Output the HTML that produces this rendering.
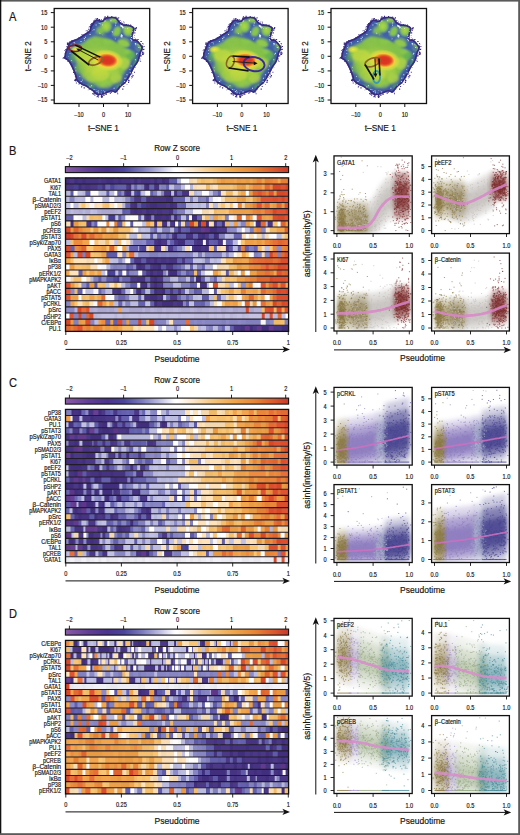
<!DOCTYPE html><html><head><meta charset="utf-8"><style>html,body{margin:0;padding:0;background:#fff;overflow:hidden}svg{display:block}text{font-family:"Liberation Sans",sans-serif;fill:#151515;stroke:#151515;stroke-width:0.18px}</style></head><body>
<svg width="520" height="835" viewBox="0 0 520 835">
<rect width="520" height="835" fill="#fff"/>
<defs>
<clipPath id="bc"><path d="M10.2 48.0C10.5 47.0 10.4 45.2 11.0 43.4C11.6 41.6 13.2 38.5 13.8 37.0C14.4 35.5 14.0 35.1 14.8 34.2C15.6 33.3 17.0 32.6 18.5 31.8C20.0 31.0 22.2 30.5 24.0 29.5C25.8 28.5 27.7 27.0 29.5 25.8C31.3 24.6 33.9 23.4 35.0 22.2C36.1 21.0 35.4 19.9 36.0 18.5C36.6 17.1 37.7 15.1 38.8 13.8C39.9 12.6 41.0 11.3 42.5 11.0C44.0 10.7 46.6 12.3 48.0 12.0C49.4 11.7 49.6 9.8 50.8 9.2C52.0 8.6 53.6 8.4 55.4 8.3C57.2 8.2 60.1 8.0 61.8 8.8C63.5 9.6 64.3 11.8 65.5 13.0C66.7 14.2 67.5 15.1 69.2 15.7C70.9 16.3 73.9 16.0 75.7 16.6C77.5 17.2 79.7 18.2 80.3 19.4C80.9 20.6 79.7 22.1 79.4 24.0C79.1 25.9 77.9 29.3 78.5 30.5C79.1 31.7 81.5 30.3 83.0 31.4C84.5 32.5 86.8 35.5 87.7 37.0C88.6 38.5 88.8 39.4 88.6 40.6C88.4 41.8 87.2 43.1 86.8 44.3C86.3 45.5 86.4 46.5 85.9 48.0C85.4 49.5 84.9 51.7 84.0 53.5C83.1 55.3 81.4 57.1 80.3 59.0C79.2 60.9 78.4 62.9 77.5 64.6C76.6 66.3 75.9 67.5 74.8 69.2C73.7 70.9 72.4 73.2 71.0 74.8C69.6 76.3 68.0 77.0 66.5 78.5C65.0 80.0 63.3 83.2 61.8 84.0C60.2 84.8 58.9 82.8 57.2 83.0C55.5 83.2 53.2 84.5 51.7 85.0C50.2 85.5 49.2 85.6 48.0 85.9C46.8 86.2 45.5 87.0 44.3 86.8C43.1 86.6 41.5 85.6 40.6 85.0C39.7 84.4 40.2 84.1 38.8 83.0C37.4 81.9 34.1 79.6 32.3 78.5C30.4 77.4 29.4 77.7 27.7 76.6C26.0 75.5 23.3 73.4 22.2 72.0C21.1 70.6 21.8 70.1 21.2 68.3C20.6 66.5 19.7 63.6 18.5 61.0C17.3 58.4 15.4 54.5 13.8 52.6C12.2 50.7 9.8 50.2 9.2 49.4C8.6 48.6 9.9 49.0 10.2 48.0Z"/></clipPath>
<filter id="b1" x="-20%" y="-20%" width="140%" height="140%"><feGaussianBlur stdDeviation="1.6"/></filter>
<filter id="b2" x="-50%" y="-50%" width="200%" height="200%"><feGaussianBlur stdDeviation="0.9"/></filter>
<filter id="b3" x="-50%" y="-50%" width="200%" height="200%"><feGaussianBlur stdDeviation="2.5"/></filter>
<radialGradient id="hot"><stop offset="0" stop-color="#d83020"/><stop offset="0.3" stop-color="#e0402a"/><stop offset="0.48" stop-color="#ee862c"/><stop offset="0.62" stop-color="#f4d23a" stop-opacity="0.95"/><stop offset="0.82" stop-color="#dce042" stop-opacity="0.6"/><stop offset="1" stop-color="#c8dc44" stop-opacity="0"/></radialGradient>
<radialGradient id="ylw"><stop offset="0" stop-color="#f4e63c"/><stop offset="0.5" stop-color="#d6e040" stop-opacity="0.8"/><stop offset="1" stop-color="#c0d840" stop-opacity="0"/></radialGradient>
<radialGradient id="yg"><stop offset="0" stop-color="#d4e03c"/><stop offset="0.6" stop-color="#c0d840" stop-opacity="0.7"/><stop offset="1" stop-color="#a0cc46" stop-opacity="0"/></radialGradient>
<g id="blob">
<g clip-path="url(#bc)">
<path d="M10.2 48.0C10.5 47.0 10.4 45.2 11.0 43.4C11.6 41.6 13.2 38.5 13.8 37.0C14.4 35.5 14.0 35.1 14.8 34.2C15.6 33.3 17.0 32.6 18.5 31.8C20.0 31.0 22.2 30.5 24.0 29.5C25.8 28.5 27.7 27.0 29.5 25.8C31.3 24.6 33.9 23.4 35.0 22.2C36.1 21.0 35.4 19.9 36.0 18.5C36.6 17.1 37.7 15.1 38.8 13.8C39.9 12.6 41.0 11.3 42.5 11.0C44.0 10.7 46.6 12.3 48.0 12.0C49.4 11.7 49.6 9.8 50.8 9.2C52.0 8.6 53.6 8.4 55.4 8.3C57.2 8.2 60.1 8.0 61.8 8.8C63.5 9.6 64.3 11.8 65.5 13.0C66.7 14.2 67.5 15.1 69.2 15.7C70.9 16.3 73.9 16.0 75.7 16.6C77.5 17.2 79.7 18.2 80.3 19.4C80.9 20.6 79.7 22.1 79.4 24.0C79.1 25.9 77.9 29.3 78.5 30.5C79.1 31.7 81.5 30.3 83.0 31.4C84.5 32.5 86.8 35.5 87.7 37.0C88.6 38.5 88.8 39.4 88.6 40.6C88.4 41.8 87.2 43.1 86.8 44.3C86.3 45.5 86.4 46.5 85.9 48.0C85.4 49.5 84.9 51.7 84.0 53.5C83.1 55.3 81.4 57.1 80.3 59.0C79.2 60.9 78.4 62.9 77.5 64.6C76.6 66.3 75.9 67.5 74.8 69.2C73.7 70.9 72.4 73.2 71.0 74.8C69.6 76.3 68.0 77.0 66.5 78.5C65.0 80.0 63.3 83.2 61.8 84.0C60.2 84.8 58.9 82.8 57.2 83.0C55.5 83.2 53.2 84.5 51.7 85.0C50.2 85.5 49.2 85.6 48.0 85.9C46.8 86.2 45.5 87.0 44.3 86.8C43.1 86.6 41.5 85.6 40.6 85.0C39.7 84.4 40.2 84.1 38.8 83.0C37.4 81.9 34.1 79.6 32.3 78.5C30.4 77.4 29.4 77.7 27.7 76.6C26.0 75.5 23.3 73.4 22.2 72.0C21.1 70.6 21.8 70.1 21.2 68.3C20.6 66.5 19.7 63.6 18.5 61.0C17.3 58.4 15.4 54.5 13.8 52.6C12.2 50.7 9.8 50.2 9.2 49.4C8.6 48.6 9.9 49.0 10.2 48.0Z" fill="#84c04c" stroke="#3e5ca6" stroke-width="14" filter="url(#b1)"/>
<ellipse cx="30" cy="47" rx="9" ry="6" fill="#c4da42" opacity="0.8" filter="url(#b2)"/>
<ellipse cx="46" cy="66" rx="9" ry="7" fill="#c0d844" opacity="0.7" filter="url(#b2)"/>
<ellipse cx="62" cy="70" rx="6" ry="5" fill="#b4d446" opacity="0.7" filter="url(#b2)"/>
<ellipse cx="70" cy="55" rx="6" ry="6" fill="#b8d646" opacity="0.7" filter="url(#b2)"/>
<ellipse cx="26" cy="60" rx="6" ry="5" fill="#5eae54" opacity="0.7" filter="url(#b2)"/>
<ellipse cx="77" cy="47" rx="5" ry="4" fill="#5cae54" opacity="0.7" filter="url(#b2)"/>
<ellipse cx="36" cy="78" rx="5" ry="3" fill="#5aac56" opacity="0.6" filter="url(#b2)"/>
<ellipse cx="66" cy="78" rx="5" ry="3" fill="#5aac56" opacity="0.6" filter="url(#b2)"/>
<ellipse cx="18" cy="50" rx="3" ry="4" fill="#5aac56" opacity="0.6" filter="url(#b2)"/>
<ellipse cx="82" cy="56" rx="3" ry="6" fill="#5aac56" opacity="0.6" filter="url(#b2)"/>
<ellipse cx="52" cy="76" rx="6" ry="4" fill="#98cc4a" opacity="0.6" filter="url(#b2)"/>
<ellipse cx="40" cy="34" rx="8" ry="4" fill="#8cc44c" opacity="0.6" filter="url(#b2)"/>
<g filter="url(#b2)">
<path d="M46 14 C56 10 70 12 80 20 L82 34 C86 38 88 44 82 44 L72 40 C66 36 60 32 54 30 C50 26 46 20 46 14Z" fill="#3f5ea8"/>
<ellipse cx="59.5" cy="11" rx="4.2" ry="3.2" transform="rotate(0 59.5 11)" fill="#88c64c"/>
<ellipse cx="51.7" cy="17.7" rx="5.4" ry="6.2" transform="rotate(0 51.7 17.7)" fill="#88c64c"/>
<ellipse cx="62.6" cy="23.4" rx="3.6" ry="5.8" transform="rotate(25 62.6 23.4)" fill="#88c64c"/>
<ellipse cx="74" cy="21.8" rx="5.2" ry="5.6" transform="rotate(0 74 21.8)" fill="#88c64c"/>
<ellipse cx="69.8" cy="33.8" rx="6.4" ry="4.0" transform="rotate(20 69.8 33.8)" fill="#88c64c"/>
<ellipse cx="85.4" cy="38.6" rx="3.6" ry="3.6" transform="rotate(0 85.4 38.6)" fill="#88c64c"/>
<ellipse cx="73" cy="43" rx="3" ry="2.5" transform="rotate(0 73 43)" fill="#88c64c"/>
<ellipse cx="53" cy="33" rx="4.5" ry="3.5" transform="rotate(0 53 33)" fill="#88c64c"/>
<ellipse cx="51.7" cy="17.7" rx="2.5" ry="3" transform="rotate(0 51.7 17.7)" fill="#a8d448"/>
<ellipse cx="74" cy="21.8" rx="2.4" ry="2.6" transform="rotate(0 74 21.8)" fill="#a8d448"/>
<ellipse cx="69.8" cy="33.8" rx="3" ry="1.8" transform="rotate(20 69.8 33.8)" fill="#a8d448"/>
</g>
<path d="M66.5 14.5 l2.6 1.6 l-0.4 3.6 l-2.6 -2.2z M66.8 25.5 l1.8 1.2 l-0.6 3 l-1.8 -1.2z M77.5 27 l3.2 1.2 l-1.4 3z M60.5 29 l1.5 1 l-1.2 1.5z M80.5 34.5 l2 1 l-1.5 2z M57.5 22.5 l1.2 0.8 l-0.8 1.2z M45 24 l1.5 .8 l-1 1.2z M48 26 l1.2 .5 l-.6 1z M61 16 l1 .6 l-.8 .8z" fill="#fff" opacity="0.95"/>
<ellipse cx="44" cy="56" rx="26" ry="20" fill="url(#yg)" opacity="0.85" filter="url(#b3)"/>
<path d="M36 24.5 C44 27 54 28.5 62 29.5 C70 30.5 77 34 85 41" fill="none" stroke="#4466aa" stroke-width="3.2" stroke-linecap="round" opacity="0.9" filter="url(#b2)"/>
<ellipse cx="69.8" cy="34.3" rx="5.4" ry="3.3" transform="rotate(20 69.8 34.3)" fill="#90c84c" filter="url(#b2)"/>
<ellipse cx="22" cy="41" rx="7" ry="4" fill="url(#ylw)"/>
<ellipse cx="37" cy="70" rx="5" ry="4" fill="#a8d048" opacity="0.6" filter="url(#b2)"/>
<ellipse cx="60" cy="63" rx="5" ry="4" fill="#a8d048" opacity="0.5" filter="url(#b2)"/>
<ellipse cx="53" cy="51.8" rx="17" ry="11" fill="url(#hot)" transform="rotate(8 53 51.8)"/>
<ellipse cx="54" cy="51.8" rx="7.5" ry="4.6" fill="#da3624" opacity="0.75" filter="url(#b2)"/>
<path d="M10.2 48.0C10.5 47.0 10.4 45.2 11.0 43.4C11.6 41.6 13.2 38.5 13.8 37.0C14.4 35.5 14.0 35.1 14.8 34.2C15.6 33.3 17.0 32.6 18.5 31.8C20.0 31.0 22.2 30.5 24.0 29.5C25.8 28.5 27.7 27.0 29.5 25.8C31.3 24.6 33.9 23.4 35.0 22.2C36.1 21.0 35.4 19.9 36.0 18.5C36.6 17.1 37.7 15.1 38.8 13.8C39.9 12.6 41.0 11.3 42.5 11.0C44.0 10.7 46.6 12.3 48.0 12.0C49.4 11.7 49.6 9.8 50.8 9.2C52.0 8.6 53.6 8.4 55.4 8.3C57.2 8.2 60.1 8.0 61.8 8.8C63.5 9.6 64.3 11.8 65.5 13.0C66.7 14.2 67.5 15.1 69.2 15.7C70.9 16.3 73.9 16.0 75.7 16.6C77.5 17.2 79.7 18.2 80.3 19.4C80.9 20.6 79.7 22.1 79.4 24.0C79.1 25.9 77.9 29.3 78.5 30.5C79.1 31.7 81.5 30.3 83.0 31.4C84.5 32.5 86.8 35.5 87.7 37.0C88.6 38.5 88.8 39.4 88.6 40.6C88.4 41.8 87.2 43.1 86.8 44.3C86.3 45.5 86.4 46.5 85.9 48.0C85.4 49.5 84.9 51.7 84.0 53.5C83.1 55.3 81.4 57.1 80.3 59.0C79.2 60.9 78.4 62.9 77.5 64.6C76.6 66.3 75.9 67.5 74.8 69.2C73.7 70.9 72.4 73.2 71.0 74.8C69.6 76.3 68.0 77.0 66.5 78.5C65.0 80.0 63.3 83.2 61.8 84.0C60.2 84.8 58.9 82.8 57.2 83.0C55.5 83.2 53.2 84.5 51.7 85.0C50.2 85.5 49.2 85.6 48.0 85.9C46.8 86.2 45.5 87.0 44.3 86.8C43.1 86.6 41.5 85.6 40.6 85.0C39.7 84.4 40.2 84.1 38.8 83.0C37.4 81.9 34.1 79.6 32.3 78.5C30.4 77.4 29.4 77.7 27.7 76.6C26.0 75.5 23.3 73.4 22.2 72.0C21.1 70.6 21.8 70.1 21.2 68.3C20.6 66.5 19.7 63.6 18.5 61.0C17.3 58.4 15.4 54.5 13.8 52.6C12.2 50.7 9.8 50.2 9.2 49.4C8.6 48.6 9.9 49.0 10.2 48.0Z" fill="none" stroke="#3a2a82" stroke-width="3.2"/>
</g>
<path d="M67.6 14.7h1.2v1.2h-1.2zM38.2 84.6h1.0v1.0h-1.0zM47.0 88.3h1.2v1.2h-1.2zM48.6 86.5h0.8v0.8h-0.8zM55.0 83.3h0.6v0.6h-0.6zM46.6 10.7h1.0v1.0h-1.0zM13.1 38.1h1.2v1.2h-1.2zM85.6 52.2h0.8v0.8h-0.8zM88.3 41.0h0.8v0.8h-0.8zM75.9 16.1h1.0v1.0h-1.0zM42.8 87.2h0.8v0.8h-0.8zM88.1 34.6h1.0v1.0h-1.0zM34.5 79.9h1.0v1.0h-1.0zM43.7 87.9h1.0v1.0h-1.0zM80.8 19.4h1.2v1.2h-1.2zM26.2 28.4h0.8v0.8h-0.8zM80.4 58.2h0.6v0.6h-0.6zM86.5 47.0h1.0v1.0h-1.0zM60.6 83.4h0.6v0.6h-0.6zM51.6 85.1h1.2v1.2h-1.2zM79.7 22.3h0.6v0.6h-0.6zM86.4 32.4h1.2v1.2h-1.2zM87.3 46.7h0.6v0.6h-0.6zM26.8 78.0h1.0v1.0h-1.0zM79.8 63.3h1.0v1.0h-1.0zM55.6 84.0h1.2v1.2h-1.2zM39.9 84.9h0.8v0.8h-0.8zM16.8 32.5h1.0v1.0h-1.0zM33.6 81.2h0.6v0.6h-0.6zM40.2 86.2h1.0v1.0h-1.0zM73.5 16.0h1.0v1.0h-1.0zM83.5 30.4h1.0v1.0h-1.0zM78.5 29.2h0.6v0.6h-0.6zM41.8 85.4h0.8v0.8h-0.8zM67.3 12.7h0.6v0.6h-0.6zM31.5 22.0h0.8v0.8h-0.8zM76.9 69.7h0.6v0.6h-0.6zM61.3 8.1h0.8v0.8h-0.8zM33.9 20.3h1.0v1.0h-1.0zM43.6 86.7h0.6v0.6h-0.6zM40.3 85.0h1.0v1.0h-1.0zM73.9 71.6h1.2v1.2h-1.2zM42.4 88.0h0.8v0.8h-0.8zM27.4 77.2h0.8v0.8h-0.8zM12.9 34.4h1.0v1.0h-1.0zM50.4 85.4h0.6v0.6h-0.6zM36.0 19.5h0.8v0.8h-0.8zM78.3 62.0h0.6v0.6h-0.6zM45.2 11.4h0.6v0.6h-0.6zM17.2 31.5h1.0v1.0h-1.0zM35.9 15.7h1.2v1.2h-1.2zM16.1 33.3h0.6v0.6h-0.6zM38.5 15.1h1.2v1.2h-1.2zM17.4 32.3h1.2v1.2h-1.2zM15.1 32.5h0.6v0.6h-0.6zM14.2 36.7h0.6v0.6h-0.6zM8.4 49.3h1.0v1.0h-1.0zM44.2 10.9h1.2v1.2h-1.2zM70.7 15.5h0.6v0.6h-0.6zM37.0 14.6h1.2v1.2h-1.2zM27.4 27.6h1.2v1.2h-1.2zM85.8 46.7h1.2v1.2h-1.2zM15.4 33.0h1.0v1.0h-1.0zM81.1 59.0h0.6v0.6h-0.6zM78.7 18.8h1.2v1.2h-1.2zM64.0 8.8h1.0v1.0h-1.0zM87.9 44.1h1.0v1.0h-1.0zM35.3 17.4h1.2v1.2h-1.2zM20.6 67.7h0.6v0.6h-0.6zM39.1 84.3h0.8v0.8h-0.8zM56.7 83.0h1.2v1.2h-1.2zM50.3 9.3h0.6v0.6h-0.6zM12.1 37.7h1.0v1.0h-1.0zM13.8 33.9h0.8v0.8h-0.8zM32.7 24.0h0.6v0.6h-0.6zM46.7 87.2h0.6v0.6h-0.6zM21.1 71.8h1.2v1.2h-1.2zM71.9 15.6h1.0v1.0h-1.0zM46.5 86.0h0.8v0.8h-0.8zM44.6 10.4h1.2v1.2h-1.2zM40.7 10.1h0.8v0.8h-0.8zM42.7 9.6h1.2v1.2h-1.2zM36.7 17.2h1.0v1.0h-1.0zM65.3 11.5h1.0v1.0h-1.0zM18.8 63.4h1.0v1.0h-1.0zM10.1 41.5h0.8v0.8h-0.8zM49.6 10.3h1.2v1.2h-1.2zM40.0 11.3h0.8v0.8h-0.8zM47.8 88.1h0.6v0.6h-0.6zM86.3 52.6h0.6v0.6h-0.6zM72.5 75.8h0.6v0.6h-0.6zM69.6 14.0h0.8v0.8h-0.8zM49.7 8.9h0.6v0.6h-0.6zM70.1 16.2h0.8v0.8h-0.8zM24.5 28.9h1.0v1.0h-1.0zM13.1 35.7h1.0v1.0h-1.0zM9.8 47.9h1.2v1.2h-1.2zM20.0 71.2h1.2v1.2h-1.2zM37.6 16.1h1.0v1.0h-1.0zM22.3 30.4h1.0v1.0h-1.0zM87.9 43.1h1.2v1.2h-1.2zM80.7 21.6h1.0v1.0h-1.0zM32.4 21.4h0.6v0.6h-0.6zM88.0 37.1h0.8v0.8h-0.8zM20.6 70.4h0.8v0.8h-0.8zM88.3 43.8h0.6v0.6h-0.6zM41.9 10.0h1.2v1.2h-1.2zM46.9 86.2h1.2v1.2h-1.2zM79.9 28.4h0.6v0.6h-0.6zM49.6 86.1h0.6v0.6h-0.6zM76.7 17.6h0.8v0.8h-0.8zM14.1 35.6h1.0v1.0h-1.0zM77.3 68.1h1.0v1.0h-1.0zM62.5 83.0h1.0v1.0h-1.0zM40.5 84.6h0.6v0.6h-0.6zM42.5 87.5h0.8v0.8h-0.8zM39.0 85.5h0.8v0.8h-0.8zM49.7 86.5h0.8v0.8h-0.8zM81.5 18.4h1.2v1.2h-1.2zM88.5 45.4h1.0v1.0h-1.0zM24.3 75.0h1.0v1.0h-1.0zM70.9 74.9h0.6v0.6h-0.6zM33.0 22.0h1.2v1.2h-1.2zM49.4 9.8h0.8v0.8h-0.8zM12.7 34.1h1.2v1.2h-1.2zM34.5 18.3h0.8v0.8h-0.8zM37.4 16.5h0.6v0.6h-0.6zM64.0 10.1h0.6v0.6h-0.6zM86.2 32.6h0.8v0.8h-0.8zM27.9 25.6h0.6v0.6h-0.6zM87.7 37.0h0.6v0.6h-0.6zM52.9 7.3h1.2v1.2h-1.2zM78.7 30.8h0.6v0.6h-0.6zM44.5 10.6h0.6v0.6h-0.6zM48.5 85.8h1.2v1.2h-1.2zM80.0 23.7h1.2v1.2h-1.2zM14.1 34.8h1.0v1.0h-1.0zM76.9 67.7h0.8v0.8h-0.8zM10.6 44.3h1.0v1.0h-1.0zM51.0 85.2h0.8v0.8h-0.8zM39.9 84.1h0.6v0.6h-0.6zM36.3 18.0h1.2v1.2h-1.2zM85.6 50.5h0.6v0.6h-0.6zM67.3 13.6h0.6v0.6h-0.6zM62.9 9.3h0.8v0.8h-0.8zM35.4 21.1h0.6v0.6h-0.6zM81.3 19.6h1.2v1.2h-1.2zM79.8 26.6h0.6v0.6h-0.6zM87.6 38.2h1.2v1.2h-1.2zM27.6 27.6h0.6v0.6h-0.6zM18.1 60.2h0.6v0.6h-0.6zM21.4 70.4h1.2v1.2h-1.2zM88.7 35.4h0.6v0.6h-0.6zM87.7 45.4h1.2v1.2h-1.2zM50.4 9.8h1.2v1.2h-1.2zM46.6 87.5h1.2v1.2h-1.2zM50.3 7.8h1.2v1.2h-1.2zM89.0 40.3h1.2v1.2h-1.2zM78.2 66.6h1.2v1.2h-1.2zM87.9 38.0h1.2v1.2h-1.2zM39.0 11.9h1.2v1.2h-1.2zM27.2 25.8h0.6v0.6h-0.6zM81.1 29.9h0.6v0.6h-0.6zM77.7 67.9h1.0v1.0h-1.0zM88.6 40.6h0.6v0.6h-0.6zM85.5 34.6h0.6v0.6h-0.6zM69.1 13.0h0.8v0.8h-0.8zM38.9 82.8h1.0v1.0h-1.0zM57.0 7.4h1.2v1.2h-1.2zM82.9 30.8h0.8v0.8h-0.8zM73.9 70.0h0.6v0.6h-0.6zM38.0 84.9h0.8v0.8h-0.8zM24.1 28.8h0.6v0.6h-0.6zM20.7 71.0h1.0v1.0h-1.0zM85.4 51.4h0.6v0.6h-0.6zM75.3 68.4h0.6v0.6h-0.6zM74.5 71.8h1.0v1.0h-1.0zM89.4 37.4h1.0v1.0h-1.0zM21.8 30.4h1.0v1.0h-1.0zM15.4 33.2h0.6v0.6h-0.6zM70.6 15.9h0.8v0.8h-0.8zM29.4 78.8h1.2v1.2h-1.2zM88.8 44.0h1.2v1.2h-1.2zM68.0 80.0h1.2v1.2h-1.2zM79.1 24.1h0.6v0.6h-0.6zM12.7 38.7h0.6v0.6h-0.6zM25.1 74.4h0.8v0.8h-0.8zM12.7 35.6h1.0v1.0h-1.0zM39.1 13.2h1.2v1.2h-1.2zM77.2 64.9h1.0v1.0h-1.0zM87.6 44.1h1.2v1.2h-1.2zM69.1 77.6h1.0v1.0h-1.0zM80.6 20.2h1.0v1.0h-1.0zM69.4 14.7h0.6v0.6h-0.6zM37.8 15.6h0.6v0.6h-0.6zM47.8 12.4h1.2v1.2h-1.2zM47.9 85.9h0.6v0.6h-0.6zM78.0 17.5h0.6v0.6h-0.6zM35.3 80.3h1.0v1.0h-1.0zM64.6 81.0h0.6v0.6h-0.6zM11.0 40.5h0.8v0.8h-0.8zM43.4 86.2h1.2v1.2h-1.2zM47.5 85.6h0.6v0.6h-0.6zM12.7 40.3h1.2v1.2h-1.2zM73.8 73.3h1.2v1.2h-1.2zM44.2 11.6h0.8v0.8h-0.8zM47.5 87.6h1.2v1.2h-1.2zM73.9 70.9h1.0v1.0h-1.0zM43.0 87.1h1.2v1.2h-1.2zM63.0 84.8h1.0v1.0h-1.0zM10.8 41.2h0.6v0.6h-0.6zM9.7 48.4h1.2v1.2h-1.2zM21.3 67.5h1.2v1.2h-1.2zM21.5 70.6h1.0v1.0h-1.0zM85.5 49.8h0.6v0.6h-0.6zM80.4 30.5h1.0v1.0h-1.0zM13.8 36.6h0.6v0.6h-0.6zM28.0 27.0h0.6v0.6h-0.6zM21.7 74.1h1.0v1.0h-1.0zM13.3 52.4h1.2v1.2h-1.2z" fill="#3a2a82"/>
<path d="M66.2 17.3h0.6v0.6h-0.6zM48.8 81.5h0.6v0.6h-0.6zM16.1 38.7h0.8v0.8h-0.8zM73.1 19.4h0.8v0.8h-0.8zM35.3 78.1h1.0v1.0h-1.0zM29.9 31.2h0.8v0.8h-0.8zM59.4 79.2h1.0v1.0h-1.0zM80.9 34.5h1.0v1.0h-1.0zM75.3 60.7h0.8v0.8h-0.8zM19.9 33.8h0.8v0.8h-0.8zM70.6 19.8h0.6v0.6h-0.6zM42.4 82.6h0.8v0.8h-0.8zM72.3 65.7h1.0v1.0h-1.0zM44.0 83.9h0.8v0.8h-0.8zM43.6 81.7h0.8v0.8h-0.8zM50.4 82.9h0.8v0.8h-0.8zM45.8 14.9h0.8v0.8h-0.8zM20.3 34.9h0.8v0.8h-0.8zM18.8 33.9h0.6v0.6h-0.6zM44.8 14.5h0.8v0.8h-0.8zM29.6 29.4h1.0v1.0h-1.0zM76.5 57.1h1.0v1.0h-1.0zM82.2 44.4h1.0v1.0h-1.0zM40.1 81.0h0.6v0.6h-0.6zM16.5 38.7h0.6v0.6h-0.6zM47.2 81.9h0.6v0.6h-0.6zM46.6 84.2h0.8v0.8h-0.8zM43.7 14.3h0.6v0.6h-0.6zM21.3 62.0h0.8v0.8h-0.8zM41.4 16.1h1.0v1.0h-1.0zM70.1 72.6h0.8v0.8h-0.8zM68.2 19.0h1.0v1.0h-1.0zM13.8 47.7h0.6v0.6h-0.6zM26.3 32.6h1.0v1.0h-1.0zM35.4 25.5h1.0v1.0h-1.0zM82.3 44.2h1.0v1.0h-1.0zM76.3 30.6h1.0v1.0h-1.0zM16.6 36.3h0.8v0.8h-0.8zM41.5 80.5h0.6v0.6h-0.6zM49.8 83.1h0.8v0.8h-0.8zM26.5 72.6h1.0v1.0h-1.0zM49.5 13.2h0.6v0.6h-0.6zM39.3 20.8h1.0v1.0h-1.0zM30.8 28.3h1.0v1.0h-1.0zM76.8 31.8h1.0v1.0h-1.0zM76.4 26.4h0.8v0.8h-0.8zM15.4 44.5h0.8v0.8h-0.8zM38.3 22.0h0.6v0.6h-0.6zM61.2 14.1h1.0v1.0h-1.0zM76.8 28.6h1.0v1.0h-1.0zM21.3 58.8h0.6v0.6h-0.6zM81.8 45.5h0.8v0.8h-0.8zM50.3 12.1h1.0v1.0h-1.0zM85.8 38.4h0.6v0.6h-0.6zM77.5 31.8h0.6v0.6h-0.6zM83.3 35.4h0.6v0.6h-0.6zM56.2 11.8h1.0v1.0h-1.0zM39.3 80.8h0.8v0.8h-0.8zM80.7 50.7h1.0v1.0h-1.0zM84.2 38.5h1.0v1.0h-1.0zM69.0 18.2h1.0v1.0h-1.0zM66.0 76.3h0.6v0.6h-0.6zM27.9 71.3h0.8v0.8h-0.8zM75.6 63.8h1.0v1.0h-1.0zM78.1 22.4h0.8v0.8h-0.8zM48.0 15.9h0.8v0.8h-0.8zM36.9 76.7h1.0v1.0h-1.0zM44.0 82.9h0.8v0.8h-0.8zM70.3 69.2h1.0v1.0h-1.0zM72.3 69.2h0.6v0.6h-0.6zM15.4 41.8h0.8v0.8h-0.8zM25.2 67.5h0.8v0.8h-0.8zM17.3 37.5h0.6v0.6h-0.6zM17.0 51.8h0.8v0.8h-0.8z" fill="#fff" opacity="0.85"/>
</g>
</defs>
<use href="#blob" x="54.2" y="8.5"/>
<rect x="54.2" y="8.5" width="95.5" height="95" fill="none" stroke="#111" stroke-width="1.3"/>
<line x1="50.800000000000004" y1="12.6" x2="54.2" y2="12.6" stroke="#111" stroke-width="1"/>
<text transform="translate(47.3 15.0) scale(0.8 1)" font-size="7.0" text-anchor="end" >15</text>
<line x1="50.800000000000004" y1="27.2" x2="54.2" y2="27.2" stroke="#111" stroke-width="1"/>
<text transform="translate(47.3 29.6) scale(0.8 1)" font-size="7.0" text-anchor="end" >10</text>
<line x1="50.800000000000004" y1="41.8" x2="54.2" y2="41.8" stroke="#111" stroke-width="1"/>
<text transform="translate(47.3 44.2) scale(0.8 1)" font-size="7.0" text-anchor="end" >5</text>
<line x1="50.800000000000004" y1="56.3" x2="54.2" y2="56.3" stroke="#111" stroke-width="1"/>
<text transform="translate(47.3 58.7) scale(0.8 1)" font-size="7.0" text-anchor="end" >0</text>
<line x1="50.800000000000004" y1="70.9" x2="54.2" y2="70.9" stroke="#111" stroke-width="1"/>
<text transform="translate(47.3 73.3) scale(0.8 1)" font-size="7.0" text-anchor="end" >&#8211;5</text>
<line x1="50.800000000000004" y1="85.4" x2="54.2" y2="85.4" stroke="#111" stroke-width="1"/>
<text transform="translate(47.3 87.8) scale(0.8 1)" font-size="7.0" text-anchor="end" >&#8211;10</text>
<line x1="50.800000000000004" y1="100" x2="54.2" y2="100" stroke="#111" stroke-width="1"/>
<text transform="translate(47.3 102.4) scale(0.8 1)" font-size="7.0" text-anchor="end" >&#8211;15</text>
<line x1="79.0" y1="103.5" x2="79.0" y2="107.0" stroke="#111" stroke-width="1"/>
<text transform="translate(79.0 116.8) scale(0.8 1)" font-size="7.0" text-anchor="middle" >&#8211;10</text>
<line x1="103.5" y1="103.5" x2="103.5" y2="107.0" stroke="#111" stroke-width="1"/>
<text transform="translate(103.5 116.8) scale(0.8 1)" font-size="7.0" text-anchor="middle" >0</text>
<line x1="128.0" y1="103.5" x2="128.0" y2="107.0" stroke="#111" stroke-width="1"/>
<text transform="translate(128.0 116.8) scale(0.8 1)" font-size="7.0" text-anchor="middle" >10</text>
<text x="103.5" y="130.6" font-size="9" text-anchor="middle" textLength="31" lengthAdjust="spacingAndGlyphs">t&#8211;SNE 1</text>
<text x="31.300000000000004" y="56.3" font-size="9" text-anchor="middle" transform="rotate(-90 31.300000000000004 56.3)" textLength="30" lengthAdjust="spacingAndGlyphs">t&#8211;SNE 2</text>
<use href="#blob" x="192.6" y="8.5"/>
<rect x="192.6" y="8.5" width="95.5" height="95" fill="none" stroke="#111" stroke-width="1.3"/>
<line x1="189.2" y1="12.6" x2="192.6" y2="12.6" stroke="#111" stroke-width="1"/>
<text transform="translate(185.7 15.0) scale(0.8 1)" font-size="7.0" text-anchor="end" >15</text>
<line x1="189.2" y1="27.2" x2="192.6" y2="27.2" stroke="#111" stroke-width="1"/>
<text transform="translate(185.7 29.6) scale(0.8 1)" font-size="7.0" text-anchor="end" >10</text>
<line x1="189.2" y1="41.8" x2="192.6" y2="41.8" stroke="#111" stroke-width="1"/>
<text transform="translate(185.7 44.2) scale(0.8 1)" font-size="7.0" text-anchor="end" >5</text>
<line x1="189.2" y1="56.3" x2="192.6" y2="56.3" stroke="#111" stroke-width="1"/>
<text transform="translate(185.7 58.7) scale(0.8 1)" font-size="7.0" text-anchor="end" >0</text>
<line x1="189.2" y1="70.9" x2="192.6" y2="70.9" stroke="#111" stroke-width="1"/>
<text transform="translate(185.7 73.3) scale(0.8 1)" font-size="7.0" text-anchor="end" >&#8211;5</text>
<line x1="189.2" y1="85.4" x2="192.6" y2="85.4" stroke="#111" stroke-width="1"/>
<text transform="translate(185.7 87.8) scale(0.8 1)" font-size="7.0" text-anchor="end" >&#8211;10</text>
<line x1="189.2" y1="100" x2="192.6" y2="100" stroke="#111" stroke-width="1"/>
<text transform="translate(185.7 102.4) scale(0.8 1)" font-size="7.0" text-anchor="end" >&#8211;15</text>
<line x1="217.4" y1="103.5" x2="217.4" y2="107.0" stroke="#111" stroke-width="1"/>
<text transform="translate(217.4 116.8) scale(0.8 1)" font-size="7.0" text-anchor="middle" >&#8211;10</text>
<line x1="241.89999999999998" y1="103.5" x2="241.89999999999998" y2="107.0" stroke="#111" stroke-width="1"/>
<text transform="translate(241.9 116.8) scale(0.8 1)" font-size="7.0" text-anchor="middle" >0</text>
<line x1="266.4" y1="103.5" x2="266.4" y2="107.0" stroke="#111" stroke-width="1"/>
<text transform="translate(266.4 116.8) scale(0.8 1)" font-size="7.0" text-anchor="middle" >10</text>
<text x="241.89999999999998" y="130.6" font-size="9" text-anchor="middle" textLength="31" lengthAdjust="spacingAndGlyphs">t&#8211;SNE 1</text>
<text x="169.7" y="56.3" font-size="9" text-anchor="middle" transform="rotate(-90 169.7 56.3)" textLength="30" lengthAdjust="spacingAndGlyphs">t&#8211;SNE 2</text>
<use href="#blob" x="331.0" y="8.5"/>
<rect x="331.0" y="8.5" width="95.5" height="95" fill="none" stroke="#111" stroke-width="1.3"/>
<line x1="327.6" y1="12.6" x2="331.0" y2="12.6" stroke="#111" stroke-width="1"/>
<text transform="translate(324.1 15.0) scale(0.8 1)" font-size="7.0" text-anchor="end" >15</text>
<line x1="327.6" y1="27.2" x2="331.0" y2="27.2" stroke="#111" stroke-width="1"/>
<text transform="translate(324.1 29.6) scale(0.8 1)" font-size="7.0" text-anchor="end" >10</text>
<line x1="327.6" y1="41.8" x2="331.0" y2="41.8" stroke="#111" stroke-width="1"/>
<text transform="translate(324.1 44.2) scale(0.8 1)" font-size="7.0" text-anchor="end" >5</text>
<line x1="327.6" y1="56.3" x2="331.0" y2="56.3" stroke="#111" stroke-width="1"/>
<text transform="translate(324.1 58.7) scale(0.8 1)" font-size="7.0" text-anchor="end" >0</text>
<line x1="327.6" y1="70.9" x2="331.0" y2="70.9" stroke="#111" stroke-width="1"/>
<text transform="translate(324.1 73.3) scale(0.8 1)" font-size="7.0" text-anchor="end" >&#8211;5</text>
<line x1="327.6" y1="85.4" x2="331.0" y2="85.4" stroke="#111" stroke-width="1"/>
<text transform="translate(324.1 87.8) scale(0.8 1)" font-size="7.0" text-anchor="end" >&#8211;10</text>
<line x1="327.6" y1="100" x2="331.0" y2="100" stroke="#111" stroke-width="1"/>
<text transform="translate(324.1 102.4) scale(0.8 1)" font-size="7.0" text-anchor="end" >&#8211;15</text>
<line x1="355.8" y1="103.5" x2="355.8" y2="107.0" stroke="#111" stroke-width="1"/>
<text transform="translate(355.8 116.8) scale(0.8 1)" font-size="7.0" text-anchor="middle" >&#8211;10</text>
<line x1="380.3" y1="103.5" x2="380.3" y2="107.0" stroke="#111" stroke-width="1"/>
<text transform="translate(380.3 116.8) scale(0.8 1)" font-size="7.0" text-anchor="middle" >0</text>
<line x1="404.8" y1="103.5" x2="404.8" y2="107.0" stroke="#111" stroke-width="1"/>
<text transform="translate(404.8 116.8) scale(0.8 1)" font-size="7.0" text-anchor="middle" >10</text>
<text x="380.3" y="130.6" font-size="9" text-anchor="middle" textLength="31" lengthAdjust="spacingAndGlyphs">t&#8211;SNE 1</text>
<text x="308.1" y="56.3" font-size="9" text-anchor="middle" transform="rotate(-90 308.1 56.3)" textLength="30" lengthAdjust="spacingAndGlyphs">t&#8211;SNE 2</text>
<text transform="translate(8.9 20.6) scale(0.84 1)" font-size="13.2" text-anchor="start" >A</text>
<g transform="translate(54.2 8.5)"><ellipse cx="21" cy="39.8" rx="6.4" ry="3.2" fill="none" stroke="#8a1e1e" stroke-width="1.7"/><ellipse cx="41.5" cy="52.4" rx="7.4" ry="3.6" transform="rotate(-22 41.5 52.4)" fill="none" stroke="#8a6420" stroke-width="1.8"/><path d="M21 36.6 L46 48.6 M17 42.5 L35 56.5" stroke="#111" stroke-width="1.6" fill="none"/><path d="M44 51.5 L24 41" stroke="#111" stroke-width="0.9"/><path d="M22 40 l4 0.2 l-1.6 2.6z" fill="#111"/></g>
<g transform="translate(192.6 8.5)"><ellipse cx="37.8" cy="53.5" rx="3.6" ry="6" transform="rotate(20 37.8 53.5)" fill="none" stroke="#8a6420" stroke-width="1.7"/><ellipse cx="61.5" cy="55.6" rx="10.5" ry="7" transform="rotate(10 61.5 55.6)" fill="none" stroke="#3a2a9a" stroke-width="1.9"/><path d="M40 47.5 L57 48.6 M36 59.5 L56 62.4" stroke="#111" stroke-width="1.6" fill="none"/><path d="M40 53 L62 54.6" stroke="#222" stroke-width="1"/><path d="M65 54.8 l-4 -2 l0.2 4z" fill="#111"/></g>
<g transform="translate(331.0 8.5)"><ellipse cx="41.5" cy="53.8" rx="8" ry="4" transform="rotate(-20 41.5 53.8)" fill="none" stroke="#8a6420" stroke-width="1.7"/><ellipse cx="45.5" cy="68.5" rx="3.6" ry="6" fill="none" stroke="#3a9ab4" stroke-width="1.8"/><path d="M34 56 L43 71 M48 50 L49 67" stroke="#111" stroke-width="1.6" fill="none"/><path d="M44 50 L44.5 66" stroke="#111" stroke-width="1"/><path d="M44.5 69 l-2 -4 l4 0z" fill="#111"/></g>
<defs><linearGradient id="cbg"><stop offset="0.000" stop-color="#8a5ba6"/><stop offset="0.013" stop-color="#8558a4"/><stop offset="0.025" stop-color="#8054a2"/><stop offset="0.037" stop-color="#7b50a0"/><stop offset="0.050" stop-color="#764d9e"/><stop offset="0.062" stop-color="#714a9c"/><stop offset="0.075" stop-color="#6c469a"/><stop offset="0.088" stop-color="#674298"/><stop offset="0.100" stop-color="#623f96"/><stop offset="0.112" stop-color="#5f3d95"/><stop offset="0.125" stop-color="#5b3c94"/><stop offset="0.138" stop-color="#583a93"/><stop offset="0.150" stop-color="#543891"/><stop offset="0.162" stop-color="#513690"/><stop offset="0.175" stop-color="#4d358f"/><stop offset="0.188" stop-color="#4a338e"/><stop offset="0.200" stop-color="#4a3690"/><stop offset="0.213" stop-color="#4a3993"/><stop offset="0.225" stop-color="#4a3b95"/><stop offset="0.237" stop-color="#4a3e97"/><stop offset="0.250" stop-color="#4a419a"/><stop offset="0.263" stop-color="#4a449c"/><stop offset="0.275" stop-color="#524da1"/><stop offset="0.287" stop-color="#5955a6"/><stop offset="0.300" stop-color="#615eab"/><stop offset="0.312" stop-color="#6966b1"/><stop offset="0.325" stop-color="#716fb6"/><stop offset="0.338" stop-color="#7877bb"/><stop offset="0.350" stop-color="#8080c0"/><stop offset="0.362" stop-color="#8b8bc6"/><stop offset="0.375" stop-color="#9595cb"/><stop offset="0.388" stop-color="#a0a0d1"/><stop offset="0.400" stop-color="#ababd7"/><stop offset="0.412" stop-color="#b5b5dc"/><stop offset="0.425" stop-color="#c0c0e2"/><stop offset="0.438" stop-color="#cccce8"/><stop offset="0.450" stop-color="#d8d8ed"/><stop offset="0.463" stop-color="#e4e4f3"/><stop offset="0.475" stop-color="#f0f0f8"/><stop offset="0.487" stop-color="#fcfcfe"/><stop offset="0.500" stop-color="#ffffff"/><stop offset="0.512" stop-color="#fefbf6"/><stop offset="0.525" stop-color="#fef7ed"/><stop offset="0.537" stop-color="#fdf2e4"/><stop offset="0.550" stop-color="#fceeda"/><stop offset="0.562" stop-color="#fcead1"/><stop offset="0.575" stop-color="#fbe6c8"/><stop offset="0.588" stop-color="#fae1bd"/><stop offset="0.600" stop-color="#f9dcb2"/><stop offset="0.613" stop-color="#f8d8a6"/><stop offset="0.625" stop-color="#f8d39b"/><stop offset="0.637" stop-color="#f7ce90"/><stop offset="0.650" stop-color="#f6c985"/><stop offset="0.662" stop-color="#f5c57e"/><stop offset="0.675" stop-color="#f4c177"/><stop offset="0.688" stop-color="#f3bd70"/><stop offset="0.700" stop-color="#f2b86a"/><stop offset="0.713" stop-color="#f2b463"/><stop offset="0.725" stop-color="#f1b05c"/><stop offset="0.738" stop-color="#f0ac55"/><stop offset="0.750" stop-color="#efa84e"/><stop offset="0.762" stop-color="#eea44b"/><stop offset="0.775" stop-color="#ed9f48"/><stop offset="0.787" stop-color="#ec9b45"/><stop offset="0.800" stop-color="#ea9642"/><stop offset="0.812" stop-color="#e9923f"/><stop offset="0.825" stop-color="#e88e3c"/><stop offset="0.838" stop-color="#e78939"/><stop offset="0.850" stop-color="#e68536"/><stop offset="0.863" stop-color="#e47e35"/><stop offset="0.875" stop-color="#e37833"/><stop offset="0.887" stop-color="#e17132"/><stop offset="0.900" stop-color="#df6b31"/><stop offset="0.912" stop-color="#de642f"/><stop offset="0.925" stop-color="#dc5e2e"/><stop offset="0.938" stop-color="#d9582e"/><stop offset="0.950" stop-color="#d6522d"/><stop offset="0.963" stop-color="#d24b2c"/><stop offset="0.975" stop-color="#cf452c"/><stop offset="0.988" stop-color="#cc3f2c"/><stop offset="1.000" stop-color="#c9392b"/></linearGradient></defs>
<text transform="translate(8.9 155.4) scale(0.84 1)" font-size="13.2" text-anchor="start" >B</text>
<rect x="65.4" y="166.6" width="223.2" height="6.0" fill="url(#cbg)" stroke="#111" stroke-width="1.1"/>
<line x1="69.4" y1="163.2" x2="69.4" y2="166.6" stroke="#111" stroke-width="0.9"/>
<text transform="translate(69.4 159.8) scale(0.8 1)" font-size="7.0" text-anchor="middle" >&#8211;2</text>
<line x1="123.6" y1="163.2" x2="123.6" y2="166.6" stroke="#111" stroke-width="0.9"/>
<text transform="translate(123.6 159.8) scale(0.8 1)" font-size="7.0" text-anchor="middle" >&#8211;1</text>
<line x1="177.5" y1="163.2" x2="177.5" y2="166.6" stroke="#111" stroke-width="0.9"/>
<text transform="translate(177.5 159.8) scale(0.8 1)" font-size="7.0" text-anchor="middle" >0</text>
<line x1="231.5" y1="163.2" x2="231.5" y2="166.6" stroke="#111" stroke-width="0.9"/>
<text transform="translate(231.5 159.8) scale(0.8 1)" font-size="7.0" text-anchor="middle" >1</text>
<line x1="285.7" y1="163.2" x2="285.7" y2="166.6" stroke="#111" stroke-width="0.9"/>
<text transform="translate(285.7 159.8) scale(0.8 1)" font-size="7.0" text-anchor="middle" >2</text>
<text x="177.1" y="151.2" font-size="9" text-anchor="middle" textLength="45.8" lengthAdjust="spacingAndGlyphs">Row Z score</text>
<path stroke="#412f7d" stroke-width="6.24" d="M65.5 180.97h5.0M73.5 180.97h5.0M81.4 180.97h5.0M105.3 180.97h9.0M117.3 180.97h5.0M133.2 180.97h5.0M153.1 180.97h5.0M161.1 180.97h5.0M77.5 187.11h5.0M145.2 187.11h5.0M125.3 193.25h5.0M169.1 193.25h3.0M165.1 199.39h9.0M133.2 205.53h5.0M149.2 205.53h9.0M169.1 205.53h5.0M133.2 211.67h5.0M145.2 211.67h5.0M145.2 217.81h5.0M153.1 217.81h9.0M165.1 217.81h5.0M173.1 217.81h5.0M191.0 217.81h7.0M69.5 223.95h5.0M173.1 223.95h3.0M197.0 223.95h5.0M204.9 223.95h5.0M256.7 223.95h5.0M208.9 230.09h9.0M224.9 230.09h3.0M173.1 236.23h5.0M201.0 236.23h5.0M212.9 236.23h5.0M157.1 242.37h5.0M177.1 242.37h9.0M201.0 242.37h3.0M167.1 248.51h3.0M193.0 248.51h9.0M153.1 260.79h5.0M137.2 266.93h5.0M157.1 266.93h5.0M149.2 273.07h5.0M169.1 273.07h9.0M153.1 279.21h5.0M195.0 279.21h7.0M145.2 285.35h3.0M153.1 285.35h5.0M161.1 285.35h3.0M111.3 291.49h3.0M137.2 291.49h5.0M153.1 291.49h5.0M161.1 291.49h5.0M149.2 297.63h9.0M153.1 303.77h5.0M161.1 303.77h13.0M248.8 328.33h5.0M260.7 328.33h9.0M280.6 328.33h8.0"/>
<path stroke="#4b3987" stroke-width="6.24" d="M69.5 180.97h5.0M97.4 180.97h5.0M129.2 180.97h5.0M137.2 180.97h5.0M149.2 180.97h5.0M157.1 180.97h5.0M65.5 187.11h9.0M81.4 187.11h5.0M89.4 187.11h9.0M125.3 187.11h5.0M123.3 193.25h3.0M163.1 193.25h7.0M133.2 199.39h9.0M149.2 199.39h5.0M165.1 205.53h5.0M141.2 211.67h5.0M153.1 211.67h5.0M161.1 211.67h9.0M143.2 217.81h3.0M169.1 217.81h3.0M85.4 223.95h7.0M169.1 223.95h5.0M212.9 223.95h5.0M266.7 223.95h7.0M189.0 230.09h13.0M216.9 230.09h9.0M171.1 236.23h3.0M204.9 236.23h5.0M161.1 242.37h7.0M173.1 242.37h5.0M193.0 242.37h5.0M216.9 242.37h7.0M157.1 248.51h5.0M169.1 248.51h5.0M191.0 248.51h3.0M201.0 248.51h5.0M224.9 248.51h5.0M133.2 260.79h9.0M149.2 260.79h5.0M157.1 260.79h5.0M165.1 260.79h5.0M181.0 260.79h5.0M149.2 266.93h5.0M165.1 266.93h9.0M145.2 273.07h5.0M153.1 273.07h5.0M129.2 279.21h9.0M157.1 279.21h7.0M139.2 285.35h3.0M149.2 285.35h5.0M157.1 285.35h5.0M199.0 285.35h3.0M204.9 285.35h3.0M113.3 291.49h5.0M169.1 291.49h5.0M177.1 291.49h5.0M143.2 297.63h3.0M157.1 297.63h5.0M169.1 297.63h9.0M157.1 303.77h5.0M173.1 303.77h5.0M181.0 303.77h3.0M232.8 328.33h9.0M252.7 328.33h5.0M272.7 328.33h9.0"/>
<path stroke="#463482" stroke-width="6.24" d="M77.5 180.97h5.0M85.4 180.97h13.0M101.4 180.97h5.0M113.3 180.97h5.0M121.3 180.97h9.0M141.2 180.97h9.0M165.1 180.97h5.0M85.4 187.11h5.0M101.4 187.11h5.0M129.2 187.11h3.0M143.2 187.11h3.0M153.1 187.11h7.0M129.2 193.25h3.0M173.1 193.25h5.0M181.0 193.25h9.0M145.2 199.39h5.0M153.1 199.39h13.0M129.2 205.53h5.0M145.2 205.53h5.0M157.1 205.53h9.0M173.1 205.53h5.0M129.2 211.67h5.0M137.2 211.67h5.0M149.2 211.67h5.0M157.1 211.67h5.0M169.1 211.67h5.0M149.2 217.81h3.0M161.1 217.81h5.0M153.1 223.95h5.0M161.1 223.95h7.0M220.9 223.95h5.0M254.7 223.95h3.0M177.1 230.09h5.0M185.0 236.23h9.0M197.0 236.23h5.0M216.9 236.23h3.0M153.1 242.37h5.0M197.0 242.37h5.0M204.9 242.37h5.0M153.1 248.51h5.0M204.9 248.51h5.0M145.2 260.79h5.0M161.1 260.79h5.0M169.1 260.79h9.0M135.2 266.93h3.0M141.2 266.93h5.0M153.1 266.93h5.0M157.1 273.07h7.0M167.1 273.07h3.0M137.2 279.21h9.0M149.2 279.21h5.0M141.2 285.35h5.0M201.0 285.35h5.0M117.3 291.49h5.0M135.2 291.49h3.0M157.1 291.49h5.0M145.2 297.63h5.0M161.1 297.63h3.0M177.1 303.77h5.0M240.8 328.33h5.0"/>
<path stroke="#5f5ba9" stroke-width="6.24" d="M169.1 180.97h9.0M113.3 187.11h5.0M69.5 193.25h5.0M137.2 205.53h5.0M121.3 211.67h5.0M69.5 217.81h5.0M117.3 217.81h5.0M177.1 217.81h5.0M185.0 217.81h5.0M129.2 223.95h5.0M177.1 223.95h5.0M173.1 230.09h5.0M185.0 230.09h5.0M149.2 236.23h5.0M177.1 236.23h5.0M208.9 236.23h5.0M212.9 242.37h5.0M212.9 248.51h5.0M228.8 248.51h5.0M236.8 248.51h5.0M105.3 254.65h13.0M141.2 260.79h5.0M125.3 266.93h5.0M145.2 266.93h5.0M161.1 266.93h5.0M173.1 266.93h5.0M125.3 273.07h5.0M141.2 273.07h5.0M185.0 273.07h5.0M224.9 273.07h5.0M97.4 279.21h5.0M105.3 279.21h9.0M85.4 285.35h5.0M93.4 285.35h5.0M129.2 285.35h9.0M141.2 291.49h5.0M149.2 291.49h5.0M165.1 291.49h5.0M173.1 291.49h5.0M193.0 291.49h5.0M212.9 291.49h5.0M201.0 297.63h9.0M185.0 303.77h5.0"/>
<path stroke="#b7b7db" stroke-width="6.24" d="M177.1 180.97h5.0M189.0 187.11h5.0M65.5 193.25h5.0M81.4 193.25h5.0M193.0 193.25h5.0M65.5 199.39h5.0M73.5 199.39h5.0M81.4 199.39h5.0M89.4 199.39h5.0M101.4 199.39h9.0M121.3 199.39h5.0M121.3 205.53h5.0M185.0 205.53h9.0M197.0 205.53h5.0M81.4 211.67h5.0M189.0 211.67h5.0M208.9 217.81h5.0M167.1 223.95h3.0M236.8 223.95h5.0M264.7 223.95h3.0M137.2 230.09h5.0M169.1 230.09h5.0M133.2 236.23h5.0M153.1 236.23h5.0M260.7 236.23h5.0M129.2 242.37h5.0M125.3 248.51h5.0M137.2 248.51h3.0M181.0 248.51h5.0M201.0 254.65h5.0M121.3 260.79h5.0M201.0 260.79h5.0M212.9 260.79h5.0M208.9 266.93h5.0M165.1 273.07h3.0M89.4 279.21h5.0M169.1 279.21h5.0M193.0 279.21h3.0M177.1 285.35h5.0M206.9 285.35h3.0M145.2 291.49h5.0M201.0 291.49h9.0M121.3 303.77h5.0M73.5 309.91h5.0M165.1 322.19h5.0M165.1 328.33h5.0M197.0 328.33h5.0"/>
<path stroke="#ffffff" stroke-width="6.24" d="M181.0 180.97h9.0M73.5 193.25h5.0M89.4 193.25h5.0M113.3 193.25h5.0M201.0 193.25h9.0M244.8 193.25h5.0M85.4 199.39h5.0M216.9 199.39h5.0M69.5 205.53h5.0M113.3 205.53h5.0M101.4 217.81h5.0M252.7 223.95h3.0M276.6 223.95h5.0M240.8 230.09h5.0M244.8 236.23h5.0M252.7 236.23h5.0M272.7 236.23h5.0M236.8 242.37h5.0M189.0 248.51h3.0M93.4 260.79h5.0M65.5 266.93h5.0M212.9 266.93h5.0M121.3 273.07h5.0M137.2 273.07h5.0M208.9 273.07h5.0M236.8 273.07h5.0M208.9 285.35h5.0M256.7 285.35h5.0M81.4 291.49h5.0M129.2 291.49h5.0M208.9 291.49h5.0M77.5 297.63h5.0M240.8 303.77h5.0M65.5 316.05h5.0M284.6 316.05h4.0M161.1 328.33h5.0"/>
<path stroke="#f4d8af" stroke-width="6.24" d="M189.0 180.97h5.0M208.9 187.11h5.0M77.5 205.53h5.0M216.9 205.53h5.0M240.8 205.53h5.0M201.0 211.67h9.0M85.4 217.81h5.0M181.0 223.95h5.0M105.3 230.09h5.0M256.7 236.23h5.0M280.6 236.23h5.0M97.4 242.37h9.0M145.2 248.51h5.0M216.9 248.51h5.0M85.4 260.79h5.0M216.9 266.93h9.0M232.8 273.07h5.0M69.5 279.21h5.0M85.4 279.21h5.0M220.9 279.21h5.0M77.5 285.35h5.0M224.9 297.63h5.0M248.8 303.77h5.0M137.2 328.33h5.0M193.0 328.33h5.0"/>
<path stroke="#f9ddb4" stroke-width="6.24" d="M193.0 180.97h5.0M193.0 187.11h5.0M189.0 193.25h5.0M220.9 199.39h5.0M93.4 205.53h5.0M117.3 205.53h5.0M201.0 217.81h5.0M65.5 223.95h5.0M129.2 230.09h5.0M125.3 236.23h5.0M240.8 236.23h5.0M264.7 236.23h5.0M185.0 248.51h5.0M260.7 248.51h5.0M260.7 254.65h5.0M89.4 260.79h5.0M89.4 266.93h9.0M224.9 266.93h5.0M216.9 285.35h9.0M216.9 291.49h5.0M232.8 297.63h5.0M212.9 303.77h5.0"/>
<path stroke="#f9c575" stroke-width="6.24" d="M197.0 180.97h5.0M208.9 180.97h5.0M228.8 187.11h5.0M248.8 199.39h5.0M81.4 205.53h5.0M101.4 205.53h5.0M220.9 205.53h5.0M228.8 205.53h5.0M224.9 211.67h5.0M220.9 217.81h5.0M121.3 223.95h5.0M149.2 223.95h5.0M157.1 223.95h5.0M272.7 223.95h5.0M89.4 230.09h5.0M97.4 230.09h5.0M109.3 230.09h5.0M284.6 236.23h4.0M93.4 242.37h5.0M240.8 242.37h5.0M85.4 248.51h9.0M208.9 248.51h5.0M268.7 248.51h5.0M89.4 254.65h5.0M244.8 254.65h5.0M69.5 260.79h5.0M228.8 260.79h5.0M73.5 266.93h9.0M85.4 273.07h5.0M228.8 279.21h5.0M224.9 285.35h5.0M236.8 285.35h5.0M220.9 291.49h5.0M232.8 291.49h5.0M256.7 297.63h5.0M73.5 303.77h5.0M81.4 303.77h5.0M105.3 303.77h5.0M236.8 303.77h5.0M189.0 328.33h5.0"/>
<path stroke="#efbb6b" stroke-width="6.24" d="M201.0 180.97h5.0M212.9 180.97h5.0M204.9 187.11h5.0M232.8 187.11h5.0M224.9 193.25h9.0M236.8 193.25h5.0M224.9 199.39h13.0M244.8 199.39h5.0M212.9 211.67h5.0M89.4 217.81h5.0M97.4 217.81h5.0M204.9 217.81h5.0M216.9 217.81h5.0M77.5 223.95h5.0M224.9 223.95h5.0M268.7 230.09h9.0M121.3 236.23h5.0M105.3 242.37h5.0M149.2 248.51h5.0M256.7 248.51h5.0M97.4 254.65h5.0M125.3 254.65h5.0M85.4 266.93h5.0M232.8 266.93h5.0M93.4 273.07h5.0M228.8 273.07h5.0M101.4 285.35h5.0M113.3 285.35h5.0M73.5 291.49h5.0M224.9 291.49h5.0M256.7 291.49h5.0M81.4 297.63h5.0M93.4 297.63h5.0M85.4 303.77h5.0M272.7 309.91h5.0M145.2 322.19h5.0M272.7 322.19h9.0M129.2 328.33h5.0"/>
<path stroke="#f4c070" stroke-width="6.24" d="M204.9 180.97h5.0M216.9 187.11h13.0M244.8 187.11h5.0M105.3 205.53h5.0M216.9 211.67h9.0M93.4 217.81h5.0M81.4 223.95h5.0M248.8 223.95h5.0M117.3 230.09h13.0M117.3 236.23h5.0M69.5 242.37h5.0M117.3 242.37h5.0M105.3 248.51h5.0M113.3 248.51h5.0M93.4 254.65h5.0M101.4 260.79h5.0M224.9 260.79h5.0M81.4 266.93h5.0M228.8 266.93h5.0M193.0 273.07h5.0M216.9 273.07h5.0M73.5 279.21h9.0M224.9 279.21h5.0M232.8 279.21h5.0M73.5 285.35h5.0M97.4 285.35h5.0M236.8 291.49h5.0M85.4 297.63h5.0M212.9 297.63h5.0M228.8 297.63h5.0M220.9 303.77h5.0M260.7 309.91h5.0M280.6 322.19h5.0M121.3 328.33h9.0"/>
<path stroke="#f2a54f" stroke-width="6.24" d="M216.9 180.97h5.0M232.8 180.97h5.0M248.8 180.97h5.0M276.6 180.97h5.0M248.8 187.11h5.0M260.7 187.11h5.0M240.8 193.25h5.0M268.7 205.53h5.0M228.8 211.67h5.0M248.8 217.81h5.0M264.7 217.81h5.0M145.2 223.95h5.0M276.6 230.09h9.0M101.4 236.23h5.0M81.4 242.37h9.0M252.7 242.37h5.0M260.7 242.37h5.0M93.4 248.51h9.0M240.8 254.65h5.0M65.5 260.79h5.0M105.3 260.79h5.0M240.8 260.79h9.0M240.8 266.93h9.0M65.5 273.07h5.0M89.4 273.07h5.0M272.7 273.07h5.0M284.6 285.35h4.0M244.8 291.49h9.0M97.4 297.63h5.0M240.8 297.63h5.0M260.7 297.63h5.0M69.5 303.77h5.0M228.8 303.77h5.0M268.7 303.77h5.0M117.3 309.91h5.0M280.6 309.91h5.0M101.4 328.33h5.0M109.3 328.33h5.0M117.3 328.33h5.0"/>
<path stroke="#e89b45" stroke-width="6.24" d="M220.9 180.97h5.0M236.8 180.97h5.0M244.8 180.97h5.0M252.7 180.97h5.0M240.8 187.11h5.0M248.8 193.25h5.0M272.7 193.25h5.0M240.8 199.39h5.0M252.7 199.39h5.0M248.8 205.53h5.0M272.7 205.53h5.0M280.6 205.53h5.0M248.8 211.67h5.0M73.5 223.95h5.0M244.8 223.95h5.0M284.6 223.95h4.0M69.5 230.09h5.0M81.4 230.09h5.0M93.4 230.09h5.0M101.4 230.09h5.0M113.3 230.09h5.0M252.7 230.09h5.0M109.3 236.23h5.0M256.7 242.37h5.0M101.4 248.51h5.0M232.8 260.79h5.0M236.8 266.93h5.0M69.5 285.35h5.0M89.4 285.35h5.0M244.8 285.35h5.0M264.7 285.35h5.0M244.8 297.63h5.0M252.7 303.77h5.0M264.7 303.77h5.0M69.5 322.19h5.0M77.5 322.19h5.0M125.3 322.19h5.0M89.4 328.33h5.0M105.3 328.33h5.0M113.3 328.33h5.0"/>
<path stroke="#eda04a" stroke-width="6.24" d="M224.9 180.97h9.0M240.8 180.97h5.0M260.7 180.97h5.0M236.8 187.11h5.0M236.8 199.39h5.0M244.8 205.53h5.0M232.8 211.67h16.9M212.9 217.81h5.0M260.7 217.81h5.0M268.7 217.81h5.0M193.0 223.95h5.0M232.8 223.95h5.0M85.4 230.09h5.0M105.3 236.23h5.0M113.3 236.23h5.0M244.8 242.37h9.0M121.3 248.51h5.0M69.5 254.65h5.0M101.4 254.65h5.0M236.8 260.79h5.0M69.5 266.93h5.0M81.4 273.07h5.0M97.4 273.07h5.0M212.9 273.07h5.0M240.8 273.07h5.0M248.8 273.07h9.0M236.8 279.21h9.0M228.8 291.49h5.0M252.7 291.49h5.0M69.5 297.63h9.0M89.4 297.63h5.0M252.7 297.63h5.0M268.7 297.63h5.0M101.4 303.77h5.0M109.3 303.77h5.0M224.9 303.77h5.0M232.8 303.77h5.0M81.4 322.19h5.0M97.4 322.19h5.0M109.3 322.19h5.0"/>
<path stroke="#e8863c" stroke-width="6.24" d="M256.7 180.97h5.0M268.7 180.97h5.0M256.7 199.39h5.0M236.8 205.53h5.0M252.7 211.67h5.0M244.8 217.81h5.0M105.3 223.95h5.0M77.5 230.09h5.0M256.7 230.09h5.0M77.5 236.23h5.0M97.4 236.23h5.0M272.7 248.51h5.0M280.6 248.51h5.0M252.7 266.93h9.0M264.7 291.49h5.0M97.4 328.33h5.0"/>
<path stroke="#e38137" stroke-width="6.24" d="M264.7 180.97h5.0M280.6 180.97h8.0M264.7 193.25h5.0M252.7 205.53h5.0M256.7 211.67h5.0M113.3 223.95h5.0M268.7 242.37h5.0M77.5 248.51h5.0M240.8 248.51h5.0M284.6 248.51h4.0M248.8 260.79h5.0M256.7 273.07h9.0M268.7 273.07h5.0M248.8 279.21h9.0M248.8 285.35h5.0M240.8 291.49h5.0M268.7 291.49h5.0M69.5 328.33h5.0M85.4 328.33h5.0M93.4 328.33h5.0"/>
<path stroke="#ed8b41" stroke-width="6.24" d="M272.7 180.97h5.0M252.7 187.11h9.0M268.7 187.11h5.0M260.7 205.53h5.0M260.7 211.67h5.0M85.4 236.23h5.0M93.4 236.23h5.0M73.5 242.37h9.0M264.7 242.37h5.0M73.5 248.51h5.0M248.8 266.93h5.0M244.8 279.21h5.0M276.6 285.35h5.0M101.4 322.19h5.0M81.4 328.33h5.0"/>
<path stroke="#4a4296" stroke-width="6.24" d="M73.5 187.11h5.0M107.3 217.81h3.0M141.2 248.51h5.0M109.3 273.07h7.0"/>
<path stroke="#4f479b" stroke-width="6.24" d="M97.4 187.11h5.0M109.3 187.11h5.0M133.2 193.25h5.0M113.3 217.81h3.0M139.2 248.51h3.0M113.3 279.21h5.0"/>
<path stroke="#6965b3" stroke-width="6.24" d="M105.3 187.11h5.0M149.2 187.11h5.0M117.3 193.25h5.0M204.9 199.39h5.0M125.3 205.53h5.0M177.1 205.53h5.0M173.1 211.67h5.0M197.0 217.81h5.0M216.9 223.95h5.0M153.1 230.09h5.0M157.1 236.23h5.0M165.1 236.23h5.0M193.0 236.23h5.0M232.8 236.23h9.0M149.2 242.37h5.0M185.0 242.37h9.0M228.8 242.37h5.0M252.7 248.51h5.0M129.2 260.79h5.0M185.0 260.79h9.0M129.2 266.93h5.0M177.1 266.93h5.0M189.0 266.93h5.0M201.0 266.93h5.0M177.1 273.07h5.0M189.0 273.07h5.0M197.0 273.07h5.0M121.3 279.21h9.0M145.2 279.21h5.0M212.9 279.21h5.0M193.0 285.35h5.0M97.4 291.49h5.0M121.3 291.49h5.0M117.3 297.63h9.0M137.2 297.63h5.0M165.1 297.63h5.0M177.1 297.63h5.0M185.0 297.63h5.0M216.9 297.63h5.0M117.3 303.77h5.0M193.0 303.77h9.0M105.3 322.19h5.0M220.9 328.33h5.0"/>
<path stroke="#6460ae" stroke-width="6.24" d="M117.3 187.11h9.0M133.2 187.11h5.0M165.1 187.11h5.0M85.4 193.25h5.0M105.3 193.25h5.0M149.2 193.25h5.0M177.1 193.25h5.0M216.9 193.25h5.0M129.2 199.39h5.0M141.2 199.39h5.0M173.1 199.39h13.0M181.0 205.53h5.0M125.3 211.67h5.0M65.5 217.81h5.0M137.2 217.81h5.0M93.4 223.95h5.0M117.3 223.95h5.0M185.0 223.95h5.0M181.0 230.09h5.0M181.0 236.23h5.0M145.2 242.37h5.0M169.1 242.37h5.0M208.9 242.37h5.0M224.9 242.37h5.0M69.5 248.51h5.0M129.2 248.51h9.0M173.1 248.51h5.0M244.8 248.51h5.0M177.1 260.79h5.0M77.5 273.07h5.0M117.3 273.07h5.0M189.0 279.21h5.0M201.0 279.21h5.0M189.0 285.35h5.0M77.5 291.49h5.0M181.0 291.49h5.0M197.0 291.49h5.0M137.2 303.77h9.0M149.2 303.77h5.0M201.0 303.77h5.0M113.3 322.19h5.0M228.8 328.33h5.0"/>
<path stroke="#8d8bc7" stroke-width="6.24" d="M131.2 187.11h3.0M137.2 187.11h5.0M159.1 187.11h3.0M173.1 187.11h9.0M121.3 193.25h3.0M139.2 193.25h3.0M125.3 199.39h5.0M121.3 217.81h5.0M171.1 217.81h3.0M228.8 230.09h9.0M141.2 242.37h5.0M167.1 242.37h3.0M276.6 248.51h5.0M121.3 254.65h5.0M137.2 254.65h13.0M157.1 254.65h5.0M165.1 254.65h5.0M177.1 254.65h9.0M189.0 254.65h5.0M208.9 254.65h5.0M224.9 254.65h5.0M256.7 254.65h5.0M117.3 260.79h5.0M109.3 266.93h5.0M121.3 266.93h5.0M133.2 266.93h3.0M133.2 273.07h5.0M181.0 273.07h5.0M101.4 279.21h5.0M208.9 279.21h5.0M81.4 285.35h5.0M240.8 285.35h5.0M69.5 291.49h5.0M101.4 291.49h5.0M181.0 297.63h5.0M65.5 309.91h9.0M193.0 322.19h5.0M201.0 322.19h5.0M224.9 322.19h5.0M236.8 322.19h5.0M268.7 322.19h5.0M173.1 328.33h5.0M204.9 328.33h5.0"/>
<path stroke="#8381bd" stroke-width="6.24" d="M141.2 187.11h3.0M161.1 187.11h5.0M153.1 193.25h5.0M189.0 199.39h5.0M197.0 199.39h5.0M204.9 205.53h5.0M177.1 211.67h9.0M224.9 217.81h5.0M149.2 230.09h5.0M161.1 230.09h9.0M248.8 230.09h5.0M169.1 236.23h3.0M218.9 236.23h7.0M248.8 248.51h5.0M81.4 254.65h5.0M149.2 254.65h9.0M197.0 254.65h5.0M252.7 254.65h5.0M276.6 254.65h5.0M113.3 266.93h5.0M181.0 266.93h5.0M93.4 279.21h5.0M163.1 279.21h7.0M177.1 279.21h5.0M147.2 285.35h3.0M163.1 285.35h3.0M169.1 285.35h5.0M181.0 285.35h9.0M133.2 291.49h3.0M113.3 297.63h5.0M125.3 297.63h5.0M189.0 297.63h5.0M73.5 322.19h5.0M153.1 322.19h5.0M220.9 322.19h5.0M244.8 322.19h16.9M264.7 322.19h5.0M284.6 322.19h4.0M208.9 328.33h5.0M216.9 328.33h5.0"/>
<path stroke="#c1c1e5" stroke-width="6.24" d="M169.1 187.11h5.0M181.0 187.11h5.0M77.5 193.25h5.0M97.4 193.25h5.0M131.2 193.25h3.0M141.2 193.25h5.0M171.1 193.25h3.0M197.0 193.25h5.0M208.9 193.25h5.0M117.3 199.39h5.0M208.9 199.39h5.0M65.5 205.53h5.0M193.0 205.53h5.0M201.0 205.53h5.0M89.4 211.67h5.0M185.0 211.67h5.0M105.3 217.81h3.0M115.3 217.81h3.0M141.2 217.81h3.0M141.2 223.95h5.0M141.2 230.09h5.0M157.1 230.09h5.0M236.8 230.09h5.0M244.8 230.09h5.0M145.2 236.23h5.0M224.9 236.23h5.0M113.3 242.37h5.0M109.3 260.79h5.0M193.0 260.79h9.0M208.9 260.79h5.0M216.9 260.79h5.0M193.0 266.93h5.0M101.4 273.07h5.0M115.3 273.07h3.0M201.0 273.07h5.0M105.3 285.35h5.0M89.4 291.49h5.0M109.3 291.49h3.0M125.3 291.49h5.0M185.0 291.49h5.0M163.1 297.63h3.0M197.0 297.63h5.0M145.2 303.77h5.0M189.0 303.77h5.0M208.9 303.77h5.0M280.6 316.05h5.0M157.1 328.33h5.0M201.0 328.33h5.0"/>
<path stroke="#fdfcfa" stroke-width="6.24" d="M185.0 187.11h5.0M93.4 193.25h5.0M93.4 199.39h9.0M73.5 217.81h5.0M129.2 217.81h9.0M240.8 217.81h5.0M252.7 217.81h5.0M97.4 223.95h9.0M125.3 223.95h5.0M133.2 223.95h5.0M175.1 223.95h3.0M268.7 236.23h5.0M89.4 242.37h5.0M117.3 248.51h5.0M232.8 254.65h5.0M248.8 254.65h5.0M125.3 260.79h5.0M97.4 266.93h5.0M105.3 273.07h3.0M244.8 273.07h5.0M81.4 279.21h5.0M137.2 285.35h3.0M232.8 285.35h5.0M109.3 297.63h5.0M264.7 297.63h5.0M216.9 303.77h5.0M256.7 303.77h5.0M153.1 328.33h5.0M185.0 328.33h5.0"/>
<path stroke="#fee2b9" stroke-width="6.24" d="M197.0 187.11h9.0M212.9 187.11h5.0M220.9 193.25h5.0M232.8 193.25h5.0M85.4 205.53h5.0M97.4 205.53h5.0M109.3 205.53h5.0M208.9 205.53h5.0M224.9 205.53h5.0M208.9 211.67h5.0M232.8 217.81h5.0M208.9 223.95h5.0M264.7 230.09h5.0M137.2 236.23h5.0M248.8 236.23h5.0M109.3 242.37h5.0M125.3 242.37h5.0M161.1 248.51h5.0M220.9 248.51h5.0M117.3 254.65h5.0M236.8 254.65h5.0M73.5 260.79h13.0M97.4 260.79h5.0M220.9 260.79h5.0M69.5 273.07h9.0M220.9 273.07h5.0M109.3 285.35h5.0M117.3 285.35h5.0M77.5 303.77h5.0M89.4 303.77h5.0M169.1 322.19h5.0M133.2 328.33h5.0M141.2 328.33h13.0"/>
<path stroke="#e26a34" stroke-width="6.24" d="M264.7 187.11h5.0M260.7 193.25h5.0M264.7 205.53h5.0M276.6 205.53h5.0M268.7 211.67h5.0M260.7 223.95h5.0M89.4 236.23h5.0M280.6 242.37h5.0M280.6 254.65h5.0M256.7 260.79h9.0M280.6 273.07h5.0M268.7 285.35h5.0M260.7 291.49h5.0M272.7 291.49h5.0M101.4 297.63h5.0M272.7 297.63h5.0M85.4 316.05h5.0M276.6 316.05h5.0M65.5 328.33h5.0M73.5 328.33h5.0"/>
<path stroke="#d54929" stroke-width="6.24" d="M272.7 187.11h9.0M284.6 187.11h4.0M276.6 193.25h9.0M280.6 199.39h5.0M272.7 211.67h5.0M284.6 211.67h4.0M276.6 217.81h9.0M189.0 223.95h5.0M65.5 230.09h5.0M69.5 236.23h5.0M65.5 248.51h5.0M85.4 254.65h5.0M268.7 254.65h5.0M276.6 266.93h5.0M268.7 279.21h5.0M276.6 291.49h5.0M284.6 291.49h4.0M272.7 303.77h5.0M280.6 303.77h5.0M77.5 309.91h5.0M244.8 309.91h5.0M77.5 316.05h5.0M89.4 316.05h5.0M260.7 316.05h5.0M65.5 322.19h5.0M137.2 322.19h5.0M149.2 322.19h5.0"/>
<path stroke="#df5333" stroke-width="6.24" d="M280.6 187.11h5.0M256.7 193.25h5.0M268.7 193.25h5.0M260.7 199.39h13.0M276.6 199.39h5.0M284.6 199.39h4.0M256.7 205.53h5.0M284.6 205.53h4.0M276.6 211.67h9.0M256.7 217.81h5.0M284.6 217.81h4.0M65.5 254.65h5.0M284.6 254.65h4.0M264.7 266.93h5.0M284.6 266.93h4.0M276.6 273.07h5.0M284.6 279.21h4.0M260.7 285.35h5.0M280.6 285.35h5.0M65.5 291.49h5.0M65.5 297.63h5.0M85.4 309.91h5.0M264.7 309.91h5.0M284.6 309.91h4.0M69.5 316.05h5.0M77.5 328.33h5.0"/>
<path stroke="#bcbce0" stroke-width="6.24" d="M101.4 193.25h5.0M109.3 193.25h5.0M157.1 193.25h5.0M77.5 199.39h5.0M113.3 199.39h5.0M185.0 199.39h5.0M193.0 199.39h5.0M73.5 205.53h5.0M212.9 205.53h5.0M69.5 211.67h5.0M93.4 211.67h5.0M81.4 217.81h5.0M181.0 217.81h5.0M228.8 223.95h5.0M145.2 230.09h5.0M129.2 236.23h5.0M141.2 236.23h5.0M228.8 236.23h5.0M276.6 236.23h5.0M65.5 242.37h5.0M232.8 242.37h5.0M165.1 248.51h3.0M232.8 248.51h5.0M264.7 248.51h5.0M73.5 254.65h5.0M133.2 254.65h5.0M193.0 254.65h5.0M220.9 254.65h5.0M228.8 254.65h5.0M113.3 260.79h5.0M105.3 266.93h5.0M185.0 266.93h5.0M204.9 266.93h5.0M173.1 279.21h5.0M185.0 279.21h5.0M204.9 279.21h5.0M216.9 279.21h5.0M121.3 285.35h5.0M173.1 285.35h5.0M228.8 285.35h5.0M85.4 291.49h5.0M105.3 291.49h5.0M129.2 297.63h9.0M141.2 297.63h3.0M193.0 297.63h5.0M208.9 297.63h5.0M220.9 297.63h5.0M113.3 303.77h5.0M129.2 303.77h9.0M93.4 322.19h5.0M169.1 328.33h5.0M177.1 328.33h5.0M212.9 328.33h5.0M224.9 328.33h5.0"/>
<path stroke="#453d91" stroke-width="6.24" d="M137.2 193.25h3.0M141.2 205.53h5.0M109.3 217.81h5.0M107.3 273.07h3.0M117.3 279.21h3.0"/>
<path stroke="#f8f7f5" stroke-width="6.24" d="M145.2 193.25h5.0M109.3 199.39h5.0M212.9 199.39h5.0M89.4 205.53h5.0M232.8 205.53h5.0M193.0 211.67h9.0M77.5 217.81h5.0M125.3 217.81h5.0M189.0 217.81h3.0M228.8 217.81h5.0M109.3 223.95h5.0M137.2 223.95h5.0M133.2 230.09h5.0M121.3 242.37h5.0M202.9 242.37h3.0M222.9 242.37h3.0M101.4 266.93h5.0M204.9 273.07h5.0M65.5 279.21h5.0M197.0 285.35h3.0M252.7 285.35h5.0M93.4 291.49h5.0M105.3 297.63h5.0M236.8 297.63h5.0M93.4 303.77h5.0M260.7 322.19h5.0M181.0 328.33h5.0"/>
<path stroke="#8886c2" stroke-width="6.24" d="M161.1 193.25h3.0M212.9 193.25h5.0M69.5 199.39h5.0M201.0 199.39h5.0M151.2 217.81h3.0M91.4 223.95h3.0M240.8 223.95h5.0M226.8 230.09h3.0M260.7 230.09h5.0M161.1 236.23h5.0M133.2 242.37h9.0M177.1 248.51h5.0M161.1 254.65h5.0M169.1 254.65h9.0M185.0 254.65h5.0M204.9 254.65h5.0M212.9 254.65h9.0M264.7 254.65h5.0M204.9 260.79h5.0M117.3 266.93h5.0M197.0 266.93h5.0M129.2 273.07h5.0M163.1 273.07h3.0M119.3 279.21h3.0M181.0 279.21h5.0M125.3 285.35h5.0M165.1 285.35h5.0M189.0 291.49h5.0M65.5 303.77h5.0M125.3 303.77h5.0M183.0 303.77h3.0M204.9 303.77h5.0M73.5 316.05h5.0M81.4 316.05h5.0M89.4 322.19h5.0M121.3 322.19h5.0M129.2 322.19h9.0M141.2 322.19h5.0M157.1 322.19h9.0M173.1 322.19h13.0M189.0 322.19h5.0M197.0 322.19h5.0M204.9 322.19h16.9M228.8 322.19h9.0M240.8 322.19h5.0"/>
<path stroke="#dd652f" stroke-width="6.24" d="M252.7 193.25h5.0M236.8 217.81h5.0M280.6 223.95h5.0M73.5 230.09h5.0M284.6 230.09h4.0M276.6 242.37h5.0M81.4 248.51h5.0M109.3 248.51h5.0M264.7 260.79h9.0M276.6 260.79h5.0M272.7 266.93h5.0M284.6 273.07h4.0M256.7 279.21h13.0M248.8 297.63h5.0M97.4 303.77h5.0M244.8 303.77h5.0M276.6 303.77h5.0"/>
<path stroke="#da4e2e" stroke-width="6.24" d="M284.6 193.25h4.0M272.7 199.39h5.0M272.7 217.81h5.0M201.0 223.95h5.0M81.4 236.23h5.0M77.5 254.65h5.0M280.6 260.79h8.0M280.6 266.93h5.0M272.7 279.21h13.0M65.5 285.35h5.0M212.9 285.35h5.0M272.7 285.35h5.0M280.6 291.49h5.0M276.6 297.63h12.0M284.6 303.77h4.0M268.7 309.91h5.0M276.6 309.91h5.0M268.7 316.05h5.0M85.4 322.19h5.0M117.3 322.19h5.0"/>
<path stroke="#b0acd4" stroke-width="6.24" d="M65.5 211.67h5.0M77.5 211.67h5.0M85.4 211.67h5.0M97.4 211.67h5.0M113.3 211.67h5.0M89.4 309.91h5.0M105.3 309.91h5.0M153.1 309.91h5.0M165.1 309.91h9.0M177.1 309.91h5.0M193.0 309.91h5.0M201.0 309.91h9.0M212.9 309.91h5.0M224.9 309.91h5.0M236.8 309.91h9.0"/>
<path stroke="#b5b1d9" stroke-width="6.24" d="M73.5 211.67h5.0M117.3 211.67h5.0M93.4 309.91h5.0M113.3 309.91h5.0M121.3 309.91h9.0M141.2 309.91h5.0M149.2 309.91h5.0M161.1 309.91h5.0M173.1 309.91h5.0M189.0 309.91h5.0M208.9 309.91h5.0M216.9 309.91h5.0M228.8 309.91h5.0M252.7 309.91h9.0"/>
<path stroke="#aba7cf" stroke-width="6.24" d="M101.4 211.67h13.0M97.4 309.91h9.0M109.3 309.91h5.0M129.2 309.91h13.0M145.2 309.91h5.0M157.1 309.91h5.0M181.0 309.91h9.0M197.0 309.91h5.0M220.9 309.91h5.0M232.8 309.91h5.0M248.8 309.91h5.0"/>
<path stroke="#e76f39" stroke-width="6.24" d="M264.7 211.67h5.0M73.5 236.23h5.0M272.7 242.37h5.0M284.6 242.37h4.0M129.2 254.65h5.0M272.7 254.65h5.0M252.7 260.79h5.0M272.7 260.79h5.0M260.7 266.93h5.0M268.7 266.93h5.0M264.7 273.07h5.0M260.7 303.77h5.0M81.4 309.91h5.0M185.0 322.19h5.0"/>
<path stroke="#623a8e" stroke-width="6.24" d="M201.0 230.09h5.0M244.8 328.33h5.0M256.7 328.33h5.0M268.7 328.33h5.0"/>
<path stroke="#5d3589" stroke-width="6.24" d="M204.9 230.09h5.0"/>
<path stroke="#cc3a2a" stroke-width="6.24" d="M65.5 236.23h5.0"/>
<path stroke="#bbb8da" stroke-width="6.24" d="M93.4 316.05h5.0M113.3 316.05h5.0M121.3 316.05h5.0M204.9 316.05h5.0M220.9 316.05h5.0M228.8 316.05h5.0M240.8 316.05h5.0"/>
<path stroke="#c0bddf" stroke-width="6.24" d="M97.4 316.05h5.0M125.3 316.05h5.0M137.2 316.05h5.0M157.1 316.05h5.0M165.1 316.05h5.0M177.1 316.05h5.0M193.0 316.05h13.0M212.9 316.05h5.0M232.8 316.05h5.0M244.8 316.05h5.0M264.7 316.05h5.0M272.7 316.05h5.0"/>
<path stroke="#c5c2e4" stroke-width="6.24" d="M101.4 316.05h13.0M117.3 316.05h5.0M129.2 316.05h9.0M141.2 316.05h16.9M161.1 316.05h5.0M169.1 316.05h9.0M181.0 316.05h13.0M208.9 316.05h5.0M216.9 316.05h5.0M224.9 316.05h5.0M236.8 316.05h5.0M248.8 316.05h13.0"/>
<path d="M65.5 184.04H288.6M65.5 190.18H288.6M65.5 196.32H288.6M65.5 202.46H288.6M65.5 208.60H288.6M65.5 214.74H288.6M65.5 220.88H288.6M65.5 227.02H288.6M65.5 233.16H288.6M65.5 239.30H288.6M65.5 245.44H288.6M65.5 251.58H288.6M65.5 257.72H288.6M65.5 263.86H288.6M65.5 270.00H288.6M65.5 276.14H288.6M65.5 282.28H288.6M65.5 288.42H288.6M65.5 294.56H288.6M65.5 300.70H288.6M65.5 306.84H288.6M65.5 312.98H288.6M65.5 319.12H288.6M65.5 325.26H288.6" stroke="#221c26" stroke-width="1.1"/>
<rect x="65.5" y="177.9" width="223.10000000000002" height="153.50" fill="none" stroke="#111" stroke-width="1.3"/>
<text x="61.0" y="183.42" font-size="6.3" text-anchor="end" textLength="17.1" lengthAdjust="spacingAndGlyphs">GATA1</text>
<text x="61.0" y="189.56" font-size="6.3" text-anchor="end" textLength="10.7" lengthAdjust="spacingAndGlyphs">Ki67</text>
<text x="61.0" y="195.70" font-size="6.3" text-anchor="end" textLength="12.5" lengthAdjust="spacingAndGlyphs">TAL1</text>
<text x="61.0" y="201.84" font-size="6.3" text-anchor="end" textLength="28.6" lengthAdjust="spacingAndGlyphs">&#946;&#8211;Catenin</text>
<text x="61.0" y="207.98" font-size="6.3" text-anchor="end" textLength="26.3" lengthAdjust="spacingAndGlyphs">pSMAD2/3</text>
<text x="61.0" y="214.12" font-size="6.3" text-anchor="end" textLength="16.7" lengthAdjust="spacingAndGlyphs">peEF2</text>
<text x="61.0" y="220.26" font-size="6.3" text-anchor="end" textLength="19.8" lengthAdjust="spacingAndGlyphs">pSTAT1</text>
<text x="61.0" y="226.40" font-size="6.3" text-anchor="end" textLength="10.0" lengthAdjust="spacingAndGlyphs">pS6</text>
<text x="61.0" y="232.54" font-size="6.3" text-anchor="end" textLength="18.1" lengthAdjust="spacingAndGlyphs">pCREB</text>
<text x="61.0" y="238.68" font-size="6.3" text-anchor="end" textLength="19.8" lengthAdjust="spacingAndGlyphs">pSTAT3</text>
<text x="61.0" y="244.82" font-size="6.3" text-anchor="end" textLength="31.4" lengthAdjust="spacingAndGlyphs">pSyk/Zap70</text>
<text x="61.0" y="250.96" font-size="6.3" text-anchor="end" textLength="13.4" lengthAdjust="spacingAndGlyphs">PAX5</text>
<text x="61.0" y="257.10" font-size="6.3" text-anchor="end" textLength="17.1" lengthAdjust="spacingAndGlyphs">GATA3</text>
<text x="61.0" y="263.24" font-size="6.3" text-anchor="end" textLength="11.9" lengthAdjust="spacingAndGlyphs">I&#954;B&#945;</text>
<text x="61.0" y="269.38" font-size="6.3" text-anchor="end" textLength="12.9" lengthAdjust="spacingAndGlyphs">pP38</text>
<text x="61.0" y="275.52" font-size="6.3" text-anchor="end" textLength="21.9" lengthAdjust="spacingAndGlyphs">pERK1/2</text>
<text x="61.0" y="281.66" font-size="6.3" text-anchor="end" textLength="31.8" lengthAdjust="spacingAndGlyphs">pMAPKAPK2</text>
<text x="61.0" y="287.80" font-size="6.3" text-anchor="end" textLength="13.7" lengthAdjust="spacingAndGlyphs">pAKT</text>
<text x="61.0" y="293.94" font-size="6.3" text-anchor="end" textLength="14.6" lengthAdjust="spacingAndGlyphs">pACC</text>
<text x="61.0" y="300.08" font-size="6.3" text-anchor="end" textLength="19.8" lengthAdjust="spacingAndGlyphs">pSTAT5</text>
<text x="61.0" y="306.22" font-size="6.3" text-anchor="end" textLength="17.5" lengthAdjust="spacingAndGlyphs">pCRKL</text>
<text x="61.0" y="312.36" font-size="6.3" text-anchor="end" textLength="12.4" lengthAdjust="spacingAndGlyphs">pSrc</text>
<text x="61.0" y="318.50" font-size="6.3" text-anchor="end" textLength="17.2" lengthAdjust="spacingAndGlyphs">pSHP2</text>
<text x="61.0" y="324.64" font-size="6.3" text-anchor="end" textLength="19.7" lengthAdjust="spacingAndGlyphs">C/EBP&#945;</text>
<text x="61.0" y="330.78" font-size="6.3" text-anchor="end" textLength="12.0" lengthAdjust="spacingAndGlyphs">PU.1</text>
<line x1="65.8" y1="331.4" x2="65.8" y2="335.0" stroke="#111" stroke-width="0.9"/>
<text transform="translate(65.8 344.90) scale(0.8 1)" font-size="7.0" text-anchor="middle" >0</text>
<line x1="121.4" y1="331.4" x2="121.4" y2="335.0" stroke="#111" stroke-width="0.9"/>
<text transform="translate(121.4 344.90) scale(0.8 1)" font-size="7.0" text-anchor="middle" >0.25</text>
<line x1="177.1" y1="331.4" x2="177.1" y2="335.0" stroke="#111" stroke-width="0.9"/>
<text transform="translate(177.1 344.90) scale(0.8 1)" font-size="7.0" text-anchor="middle" >0.5</text>
<line x1="232.7" y1="331.4" x2="232.7" y2="335.0" stroke="#111" stroke-width="0.9"/>
<text transform="translate(232.7 344.90) scale(0.8 1)" font-size="7.0" text-anchor="middle" >0.75</text>
<line x1="288.3" y1="331.4" x2="288.3" y2="335.0" stroke="#111" stroke-width="0.9"/>
<text transform="translate(288.3 344.90) scale(0.8 1)" font-size="7.0" text-anchor="middle" >1</text>
<line x1="65.5" y1="349.40" x2="286" y2="349.40" stroke="#111" stroke-width="1"/>
<path d="M290 349.40 l-7.6 -3.1 l1.9 3.1 l-1.9 3.1z" fill="#111"/>
<text x="177.1" y="361.50" font-size="9" text-anchor="middle" textLength="45" lengthAdjust="spacingAndGlyphs">Pseudotime</text>
<defs><filter id="sb" x="-30%" y="-30%" width="160%" height="160%"><feGaussianBlur stdDeviation="2.6"/></filter></defs>
<clipPath id="cpB0"><rect x="334.0" y="155.9" width="78.19999999999999" height="77.69999999999999"/></clipPath>
<g clip-path="url(#cpB0)">
<path d="M352.8 215.9L356.6 215.8L360.3 215.6L364.0 215.1L367.8 213.6L371.5 210.2L375.3 204.7L379.0 197.9L382.8 192.7L386.5 188.8L390.2 186.3L394.0 185.1L397.7 184.6L397.7 207.8L394.0 208.2L390.2 209.5L386.5 212.0L382.8 215.9L379.0 221.1L375.3 227.8L371.5 232.5L367.8 232.5L364.0 232.5L360.3 232.5L356.6 232.5L352.8 232.5Z" fill="#c4c0bc" opacity="0.75" filter="url(#sb)"/>
<path d="M352.8 205.6L356.6 205.5L360.3 205.3L364.0 204.7L367.8 203.2L371.5 199.9L375.3 194.4L379.0 187.6L382.8 182.4L386.5 178.5L390.2 176.0L394.0 174.8L397.7 174.3L397.7 217.3L394.0 217.7L390.2 219.0L386.5 221.5L382.8 225.4L379.0 230.6L375.3 232.5L371.5 232.5L367.8 232.5L364.0 232.5L360.3 232.5L356.6 232.5L352.8 232.5Z" fill="#c4c0bc" opacity="0.55" filter="url(#sb)"/>
<path d="M336.9 210.9L339.4 210.9L342.0 210.9L344.5 210.9L347.0 210.9L349.6 210.9L352.1 210.9L354.6 210.9L357.2 210.9L359.7 210.9L362.2 210.9L364.8 210.9L367.3 210.9L367.3 232.4L364.8 232.4L362.2 232.4L359.7 232.4L357.2 232.4L354.6 232.4L352.1 232.4L349.6 232.4L347.0 232.4L344.5 232.4L342.0 232.4L339.4 232.4L336.9 232.4Z" fill="#8b7a45" opacity="0.46" filter="url(#sb)"/>
<path d="M336.9 201.3L339.4 201.3L342.0 201.3L344.5 201.3L347.0 201.3L349.6 201.3L352.1 201.3L354.6 201.3L357.2 201.3L359.7 201.3L362.2 201.3L364.8 201.3L367.3 201.3L367.3 232.5L364.8 232.5L362.2 232.5L359.7 232.5L357.2 232.5L354.6 232.5L352.1 232.5L349.6 232.5L347.0 232.5L344.5 232.5L342.0 232.5L339.4 232.5L336.9 232.5Z" fill="#8b7a45" opacity="0.34" filter="url(#sb)"/>
<path d="M339.1 213.2L339.5 213.2L339.9 213.2L340.3 213.2L340.8 213.2L341.2 213.2L341.6 213.2L342.0 213.2L342.5 213.2L342.9 213.2L343.3 213.2L343.7 213.2L344.1 213.2L344.1 230.4L343.7 230.4L343.3 230.4L342.9 230.4L342.5 230.4L342.0 230.4L341.6 230.4L341.2 230.4L340.8 230.4L340.3 230.4L339.9 230.4L339.5 230.4L339.1 230.4Z" fill="#8b7a45" opacity="0.68" filter="url(#sb)"/>
<path d="M339.1 205.5L339.5 205.5L339.9 205.5L340.3 205.5L340.8 205.5L341.2 205.5L341.6 205.5L342.0 205.5L342.5 205.5L342.9 205.5L343.3 205.5L343.7 205.5L344.1 205.5L344.1 232.5L343.7 232.5L343.3 232.5L342.9 232.5L342.5 232.5L342.0 232.5L341.6 232.5L341.2 232.5L340.8 232.5L340.3 232.5L339.9 232.5L339.5 232.5L339.1 232.5Z" fill="#8b7a45" opacity="0.50" filter="url(#sb)"/>
<path d="M394.8 183.7L396.0 183.7L397.2 183.7L398.4 183.7L399.6 183.7L400.9 183.7L402.1 183.7L403.3 183.7L404.5 183.7L405.7 183.7L406.9 183.7L408.1 183.7L409.3 183.7L409.3 208.5L408.1 208.5L406.9 208.5L405.7 208.5L404.5 208.5L403.3 208.5L402.1 208.5L400.9 208.5L399.6 208.5L398.4 208.5L397.2 208.5L396.0 208.5L394.8 208.5Z" fill="#7c2c2c" opacity="0.68" filter="url(#sb)"/>
<path d="M394.8 172.6L396.0 172.6L397.2 172.6L398.4 172.6L399.6 172.6L400.9 172.6L402.1 172.6L403.3 172.6L404.5 172.6L405.7 172.6L406.9 172.6L408.1 172.6L409.3 172.6L409.3 218.7L408.1 218.7L406.9 218.7L405.7 218.7L404.5 218.7L403.3 218.7L402.1 218.7L400.9 218.7L399.6 218.7L398.4 218.7L397.2 218.7L396.0 218.7L394.8 218.7Z" fill="#7c2c2c" opacity="0.50" filter="url(#sb)"/>
<path transform="translate(334.0 155.9)" stroke="#c4c0bc" stroke-width="0.7" stroke-linecap="square" d="M23.7 58.7h.1M42.2 73.9h.1M50.2 69.4h.1M66.8 35.1h.1M59.6 35.5h.1M56.6 65.9h.1M50.2 72.3h.1M35.3 70.3h.1M57.9 21.9h.1M21.9 68.8h.1M58.8 52.0h.1M44.0 40.9h.1M52.8 48.1h.1M45.0 38.8h.1M32.9 69.2h.1M19.0 65.8h.1M40.6 46.1h.1M53.7 44.0h.1M42.4 54.4h.1M24.5 74.7h.1M30.1 74.7h.1M42.1 61.1h.1M59.3 22.6h.1M51.3 60.7h.1M65.9 58.5h.1M55.4 34.8h.1M20.9 74.7h.1M51.8 65.7h.1M22.5 71.1h.1M50.5 53.3h.1M21.4 64.5h.1M43.9 44.9h.1M30.3 57.8h.1M29.4 69.3h.1M35.3 62.1h.1M47.7 59.9h.1M45.4 68.3h.1M24.4 74.7h.1M49.9 45.1h.1M24.6 74.7h.1M41.3 72.0h.1M38.2 68.5h.1M62.1 28.7h.1M34.5 60.7h.1M50.9 50.9h.1M39.1 48.4h.1M26.4 73.9h.1M52.0 16.6h.1M36.8 74.7h.1M57.3 28.0h.1M21.2 74.7h.1M43.2 56.1h.1M54.5 49.7h.1M40.0 41.8h.1M55.0 51.8h.1M41.7 69.4h.1M40.3 64.3h.1M20.2 67.3h.1M26.1 74.7h.1M23.4 46.8h.1M24.2 74.7h.1M61.0 19.1h.1M54.2 27.0h.1M26.7 66.8h.1M28.3 73.4h.1M24.1 53.6h.1M41.6 70.6h.1M36.3 46.0h.1M30.9 69.0h.1M51.4 44.1h.1M20.7 70.9h.1M53.7 39.2h.1M28.2 53.7h.1M60.9 13.3h.1M46.9 10.9h.1M21.9 74.7h.1M41.1 74.5h.1M40.9 57.1h.1M21.4 73.3h.1M47.7 47.4h.1M27.4 60.1h.1M31.0 74.2h.1M41.8 68.9h.1M59.5 30.2h.1M46.5 65.5h.1M58.9 43.3h.1M62.6 48.8h.1M42.6 58.5h.1M43.0 33.8h.1M51.9 23.2h.1M51.4 64.1h.1M36.4 71.1h.1M22.4 53.4h.1M19.4 74.7h.1M62.9 34.6h.1M52.9 33.0h.1M64.5 36.8h.1M29.2 16.5h.1M54.5 50.2h.1M36.7 72.3h.1M49.0 58.2h.1M25.3 69.6h.1M41.5 40.5h.1M58.3 17.2h.1M55.4 39.4h.1M37.6 52.2h.1M30.4 68.7h.1M52.4 34.7h.1M64.0 53.3h.1M28.8 68.3h.1M40.5 70.6h.1M46.5 38.5h.1M22.1 69.6h.1M58.9 35.1h.1M52.9 18.8h.1M45.4 71.9h.1M30.7 73.5h.1M38.3 65.7h.1M34.1 71.1h.1M54.2 60.5h.1M26.8 59.1h.1M56.8 26.1h.1M47.7 31.4h.1M20.0 73.6h.1M41.0 69.5h.1M26.1 72.7h.1M52.3 57.7h.1M51.0 47.5h.1M49.1 55.0h.1M47.1 41.9h.1M51.9 42.6h.1M32.0 71.3h.1M63.5 31.3h.1M37.0 74.5h.1M40.8 59.9h.1M27.2 69.3h.1M21.5 67.1h.1M58.9 17.9h.1M27.3 72.7h.1M44.6 53.1h.1M25.5 70.0h.1M36.0 67.3h.1M51.7 72.3h.1M26.2 65.2h.1M33.8 74.7h.1M19.1 74.7h.1M45.5 61.6h.1M33.7 70.1h.1M47.1 64.5h.1M62.2 44.7h.1M35.7 56.1h.1M38.2 70.8h.1M60.7 44.0h.1M42.7 48.1h.1M59.9 49.1h.1M31.0 69.0h.1M24.3 72.2h.1M44.5 67.2h.1M57.4 23.5h.1M44.2 48.3h.1M30.7 63.6h.1M37.9 74.7h.1M33.8 55.7h.1M49.7 58.0h.1M33.5 48.3h.1M35.1 74.1h.1M51.6 26.9h.1M58.1 46.3h.1M29.4 61.4h.1M30.4 74.3h.1M23.2 65.9h.1M40.4 70.3h.1M25.2 65.2h.1M50.1 35.1h.1M54.7 60.4h.1M31.3 74.7h.1M19.5 63.9h.1M21.4 73.3h.1M29.9 73.2h.1M58.7 47.9h.1M50.0 63.1h.1M24.7 38.5h.1M56.7 43.9h.1M30.7 63.0h.1M37.5 71.5h.1M48.0 64.5h.1M31.2 74.7h.1M54.1 16.1h.1M31.1 74.7h.1M53.0 17.7h.1M19.5 64.6h.1M23.9 69.8h.1M31.0 68.9h.1M35.7 74.7h.1M28.6 63.0h.1M54.2 43.9h.1M34.0 73.3h.1M51.4 43.3h.1M34.5 66.9h.1M40.2 60.6h.1M35.4 72.4h.1M22.3 55.1h.1M57.3 45.9h.1M53.6 49.4h.1M28.6 62.9h.1M47.8 46.6h.1M20.6 74.7h.1M36.0 72.8h.1M59.1 42.6h.1M52.9 41.0h.1M62.2 42.5h.1M51.3 40.0h.1M24.4 63.4h.1M45.1 73.9h.1M45.6 35.8h.1M31.3 74.7h.1M55.9 43.5h.1M39.3 59.6h.1M24.1 67.8h.1M63.2 30.5h.1M58.9 30.8h.1M23.2 54.8h.1M25.9 60.1h.1M56.4 36.1h.1M30.1 74.7h.1M43.7 10.7h.1M36.3 69.0h.1M20.5 65.9h.1M27.0 70.1h.1M18.2 71.7h.1M49.5 50.7h.1M54.7 49.6h.1M48.0 39.2h.1M25.7 74.7h.1M41.2 52.2h.1M62.7 46.8h.1M45.7 40.5h.1M56.2 51.4h.1M43.4 45.4h.1M58.5 34.6h.1M41.4 63.0h.1M37.2 68.5h.1M63.9 27.6h.1M31.2 71.0h.1M58.6 22.6h.1M21.1 61.2h.1M43.6 64.6h.1M47.1 54.6h.1M51.2 52.8h.1M41.8 64.3h.1M25.7 68.1h.1M61.4 42.6h.1"/>
<path transform="translate(334.0 155.9)" stroke="#8b7a45" stroke-width="0.7" stroke-linecap="square" d="M6.5 74.7h.1M10.0 54.5h.1M18.8 68.9h.1M31.6 74.7h.1M19.4 49.7h.1M16.8 72.8h.1M17.5 71.4h.1M12.9 55.7h.1M8.7 38.9h.1M32.9 61.0h.1M26.4 68.2h.1M28.0 4.9h.1M5.0 69.8h.1M17.6 74.7h.1M17.8 55.3h.1M29.6 73.3h.1M23.2 70.1h.1M17.3 44.7h.1M4.8 72.5h.1M21.2 69.7h.1M5.5 74.4h.1M17.3 55.4h.1M29.2 45.3h.1M31.5 60.8h.1M27.5 74.7h.1M21.8 74.7h.1M31.4 72.2h.1M5.7 61.8h.1M24.9 74.7h.1M22.0 74.7h.1M9.7 72.4h.1M14.9 74.7h.1M5.7 42.4h.1M18.9 67.2h.1M8.9 50.5h.1M4.0 51.5h.1M25.9 74.7h.1M27.7 57.1h.1M8.7 58.0h.1M16.6 74.7h.1M5.0 56.4h.1M6.7 54.6h.1M30.7 60.4h.1M32.5 44.0h.1M31.4 37.6h.1M23.8 74.7h.1M24.6 73.9h.1M15.2 74.7h.1M24.7 54.3h.1M18.0 69.8h.1M31.4 59.1h.1M18.9 66.1h.1M9.5 74.7h.1M11.7 68.7h.1M17.0 74.7h.1M16.2 72.2h.1M11.4 53.5h.1M11.1 51.2h.1M33.3 9.9h.1M12.9 74.7h.1M14.3 67.8h.1M13.7 47.6h.1M28.7 74.7h.1M26.4 74.4h.1M23.9 63.6h.1M24.8 52.9h.1M34.1 67.9h.1M21.6 51.9h.1M29.7 50.2h.1M17.2 53.9h.1M29.2 53.4h.1M9.7 33.6h.1M25.7 49.2h.1M30.8 69.4h.1M13.5 69.1h.1M20.0 71.4h.1M14.9 74.7h.1M30.5 67.2h.1M17.1 67.6h.1M34.0 60.0h.1M30.5 52.8h.1M14.3 57.4h.1M6.8 72.9h.1M10.5 59.7h.1M12.0 67.9h.1M23.7 74.7h.1M6.6 72.0h.1M26.3 55.6h.1M13.1 65.4h.1M20.5 54.1h.1M23.5 73.8h.1M6.7 66.8h.1M17.8 74.7h.1M16.0 69.9h.1M6.2 74.0h.1M3.6 52.5h.1M23.8 70.6h.1M19.8 74.4h.1M17.7 70.3h.1M7.4 74.7h.1M27.1 71.7h.1M12.7 50.9h.1M16.9 71.6h.1M30.1 69.6h.1M20.7 74.7h.1M27.0 43.4h.1M32.8 61.2h.1M13.1 54.6h.1M20.0 61.2h.1M27.0 73.5h.1M21.1 74.7h.1M18.7 73.2h.1M30.2 50.5h.1M18.6 69.8h.1M19.4 71.8h.1M32.8 64.7h.1M31.7 54.4h.1M7.1 49.5h.1M23.9 68.0h.1M7.6 64.9h.1M14.4 73.5h.1M30.2 55.4h.1M9.5 74.7h.1M7.2 1.2h.1M15.6 69.3h.1M18.5 50.9h.1M7.9 53.2h.1M20.5 43.1h.1M7.8 53.6h.1M15.9 59.1h.1M26.3 50.9h.1M4.9 43.6h.1M18.3 74.7h.1M18.4 57.8h.1M6.1 74.7h.1M24.5 55.7h.1M15.9 64.1h.1M20.0 70.1h.1M3.6 46.3h.1M10.5 66.9h.1M9.5 62.3h.1M3.7 59.1h.1M14.8 44.6h.1M12.7 74.7h.1M25.3 72.0h.1M21.4 70.4h.1M21.4 61.0h.1M19.8 45.9h.1M23.5 48.5h.1M7.6 69.3h.1M17.5 64.4h.1M17.0 63.5h.1M5.5 51.2h.1M25.3 63.2h.1M18.8 64.0h.1M25.8 52.5h.1M14.0 74.7h.1M6.1 63.1h.1M22.9 72.1h.1M31.8 64.6h.1M26.2 66.9h.1M9.5 41.7h.1M22.0 55.8h.1M27.1 65.8h.1M24.0 74.7h.1M10.9 59.6h.1M8.3 73.3h.1M30.0 61.1h.1M9.9 43.2h.1M12.0 60.6h.1M18.4 67.3h.1M5.9 39.9h.1M15.2 56.2h.1M29.6 58.8h.1M5.2 57.1h.1M17.9 67.7h.1M26.9 64.1h.1M10.6 67.3h.1M3.8 65.4h.1M26.0 36.8h.1M33.2 65.6h.1M21.8 62.7h.1M26.8 74.1h.1M7.3 74.7h.1M20.7 56.2h.1M14.8 73.4h.1M15.2 74.7h.1M11.7 73.3h.1M12.2 69.8h.1M24.0 62.5h.1M8.6 19.5h.1M12.1 73.6h.1M9.8 71.8h.1M26.4 55.1h.1M5.9 74.7h.1M15.1 53.1h.1M29.8 53.0h.1M14.1 58.2h.1M18.3 59.9h.1M31.6 40.9h.1M8.4 69.3h.1M20.7 46.9h.1M21.8 62.8h.1M29.4 56.5h.1M30.3 71.0h.1M25.6 51.5h.1M8.6 59.0h.1M11.5 46.3h.1M26.2 74.7h.1M9.4 53.5h.1M7.8 72.5h.1M10.2 60.8h.1M31.3 43.5h.1M28.4 51.7h.1M20.9 58.3h.1M30.5 72.7h.1M27.5 68.9h.1M11.3 68.4h.1M9.6 50.9h.1M23.1 43.0h.1M30.7 74.7h.1M25.2 68.0h.1M3.8 74.7h.1M14.5 68.3h.1M6.6 62.6h.1M4.8 66.6h.1M4.0 70.7h.1M16.9 45.0h.1M21.8 71.9h.1M10.0 53.6h.1M33.0 74.1h.1M10.7 65.4h.1M18.2 33.3h.1M25.9 63.1h.1M16.5 68.8h.1M23.8 74.0h.1M4.7 73.6h.1M19.1 74.7h.1M8.0 74.7h.1M32.5 67.1h.1M4.2 73.2h.1M29.0 73.0h.1M8.6 72.0h.1M20.8 64.9h.1M24.2 60.8h.1M4.1 70.1h.1M23.3 64.0h.1M29.4 53.2h.1M3.6 62.0h.1M31.4 63.8h.1M12.5 70.9h.1M15.6 56.5h.1M16.0 50.7h.1M25.9 48.3h.1M14.2 54.8h.1M7.2 53.7h.1M22.1 54.6h.1M29.3 70.6h.1M4.4 74.7h.1M6.6 74.7h.1M18.0 56.9h.1M9.6 63.1h.1M15.4 59.3h.1M23.3 51.0h.1M24.8 74.7h.1M18.9 54.4h.1M24.9 68.6h.1M31.5 60.3h.1M24.9 72.7h.1M11.2 61.9h.1"/>
<path transform="translate(334.0 155.9)" stroke="#8b7a45" stroke-width="0.7" stroke-linecap="square" d="M9.0 49.8h.1M1.5 63.3h.1M9.3 9.3h.1M6.8 48.8h.1M7.2 57.6h.1M6.2 58.9h.1M6.8 63.0h.1M8.0 62.7h.1M8.4 50.2h.1M9.5 63.6h.1M8.2 57.9h.1M14.0 69.6h.1M7.5 64.9h.1M9.4 65.2h.1M7.9 74.7h.1M9.3 66.1h.1M8.9 63.1h.1M7.7 67.6h.1M9.0 67.0h.1M9.7 72.9h.1M5.2 67.7h.1M8.0 74.7h.1M6.1 74.0h.1M8.1 10.3h.1M11.4 67.3h.1M7.6 68.6h.1M9.6 70.6h.1M8.7 66.6h.1M9.6 57.9h.1M7.7 74.3h.1M7.2 53.5h.1M7.3 74.7h.1M6.0 74.7h.1M11.9 45.1h.1M9.3 67.3h.1M9.4 72.4h.1M5.4 69.2h.1M7.6 74.7h.1M9.2 73.8h.1M7.9 74.3h.1M7.6 74.7h.1M7.2 38.5h.1M10.1 66.0h.1M7.0 74.7h.1M12.3 74.7h.1M9.8 70.3h.1M8.9 44.7h.1M9.2 67.0h.1M7.9 74.7h.1M6.2 71.6h.1M8.4 54.6h.1M7.8 62.7h.1M9.7 71.6h.1M7.1 63.4h.1M9.5 71.0h.1M5.4 64.1h.1M6.1 66.5h.1M9.7 67.7h.1M9.9 68.0h.1M8.0 54.3h.1M2.8 55.3h.1M5.4 63.6h.1M8.5 65.4h.1M5.0 63.6h.1M7.7 67.7h.1M9.0 73.1h.1M8.2 73.2h.1M8.9 56.2h.1M10.1 38.6h.1M5.3 74.4h.1M8.3 71.5h.1M9.9 72.1h.1M7.0 53.7h.1M9.2 74.7h.1M7.7 36.1h.1M6.7 59.7h.1M8.7 65.4h.1M6.6 58.6h.1M6.9 58.1h.1M8.4 54.1h.1M7.1 60.9h.1M7.9 66.8h.1M6.6 74.7h.1M6.9 62.9h.1M9.3 74.7h.1M9.4 70.8h.1M1.5 61.3h.1M6.2 40.7h.1M8.5 48.0h.1M10.0 61.0h.1M6.5 72.0h.1M6.8 53.2h.1M3.8 72.9h.1M8.6 74.7h.1M6.1 70.9h.1M8.5 63.7h.1M5.7 62.7h.1M9.3 56.7h.1M8.2 74.7h.1M12.0 70.1h.1M3.3 50.7h.1M10.1 58.7h.1M5.2 61.3h.1M9.2 62.7h.1M7.9 60.5h.1M7.7 59.8h.1M6.9 67.1h.1M5.2 58.3h.1M8.1 55.4h.1M7.7 62.0h.1M9.4 64.0h.1M10.0 70.9h.1M8.3 64.0h.1M5.5 15.6h.1M7.7 53.1h.1M7.7 70.5h.1M7.3 61.8h.1M4.4 73.9h.1M5.2 66.8h.1M6.7 23.7h.1M7.4 74.7h.1M8.9 45.8h.1M10.7 72.6h.1M8.0 67.4h.1M5.3 55.0h.1M5.6 48.0h.1M10.4 73.8h.1M6.9 65.8h.1M6.5 74.7h.1M8.2 68.6h.1M9.1 69.3h.1M5.4 55.1h.1M7.0 72.2h.1M6.7 66.5h.1M8.0 68.0h.1M5.5 72.8h.1M8.9 68.0h.1M9.8 55.7h.1M5.5 68.7h.1M12.5 68.0h.1M5.6 68.8h.1M8.7 70.7h.1M7.1 74.7h.1M5.3 70.4h.1M8.4 74.6h.1M5.6 56.6h.1M7.4 56.5h.1M9.9 69.5h.1M7.1 55.3h.1M8.9 70.6h.1M8.4 56.5h.1M6.4 65.9h.1M9.6 71.3h.1M9.8 53.0h.1M11.1 60.2h.1M8.7 71.9h.1"/>
<path transform="translate(334.0 155.9)" stroke="#7c2c2c" stroke-width="0.7" stroke-linecap="square" d="M63.1 50.8h.1M72.5 28.5h.1M64.9 28.2h.1M69.5 30.5h.1M71.9 53.7h.1M64.4 67.2h.1M62.4 56.3h.1M66.0 25.7h.1M65.0 39.3h.1M70.7 39.5h.1M65.9 31.1h.1M62.6 51.0h.1M75.0 52.2h.1M62.9 59.1h.1M73.7 50.4h.1M67.3 35.5h.1M65.0 71.4h.1M68.2 44.5h.1M68.0 72.0h.1M62.4 44.9h.1M71.2 52.9h.1M63.4 43.9h.1M68.8 19.7h.1M61.8 74.7h.1M69.6 25.8h.1M66.7 28.3h.1M72.6 23.3h.1M65.1 37.3h.1M61.6 43.1h.1M70.7 27.9h.1M68.8 43.0h.1M61.6 25.5h.1M69.2 22.7h.1M61.7 33.9h.1M73.6 34.9h.1M69.4 46.5h.1M73.5 48.0h.1M61.5 18.3h.1M68.1 4.2h.1M71.1 43.6h.1M61.3 47.6h.1M74.0 32.6h.1M63.7 46.1h.1M67.8 45.4h.1M68.7 52.7h.1M72.4 27.2h.1M69.4 33.1h.1M71.4 25.3h.1M67.6 35.1h.1M74.0 33.2h.1M74.1 59.5h.1M69.3 50.3h.1M68.0 38.9h.1M65.2 42.1h.1M75.0 26.4h.1M64.6 42.5h.1M74.0 62.5h.1M75.1 33.0h.1M73.1 16.0h.1M65.6 39.9h.1M59.3 64.8h.1M69.1 41.3h.1M73.8 25.9h.1M62.6 64.6h.1M64.5 34.0h.1M73.7 74.6h.1M69.8 41.5h.1M67.4 39.3h.1M74.7 52.0h.1M73.9 52.4h.1M74.6 49.6h.1M61.0 58.9h.1M73.1 34.9h.1M72.0 38.1h.1M63.6 51.7h.1M66.8 48.6h.1M67.5 34.5h.1M73.0 42.5h.1M74.4 56.3h.1M60.9 69.4h.1M60.8 48.4h.1M62.0 25.4h.1M65.7 16.4h.1M72.7 60.0h.1M64.5 51.2h.1M69.6 10.8h.1M69.0 29.5h.1M61.7 52.5h.1M58.7 61.1h.1M66.6 28.2h.1M69.1 8.9h.1M61.2 42.9h.1M67.7 36.2h.1M76.7 29.4h.1M76.7 66.6h.1M65.6 34.6h.1M60.9 45.5h.1M58.3 33.0h.1M74.8 6.9h.1M75.0 43.9h.1M72.8 38.9h.1M62.7 8.3h.1M63.9 47.5h.1M68.0 48.2h.1M68.3 65.7h.1M72.2 66.8h.1M61.5 34.6h.1M65.9 31.6h.1M61.2 41.3h.1M67.5 41.4h.1M58.4 21.0h.1M72.2 42.9h.1M67.9 38.1h.1M66.1 36.9h.1M76.3 53.5h.1M74.0 45.7h.1M74.1 51.9h.1M64.0 33.4h.1M72.8 50.3h.1M69.8 34.9h.1M70.1 46.1h.1M63.3 62.4h.1M70.3 68.1h.1M68.2 68.5h.1M71.3 29.9h.1M64.5 37.9h.1M62.7 41.4h.1M63.0 46.5h.1M63.8 36.3h.1M74.6 45.0h.1M70.7 48.6h.1M67.7 28.7h.1M72.7 29.3h.1M64.1 16.7h.1M72.8 34.8h.1M73.5 40.5h.1M74.6 40.2h.1M65.7 26.0h.1M64.5 14.4h.1M66.6 23.7h.1M60.3 53.0h.1M69.8 55.1h.1M62.4 15.2h.1M67.0 45.8h.1M72.5 39.5h.1M65.5 33.1h.1M62.0 27.3h.1M66.1 39.5h.1M68.2 33.7h.1M74.5 51.3h.1M62.2 34.1h.1M67.2 70.6h.1M67.6 31.1h.1M72.7 47.2h.1M61.9 49.5h.1M72.2 31.9h.1M63.8 11.8h.1M67.7 54.7h.1M65.0 57.1h.1M65.6 29.1h.1M64.1 19.7h.1M75.1 24.6h.1M64.5 32.4h.1M73.1 28.1h.1M74.0 9.3h.1M64.9 27.8h.1M64.5 58.2h.1M62.4 27.1h.1M61.2 57.0h.1M73.0 39.0h.1M64.9 45.2h.1M61.1 17.1h.1M62.0 34.8h.1M61.5 34.3h.1M68.2 60.7h.1M70.0 52.2h.1M64.0 42.2h.1M71.1 63.6h.1M63.4 29.1h.1M62.4 20.2h.1M63.7 9.0h.1M74.8 58.0h.1M66.0 54.5h.1M71.2 38.3h.1M56.2 18.6h.1M68.8 50.7h.1M69.0 18.2h.1M63.7 11.0h.1M68.6 61.2h.1M69.4 30.5h.1M75.9 29.2h.1M74.5 39.6h.1M60.4 57.0h.1M59.3 36.6h.1M70.7 52.8h.1M63.7 9.7h.1M61.2 25.7h.1M74.0 43.2h.1M61.2 41.1h.1M61.9 38.8h.1M69.6 58.2h.1M71.9 11.6h.1M67.1 36.1h.1M63.5 28.0h.1M60.9 67.5h.1M64.3 49.8h.1M65.9 26.1h.1M70.7 43.8h.1M73.7 41.8h.1M64.7 56.1h.1M73.3 53.6h.1M65.5 46.4h.1M74.9 30.5h.1M70.6 46.7h.1M68.3 33.5h.1M63.3 63.5h.1M74.9 31.6h.1M61.1 35.2h.1M62.6 40.6h.1M68.0 53.9h.1M64.3 24.4h.1M72.5 22.5h.1M65.6 20.1h.1M75.0 55.4h.1M65.4 52.2h.1M62.5 51.7h.1M63.0 49.0h.1M70.5 6.2h.1M69.2 55.4h.1M68.7 29.7h.1M74.4 20.7h.1M64.2 35.1h.1M64.3 47.1h.1M65.1 26.9h.1M72.7 42.0h.1M63.7 37.1h.1M72.4 37.1h.1M66.2 43.6h.1M66.8 56.6h.1M59.0 43.9h.1M62.2 67.3h.1M70.4 43.1h.1M62.6 55.4h.1M61.7 19.1h.1M76.7 34.6h.1M67.3 10.4h.1M74.3 19.9h.1M70.2 12.8h.1M61.8 9.5h.1M60.5 53.6h.1M74.7 38.5h.1M72.1 41.0h.1M69.2 58.5h.1M62.6 40.3h.1M66.0 33.8h.1M65.2 49.8h.1M64.1 42.8h.1M63.2 50.4h.1M74.0 16.6h.1M68.1 38.8h.1M68.9 55.7h.1M66.9 21.7h.1M63.6 48.8h.1M64.2 22.4h.1M71.0 63.2h.1M73.6 45.8h.1M72.3 33.2h.1M73.7 43.3h.1M63.5 27.3h.1M63.5 28.6h.1M68.1 12.8h.1M64.1 12.2h.1M65.1 32.9h.1M67.3 33.6h.1M72.0 74.2h.1M70.2 32.2h.1M61.6 35.3h.1M71.6 28.0h.1M74.9 50.4h.1M66.9 26.5h.1M67.0 34.9h.1M73.0 53.8h.1M74.5 41.0h.1M68.3 43.4h.1M65.2 8.3h.1M75.1 27.1h.1M71.0 31.9h.1M68.5 55.8h.1M63.3 26.1h.1M71.2 54.7h.1M65.1 65.4h.1M71.3 28.3h.1M73.8 35.6h.1M71.5 45.9h.1M73.5 11.4h.1M74.3 53.9h.1M65.7 58.8h.1M69.0 55.6h.1M73.7 7.6h.1M64.5 39.8h.1M66.8 26.8h.1M65.3 43.2h.1M73.1 62.3h.1M74.3 23.6h.1M64.2 31.8h.1M65.9 45.9h.1M74.7 44.7h.1M68.2 20.8h.1M74.2 27.4h.1M74.6 45.1h.1M61.2 34.3h.1M76.7 46.4h.1M63.2 38.0h.1M63.1 26.9h.1M70.4 30.1h.1M61.0 52.3h.1M76.0 60.7h.1M73.4 51.0h.1M73.3 41.1h.1M70.7 31.1h.1M71.1 64.4h.1M73.9 42.8h.1M73.4 67.5h.1M70.7 27.1h.1M71.0 18.0h.1M65.4 62.4h.1M71.1 67.4h.1M73.1 35.4h.1M62.2 53.7h.1M70.1 40.4h.1M63.8 51.4h.1M67.3 35.6h.1M72.7 62.8h.1M66.0 47.1h.1M63.6 48.3h.1M63.1 37.6h.1M75.0 40.9h.1M69.7 39.5h.1M61.1 29.8h.1M61.8 35.0h.1M67.6 20.5h.1M66.2 60.2h.1M66.8 32.2h.1M74.2 55.9h.1M67.4 45.0h.1M62.8 62.8h.1M65.2 42.0h.1M72.8 26.1h.1M69.0 49.6h.1M70.6 17.7h.1M70.1 67.6h.1M72.7 44.4h.1M58.8 31.6h.1M65.1 35.2h.1M74.4 48.8h.1M61.1 44.7h.1M70.1 60.5h.1"/>
<path d="M336.9 227.8L338.7 227.8L340.5 227.8L342.3 227.8L344.1 227.9L345.9 227.9L347.8 227.9L349.6 228.0L351.4 228.0L353.2 228.0L355.0 227.9L356.8 227.9L358.6 227.8L360.4 227.6L362.2 227.4L364.0 227.1L365.9 226.5L367.7 225.7L369.5 224.3L371.3 222.5L373.1 220.2L374.9 217.4L376.7 214.1L378.5 210.8L380.3 207.9L382.1 205.5L384.0 203.4L385.8 201.5L387.6 200.0L389.4 198.8L391.2 197.9L393.0 197.3L394.8 197.0L396.6 196.7L398.4 196.6L400.2 196.5L402.1 196.5L403.9 196.6L405.7 196.6L407.5 196.6L409.3 196.6" fill="none" stroke="#d986c9" stroke-width="2.7" opacity="0.85" stroke-linejoin="round"/>
</g>
<rect x="334.0" y="155.9" width="78.19999999999999" height="77.69999999999999" fill="none" stroke="#111" stroke-width="1.3"/>
<text transform="translate(337.1 164.5) scale(0.86 1)" font-size="6.6" text-anchor="start" >GATA1</text>
<line x1="330.6" y1="230.6" x2="334.0" y2="230.6" stroke="#111" stroke-width="0.9"/>
<text transform="translate(325.1 233.0) scale(0.8 1)" font-size="7.0" text-anchor="middle" >0</text>
<line x1="330.6" y1="211.7" x2="334.0" y2="211.7" stroke="#111" stroke-width="0.9"/>
<text transform="translate(325.1 214.1) scale(0.8 1)" font-size="7.0" text-anchor="middle" >1</text>
<line x1="330.6" y1="192.8" x2="334.0" y2="192.8" stroke="#111" stroke-width="0.9"/>
<text transform="translate(325.1 195.2) scale(0.8 1)" font-size="7.0" text-anchor="middle" >2</text>
<line x1="330.6" y1="173.9" x2="334.0" y2="173.9" stroke="#111" stroke-width="0.9"/>
<text transform="translate(325.1 176.3) scale(0.8 1)" font-size="7.0" text-anchor="middle" >3</text>
<line x1="336.9" y1="233.6" x2="336.9" y2="237.0" stroke="#111" stroke-width="0.9"/>
<text transform="translate(336.9 247.6) scale(0.8 1)" font-size="7.0" text-anchor="middle" >0.0</text>
<line x1="373.1" y1="233.6" x2="373.1" y2="237.0" stroke="#111" stroke-width="0.9"/>
<text transform="translate(373.1 247.6) scale(0.8 1)" font-size="7.0" text-anchor="middle" >0.5</text>
<line x1="409.3" y1="233.6" x2="409.3" y2="237.0" stroke="#111" stroke-width="0.9"/>
<text transform="translate(409.3 247.6) scale(0.8 1)" font-size="7.0" text-anchor="middle" >1.0</text>
<clipPath id="cpB1"><rect x="431.6" y="155.9" width="77.79999999999995" height="77.69999999999999"/></clipPath>
<g clip-path="url(#cpB1)">
<path d="M450.3 190.5L454.1 191.7L457.8 192.7L461.5 193.3L465.2 193.0L468.9 192.0L472.7 190.4L476.4 188.7L480.1 187.0L483.8 185.0L487.5 182.9L491.3 180.9L495.0 179.1L495.0 199.2L491.3 201.0L487.5 203.0L483.8 205.1L480.1 207.1L476.4 208.9L472.7 210.6L468.9 212.1L465.2 213.2L461.5 213.4L457.8 212.9L454.1 211.9L450.3 210.7Z" fill="#c4c0bc" opacity="0.75" filter="url(#sb)"/>
<path d="M450.3 181.5L454.1 182.7L457.8 183.7L461.5 184.3L465.2 184.0L468.9 183.0L472.7 181.4L476.4 179.7L480.1 178.0L483.8 176.0L487.5 173.9L491.3 171.9L495.0 170.1L495.0 207.5L491.3 209.3L487.5 211.3L483.8 213.4L480.1 215.4L476.4 217.2L472.7 218.9L468.9 220.4L465.2 221.4L461.5 221.7L457.8 221.2L454.1 220.2L450.3 219.0Z" fill="#c4c0bc" opacity="0.55" filter="url(#sb)"/>
<path d="M434.5 189.4L437.0 189.4L439.5 189.4L442.1 189.4L444.6 189.4L447.1 189.4L449.6 189.4L452.1 189.4L454.7 189.4L457.2 189.4L459.7 189.4L462.2 189.4L464.7 189.4L464.7 209.6L462.2 209.6L459.7 209.6L457.2 209.6L454.7 209.6L452.1 209.6L449.6 209.6L447.1 209.6L444.6 209.6L442.1 209.6L439.5 209.6L437.0 209.6L434.5 209.6Z" fill="#8b7a45" opacity="0.46" filter="url(#sb)"/>
<path d="M434.5 180.4L437.0 180.4L439.5 180.4L442.1 180.4L444.6 180.4L447.1 180.4L449.6 180.4L452.1 180.4L454.7 180.4L457.2 180.4L459.7 180.4L462.2 180.4L464.7 180.4L464.7 217.9L462.2 217.9L459.7 217.9L457.2 217.9L454.7 217.9L452.1 217.9L449.6 217.9L447.1 217.9L444.6 217.9L442.1 217.9L439.5 217.9L437.0 217.9L434.5 217.9Z" fill="#8b7a45" opacity="0.34" filter="url(#sb)"/>
<path d="M436.7 191.5L437.1 191.5L437.5 191.5L437.9 191.5L438.3 191.5L438.8 191.5L439.2 191.5L439.6 191.5L440.0 191.5L440.4 191.5L440.9 191.5L441.3 191.5L441.7 191.5L441.7 207.6L441.3 207.6L440.9 207.6L440.4 207.6L440.0 207.6L439.6 207.6L439.2 207.6L438.8 207.6L438.3 207.6L437.9 207.6L437.5 207.6L437.1 207.6L436.7 207.6Z" fill="#8b7a45" opacity="0.68" filter="url(#sb)"/>
<path d="M436.7 184.3L437.1 184.3L437.5 184.3L437.9 184.3L438.3 184.3L438.8 184.3L439.2 184.3L439.6 184.3L440.0 184.3L440.4 184.3L440.9 184.3L441.3 184.3L441.7 184.3L441.7 214.3L441.3 214.3L440.9 214.3L440.4 214.3L440.0 214.3L439.6 214.3L439.2 214.3L438.8 214.3L438.3 214.3L437.9 214.3L437.5 214.3L437.1 214.3L436.7 214.3Z" fill="#8b7a45" opacity="0.50" filter="url(#sb)"/>
<path d="M492.1 179.5L493.3 179.5L494.5 179.5L495.7 179.5L496.9 179.5L498.1 179.5L499.3 179.5L500.5 179.5L501.7 179.5L502.9 179.5L504.1 179.5L505.3 179.5L506.5 179.5L506.5 194.1L505.3 194.1L504.1 194.1L502.9 194.1L501.7 194.1L500.5 194.1L499.3 194.1L498.1 194.1L496.9 194.1L495.7 194.1L494.5 194.1L493.3 194.1L492.1 194.1Z" fill="#7c2c2c" opacity="0.68" filter="url(#sb)"/>
<path d="M492.1 173.0L493.3 173.0L494.5 173.0L495.7 173.0L496.9 173.0L498.1 173.0L499.3 173.0L500.5 173.0L501.7 173.0L502.9 173.0L504.1 173.0L505.3 173.0L506.5 173.0L506.5 200.1L505.3 200.1L504.1 200.1L502.9 200.1L501.7 200.1L500.5 200.1L499.3 200.1L498.1 200.1L496.9 200.1L495.7 200.1L494.5 200.1L493.3 200.1L492.1 200.1Z" fill="#7c2c2c" opacity="0.50" filter="url(#sb)"/>
<path transform="translate(431.6 155.9)" stroke="#c4c0bc" stroke-width="0.7" stroke-linecap="square" d="M20.6 50.9h.1M35.1 39.3h.1M46.9 54.4h.1M51.1 36.4h.1M35.1 62.0h.1M23.9 46.1h.1M26.5 52.0h.1M52.0 46.4h.1M27.2 51.4h.1M28.3 42.9h.1M28.0 44.7h.1M40.8 61.3h.1M33.7 58.8h.1M25.1 30.3h.1M55.7 29.5h.1M23.4 51.7h.1M21.7 50.2h.1M42.2 48.9h.1M55.1 42.7h.1M36.3 30.5h.1M59.2 6.0h.1M20.0 56.8h.1M25.6 52.4h.1M20.6 59.9h.1M36.1 34.7h.1M59.1 30.3h.1M32.6 41.3h.1M46.0 38.5h.1M28.9 51.1h.1M39.7 39.9h.1M44.4 41.3h.1M19.7 30.9h.1M53.7 40.0h.1M58.8 31.5h.1M55.4 34.0h.1M49.9 25.5h.1M26.0 44.5h.1M47.2 39.9h.1M31.2 41.3h.1M32.0 43.8h.1M29.5 46.1h.1M45.4 58.6h.1M56.3 36.4h.1M37.3 38.0h.1M57.5 25.7h.1M50.5 49.8h.1M39.7 56.3h.1M32.9 44.2h.1M32.7 46.0h.1M59.7 33.7h.1M32.4 46.1h.1M57.6 42.1h.1M22.7 54.0h.1M19.3 54.5h.1M56.3 63.3h.1M19.5 37.1h.1M41.4 57.5h.1M40.0 51.4h.1M57.3 45.6h.1M26.9 57.9h.1M21.3 34.7h.1M19.7 43.8h.1M45.6 53.7h.1M37.0 58.2h.1M26.0 52.6h.1M44.1 54.8h.1M28.8 59.5h.1M25.3 56.0h.1M70.1 43.3h.1M56.9 64.0h.1M21.1 49.2h.1M30.2 59.4h.1M21.5 33.5h.1M54.2 44.9h.1M61.8 30.3h.1M21.0 56.8h.1M55.7 28.5h.1M30.9 43.9h.1M35.1 40.4h.1M60.3 31.5h.1M41.3 59.7h.1M62.1 35.5h.1M46.1 52.1h.1M23.9 49.8h.1M56.3 33.7h.1M38.5 39.0h.1M26.4 36.1h.1M56.1 26.9h.1M56.0 35.3h.1M47.3 33.3h.1M26.1 44.4h.1M26.9 72.6h.1M52.8 47.9h.1M21.3 44.9h.1M55.5 33.3h.1M57.3 36.4h.1M45.7 39.2h.1M31.7 70.7h.1M59.4 35.5h.1M21.7 33.4h.1M46.0 43.1h.1M60.9 4.7h.1M45.7 49.6h.1M23.7 35.3h.1M29.7 53.6h.1M23.3 73.1h.1M56.1 27.7h.1M14.6 40.8h.1M17.9 43.6h.1M34.9 40.5h.1M45.7 48.7h.1M27.8 44.3h.1M23.2 60.3h.1M16.9 40.8h.1M14.9 22.3h.1M49.5 44.8h.1M40.5 49.1h.1M42.8 58.7h.1M27.5 46.8h.1M31.5 36.3h.1M45.5 46.3h.1M28.6 51.1h.1M37.0 64.0h.1M31.5 49.4h.1M59.6 49.6h.1M42.2 46.4h.1M20.2 72.6h.1M62.5 46.9h.1M31.9 38.3h.1M26.9 38.3h.1M53.4 49.3h.1M53.4 33.6h.1M22.1 35.4h.1M63.3 32.8h.1M26.7 55.8h.1M39.7 46.2h.1M22.7 52.5h.1M15.8 29.6h.1M46.9 30.7h.1M57.8 46.5h.1M18.8 58.5h.1M32.8 35.2h.1M59.8 35.5h.1M58.2 39.4h.1M52.4 23.9h.1M39.2 38.1h.1M22.1 39.5h.1M33.6 41.7h.1M42.0 64.8h.1M25.6 59.7h.1M61.7 36.7h.1M38.1 40.2h.1M39.2 32.2h.1M49.1 52.4h.1M48.7 68.5h.1M57.3 40.9h.1M44.4 37.5h.1M35.6 33.8h.1M35.7 33.6h.1M27.9 51.8h.1M21.5 54.2h.1M44.3 38.8h.1M49.2 37.4h.1M56.6 40.2h.1M31.3 52.4h.1M26.3 30.3h.1M22.5 40.5h.1M28.4 51.7h.1M43.4 42.0h.1M42.1 62.5h.1M41.2 63.1h.1M31.0 30.0h.1M38.8 29.3h.1M45.8 38.6h.1M62.0 37.4h.1M57.3 39.6h.1M30.0 31.8h.1M63.1 44.8h.1M46.5 27.5h.1M22.5 47.9h.1M62.1 51.0h.1M20.0 57.5h.1M36.9 47.6h.1M54.2 57.3h.1M22.5 48.6h.1M42.6 44.0h.1M46.4 19.1h.1M37.3 18.6h.1M33.4 61.3h.1M47.8 17.8h.1M25.3 34.9h.1M63.2 46.6h.1M44.8 37.8h.1M57.2 39.1h.1M36.5 55.9h.1M60.2 25.7h.1M34.4 46.5h.1M60.8 24.7h.1M19.8 55.2h.1M36.8 44.2h.1M24.1 29.2h.1M61.3 53.6h.1M40.5 33.3h.1M63.3 26.3h.1M19.0 28.2h.1M28.8 56.8h.1M40.9 31.8h.1M38.1 44.9h.1M28.8 68.3h.1M40.6 28.6h.1M26.8 48.0h.1M36.3 53.9h.1M42.8 41.2h.1M55.7 23.9h.1M26.2 52.3h.1M47.6 18.2h.1M51.0 50.3h.1M51.9 30.2h.1M37.9 53.0h.1M53.1 32.9h.1M32.9 50.2h.1M46.2 31.5h.1M25.3 63.1h.1M44.2 61.0h.1M41.5 56.2h.1M25.7 42.0h.1M47.7 48.5h.1M22.5 50.2h.1M61.7 35.1h.1M51.9 33.2h.1M42.5 68.3h.1M21.1 41.1h.1M34.7 47.0h.1M52.9 26.2h.1M43.2 46.5h.1M58.4 27.0h.1M25.9 56.3h.1M46.0 26.9h.1M61.6 59.7h.1M19.1 49.2h.1M48.6 54.6h.1M33.0 69.2h.1M33.8 52.9h.1M28.6 49.2h.1M54.2 55.1h.1M52.9 43.7h.1M25.5 50.9h.1M35.7 15.1h.1M56.8 48.4h.1M58.2 35.3h.1M26.7 66.2h.1M25.2 55.4h.1"/>
<path transform="translate(431.6 155.9)" stroke="#8b7a45" stroke-width="0.7" stroke-linecap="square" d="M21.6 50.0h.1M3.2 22.4h.1M23.7 46.5h.1M30.8 42.7h.1M16.0 57.9h.1M15.6 39.5h.1M15.5 36.4h.1M13.9 48.9h.1M25.4 31.3h.1M7.0 64.9h.1M21.7 40.7h.1M17.8 65.3h.1M28.6 54.8h.1M6.1 26.4h.1M18.7 65.8h.1M14.8 37.8h.1M5.6 43.2h.1M18.9 43.4h.1M27.6 51.4h.1M32.0 39.6h.1M3.4 36.7h.1M3.6 30.0h.1M8.5 41.6h.1M31.4 47.6h.1M27.7 48.9h.1M20.9 30.7h.1M18.9 53.0h.1M29.9 49.0h.1M7.1 51.8h.1M30.2 30.0h.1M12.5 63.3h.1M20.1 39.6h.1M24.8 54.8h.1M17.7 29.2h.1M27.2 39.8h.1M18.0 49.9h.1M18.8 42.4h.1M12.4 34.9h.1M6.9 45.1h.1M4.7 58.6h.1M20.0 50.0h.1M24.1 34.3h.1M8.1 44.0h.1M13.7 62.4h.1M12.4 16.6h.1M23.0 56.0h.1M26.8 15.6h.1M27.5 41.1h.1M8.7 47.1h.1M4.7 48.1h.1M18.0 42.8h.1M28.2 23.1h.1M6.1 40.2h.1M32.3 30.4h.1M9.2 33.4h.1M19.1 66.7h.1M24.9 43.6h.1M25.1 43.7h.1M20.6 58.6h.1M5.7 53.4h.1M14.3 34.4h.1M21.0 60.2h.1M5.0 51.3h.1M22.2 40.6h.1M19.0 52.9h.1M4.9 33.0h.1M33.3 52.6h.1M9.5 33.4h.1M16.5 37.0h.1M7.2 40.5h.1M24.1 53.1h.1M13.4 35.4h.1M32.6 20.5h.1M12.1 46.4h.1M29.2 64.3h.1M22.3 43.9h.1M20.6 35.5h.1M31.0 68.1h.1M31.2 32.2h.1M29.7 52.4h.1M29.8 20.8h.1M29.5 48.2h.1M26.3 51.7h.1M5.1 19.1h.1M9.3 61.5h.1M10.7 23.0h.1M16.3 36.2h.1M22.1 56.4h.1M24.8 47.4h.1M31.9 48.7h.1M6.6 45.2h.1M5.7 43.8h.1M8.2 41.7h.1M8.6 43.7h.1M15.2 47.5h.1M24.1 36.4h.1M9.9 46.2h.1M15.2 28.5h.1M9.6 52.4h.1M20.9 38.4h.1M22.3 62.4h.1M4.6 3.2h.1M12.7 50.0h.1M25.6 29.5h.1M4.7 13.7h.1M33.0 50.2h.1M15.5 51.6h.1M11.2 37.7h.1M8.9 52.5h.1M5.3 37.6h.1M24.6 49.2h.1M9.5 42.2h.1M13.2 33.5h.1M29.6 51.3h.1M4.8 45.9h.1M14.3 35.1h.1M5.6 46.9h.1M26.1 49.9h.1M23.2 29.2h.1M9.9 38.3h.1M12.0 34.9h.1M15.7 38.1h.1M4.4 43.1h.1M10.7 42.4h.1M8.3 47.9h.1M15.1 41.7h.1M2.9 40.2h.1M11.7 36.1h.1M5.9 53.7h.1M19.1 66.0h.1M15.5 48.7h.1M23.5 38.3h.1M12.9 44.5h.1M27.3 47.7h.1M23.0 42.8h.1M17.1 40.1h.1M31.4 37.4h.1M3.9 56.2h.1M10.3 26.1h.1M20.5 54.4h.1M28.9 42.8h.1M17.6 20.7h.1M16.7 33.4h.1M18.7 48.2h.1M31.8 1.8h.1M7.3 53.8h.1M24.4 44.8h.1M12.4 49.6h.1M32.2 69.5h.1M31.9 49.6h.1M24.5 61.4h.1M22.3 45.6h.1M23.3 57.2h.1M22.3 32.3h.1M18.7 39.2h.1M25.2 53.4h.1M14.7 17.3h.1M32.9 67.0h.1M11.6 46.9h.1M15.8 44.5h.1M26.1 46.2h.1M30.6 31.0h.1M19.2 18.7h.1M8.3 44.3h.1M28.9 24.2h.1M25.5 16.0h.1M19.6 23.8h.1M6.8 4.4h.1M24.5 48.0h.1M8.0 42.3h.1M24.7 60.3h.1M29.0 41.4h.1M8.5 38.0h.1M24.4 42.0h.1M19.1 42.3h.1M20.4 42.8h.1M20.7 44.7h.1M6.2 47.3h.1M17.8 42.8h.1M12.4 27.4h.1M19.3 34.4h.1M26.3 47.6h.1M18.1 39.5h.1M14.5 29.2h.1M28.8 67.6h.1M24.1 42.9h.1M21.0 54.8h.1M29.6 36.3h.1M4.3 52.0h.1M23.6 20.4h.1M13.4 57.8h.1M30.6 45.6h.1M9.8 47.5h.1M21.4 57.1h.1M10.9 12.6h.1M10.7 40.2h.1M30.2 38.9h.1M8.8 32.7h.1M32.8 47.0h.1M9.4 36.7h.1M15.8 42.4h.1M3.8 28.8h.1M10.8 49.6h.1M15.4 53.3h.1M6.8 31.1h.1M3.8 56.4h.1M21.2 41.1h.1M8.6 35.6h.1M20.6 39.6h.1M4.7 51.4h.1M13.6 74.7h.1M30.8 60.4h.1M20.8 61.7h.1M28.5 44.1h.1M22.8 51.2h.1M5.4 45.2h.1M25.5 29.9h.1M23.6 40.9h.1M7.8 49.1h.1M3.0 55.9h.1M26.0 46.7h.1M5.9 20.8h.1M17.0 48.1h.1M12.8 41.8h.1M20.6 37.2h.1M19.0 39.1h.1M8.1 21.2h.1M25.8 37.6h.1M12.3 54.6h.1M5.5 58.8h.1M18.8 28.7h.1M10.3 30.7h.1M28.4 48.2h.1M28.5 55.6h.1M20.6 26.0h.1M24.9 51.1h.1M22.6 58.4h.1M15.4 60.5h.1M26.4 38.2h.1M27.5 42.9h.1M28.5 40.1h.1M27.9 59.8h.1M8.7 36.0h.1M25.8 63.0h.1M4.2 65.1h.1M14.0 32.9h.1M27.2 46.2h.1M3.1 35.7h.1M24.3 44.7h.1M24.9 51.6h.1M16.3 52.2h.1M35.9 48.2h.1M23.4 33.6h.1M14.8 37.2h.1M22.6 12.9h.1M3.7 29.0h.1M26.4 27.8h.1M16.6 64.0h.1M21.0 55.2h.1M29.5 38.1h.1M20.5 56.4h.1M8.8 25.5h.1M10.6 57.3h.1M15.6 52.0h.1M32.8 34.7h.1M24.3 42.9h.1M23.0 41.5h.1M14.0 41.3h.1M15.3 43.5h.1M4.8 48.7h.1"/>
<path transform="translate(431.6 155.9)" stroke="#8b7a45" stroke-width="0.7" stroke-linecap="square" d="M7.7 6.3h.1M1.5 51.8h.1M8.9 45.2h.1M5.7 42.9h.1M7.6 48.6h.1M3.0 50.7h.1M8.9 43.6h.1M8.3 32.7h.1M6.0 51.4h.1M9.9 23.0h.1M8.3 44.5h.1M8.1 51.8h.1M6.5 52.2h.1M7.4 54.9h.1M6.5 55.4h.1M9.6 58.8h.1M3.4 49.1h.1M9.9 61.8h.1M7.2 43.8h.1M5.7 34.2h.1M6.6 14.3h.1M1.5 41.0h.1M7.6 48.7h.1M6.5 41.3h.1M8.6 44.0h.1M6.0 46.1h.1M7.2 32.5h.1M9.3 41.9h.1M1.8 36.2h.1M8.5 41.6h.1M8.9 43.7h.1M8.8 48.7h.1M8.8 41.6h.1M2.6 52.2h.1M6.6 32.4h.1M6.8 49.5h.1M2.6 39.6h.1M6.3 57.2h.1M6.5 43.4h.1M9.1 34.3h.1M8.0 47.9h.1M7.6 32.2h.1M6.8 37.4h.1M9.8 50.2h.1M12.9 48.0h.1M11.7 38.2h.1M9.9 50.7h.1M9.2 56.5h.1M10.1 63.2h.1M9.1 30.8h.1M7.1 4.9h.1M6.3 50.2h.1M13.1 63.6h.1M8.6 39.6h.1M9.4 35.7h.1M5.5 45.6h.1M2.9 33.7h.1M9.4 40.7h.1M5.9 48.0h.1M7.1 52.4h.1M7.0 38.3h.1M4.1 44.2h.1M7.3 46.0h.1M9.4 60.2h.1M8.0 54.1h.1M8.4 36.2h.1M5.5 38.5h.1M8.0 62.3h.1M8.3 57.4h.1M7.5 21.0h.1M9.5 42.4h.1M2.2 26.9h.1M9.8 27.9h.1M7.0 55.4h.1M5.9 48.9h.1M7.7 36.6h.1M7.8 46.6h.1M7.6 39.1h.1M1.5 31.8h.1M8.1 40.7h.1M5.9 31.5h.1M6.6 46.9h.1M6.1 42.0h.1M8.6 50.3h.1M7.4 27.9h.1M6.3 54.9h.1M8.6 40.1h.1M4.6 69.6h.1M6.2 50.0h.1M5.6 32.7h.1M5.5 45.6h.1M4.5 30.8h.1M8.1 51.2h.1M6.4 48.9h.1M7.4 59.6h.1M5.7 44.9h.1M5.5 52.1h.1M10.0 37.2h.1M7.4 43.1h.1M8.6 42.4h.1M5.4 47.4h.1M8.7 43.7h.1M8.3 46.6h.1M9.6 51.6h.1M15.3 35.8h.1M9.9 51.6h.1M5.3 50.6h.1M7.8 31.1h.1M8.9 42.1h.1M14.1 38.8h.1M8.9 61.5h.1M9.8 43.1h.1M5.7 35.7h.1M6.0 34.3h.1M6.7 40.3h.1M7.2 23.1h.1M9.5 42.4h.1M6.4 44.0h.1M3.2 52.0h.1M2.9 57.3h.1M10.1 39.9h.1M5.5 47.2h.1M8.2 39.9h.1M2.2 33.0h.1M7.4 46.4h.1M7.8 33.6h.1M9.9 42.9h.1M9.9 51.2h.1M5.3 37.7h.1M7.1 50.2h.1M8.8 48.0h.1M11.1 50.3h.1M8.5 47.6h.1M7.0 56.4h.1M8.9 48.5h.1M9.2 47.5h.1M6.6 52.7h.1M5.2 51.8h.1M5.5 40.5h.1M6.2 44.0h.1M8.0 53.6h.1M7.1 35.7h.1M8.5 46.2h.1M6.0 35.8h.1M6.9 42.7h.1M7.3 43.7h.1M7.1 34.6h.1M9.5 54.2h.1M5.6 20.8h.1M6.2 48.7h.1M7.3 48.2h.1M10.0 30.3h.1M6.8 47.0h.1M11.1 38.9h.1M8.3 44.3h.1M3.9 42.0h.1"/>
<path transform="translate(431.6 155.9)" stroke="#7c2c2c" stroke-width="0.7" stroke-linecap="square" d="M70.7 26.0h.1M67.2 29.1h.1M76.2 30.8h.1M67.5 27.2h.1M71.2 8.3h.1M66.2 22.6h.1M74.3 42.5h.1M68.8 21.5h.1M74.2 43.1h.1M70.1 25.4h.1M68.9 57.3h.1M73.1 29.1h.1M74.0 44.7h.1M61.2 44.0h.1M71.0 17.9h.1M66.9 38.3h.1M70.7 14.8h.1M63.6 31.3h.1M64.9 53.8h.1M74.9 30.3h.1M64.1 32.0h.1M67.5 44.7h.1M67.6 26.7h.1M71.3 29.4h.1M63.0 27.4h.1M65.5 40.0h.1M65.5 33.0h.1M66.7 22.0h.1M73.3 32.4h.1M61.4 48.6h.1M73.8 23.1h.1M63.5 42.4h.1M70.6 50.9h.1M60.5 35.6h.1M74.2 40.0h.1M68.9 35.3h.1M68.5 32.4h.1M67.2 31.0h.1M66.7 32.3h.1M67.1 25.6h.1M63.0 44.8h.1M65.1 30.2h.1M73.0 34.3h.1M61.5 30.1h.1M66.6 29.2h.1M74.1 53.1h.1M74.3 38.6h.1M66.4 30.5h.1M68.7 26.1h.1M70.3 33.8h.1M68.9 30.5h.1M63.1 13.0h.1M62.8 47.8h.1M68.9 36.4h.1M62.8 23.1h.1M59.5 2.7h.1M69.1 41.2h.1M67.5 39.7h.1M74.6 42.8h.1M63.5 42.1h.1M63.4 28.5h.1M61.8 31.8h.1M73.5 30.3h.1M68.0 55.1h.1M67.0 20.5h.1M64.6 16.9h.1M62.8 32.0h.1M63.3 43.3h.1M68.9 4.3h.1M73.0 33.3h.1M65.9 21.7h.1M69.3 16.0h.1M65.0 38.5h.1M71.4 34.0h.1M63.2 24.7h.1M67.5 27.6h.1M69.1 34.1h.1M61.3 28.5h.1M68.9 20.9h.1M74.2 21.9h.1M66.9 38.9h.1M73.7 37.4h.1M61.7 12.7h.1M62.8 9.4h.1M61.6 32.3h.1M65.6 22.7h.1M64.1 40.4h.1M63.0 26.8h.1M71.8 32.6h.1M70.5 19.5h.1M71.6 22.1h.1M69.1 30.8h.1M68.3 28.5h.1M63.0 70.0h.1M62.7 23.7h.1M67.0 20.3h.1M71.3 14.8h.1M73.8 40.1h.1M68.1 36.3h.1M68.5 24.9h.1M65.8 22.6h.1M67.7 31.6h.1M64.0 46.2h.1M69.7 36.2h.1M70.9 38.9h.1M69.0 17.3h.1M68.5 44.1h.1M62.9 34.0h.1M65.5 34.2h.1M62.5 41.0h.1M72.3 22.9h.1M62.9 32.1h.1M76.3 37.7h.1M70.2 10.5h.1M64.1 30.3h.1M65.6 68.7h.1M64.8 51.9h.1M65.3 42.0h.1M71.4 18.3h.1M64.7 28.4h.1M67.4 15.8h.1M64.0 39.2h.1M66.6 40.0h.1M67.6 37.0h.1M61.7 22.2h.1M63.8 21.5h.1M76.2 35.6h.1M70.4 15.1h.1M72.7 36.8h.1M72.0 16.4h.1M75.1 39.9h.1M66.2 41.2h.1M71.0 34.4h.1M70.5 31.8h.1M61.8 25.0h.1M67.8 36.3h.1M72.7 31.8h.1M61.1 34.1h.1M65.6 13.6h.1M70.8 69.8h.1M60.6 29.3h.1M64.3 16.6h.1M69.9 30.1h.1M71.0 32.7h.1M67.8 33.0h.1M62.8 41.8h.1M62.4 49.4h.1M65.3 31.0h.1M67.1 35.4h.1M70.5 47.2h.1M61.1 25.9h.1M67.8 27.6h.1M70.3 42.7h.1M73.4 28.3h.1M73.2 33.7h.1M57.1 45.0h.1M61.6 55.0h.1M66.3 21.0h.1M71.4 25.7h.1M67.7 24.7h.1M62.6 46.7h.1M73.4 11.9h.1M73.5 33.0h.1M71.4 27.5h.1M60.5 29.1h.1M71.8 27.5h.1M68.8 33.4h.1M58.4 38.5h.1M73.6 18.8h.1M67.4 40.9h.1M66.2 39.9h.1M66.3 15.1h.1M72.7 24.0h.1M71.5 16.4h.1M70.2 41.6h.1M72.0 29.8h.1M69.1 33.5h.1M72.5 44.3h.1M62.2 35.1h.1M67.9 34.9h.1M67.0 35.7h.1M67.2 24.1h.1M69.5 40.6h.1M70.5 35.3h.1M71.1 27.7h.1M63.0 19.3h.1M68.9 43.7h.1M65.4 40.0h.1M74.4 21.6h.1M71.4 23.5h.1M72.0 39.5h.1M64.8 25.9h.1M62.5 35.0h.1M66.9 20.8h.1M71.8 69.2h.1M73.0 38.9h.1M66.2 22.1h.1M69.6 20.3h.1M71.1 35.0h.1M68.6 31.9h.1M59.0 41.9h.1M73.3 30.3h.1M68.4 30.1h.1M72.2 31.5h.1M66.4 31.9h.1M69.4 18.0h.1M69.4 34.0h.1M68.1 29.1h.1M74.8 15.7h.1M72.3 24.3h.1M69.0 25.1h.1M64.4 20.4h.1M66.9 33.4h.1M62.6 32.3h.1M62.5 35.5h.1M62.6 29.6h.1M62.1 28.3h.1M60.5 30.7h.1M73.4 38.9h.1M71.5 31.5h.1M64.4 43.2h.1M62.1 28.1h.1M67.7 15.8h.1M60.7 30.4h.1M71.1 31.5h.1M76.3 39.1h.1M69.0 42.0h.1M74.8 15.8h.1M73.5 16.4h.1M64.1 35.1h.1M72.9 21.7h.1M61.4 9.0h.1M67.9 26.1h.1M73.2 33.0h.1M63.7 29.4h.1M73.2 25.7h.1M73.4 32.7h.1M72.4 33.5h.1M63.8 33.0h.1M67.9 33.1h.1M61.6 43.8h.1M69.2 37.6h.1M71.7 37.5h.1M64.8 28.7h.1M69.4 25.1h.1M72.1 37.8h.1M65.1 33.7h.1M74.1 28.6h.1M63.1 28.5h.1M73.1 36.9h.1M63.3 46.7h.1M68.8 34.0h.1M71.6 37.1h.1M66.6 43.4h.1M69.8 31.0h.1M68.2 29.1h.1M68.5 44.2h.1M74.6 36.6h.1M62.0 26.2h.1M68.3 26.6h.1M63.8 18.9h.1M66.1 35.0h.1M69.4 22.5h.1M71.3 11.3h.1M67.8 41.7h.1M73.7 21.3h.1M73.4 28.2h.1M60.6 25.7h.1M69.2 35.8h.1M66.2 24.0h.1M72.4 32.4h.1M72.3 36.8h.1M70.4 35.7h.1M71.3 39.8h.1M71.4 29.0h.1M68.9 36.2h.1M62.1 36.3h.1M72.2 30.7h.1M72.7 35.4h.1M74.1 57.7h.1M69.7 22.1h.1M62.0 33.2h.1M63.9 23.7h.1M70.2 37.7h.1M68.4 37.7h.1M63.4 29.9h.1M69.2 38.0h.1M64.0 22.6h.1M68.9 18.7h.1M73.4 30.3h.1M67.1 25.8h.1M70.2 29.1h.1M70.9 36.8h.1M72.0 49.1h.1M72.3 22.3h.1M66.3 33.7h.1M71.8 24.0h.1M61.6 16.4h.1M69.6 26.6h.1M69.4 41.5h.1M64.6 40.8h.1M66.0 18.4h.1M66.0 31.0h.1M68.6 38.0h.1M63.0 28.6h.1M70.9 24.7h.1M67.6 42.7h.1M61.9 40.9h.1M62.4 33.0h.1M66.5 36.4h.1M71.7 49.9h.1M71.2 22.9h.1M70.8 33.9h.1M63.7 43.7h.1M68.3 16.7h.1M72.7 37.8h.1M69.7 20.3h.1M73.4 26.2h.1M64.1 41.7h.1M68.5 33.9h.1M71.4 23.1h.1M66.9 34.8h.1M70.0 19.0h.1M61.2 28.8h.1M65.4 18.8h.1M71.8 33.2h.1M65.3 27.2h.1M63.7 35.8h.1M63.5 37.1h.1M70.9 29.1h.1M67.5 35.7h.1M65.8 28.6h.1M66.5 41.8h.1M74.3 16.0h.1M72.1 26.7h.1M64.1 34.5h.1M63.6 21.9h.1M73.6 31.6h.1M75.0 34.1h.1M67.5 6.4h.1M64.2 24.8h.1M74.3 39.1h.1M63.8 21.8h.1M63.1 27.2h.1M69.6 33.7h.1M57.5 42.2h.1M70.6 33.7h.1M63.8 25.9h.1M68.3 16.0h.1M60.8 35.2h.1M71.1 32.2h.1M74.4 54.0h.1M74.2 17.5h.1M74.3 18.1h.1M71.8 43.1h.1M62.8 19.1h.1M72.4 26.4h.1M69.2 44.7h.1M65.4 20.4h.1M67.4 20.0h.1"/>
<path d="M434.5 194.8L436.3 195.5L438.1 196.3L439.9 197.0L441.7 197.8L443.5 198.5L445.3 199.3L447.1 199.9L448.9 200.5L450.7 201.1L452.5 201.7L454.3 202.3L456.1 202.8L457.9 203.2L459.7 203.6L461.5 203.7L463.3 203.7L465.1 203.5L466.9 203.1L468.7 202.5L470.5 201.8L472.3 201.1L474.1 200.3L475.9 199.4L477.7 198.6L479.5 197.8L481.3 196.8L483.1 195.9L484.9 194.8L486.7 193.8L488.5 192.8L490.3 191.8L492.1 190.9L493.9 190.1L495.7 189.2L497.5 188.4L499.3 187.6L501.1 186.9L502.9 186.1L504.7 185.3L506.5 184.5" fill="none" stroke="#d986c9" stroke-width="2.7" opacity="0.85" stroke-linejoin="round"/>
</g>
<rect x="431.6" y="155.9" width="77.79999999999995" height="77.69999999999999" fill="none" stroke="#111" stroke-width="1.3"/>
<text transform="translate(434.70000000000005 164.5) scale(0.86 1)" font-size="6.6" text-anchor="start" >peEF2</text>
<line x1="428.20000000000005" y1="230.6" x2="431.6" y2="230.6" stroke="#111" stroke-width="0.9"/>
<text transform="translate(422.7 233.0) scale(0.8 1)" font-size="7.0" text-anchor="middle" >0</text>
<line x1="428.20000000000005" y1="217.8" x2="431.6" y2="217.8" stroke="#111" stroke-width="0.9"/>
<text transform="translate(422.7 220.2) scale(0.8 1)" font-size="7.0" text-anchor="middle" >1</text>
<line x1="428.20000000000005" y1="205.0" x2="431.6" y2="205.0" stroke="#111" stroke-width="0.9"/>
<text transform="translate(422.7 207.4) scale(0.8 1)" font-size="7.0" text-anchor="middle" >2</text>
<line x1="428.20000000000005" y1="192.2" x2="431.6" y2="192.2" stroke="#111" stroke-width="0.9"/>
<text transform="translate(422.7 194.6) scale(0.8 1)" font-size="7.0" text-anchor="middle" >3</text>
<line x1="428.20000000000005" y1="179.4" x2="431.6" y2="179.4" stroke="#111" stroke-width="0.9"/>
<text transform="translate(422.7 181.8) scale(0.8 1)" font-size="7.0" text-anchor="middle" >4</text>
<line x1="428.20000000000005" y1="166.6" x2="431.6" y2="166.6" stroke="#111" stroke-width="0.9"/>
<text transform="translate(422.7 169.0) scale(0.8 1)" font-size="7.0" text-anchor="middle" >5</text>
<line x1="434.5" y1="233.6" x2="434.5" y2="237.0" stroke="#111" stroke-width="0.9"/>
<text transform="translate(434.5 247.6) scale(0.8 1)" font-size="7.0" text-anchor="middle" >0.0</text>
<line x1="470.5" y1="233.6" x2="470.5" y2="237.0" stroke="#111" stroke-width="0.9"/>
<text transform="translate(470.5 247.6) scale(0.8 1)" font-size="7.0" text-anchor="middle" >0.5</text>
<line x1="506.5" y1="233.6" x2="506.5" y2="237.0" stroke="#111" stroke-width="0.9"/>
<text transform="translate(506.5 247.6) scale(0.8 1)" font-size="7.0" text-anchor="middle" >1.0</text>
<clipPath id="cpB2"><rect x="334.0" y="253.1" width="78.19999999999999" height="77.9"/></clipPath>
<g clip-path="url(#cpB2)">
<path d="M352.8 303.1L356.6 302.9L360.3 302.6L364.0 302.3L367.8 302.0L371.5 301.5L375.3 301.0L379.0 300.3L382.8 299.5L386.5 298.5L390.2 297.5L394.0 296.4L397.7 295.2L397.7 314.6L394.0 315.7L390.2 316.8L386.5 317.8L382.8 318.8L379.0 319.6L375.3 320.3L371.5 320.8L367.8 321.3L364.0 321.6L360.3 322.0L356.6 322.2L352.8 322.4Z" fill="#c4c0bc" opacity="0.75" filter="url(#sb)"/>
<path d="M352.8 294.5L356.6 294.3L360.3 294.0L364.0 293.7L367.8 293.3L371.5 292.9L375.3 292.4L379.0 291.7L382.8 290.9L386.5 289.9L390.2 288.9L394.0 287.8L397.7 286.6L397.7 322.5L394.0 323.6L390.2 324.7L386.5 325.8L382.8 326.7L379.0 327.6L375.3 328.2L371.5 328.8L367.8 329.2L364.0 329.4L360.3 329.4L356.6 329.4L352.8 329.4Z" fill="#c4c0bc" opacity="0.55" filter="url(#sb)"/>
<path d="M336.9 302.8L339.4 302.8L342.0 302.8L344.5 302.8L347.0 302.8L349.6 302.8L352.1 302.8L354.6 302.8L357.2 302.8L359.7 302.8L362.2 302.8L364.8 302.8L367.3 302.8L367.3 322.1L364.8 322.1L362.2 322.1L359.7 322.1L357.2 322.1L354.6 322.1L352.1 322.1L349.6 322.1L347.0 322.1L344.5 322.1L342.0 322.1L339.4 322.1L336.9 322.1Z" fill="#8b7a45" opacity="0.46" filter="url(#sb)"/>
<path d="M336.9 294.2L339.4 294.2L342.0 294.2L344.5 294.2L347.0 294.2L349.6 294.2L352.1 294.2L354.6 294.2L357.2 294.2L359.7 294.2L362.2 294.2L364.8 294.2L367.3 294.2L367.3 329.4L364.8 329.4L362.2 329.4L359.7 329.4L357.2 329.4L354.6 329.4L352.1 329.4L349.6 329.4L347.0 329.4L344.5 329.4L342.0 329.4L339.4 329.4L336.9 329.4Z" fill="#8b7a45" opacity="0.34" filter="url(#sb)"/>
<path d="M339.1 304.8L339.5 304.8L339.9 304.8L340.3 304.8L340.8 304.8L341.2 304.8L341.6 304.8L342.0 304.8L342.5 304.8L342.9 304.8L343.3 304.8L343.7 304.8L344.1 304.8L344.1 320.2L343.7 320.2L343.3 320.2L342.9 320.2L342.5 320.2L342.0 320.2L341.6 320.2L341.2 320.2L340.8 320.2L340.3 320.2L339.9 320.2L339.5 320.2L339.1 320.2Z" fill="#8b7a45" opacity="0.68" filter="url(#sb)"/>
<path d="M339.1 297.9L339.5 297.9L339.9 297.9L340.3 297.9L340.8 297.9L341.2 297.9L341.6 297.9L342.0 297.9L342.5 297.9L342.9 297.9L343.3 297.9L343.7 297.9L344.1 297.9L344.1 326.6L343.7 326.6L343.3 326.6L342.9 326.6L342.5 326.6L342.0 326.6L341.6 326.6L341.2 326.6L340.8 326.6L340.3 326.6L339.9 326.6L339.5 326.6L339.1 326.6Z" fill="#8b7a45" opacity="0.50" filter="url(#sb)"/>
<path d="M394.8 293.7L396.0 293.7L397.2 293.7L398.4 293.7L399.6 293.7L400.9 293.7L402.1 293.7L403.3 293.7L404.5 293.7L405.7 293.7L406.9 293.7L408.1 293.7L409.3 293.7L409.3 311.9L408.1 311.9L406.9 311.9L405.7 311.9L404.5 311.9L403.3 311.9L402.1 311.9L400.9 311.9L399.6 311.9L398.4 311.9L397.2 311.9L396.0 311.9L394.8 311.9Z" fill="#7c2c2c" opacity="0.68" filter="url(#sb)"/>
<path d="M394.8 285.7L396.0 285.7L397.2 285.7L398.4 285.7L399.6 285.7L400.9 285.7L402.1 285.7L403.3 285.7L404.5 285.7L405.7 285.7L406.9 285.7L408.1 285.7L409.3 285.7L409.3 319.3L408.1 319.3L406.9 319.3L405.7 319.3L404.5 319.3L403.3 319.3L402.1 319.3L400.9 319.3L399.6 319.3L398.4 319.3L397.2 319.3L396.0 319.3L394.8 319.3Z" fill="#7c2c2c" opacity="0.50" filter="url(#sb)"/>
<path transform="translate(334.0 253.1)" stroke="#c4c0bc" stroke-width="0.7" stroke-linecap="square" d="M31.5 68.8h.1M60.5 45.5h.1M62.0 49.6h.1M59.1 56.3h.1M32.5 68.6h.1M49.2 43.4h.1M58.8 44.8h.1M24.6 66.5h.1M65.0 48.0h.1M38.9 64.7h.1M28.2 11.3h.1M45.5 40.2h.1M52.1 68.8h.1M44.2 73.7h.1M23.3 74.0h.1M42.8 55.3h.1M17.3 15.5h.1M55.4 57.6h.1M26.1 57.9h.1M36.1 74.0h.1M57.4 53.4h.1M29.0 54.4h.1M44.9 57.4h.1M21.2 67.4h.1M54.8 72.9h.1M40.4 58.2h.1M35.0 53.7h.1M25.6 66.1h.1M32.1 45.5h.1M57.4 31.7h.1M34.0 65.2h.1M41.2 67.0h.1M37.1 64.8h.1M22.7 68.0h.1M20.1 62.3h.1M42.5 54.0h.1M54.9 41.4h.1M33.3 50.2h.1M37.8 47.1h.1M19.9 49.4h.1M32.0 51.3h.1M45.4 65.7h.1M22.6 42.5h.1M36.9 74.3h.1M43.0 60.4h.1M34.5 57.8h.1M32.1 50.9h.1M48.4 67.5h.1M54.1 53.4h.1M25.2 71.5h.1M38.0 59.5h.1M49.6 66.5h.1M49.5 62.8h.1M62.6 36.7h.1M21.5 56.2h.1M43.3 72.3h.1M48.1 62.7h.1M55.3 51.9h.1M23.7 60.9h.1M44.9 56.7h.1M34.3 49.8h.1M63.7 64.9h.1M51.7 57.0h.1M24.5 74.9h.1M25.7 64.0h.1M58.7 47.3h.1M24.4 58.0h.1M22.2 58.6h.1M39.0 63.3h.1M35.0 69.8h.1M51.3 58.8h.1M29.1 62.6h.1M37.4 71.6h.1M46.1 59.3h.1M55.9 74.9h.1M38.0 74.3h.1M17.4 74.9h.1M60.6 54.4h.1M38.0 74.9h.1M52.3 53.7h.1M23.8 54.1h.1M53.6 69.6h.1M34.8 49.9h.1M22.2 47.4h.1M48.6 25.1h.1M39.4 73.7h.1M63.3 33.3h.1M30.5 65.9h.1M49.7 74.9h.1M59.9 74.4h.1M61.8 38.2h.1M60.4 30.7h.1M50.2 62.9h.1M28.3 63.1h.1M47.3 74.9h.1M30.5 71.8h.1M49.1 34.9h.1M37.4 54.3h.1M50.3 43.4h.1M58.5 62.8h.1M62.1 60.9h.1M41.3 70.0h.1M36.3 71.3h.1M55.2 46.1h.1M68.6 56.7h.1M55.2 44.7h.1M46.1 59.0h.1M58.4 52.5h.1M18.9 70.5h.1M48.2 71.3h.1M36.7 69.5h.1M31.1 60.6h.1M37.2 52.0h.1M26.4 43.0h.1M21.9 60.5h.1M19.7 53.5h.1M63.2 42.4h.1M46.6 65.7h.1M59.8 60.5h.1M30.4 53.3h.1M57.9 50.2h.1M62.5 74.9h.1M46.5 54.1h.1M61.3 53.0h.1M41.5 64.3h.1M45.0 43.2h.1M39.5 57.6h.1M51.9 49.3h.1M23.8 61.6h.1M35.9 58.1h.1M47.3 66.5h.1M52.2 46.3h.1M29.2 69.7h.1M57.0 55.7h.1M23.4 50.6h.1M26.9 67.0h.1M25.0 69.8h.1M55.8 31.5h.1M36.3 61.6h.1M40.0 74.9h.1M55.0 50.5h.1M50.8 52.0h.1M33.8 42.7h.1M48.6 74.9h.1M27.5 61.6h.1M52.1 58.5h.1M61.2 50.8h.1M20.9 63.3h.1M30.5 61.8h.1M40.4 51.6h.1M56.3 35.8h.1M63.6 36.9h.1M19.9 63.5h.1M45.9 57.2h.1M37.5 46.1h.1M27.1 44.3h.1M21.2 56.9h.1M45.4 39.6h.1M46.0 22.1h.1M40.0 42.4h.1M33.0 71.2h.1M52.9 60.0h.1M65.3 29.9h.1M55.5 62.5h.1M62.3 52.2h.1M20.4 49.0h.1M19.8 65.8h.1M39.1 64.7h.1M56.1 65.8h.1M57.0 55.6h.1M20.8 48.7h.1M61.0 47.2h.1M57.6 64.0h.1M20.8 62.0h.1M41.6 58.1h.1M43.1 57.7h.1M61.7 47.3h.1M26.1 74.3h.1M44.1 51.2h.1M26.9 58.8h.1M53.0 31.8h.1M23.4 54.0h.1M31.7 59.6h.1M25.6 49.1h.1M18.7 53.7h.1M30.6 74.7h.1M53.8 45.3h.1M39.4 50.8h.1M38.0 59.1h.1M30.5 62.8h.1M52.4 74.9h.1M46.5 52.4h.1M51.2 55.0h.1M40.1 60.3h.1M61.2 68.6h.1M34.9 37.0h.1M26.0 42.7h.1M62.0 50.5h.1M32.8 56.4h.1M25.7 62.6h.1M35.0 49.2h.1M56.8 57.9h.1M55.5 45.9h.1M50.8 33.2h.1M62.7 14.7h.1M54.7 59.1h.1M32.2 55.4h.1M30.7 68.5h.1M20.4 65.2h.1M40.9 73.1h.1M34.2 57.4h.1M39.7 12.6h.1M37.3 48.8h.1M20.5 8.1h.1M23.2 42.8h.1M30.0 55.9h.1M17.1 56.2h.1M23.0 53.1h.1M43.9 47.9h.1M23.7 65.3h.1M58.1 49.8h.1M60.8 46.1h.1M51.8 68.7h.1M47.8 74.2h.1M35.8 67.0h.1M50.7 50.0h.1M19.8 60.0h.1M49.1 58.9h.1M22.3 67.7h.1M58.4 32.9h.1M29.4 74.9h.1M37.0 28.2h.1M53.4 43.8h.1M54.3 37.2h.1M43.0 65.5h.1M48.3 62.8h.1M24.8 63.1h.1M35.0 74.6h.1M26.0 72.0h.1M51.1 39.8h.1M44.6 65.9h.1M30.7 51.6h.1M28.8 64.8h.1M22.6 59.1h.1M46.3 33.2h.1M22.6 66.3h.1M61.5 53.1h.1M36.9 65.1h.1M28.2 54.4h.1M51.5 45.1h.1M63.2 47.8h.1M32.6 55.9h.1"/>
<path transform="translate(334.0 253.1)" stroke="#8b7a45" stroke-width="0.7" stroke-linecap="square" d="M17.4 39.8h.1M30.1 41.1h.1M14.3 63.7h.1M9.4 63.7h.1M30.9 70.0h.1M32.8 54.4h.1M10.7 74.9h.1M5.5 50.7h.1M17.6 45.3h.1M13.4 33.7h.1M18.0 57.1h.1M17.3 64.2h.1M7.9 72.4h.1M19.1 38.3h.1M32.3 40.3h.1M22.2 52.2h.1M23.4 19.3h.1M9.6 57.1h.1M9.0 61.2h.1M15.3 63.3h.1M3.7 66.9h.1M10.8 69.3h.1M29.3 34.1h.1M23.8 68.4h.1M10.2 54.6h.1M7.8 69.4h.1M19.5 71.1h.1M5.8 38.5h.1M13.2 37.1h.1M15.5 61.9h.1M31.2 71.1h.1M29.4 72.3h.1M23.9 68.4h.1M16.9 63.5h.1M18.0 64.1h.1M10.3 68.1h.1M21.1 63.4h.1M27.1 63.1h.1M14.5 74.9h.1M32.3 52.8h.1M3.0 59.7h.1M5.7 62.5h.1M12.4 35.0h.1M11.6 62.9h.1M10.9 46.1h.1M24.3 59.4h.1M19.4 65.8h.1M3.6 62.8h.1M32.1 50.5h.1M31.5 59.1h.1M22.4 60.4h.1M6.5 55.9h.1M31.9 67.5h.1M6.5 54.5h.1M27.0 67.7h.1M22.4 74.8h.1M23.1 74.9h.1M5.5 68.9h.1M9.7 66.3h.1M12.1 42.3h.1M19.1 73.3h.1M19.7 54.2h.1M26.7 62.8h.1M24.8 48.0h.1M13.9 51.1h.1M25.5 44.2h.1M9.6 42.5h.1M18.9 55.6h.1M24.2 39.6h.1M22.2 58.9h.1M4.0 69.3h.1M16.7 60.1h.1M9.6 36.4h.1M31.0 61.5h.1M32.5 55.5h.1M20.1 52.5h.1M6.6 65.8h.1M15.9 69.2h.1M11.0 27.5h.1M8.4 50.7h.1M28.8 54.5h.1M15.1 30.9h.1M9.8 16.4h.1M31.5 41.9h.1M6.0 61.0h.1M4.7 14.5h.1M31.4 60.0h.1M32.5 67.1h.1M19.8 11.9h.1M13.0 69.8h.1M33.3 23.4h.1M23.5 54.6h.1M14.0 66.7h.1M30.1 51.4h.1M7.1 73.4h.1M5.6 74.9h.1M18.9 69.2h.1M19.2 63.5h.1M3.5 66.7h.1M14.6 74.9h.1M5.3 44.6h.1M14.7 61.0h.1M5.2 41.4h.1M18.3 41.9h.1M8.8 56.1h.1M31.0 53.6h.1M6.5 55.3h.1M22.8 48.7h.1M16.5 61.8h.1M26.7 50.3h.1M24.8 70.9h.1M22.2 64.8h.1M16.1 69.9h.1M32.9 42.0h.1M25.0 46.8h.1M4.0 53.7h.1M28.6 71.0h.1M3.6 12.7h.1M20.9 62.1h.1M17.8 57.9h.1M32.1 63.5h.1M8.2 45.9h.1M27.8 50.9h.1M20.9 49.3h.1M31.1 74.4h.1M31.0 58.2h.1M15.3 48.6h.1M32.7 65.4h.1M5.3 68.7h.1M32.5 71.2h.1M30.6 74.9h.1M6.0 60.9h.1M24.1 56.6h.1M11.5 69.4h.1M30.7 63.1h.1M30.5 57.4h.1M2.9 59.1h.1M33.0 72.2h.1M35.7 66.2h.1M19.5 67.2h.1M14.8 57.2h.1M30.4 44.6h.1M15.4 49.5h.1M31.4 66.3h.1M5.7 45.0h.1M8.2 61.0h.1M9.1 53.4h.1M8.0 64.9h.1M32.9 69.7h.1M15.3 64.3h.1M24.4 46.5h.1M20.1 63.4h.1M10.7 49.1h.1M12.1 50.2h.1M13.9 39.2h.1M15.6 62.9h.1M16.9 51.2h.1M8.1 57.7h.1M17.4 39.9h.1M16.3 31.7h.1M3.3 60.3h.1M31.3 55.7h.1M13.9 58.7h.1M6.1 43.9h.1M9.7 56.9h.1M10.7 74.9h.1M33.0 63.0h.1M1.5 66.9h.1M30.7 45.1h.1M5.8 52.6h.1M30.2 45.2h.1M24.3 60.8h.1M18.1 65.7h.1M5.8 72.8h.1M28.8 63.3h.1M24.6 73.8h.1M28.8 44.6h.1M3.6 58.6h.1M20.0 61.6h.1M23.5 74.9h.1M16.3 60.0h.1M16.9 45.8h.1M8.7 57.8h.1M10.0 60.1h.1M24.1 64.8h.1M4.6 55.9h.1M25.5 62.6h.1M18.2 64.3h.1M6.3 74.9h.1M10.1 51.7h.1M26.2 54.2h.1M10.9 48.1h.1M8.6 45.6h.1M10.8 40.8h.1M17.2 63.9h.1M15.3 64.1h.1M17.5 44.9h.1M4.9 53.1h.1M28.6 58.1h.1M9.1 74.9h.1M26.0 54.6h.1M10.9 56.2h.1M10.9 62.3h.1M8.7 69.2h.1M28.6 61.2h.1M22.5 70.1h.1M8.9 70.3h.1M20.8 48.5h.1M16.8 70.3h.1M22.2 67.0h.1M18.4 56.0h.1M10.5 68.2h.1M15.8 56.7h.1M21.0 71.1h.1M10.2 42.1h.1M26.9 64.3h.1M24.7 72.3h.1M19.4 58.7h.1M24.6 48.9h.1M22.0 62.7h.1M8.8 70.8h.1M7.7 69.5h.1M7.8 35.0h.1M7.0 72.8h.1M22.4 56.8h.1M6.6 56.8h.1M4.5 64.2h.1M13.3 51.0h.1M21.3 51.4h.1M32.7 55.0h.1M7.8 54.2h.1M32.7 74.6h.1M10.4 72.1h.1M19.9 61.3h.1M23.6 48.6h.1M21.8 11.5h.1M9.7 56.5h.1M25.2 63.8h.1M20.0 59.6h.1M10.7 48.7h.1M14.0 52.0h.1M9.5 30.2h.1M8.0 63.9h.1M19.4 64.7h.1M19.9 50.8h.1M13.3 63.0h.1M29.0 68.0h.1M5.8 49.1h.1M17.2 53.4h.1M32.8 63.3h.1M28.4 44.3h.1M12.1 52.4h.1M13.2 67.2h.1M4.0 43.4h.1M19.5 41.1h.1M19.8 49.9h.1M25.5 71.8h.1M4.1 62.4h.1M15.0 60.8h.1M18.2 16.1h.1M10.4 67.7h.1M22.2 51.4h.1M27.2 73.7h.1M33.0 74.0h.1M12.5 49.1h.1M6.6 62.0h.1M28.7 60.9h.1M13.2 32.9h.1M3.3 68.8h.1M8.3 56.5h.1"/>
<path transform="translate(334.0 253.1)" stroke="#8b7a45" stroke-width="0.7" stroke-linecap="square" d="M6.3 48.5h.1M7.9 65.3h.1M5.8 56.5h.1M1.5 68.9h.1M8.5 69.3h.1M6.1 58.3h.1M10.1 72.4h.1M7.5 58.9h.1M6.4 56.3h.1M7.2 63.3h.1M13.5 60.4h.1M6.4 69.6h.1M6.7 56.8h.1M9.3 38.6h.1M9.7 50.5h.1M9.3 45.8h.1M8.1 61.1h.1M7.3 64.3h.1M7.0 74.9h.1M6.0 66.2h.1M5.2 63.8h.1M7.7 71.0h.1M10.5 52.7h.1M5.1 69.7h.1M9.5 66.5h.1M6.4 15.9h.1M9.8 58.2h.1M9.9 57.9h.1M10.5 59.3h.1M10.3 69.8h.1M5.7 63.7h.1M6.8 74.2h.1M8.4 50.8h.1M9.9 66.1h.1M4.3 74.9h.1M5.3 70.6h.1M8.2 60.8h.1M9.3 54.0h.1M7.4 62.5h.1M12.5 65.9h.1M7.6 34.5h.1M7.8 57.7h.1M6.2 52.5h.1M11.8 71.5h.1M8.8 66.6h.1M6.2 64.6h.1M2.1 70.6h.1M7.8 49.1h.1M5.1 52.3h.1M9.9 66.2h.1M8.1 74.9h.1M5.3 45.2h.1M6.7 65.7h.1M5.8 59.5h.1M6.2 52.7h.1M11.5 56.5h.1M6.1 59.9h.1M8.0 38.8h.1M5.8 69.7h.1M7.5 50.5h.1M6.3 50.1h.1M7.2 72.2h.1M7.9 48.8h.1M9.2 44.9h.1M6.0 60.9h.1M13.6 73.4h.1M6.0 74.9h.1M7.5 64.0h.1M8.5 64.4h.1M9.5 62.9h.1M8.2 63.9h.1M5.1 56.8h.1M7.3 57.4h.1M7.9 61.5h.1M7.1 58.2h.1M9.8 51.0h.1M7.1 71.8h.1M3.0 69.0h.1M14.7 62.3h.1M8.7 63.6h.1M2.9 25.5h.1M7.8 57.6h.1M9.3 64.9h.1M6.3 54.8h.1M7.5 42.8h.1M6.7 66.8h.1M7.8 61.1h.1M5.9 61.2h.1M8.5 62.9h.1M8.5 50.8h.1M5.7 68.7h.1M5.4 51.6h.1M6.8 64.0h.1M5.4 38.0h.1M7.0 50.7h.1M8.0 56.8h.1M7.4 74.7h.1M6.9 57.9h.1M9.4 64.0h.1M5.4 74.1h.1M5.5 63.3h.1M8.7 73.9h.1M6.7 49.6h.1M6.2 61.5h.1M6.2 65.9h.1M7.8 51.2h.1M8.5 52.3h.1M7.0 50.9h.1M7.3 53.5h.1M5.3 62.7h.1M7.1 73.0h.1M8.2 65.7h.1M7.3 48.4h.1M5.9 69.3h.1M7.4 71.9h.1M7.1 58.7h.1M9.2 63.9h.1M7.5 72.5h.1M11.9 56.5h.1M6.8 64.1h.1M9.1 70.0h.1M9.3 60.1h.1M5.4 66.5h.1M7.9 64.9h.1M7.8 65.1h.1M7.0 57.6h.1M5.5 58.4h.1M9.6 60.7h.1M9.1 72.4h.1M6.3 57.5h.1M7.8 49.8h.1M8.7 65.1h.1M9.6 59.9h.1M10.5 55.5h.1M7.1 55.4h.1M5.3 72.7h.1M8.5 63.4h.1M7.6 58.3h.1M7.0 64.5h.1M7.9 62.8h.1M9.8 70.7h.1M7.5 60.8h.1M9.5 58.5h.1M10.0 67.8h.1M6.0 51.0h.1M5.3 74.9h.1M6.3 55.8h.1M7.9 49.4h.1M8.0 71.6h.1M9.2 73.7h.1M6.1 57.7h.1M7.8 55.8h.1M9.1 68.9h.1M5.6 63.5h.1M9.4 51.1h.1M7.9 74.9h.1"/>
<path transform="translate(334.0 253.1)" stroke="#7c2c2c" stroke-width="0.7" stroke-linecap="square" d="M65.0 32.5h.1M65.7 47.3h.1M68.8 37.4h.1M70.4 65.6h.1M76.7 40.7h.1M65.7 13.9h.1M67.4 33.6h.1M73.1 58.7h.1M67.5 44.0h.1M74.5 26.6h.1M57.8 52.9h.1M73.0 52.1h.1M64.7 44.4h.1M67.3 32.1h.1M60.2 64.2h.1M65.7 38.9h.1M74.5 37.6h.1M74.8 56.1h.1M67.7 50.4h.1M64.5 47.8h.1M76.7 40.9h.1M61.7 57.7h.1M70.3 54.3h.1M72.5 45.0h.1M67.8 56.3h.1M65.4 53.0h.1M74.8 51.0h.1M68.5 35.0h.1M64.2 61.8h.1M70.0 49.7h.1M73.1 56.2h.1M62.1 35.9h.1M71.6 56.4h.1M60.9 51.7h.1M72.6 47.6h.1M67.1 55.9h.1M67.9 17.2h.1M74.7 66.6h.1M72.2 52.5h.1M68.9 59.6h.1M62.9 46.4h.1M71.9 72.3h.1M73.9 57.0h.1M71.8 32.2h.1M60.9 56.5h.1M72.3 66.4h.1M61.6 54.8h.1M62.0 51.7h.1M66.8 50.8h.1M63.8 42.5h.1M72.0 42.0h.1M64.9 56.5h.1M68.2 53.7h.1M68.6 44.8h.1M62.7 61.0h.1M72.7 51.0h.1M73.8 50.9h.1M74.6 10.3h.1M65.8 65.5h.1M73.7 38.8h.1M74.4 62.1h.1M65.3 63.7h.1M66.4 53.8h.1M64.9 56.7h.1M62.2 45.9h.1M72.6 37.8h.1M62.4 51.9h.1M71.2 73.8h.1M68.5 65.1h.1M61.9 36.7h.1M63.6 64.5h.1M68.2 35.1h.1M63.5 50.5h.1M72.8 43.5h.1M70.7 64.2h.1M66.7 47.9h.1M71.7 53.7h.1M67.3 56.2h.1M63.7 46.3h.1M71.9 56.8h.1M64.4 50.1h.1M64.5 52.1h.1M69.2 46.5h.1M64.4 38.8h.1M72.5 39.8h.1M66.0 50.3h.1M68.5 38.9h.1M62.0 49.0h.1M67.7 67.4h.1M75.4 18.6h.1M68.6 43.5h.1M74.6 49.7h.1M65.0 63.9h.1M67.8 48.6h.1M60.9 53.3h.1M69.2 56.9h.1M70.0 38.8h.1M66.2 64.2h.1M70.4 54.3h.1M61.6 41.0h.1M68.0 51.8h.1M74.5 63.2h.1M62.5 46.2h.1M75.2 51.6h.1M68.9 62.2h.1M62.6 56.7h.1M61.5 40.0h.1M65.1 41.7h.1M75.2 67.7h.1M67.0 43.4h.1M63.8 66.6h.1M68.3 15.8h.1M72.4 51.0h.1M69.8 37.6h.1M70.8 63.7h.1M69.9 53.1h.1M64.1 57.3h.1M70.1 44.8h.1M71.5 64.4h.1M60.0 61.5h.1M72.9 64.9h.1M55.3 57.0h.1M67.5 36.1h.1M61.5 38.9h.1M68.4 16.1h.1M62.1 55.2h.1M67.2 54.6h.1M69.9 69.4h.1M71.3 43.2h.1M65.6 56.6h.1M72.9 32.7h.1M66.0 34.3h.1M66.6 50.2h.1M74.4 42.8h.1M66.0 42.9h.1M74.6 44.2h.1M66.1 28.0h.1M74.0 35.6h.1M62.2 44.4h.1M64.1 52.1h.1M62.3 57.2h.1M63.6 40.3h.1M67.2 40.0h.1M72.9 56.4h.1M64.2 71.1h.1M66.1 45.8h.1M63.3 66.8h.1M62.4 63.3h.1M68.9 51.0h.1M70.7 54.7h.1M68.0 54.0h.1M66.8 41.9h.1M63.5 58.0h.1M74.0 42.5h.1M74.7 50.8h.1M73.7 53.2h.1M72.3 59.7h.1M73.9 34.7h.1M70.0 44.3h.1M66.3 49.2h.1M65.3 51.2h.1M69.3 52.4h.1M65.1 41.3h.1M73.2 61.1h.1M72.9 49.2h.1M70.0 52.0h.1M67.0 46.4h.1M60.2 42.5h.1M68.6 51.8h.1M67.3 67.6h.1M66.4 49.9h.1M62.9 28.3h.1M67.7 50.0h.1M66.7 64.3h.1M64.5 43.4h.1M71.4 54.8h.1M71.1 49.2h.1M69.0 33.6h.1M68.7 50.5h.1M63.9 55.5h.1M71.4 58.1h.1M68.6 60.0h.1M64.9 53.2h.1M73.6 48.9h.1M71.7 68.4h.1M62.7 55.5h.1M66.4 42.3h.1M72.3 54.8h.1M65.9 42.1h.1M73.6 50.7h.1M75.7 69.2h.1M76.0 56.6h.1M74.8 35.7h.1M64.2 64.6h.1M64.8 49.1h.1M63.4 52.2h.1M67.0 48.4h.1M70.8 46.4h.1M71.1 55.0h.1M73.2 43.5h.1M74.6 42.8h.1M69.0 51.3h.1M76.1 66.7h.1M61.2 34.7h.1M67.0 47.5h.1M67.9 41.1h.1M73.1 60.7h.1M72.0 44.3h.1M61.9 30.3h.1M72.2 31.9h.1M68.4 60.8h.1M72.7 46.5h.1M68.6 44.7h.1M67.3 38.4h.1M64.0 67.8h.1M70.2 51.8h.1M74.0 32.7h.1M62.8 40.4h.1M67.0 61.2h.1M74.5 60.9h.1M65.9 47.3h.1M69.6 50.7h.1M72.6 50.3h.1M68.0 44.9h.1M74.2 57.5h.1M72.2 41.5h.1M71.7 49.7h.1M74.8 49.0h.1M69.4 68.5h.1M67.5 41.0h.1M62.3 55.0h.1M65.3 39.2h.1M63.7 63.4h.1M64.4 39.9h.1M69.8 66.7h.1M70.6 67.2h.1M68.9 52.7h.1M74.7 29.1h.1M64.8 63.1h.1M63.7 54.7h.1M61.3 50.1h.1M73.8 56.6h.1M70.5 49.6h.1M67.2 40.6h.1M75.3 44.4h.1M64.5 53.5h.1M62.7 61.1h.1M72.3 60.7h.1M71.4 71.2h.1M75.0 51.9h.1M67.7 42.8h.1M71.1 39.8h.1M69.4 57.7h.1M64.1 34.7h.1M64.7 24.7h.1M70.4 35.7h.1M69.5 54.6h.1M69.2 36.9h.1M65.7 9.0h.1M70.2 54.5h.1M62.5 60.3h.1M64.9 42.2h.1M66.2 42.0h.1M61.7 39.7h.1M70.5 57.6h.1M60.5 41.1h.1M67.9 50.7h.1M62.9 27.0h.1M71.8 55.0h.1M64.5 39.8h.1M62.9 41.1h.1M74.7 40.5h.1M67.7 55.9h.1M61.2 46.5h.1M64.9 59.8h.1M74.8 49.1h.1M66.0 34.6h.1M62.1 47.7h.1M74.1 40.0h.1M73.7 63.3h.1M67.4 52.8h.1M69.7 42.1h.1M68.4 55.0h.1M69.6 46.2h.1M68.8 12.2h.1M70.2 54.2h.1M64.5 48.9h.1M66.6 52.8h.1M69.7 52.3h.1M74.5 40.3h.1M74.8 57.5h.1M72.2 46.8h.1M74.9 60.2h.1M72.7 38.5h.1M66.7 40.6h.1M72.7 47.4h.1M69.1 55.4h.1M64.9 52.7h.1M63.6 61.4h.1M67.5 69.0h.1M68.7 74.5h.1M72.5 31.1h.1M67.7 37.6h.1M62.9 57.6h.1M70.6 58.0h.1M64.9 43.2h.1M75.1 54.2h.1M61.3 42.8h.1M71.6 53.1h.1M65.8 58.9h.1M65.8 43.8h.1M64.8 60.8h.1M74.0 52.8h.1M68.2 44.4h.1M70.8 62.2h.1M68.4 56.3h.1M62.2 29.1h.1M71.7 54.4h.1M67.0 54.9h.1M64.0 53.4h.1M66.6 42.8h.1M70.0 42.0h.1M69.8 74.9h.1M67.7 30.7h.1M69.9 55.2h.1M67.6 55.1h.1M65.3 42.3h.1M70.0 34.3h.1M64.5 48.0h.1M69.6 42.7h.1M62.7 51.1h.1M68.0 34.8h.1M67.1 62.6h.1M73.3 55.4h.1M74.6 25.3h.1M67.7 52.4h.1M73.8 35.2h.1M73.0 47.6h.1M71.6 61.7h.1M70.7 62.8h.1M63.9 40.2h.1M68.5 5.0h.1M63.2 56.5h.1M63.8 44.1h.1M65.4 52.4h.1M65.6 60.3h.1M66.0 53.8h.1M65.9 56.7h.1M75.0 50.7h.1M66.2 9.3h.1M67.3 55.5h.1M72.4 58.4h.1M73.8 57.8h.1M61.9 32.1h.1M61.4 61.0h.1M72.8 50.2h.1M68.1 59.3h.1M61.5 54.0h.1M70.3 33.8h.1M62.4 54.4h.1"/>
<path d="M336.9 313.5L338.7 313.5L340.5 313.4L342.3 313.4L344.1 313.4L345.9 313.3L347.8 313.3L349.6 313.3L351.4 313.2L353.2 313.1L355.0 313.1L356.8 312.9L358.6 312.8L360.4 312.7L362.2 312.5L364.0 312.4L365.9 312.2L367.7 312.0L369.5 311.8L371.3 311.6L373.1 311.3L374.9 311.1L376.7 310.8L378.5 310.4L380.3 310.1L382.1 309.7L384.0 309.2L385.8 308.8L387.6 308.3L389.4 307.8L391.2 307.2L393.0 306.7L394.8 306.2L396.6 305.6L398.4 305.1L400.2 304.5L402.1 303.9L403.9 303.4L405.7 302.8L407.5 302.3L409.3 301.8" fill="none" stroke="#d986c9" stroke-width="2.7" opacity="0.85" stroke-linejoin="round"/>
</g>
<rect x="334.0" y="253.1" width="78.19999999999999" height="77.9" fill="none" stroke="#111" stroke-width="1.3"/>
<text transform="translate(337.1 261.7) scale(0.86 1)" font-size="6.6" text-anchor="start" >Ki67</text>
<line x1="330.6" y1="328.0" x2="334.0" y2="328.0" stroke="#111" stroke-width="0.9"/>
<text transform="translate(325.1 330.4) scale(0.8 1)" font-size="7.0" text-anchor="middle" >0</text>
<line x1="330.6" y1="314.2" x2="334.0" y2="314.2" stroke="#111" stroke-width="0.9"/>
<text transform="translate(325.1 316.6) scale(0.8 1)" font-size="7.0" text-anchor="middle" >1</text>
<line x1="330.6" y1="300.4" x2="334.0" y2="300.4" stroke="#111" stroke-width="0.9"/>
<text transform="translate(325.1 302.8) scale(0.8 1)" font-size="7.0" text-anchor="middle" >2</text>
<line x1="330.6" y1="286.6" x2="334.0" y2="286.6" stroke="#111" stroke-width="0.9"/>
<text transform="translate(325.1 289.0) scale(0.8 1)" font-size="7.0" text-anchor="middle" >3</text>
<line x1="330.6" y1="272.8" x2="334.0" y2="272.8" stroke="#111" stroke-width="0.9"/>
<text transform="translate(325.1 275.2) scale(0.8 1)" font-size="7.0" text-anchor="middle" >4</text>
<line x1="330.6" y1="259.0" x2="334.0" y2="259.0" stroke="#111" stroke-width="0.9"/>
<text transform="translate(325.1 261.4) scale(0.8 1)" font-size="7.0" text-anchor="middle" >5</text>
<line x1="336.9" y1="331.0" x2="336.9" y2="334.4" stroke="#111" stroke-width="0.9"/>
<text transform="translate(336.9 345.0) scale(0.8 1)" font-size="7.0" text-anchor="middle" >0.0</text>
<line x1="373.1" y1="331.0" x2="373.1" y2="334.4" stroke="#111" stroke-width="0.9"/>
<text transform="translate(373.1 345.0) scale(0.8 1)" font-size="7.0" text-anchor="middle" >0.5</text>
<line x1="409.3" y1="331.0" x2="409.3" y2="334.4" stroke="#111" stroke-width="0.9"/>
<text transform="translate(409.3 345.0) scale(0.8 1)" font-size="7.0" text-anchor="middle" >1.0</text>
<clipPath id="cpB3"><rect x="431.6" y="253.1" width="77.79999999999995" height="77.9"/></clipPath>
<g clip-path="url(#cpB3)">
<path d="M450.3 306.1L454.1 306.7L457.8 307.1L461.5 307.3L465.2 307.2L468.9 307.0L472.7 306.6L476.4 306.2L480.1 305.6L483.8 304.8L487.5 303.8L491.3 302.6L495.0 301.1L495.0 317.7L491.3 319.1L487.5 320.4L483.8 321.3L480.1 322.1L476.4 322.7L472.7 323.2L468.9 323.5L465.2 323.7L461.5 323.8L457.8 323.6L454.1 323.2L450.3 322.7Z" fill="#c4c0bc" opacity="0.75" filter="url(#sb)"/>
<path d="M450.3 298.8L454.1 299.3L457.8 299.7L461.5 299.9L465.2 299.8L468.9 299.6L472.7 299.3L476.4 298.8L480.1 298.2L483.8 297.4L487.5 296.4L491.3 295.2L495.0 293.8L495.0 324.5L491.3 325.9L487.5 327.2L483.8 328.2L480.1 328.9L476.4 329.4L472.7 329.4L468.9 329.4L465.2 329.4L461.5 329.4L457.8 329.4L454.1 329.4L450.3 329.4Z" fill="#c4c0bc" opacity="0.55" filter="url(#sb)"/>
<path d="M434.5 305.9L437.0 305.9L439.5 305.9L442.1 305.9L444.6 305.9L447.1 305.9L449.6 305.9L452.1 305.9L454.7 305.9L457.2 305.9L459.7 305.9L462.2 305.9L464.7 305.9L464.7 322.4L462.2 322.4L459.7 322.4L457.2 322.4L454.7 322.4L452.1 322.4L449.6 322.4L447.1 322.4L444.6 322.4L442.1 322.4L439.5 322.4L437.0 322.4L434.5 322.4Z" fill="#8b7a45" opacity="0.46" filter="url(#sb)"/>
<path d="M434.5 298.5L437.0 298.5L439.5 298.5L442.1 298.5L444.6 298.5L447.1 298.5L449.6 298.5L452.1 298.5L454.7 298.5L457.2 298.5L459.7 298.5L462.2 298.5L464.7 298.5L464.7 329.2L462.2 329.2L459.7 329.2L457.2 329.2L454.7 329.2L452.1 329.2L449.6 329.2L447.1 329.2L444.6 329.2L442.1 329.2L439.5 329.2L437.0 329.2L434.5 329.2Z" fill="#8b7a45" opacity="0.34" filter="url(#sb)"/>
<path d="M436.7 307.6L437.1 307.6L437.5 307.6L437.9 307.6L438.3 307.6L438.8 307.6L439.2 307.6L439.6 307.6L440.0 307.6L440.4 307.6L440.9 307.6L441.3 307.6L441.7 307.6L441.7 320.9L441.3 320.9L440.9 320.9L440.4 320.9L440.0 320.9L439.6 320.9L439.2 320.9L438.8 320.9L438.3 320.9L437.9 320.9L437.5 320.9L437.1 320.9L436.7 320.9Z" fill="#8b7a45" opacity="0.68" filter="url(#sb)"/>
<path d="M436.7 301.7L437.1 301.7L437.5 301.7L437.9 301.7L438.3 301.7L438.8 301.7L439.2 301.7L439.6 301.7L440.0 301.7L440.4 301.7L440.9 301.7L441.3 301.7L441.7 301.7L441.7 326.3L441.3 326.3L440.9 326.3L440.4 326.3L440.0 326.3L439.6 326.3L439.2 326.3L438.8 326.3L438.3 326.3L437.9 326.3L437.5 326.3L437.1 326.3L436.7 326.3Z" fill="#8b7a45" opacity="0.50" filter="url(#sb)"/>
<path d="M492.1 298.5L493.3 298.5L494.5 298.5L495.7 298.5L496.9 298.5L498.1 298.5L499.3 298.5L500.5 298.5L501.7 298.5L502.9 298.5L504.1 298.5L505.3 298.5L506.5 298.5L506.5 316.3L505.3 316.3L504.1 316.3L502.9 316.3L501.7 316.3L500.5 316.3L499.3 316.3L498.1 316.3L496.9 316.3L495.7 316.3L494.5 316.3L493.3 316.3L492.1 316.3Z" fill="#7c2c2c" opacity="0.68" filter="url(#sb)"/>
<path d="M492.1 290.6L493.3 290.6L494.5 290.6L495.7 290.6L496.9 290.6L498.1 290.6L499.3 290.6L500.5 290.6L501.7 290.6L502.9 290.6L504.1 290.6L505.3 290.6L506.5 290.6L506.5 323.5L505.3 323.5L504.1 323.5L502.9 323.5L501.7 323.5L500.5 323.5L499.3 323.5L498.1 323.5L496.9 323.5L495.7 323.5L494.5 323.5L493.3 323.5L492.1 323.5Z" fill="#7c2c2c" opacity="0.50" filter="url(#sb)"/>
<path transform="translate(431.6 253.1)" stroke="#c4c0bc" stroke-width="0.7" stroke-linecap="square" d="M55.0 34.5h.1M33.8 61.1h.1M45.7 66.6h.1M31.6 66.3h.1M40.0 50.4h.1M61.3 64.0h.1M28.6 43.6h.1M62.0 47.8h.1M54.9 72.2h.1M50.8 59.9h.1M22.7 63.9h.1M18.2 62.2h.1M54.1 48.2h.1M58.0 61.0h.1M25.8 70.9h.1M40.0 14.6h.1M34.0 58.0h.1M61.3 64.9h.1M49.4 55.0h.1M33.6 63.4h.1M36.2 55.6h.1M56.4 49.3h.1M38.2 64.9h.1M28.9 31.6h.1M36.9 67.8h.1M25.3 68.7h.1M26.5 55.4h.1M34.3 72.4h.1M57.3 52.7h.1M53.9 59.3h.1M22.0 70.6h.1M27.4 65.8h.1M29.1 65.5h.1M25.9 74.2h.1M58.6 54.5h.1M25.3 67.3h.1M56.7 73.5h.1M27.0 48.3h.1M60.1 74.4h.1M42.5 57.8h.1M54.9 58.1h.1M51.3 74.5h.1M54.0 61.3h.1M38.9 18.4h.1M57.3 59.3h.1M34.3 57.9h.1M47.0 8.0h.1M56.9 52.1h.1M42.5 48.3h.1M39.7 53.0h.1M36.9 55.2h.1M47.9 49.7h.1M42.4 66.6h.1M50.7 63.2h.1M61.1 33.4h.1M24.3 49.8h.1M47.9 71.2h.1M59.4 69.8h.1M28.6 50.5h.1M33.3 50.2h.1M47.3 52.8h.1M22.3 62.6h.1M52.0 65.2h.1M34.0 68.9h.1M31.3 38.1h.1M53.1 51.1h.1M42.3 58.6h.1M35.7 64.0h.1M50.4 58.9h.1M55.2 73.6h.1M46.9 69.8h.1M36.8 52.3h.1M35.3 51.6h.1M50.5 68.1h.1M56.2 72.0h.1M23.7 65.5h.1M34.7 66.0h.1M27.7 60.5h.1M49.2 54.4h.1M39.8 44.1h.1M23.1 55.5h.1M53.6 65.3h.1M22.2 55.0h.1M62.4 53.3h.1M57.3 67.0h.1M22.6 64.0h.1M18.9 58.3h.1M19.4 56.8h.1M47.1 57.6h.1M18.9 66.7h.1M21.2 58.9h.1M55.0 61.1h.1M23.0 43.9h.1M26.9 62.6h.1M27.2 70.7h.1M44.6 67.2h.1M54.2 35.5h.1M46.3 74.3h.1M53.6 47.0h.1M38.8 57.5h.1M20.0 55.8h.1M35.9 59.8h.1M54.0 55.7h.1M31.2 66.9h.1M27.4 38.7h.1M26.4 64.4h.1M57.1 69.0h.1M19.1 62.7h.1M48.9 50.4h.1M56.1 48.2h.1M19.5 36.4h.1M58.4 71.6h.1M49.9 40.4h.1M58.8 64.9h.1M48.9 64.5h.1M37.4 59.5h.1M38.4 50.5h.1M43.8 46.2h.1M39.9 49.9h.1M32.9 58.0h.1M28.8 67.5h.1M50.2 68.1h.1M58.2 48.1h.1M50.2 65.1h.1M23.5 57.9h.1M61.0 53.9h.1M52.7 66.7h.1M30.7 62.9h.1M41.5 52.0h.1M60.7 64.9h.1M43.9 55.0h.1M29.3 71.7h.1M58.8 53.2h.1M20.7 57.9h.1M61.7 37.8h.1M34.8 56.7h.1M36.6 46.6h.1M33.5 71.7h.1M54.4 43.6h.1M54.4 48.2h.1M30.3 56.6h.1M43.5 29.9h.1M46.7 53.2h.1M35.4 66.5h.1M24.5 60.4h.1M41.8 46.9h.1M19.7 73.0h.1M38.0 70.2h.1M51.4 74.9h.1M44.4 47.8h.1M45.7 65.6h.1M42.6 54.6h.1M36.8 43.6h.1M57.4 68.8h.1M22.1 68.9h.1M36.0 74.9h.1M39.1 66.0h.1M43.7 48.2h.1M51.5 70.5h.1M26.0 71.6h.1M21.4 47.2h.1M53.8 74.9h.1M27.0 68.7h.1M33.4 62.3h.1M45.0 74.9h.1M55.0 60.2h.1M42.7 7.1h.1M40.1 54.1h.1M25.0 68.5h.1M30.1 67.1h.1M36.2 71.1h.1M46.5 57.9h.1M48.0 65.3h.1M29.4 72.9h.1M56.9 74.9h.1M23.2 54.9h.1M57.9 59.8h.1M35.1 74.6h.1M23.3 69.0h.1M19.2 69.1h.1M38.8 59.4h.1M28.4 54.2h.1M21.4 69.1h.1M22.7 66.9h.1M45.2 52.2h.1M22.7 54.7h.1M19.0 55.0h.1M23.8 67.2h.1M56.1 42.5h.1M50.2 68.7h.1M50.7 54.4h.1M24.5 69.4h.1M21.2 65.0h.1M36.5 63.2h.1M27.9 56.0h.1M50.8 55.0h.1M29.3 55.5h.1M36.5 67.2h.1M40.2 74.7h.1M29.6 66.8h.1M44.8 59.8h.1M63.9 59.9h.1M55.5 59.7h.1M23.1 70.7h.1M22.0 39.2h.1M47.6 64.5h.1M51.2 62.1h.1M62.9 47.8h.1M38.9 63.5h.1M19.8 70.6h.1M19.5 42.7h.1M46.0 59.6h.1M28.9 68.5h.1M34.2 65.7h.1M51.0 74.0h.1M43.2 52.6h.1M19.7 48.5h.1M47.1 71.0h.1M53.6 53.1h.1M47.4 59.4h.1M28.2 37.9h.1M32.0 65.1h.1M47.9 68.2h.1M41.1 64.4h.1M50.4 69.6h.1M58.8 58.5h.1M56.4 53.3h.1M59.8 57.9h.1M32.3 48.0h.1M39.7 39.9h.1M32.4 74.9h.1M42.9 57.8h.1M44.3 64.5h.1M39.2 55.9h.1M23.9 68.2h.1M50.9 49.3h.1M23.7 58.7h.1M56.0 65.8h.1M53.6 50.6h.1M33.6 71.1h.1M26.8 58.3h.1M33.8 71.3h.1M23.6 71.3h.1M48.0 51.9h.1M19.1 54.4h.1M23.6 60.3h.1M25.8 45.4h.1M42.9 49.8h.1M35.0 71.9h.1M42.1 74.9h.1M48.1 61.6h.1M42.5 14.6h.1"/>
<path transform="translate(431.6 253.1)" stroke="#8b7a45" stroke-width="0.7" stroke-linecap="square" d="M14.2 53.3h.1M18.6 66.8h.1M4.5 52.1h.1M27.7 65.1h.1M12.0 67.0h.1M23.7 71.1h.1M8.5 49.0h.1M14.3 48.9h.1M32.8 62.6h.1M31.0 72.3h.1M11.1 69.7h.1M6.5 62.6h.1M30.0 60.9h.1M14.4 62.3h.1M32.8 52.1h.1M6.9 62.1h.1M22.2 72.6h.1M14.8 61.8h.1M18.5 50.5h.1M28.8 61.8h.1M19.5 64.1h.1M6.9 71.9h.1M13.0 67.2h.1M21.2 59.9h.1M19.2 66.9h.1M27.3 67.9h.1M5.4 61.4h.1M7.3 74.1h.1M26.2 61.5h.1M23.2 68.5h.1M7.7 54.5h.1M10.7 72.4h.1M28.1 30.0h.1M21.0 65.8h.1M22.0 54.0h.1M19.1 68.9h.1M21.8 69.2h.1M5.3 51.4h.1M22.6 57.7h.1M9.6 73.8h.1M30.8 19.9h.1M12.3 53.4h.1M9.1 71.9h.1M5.7 65.9h.1M22.6 58.0h.1M22.2 61.5h.1M9.7 41.7h.1M18.5 58.6h.1M30.3 22.2h.1M9.1 41.8h.1M22.4 70.7h.1M10.2 64.8h.1M4.2 65.6h.1M3.8 66.4h.1M13.4 66.4h.1M22.5 57.6h.1M17.3 61.0h.1M15.6 62.4h.1M13.5 62.2h.1M13.6 73.9h.1M23.6 61.0h.1M9.2 58.1h.1M22.4 34.1h.1M13.8 54.1h.1M5.1 58.2h.1M7.0 67.2h.1M13.1 60.4h.1M12.6 63.1h.1M19.9 74.1h.1M17.9 36.2h.1M5.5 66.3h.1M25.1 65.5h.1M14.4 46.2h.1M26.0 64.7h.1M9.7 53.5h.1M12.2 65.5h.1M6.1 68.6h.1M3.2 54.8h.1M28.2 56.5h.1M1.5 59.0h.1M7.9 69.8h.1M29.6 45.5h.1M31.4 61.8h.1M14.7 59.7h.1M2.5 65.4h.1M30.8 54.4h.1M22.4 56.7h.1M12.7 58.9h.1M15.5 67.2h.1M5.3 65.3h.1M31.6 73.4h.1M11.4 73.5h.1M5.7 63.7h.1M17.2 49.6h.1M3.5 47.1h.1M24.7 60.6h.1M28.9 47.5h.1M22.6 44.3h.1M21.2 49.6h.1M15.0 66.7h.1M25.9 60.1h.1M24.0 66.7h.1M3.9 61.6h.1M32.4 58.8h.1M27.7 71.7h.1M25.7 63.7h.1M24.6 58.1h.1M10.1 42.4h.1M31.2 67.5h.1M8.1 41.5h.1M7.1 63.8h.1M23.1 66.2h.1M14.6 43.3h.1M28.2 59.1h.1M6.4 57.4h.1M12.1 71.1h.1M9.8 74.1h.1M19.6 62.5h.1M12.9 74.9h.1M4.0 74.9h.1M31.9 46.8h.1M27.0 74.3h.1M12.7 63.2h.1M24.1 56.6h.1M16.7 55.1h.1M26.7 49.2h.1M13.9 67.7h.1M23.9 69.5h.1M7.5 74.5h.1M12.7 63.3h.1M9.2 72.4h.1M31.3 69.3h.1M13.3 65.4h.1M19.4 14.6h.1M28.0 58.5h.1M22.6 54.0h.1M22.6 45.9h.1M9.5 56.8h.1M13.5 64.1h.1M11.7 63.0h.1M4.6 53.8h.1M21.2 74.9h.1M20.4 57.2h.1M11.8 64.1h.1M13.9 59.4h.1M16.4 74.9h.1M12.3 59.2h.1M5.1 46.6h.1M27.7 71.6h.1M33.7 54.6h.1M14.3 60.6h.1M9.3 67.8h.1M1.5 49.6h.1M16.3 69.8h.1M11.1 56.7h.1M13.9 70.8h.1M12.8 61.2h.1M29.4 58.8h.1M15.4 73.2h.1M22.0 50.3h.1M12.8 24.4h.1M9.8 50.6h.1M20.6 74.4h.1M30.2 71.7h.1M3.7 64.6h.1M24.3 44.5h.1M14.3 62.2h.1M25.5 67.2h.1M21.1 74.9h.1M19.2 62.6h.1M11.0 56.1h.1M18.8 48.7h.1M30.9 65.9h.1M16.3 68.2h.1M4.8 69.7h.1M5.9 46.5h.1M21.1 39.6h.1M30.0 71.9h.1M29.5 58.7h.1M11.7 44.7h.1M1.5 61.4h.1M24.3 41.9h.1M29.6 32.7h.1M15.3 55.8h.1M15.4 64.2h.1M8.8 55.9h.1M30.4 59.0h.1M15.2 66.4h.1M29.3 69.0h.1M31.6 48.8h.1M22.6 62.3h.1M18.3 45.0h.1M12.6 42.2h.1M30.2 63.5h.1M30.9 74.9h.1M15.8 66.3h.1M30.6 61.7h.1M22.1 51.0h.1M17.9 71.1h.1M28.0 58.0h.1M28.4 57.7h.1M16.6 66.8h.1M11.2 61.1h.1M28.3 64.3h.1M12.3 66.0h.1M26.5 53.1h.1M29.9 70.8h.1M20.2 70.5h.1M9.2 52.1h.1M25.2 68.1h.1M20.4 28.6h.1M1.5 62.7h.1M2.8 74.9h.1M22.1 47.8h.1M25.6 54.7h.1M19.3 51.6h.1M31.5 58.7h.1M3.1 65.8h.1M27.3 41.9h.1M9.3 58.0h.1M22.8 54.4h.1M4.5 64.4h.1M30.9 61.9h.1M4.4 69.6h.1M10.1 61.3h.1M14.3 69.8h.1M4.7 64.6h.1M21.0 39.7h.1M22.1 74.5h.1M24.8 43.0h.1M28.1 56.4h.1M11.9 74.9h.1M7.8 45.6h.1M21.1 62.7h.1M24.3 63.4h.1M30.7 50.3h.1M15.9 62.4h.1M11.0 64.1h.1M21.5 64.6h.1M32.0 58.3h.1M14.4 74.9h.1M18.9 63.0h.1M14.6 60.4h.1M8.5 67.8h.1M8.8 66.0h.1M16.3 58.8h.1M30.4 69.6h.1M4.9 48.8h.1M11.6 59.8h.1M5.5 48.3h.1M16.8 70.9h.1M7.4 71.3h.1M27.2 72.4h.1M17.4 52.8h.1M32.5 58.7h.1M17.0 61.4h.1M11.8 69.6h.1M31.7 53.6h.1M18.9 56.9h.1M27.9 57.6h.1M19.8 52.2h.1M28.4 45.2h.1M8.2 62.6h.1M10.3 46.0h.1M32.8 68.9h.1M25.7 54.7h.1M13.8 48.0h.1M11.9 52.3h.1M10.6 54.3h.1M24.0 57.4h.1"/>
<path transform="translate(431.6 253.1)" stroke="#8b7a45" stroke-width="0.7" stroke-linecap="square" d="M10.1 53.1h.1M9.4 36.5h.1M7.9 63.5h.1M8.6 55.3h.1M6.7 70.0h.1M7.5 64.0h.1M11.1 48.2h.1M9.1 66.8h.1M7.8 74.9h.1M6.0 72.6h.1M8.9 65.7h.1M9.3 67.4h.1M6.6 72.1h.1M9.3 65.8h.1M9.0 55.5h.1M8.8 61.5h.1M12.9 51.1h.1M10.2 67.5h.1M9.4 68.3h.1M8.1 53.5h.1M8.0 58.9h.1M8.4 54.9h.1M7.5 63.8h.1M8.2 57.3h.1M7.5 49.2h.1M5.1 66.7h.1M9.9 63.0h.1M6.5 57.3h.1M4.3 53.7h.1M6.0 62.1h.1M11.0 74.9h.1M6.3 65.7h.1M5.9 57.8h.1M8.9 63.5h.1M7.2 63.0h.1M7.3 62.5h.1M5.9 72.2h.1M7.8 63.6h.1M6.3 14.3h.1M7.4 61.6h.1M5.4 50.5h.1M11.4 53.9h.1M9.9 56.4h.1M6.1 67.2h.1M4.1 40.7h.1M6.9 57.3h.1M9.9 70.8h.1M7.2 62.3h.1M7.8 68.8h.1M5.9 56.2h.1M9.0 62.7h.1M5.6 53.0h.1M6.4 49.9h.1M6.4 70.1h.1M2.3 48.9h.1M9.3 70.5h.1M7.5 74.9h.1M9.6 51.9h.1M11.9 67.8h.1M8.8 56.8h.1M7.4 65.0h.1M5.6 62.8h.1M5.2 74.0h.1M8.7 58.1h.1M5.8 69.8h.1M6.7 60.1h.1M10.5 64.5h.1M6.9 63.6h.1M6.7 68.7h.1M5.5 53.5h.1M6.2 54.3h.1M6.3 51.8h.1M7.6 59.3h.1M7.0 51.4h.1M6.5 54.2h.1M5.6 47.1h.1M8.5 69.5h.1M5.6 57.2h.1M6.7 60.4h.1M4.0 65.5h.1M6.4 64.1h.1M8.2 63.1h.1M9.1 58.0h.1M7.4 64.7h.1M5.4 72.7h.1M5.9 67.5h.1M5.5 60.3h.1M6.1 61.7h.1M8.7 63.5h.1M7.9 50.9h.1M6.2 68.5h.1M7.2 58.9h.1M6.1 66.6h.1M8.7 54.6h.1M8.7 49.5h.1M9.7 62.8h.1M4.1 65.2h.1M7.1 58.9h.1M6.9 51.2h.1M6.2 58.4h.1M6.1 69.7h.1M5.8 60.6h.1M8.5 74.2h.1M7.3 66.4h.1M8.9 60.3h.1M8.9 62.4h.1M8.9 68.0h.1M5.2 46.5h.1M5.5 57.3h.1M6.1 73.6h.1M10.3 55.3h.1M8.2 55.2h.1M5.4 74.6h.1M7.9 59.1h.1M8.2 58.4h.1M9.2 65.2h.1M4.7 63.4h.1M5.1 54.4h.1M10.2 62.6h.1M6.7 53.4h.1M7.0 60.1h.1M7.3 65.5h.1M5.7 53.4h.1M8.0 60.3h.1M5.8 46.5h.1M8.3 72.7h.1M5.1 59.0h.1M8.0 66.0h.1M6.3 70.2h.1M9.3 48.4h.1M6.6 71.0h.1M6.3 52.6h.1M8.6 50.6h.1M6.3 57.6h.1M12.3 60.4h.1M8.8 52.7h.1M6.4 52.1h.1M9.5 72.7h.1M7.1 52.6h.1M9.2 51.7h.1M6.8 61.9h.1M6.1 71.3h.1M8.1 68.6h.1M6.8 70.3h.1M5.8 57.8h.1M7.3 57.7h.1M8.6 74.9h.1M8.5 57.9h.1M5.8 64.1h.1M8.4 60.6h.1M9.2 73.6h.1M5.4 62.0h.1M12.2 56.8h.1M4.6 57.0h.1M6.7 46.8h.1M8.7 53.3h.1"/>
<path transform="translate(431.6 253.1)" stroke="#7c2c2c" stroke-width="0.7" stroke-linecap="square" d="M74.8 55.4h.1M73.7 57.0h.1M61.7 42.3h.1M65.8 74.0h.1M74.1 41.6h.1M70.6 59.6h.1M73.8 74.9h.1M71.0 57.0h.1M72.6 44.5h.1M59.5 55.5h.1M75.6 45.9h.1M63.2 53.1h.1M73.0 57.4h.1M67.3 51.0h.1M72.2 67.9h.1M71.1 61.8h.1M64.3 60.7h.1M70.1 72.6h.1M71.4 45.2h.1M73.2 68.3h.1M72.0 58.4h.1M65.4 60.1h.1M69.4 42.6h.1M67.3 60.0h.1M72.1 51.7h.1M73.1 66.1h.1M74.4 54.7h.1M61.8 36.1h.1M66.2 56.3h.1M67.6 47.0h.1M72.1 64.9h.1M61.5 43.2h.1M68.1 71.6h.1M72.1 46.1h.1M62.5 44.2h.1M62.5 3.9h.1M61.7 48.0h.1M64.7 52.6h.1M65.5 64.7h.1M74.6 64.5h.1M73.9 63.7h.1M72.4 44.0h.1M63.7 48.7h.1M64.9 49.2h.1M64.4 61.9h.1M68.2 46.2h.1M66.9 61.5h.1M74.1 58.8h.1M66.5 47.2h.1M72.5 40.7h.1M65.6 59.7h.1M66.3 71.7h.1M61.6 46.8h.1M63.9 26.0h.1M67.2 45.4h.1M64.7 42.5h.1M71.9 41.4h.1M67.5 45.0h.1M71.4 59.7h.1M67.0 35.2h.1M65.4 68.6h.1M68.5 44.4h.1M67.0 41.8h.1M59.4 52.1h.1M73.2 41.9h.1M65.1 60.0h.1M65.1 42.5h.1M69.5 58.0h.1M62.2 43.9h.1M70.4 54.6h.1M67.3 43.8h.1M70.4 43.1h.1M64.5 73.2h.1M62.1 71.1h.1M66.9 50.2h.1M76.3 74.2h.1M62.4 42.0h.1M69.8 28.4h.1M73.8 48.0h.1M70.3 57.9h.1M71.5 58.6h.1M74.2 54.0h.1M68.8 47.7h.1M71.0 18.4h.1M70.8 57.6h.1M65.9 50.6h.1M62.9 41.9h.1M71.1 62.9h.1M66.5 38.7h.1M71.0 47.8h.1M74.4 58.3h.1M63.7 64.0h.1M59.6 46.1h.1M65.6 39.8h.1M60.2 47.6h.1M63.9 53.0h.1M64.8 43.1h.1M60.6 46.7h.1M66.3 52.8h.1M66.9 62.2h.1M70.3 62.4h.1M60.9 57.3h.1M60.9 47.2h.1M76.3 58.4h.1M68.0 20.1h.1M70.6 44.4h.1M62.6 54.8h.1M67.5 25.6h.1M67.1 62.8h.1M70.9 18.2h.1M64.7 61.8h.1M62.7 54.5h.1M73.7 39.6h.1M73.0 62.3h.1M72.3 62.9h.1M63.6 33.4h.1M72.7 57.5h.1M64.6 54.1h.1M67.8 67.5h.1M61.3 65.3h.1M74.4 52.6h.1M64.8 61.5h.1M65.2 58.6h.1M74.1 65.8h.1M74.7 41.5h.1M68.0 52.1h.1M64.7 52.3h.1M65.6 53.6h.1M68.7 68.4h.1M67.5 48.3h.1M71.4 42.8h.1M70.9 69.3h.1M74.4 57.7h.1M71.1 51.5h.1M72.1 57.4h.1M67.7 62.5h.1M60.9 52.1h.1M62.0 43.0h.1M62.3 40.4h.1M67.5 55.2h.1M71.0 45.1h.1M66.8 29.6h.1M68.9 57.9h.1M71.5 63.6h.1M72.7 51.5h.1M72.8 60.1h.1M67.5 26.9h.1M62.6 67.9h.1M70.5 58.8h.1M68.8 55.3h.1M62.4 57.0h.1M71.4 35.8h.1M71.7 62.8h.1M67.2 65.8h.1M60.8 48.3h.1M62.9 55.0h.1M64.3 43.2h.1M61.3 34.3h.1M65.9 47.8h.1M63.7 34.4h.1M63.4 50.1h.1M69.6 68.2h.1M68.3 58.8h.1M69.3 40.7h.1M65.9 45.9h.1M62.9 40.4h.1M64.7 55.6h.1M61.4 53.4h.1M67.5 46.9h.1M71.0 49.1h.1M66.9 34.2h.1M66.8 54.7h.1M65.6 49.7h.1M63.5 48.2h.1M64.2 36.7h.1M60.9 54.7h.1M69.9 45.7h.1M68.3 56.3h.1M73.7 58.2h.1M62.0 27.2h.1M67.2 46.8h.1M72.0 48.9h.1M66.7 58.4h.1M63.3 57.4h.1M72.4 54.9h.1M61.6 53.2h.1M57.9 71.7h.1M65.2 64.9h.1M71.7 65.4h.1M73.2 63.1h.1M67.3 57.0h.1M67.2 37.9h.1M68.2 46.8h.1M69.1 47.3h.1M66.2 74.8h.1M63.1 40.6h.1M66.9 66.0h.1M69.6 43.5h.1M66.1 48.7h.1M70.4 52.7h.1M72.3 71.8h.1M59.2 53.3h.1M58.8 25.8h.1M61.3 59.9h.1M63.3 60.3h.1M71.9 62.1h.1M66.5 44.9h.1M69.2 52.2h.1M63.3 44.3h.1M61.0 62.5h.1M65.9 35.5h.1M66.7 74.9h.1M63.2 65.0h.1M72.2 41.9h.1M76.3 59.9h.1M72.4 52.6h.1M69.8 53.1h.1M68.5 65.8h.1M71.2 57.6h.1M71.7 39.8h.1M58.1 51.0h.1M70.2 46.3h.1M64.6 59.7h.1M66.7 46.6h.1M66.0 59.9h.1M69.3 58.3h.1M74.1 44.2h.1M65.6 68.3h.1M60.7 68.0h.1M72.2 55.9h.1M69.7 62.8h.1M71.9 43.6h.1M64.0 50.5h.1M64.6 49.6h.1M73.8 63.9h.1M72.6 47.7h.1M63.9 45.5h.1M69.6 67.1h.1M69.6 50.2h.1M61.4 56.0h.1M65.8 47.0h.1M70.0 63.6h.1M69.7 51.4h.1M65.8 45.2h.1M67.2 67.7h.1M71.8 67.6h.1M67.9 60.0h.1M73.6 57.0h.1M61.1 58.1h.1M66.4 56.7h.1M69.0 62.9h.1M62.4 55.2h.1M70.9 67.0h.1M69.3 51.4h.1M63.2 50.9h.1M64.1 48.3h.1M66.3 45.0h.1M67.9 38.9h.1M71.3 43.2h.1M71.6 46.5h.1M70.4 15.5h.1M62.5 65.5h.1M61.5 37.6h.1M60.5 58.8h.1M69.3 60.7h.1M68.6 65.1h.1M73.4 25.3h.1M73.8 42.8h.1M55.6 70.3h.1M72.1 56.3h.1M69.8 57.7h.1M74.5 67.3h.1M61.7 33.9h.1M71.6 49.3h.1M70.6 55.0h.1M63.5 47.6h.1M71.7 61.0h.1M66.0 54.3h.1M76.3 55.0h.1M64.1 58.2h.1M76.3 51.3h.1M67.1 51.1h.1M65.6 40.1h.1M69.9 65.9h.1M71.5 67.8h.1M68.2 39.1h.1M61.7 50.7h.1M73.6 59.3h.1M71.4 42.7h.1M61.7 57.9h.1M69.2 10.6h.1M61.3 64.5h.1M65.2 57.4h.1M61.5 48.8h.1M71.8 48.8h.1M61.0 50.8h.1M72.2 28.9h.1M69.4 60.8h.1M62.4 60.7h.1M69.3 63.6h.1M67.4 23.7h.1M70.4 34.1h.1M67.8 41.5h.1M67.7 38.3h.1M70.7 33.5h.1M62.9 59.9h.1M72.1 55.9h.1M74.3 63.4h.1M70.2 74.9h.1M65.0 48.4h.1M73.1 64.2h.1M71.3 72.5h.1M66.3 36.8h.1M72.5 58.9h.1M67.8 70.3h.1M64.8 52.9h.1M60.7 35.0h.1M61.4 52.3h.1M61.4 61.2h.1M68.2 73.5h.1M69.7 57.8h.1M68.7 66.5h.1M63.4 63.3h.1M72.3 56.8h.1M67.2 50.1h.1M67.1 58.8h.1M65.4 51.7h.1M67.1 58.9h.1M64.2 46.9h.1M60.6 65.9h.1M68.6 56.0h.1M68.4 47.5h.1M68.3 7.4h.1M65.7 57.8h.1M68.9 40.5h.1M63.7 63.0h.1M66.3 43.0h.1M62.1 57.0h.1M67.1 42.9h.1M70.9 54.0h.1M74.7 60.4h.1M74.8 57.1h.1M67.7 58.2h.1M62.7 72.0h.1M64.6 45.2h.1M70.5 46.4h.1M67.3 69.0h.1M73.9 45.1h.1M68.1 67.4h.1M67.1 62.0h.1M74.9 54.8h.1M63.5 71.3h.1M55.0 54.2h.1M66.9 58.8h.1M66.3 56.3h.1M64.7 61.7h.1M62.9 46.7h.1M64.1 62.9h.1M68.9 43.0h.1M66.3 27.9h.1"/>
<path d="M434.5 311.1L436.3 311.6L438.1 312.0L439.9 312.5L441.7 312.9L443.5 313.4L445.3 313.8L447.1 314.2L448.9 314.5L450.7 314.8L452.5 315.1L454.3 315.3L456.1 315.5L457.9 315.7L459.7 315.8L461.5 315.9L463.3 315.9L465.1 315.8L466.9 315.7L468.7 315.6L470.5 315.4L472.3 315.3L474.1 315.1L475.9 314.8L477.7 314.6L479.5 314.3L481.3 314.0L483.1 313.6L484.9 313.1L486.7 312.7L488.5 312.1L490.3 311.5L492.1 310.9L493.9 310.2L495.7 309.4L497.5 308.7L499.3 307.9L501.1 307.2L502.9 306.5L504.7 305.7L506.5 305.1" fill="none" stroke="#d986c9" stroke-width="2.7" opacity="0.85" stroke-linejoin="round"/>
</g>
<rect x="431.6" y="253.1" width="77.79999999999995" height="77.9" fill="none" stroke="#111" stroke-width="1.3"/>
<text transform="translate(434.70000000000005 261.7) scale(0.86 1)" font-size="6.6" text-anchor="start" >&#946;&#8211;Catenin</text>
<line x1="428.20000000000005" y1="328.0" x2="431.6" y2="328.0" stroke="#111" stroke-width="0.9"/>
<text transform="translate(422.7 330.4) scale(0.8 1)" font-size="7.0" text-anchor="middle" >0</text>
<line x1="428.20000000000005" y1="314.5" x2="431.6" y2="314.5" stroke="#111" stroke-width="0.9"/>
<text transform="translate(422.7 316.9) scale(0.8 1)" font-size="7.0" text-anchor="middle" >1</text>
<line x1="428.20000000000005" y1="301.0" x2="431.6" y2="301.0" stroke="#111" stroke-width="0.9"/>
<text transform="translate(422.7 303.4) scale(0.8 1)" font-size="7.0" text-anchor="middle" >2</text>
<line x1="428.20000000000005" y1="287.5" x2="431.6" y2="287.5" stroke="#111" stroke-width="0.9"/>
<text transform="translate(422.7 289.9) scale(0.8 1)" font-size="7.0" text-anchor="middle" >3</text>
<line x1="428.20000000000005" y1="274.0" x2="431.6" y2="274.0" stroke="#111" stroke-width="0.9"/>
<text transform="translate(422.7 276.4) scale(0.8 1)" font-size="7.0" text-anchor="middle" >4</text>
<line x1="428.20000000000005" y1="260.5" x2="431.6" y2="260.5" stroke="#111" stroke-width="0.9"/>
<text transform="translate(422.7 262.9) scale(0.8 1)" font-size="7.0" text-anchor="middle" >5</text>
<line x1="434.5" y1="331.0" x2="434.5" y2="334.4" stroke="#111" stroke-width="0.9"/>
<text transform="translate(434.5 345.0) scale(0.8 1)" font-size="7.0" text-anchor="middle" >0.0</text>
<line x1="470.5" y1="331.0" x2="470.5" y2="334.4" stroke="#111" stroke-width="0.9"/>
<text transform="translate(470.5 345.0) scale(0.8 1)" font-size="7.0" text-anchor="middle" >0.5</text>
<line x1="506.5" y1="331.0" x2="506.5" y2="334.4" stroke="#111" stroke-width="0.9"/>
<text transform="translate(506.5 345.0) scale(0.8 1)" font-size="7.0" text-anchor="middle" >1.0</text>
<line x1="315.8" y1="332" x2="315.8" y2="160" stroke="#111" stroke-width="1"/>
<path d="M315.8 154.8 l-3.1 7.6 l3.1 -1.9 l3.1 1.9z" fill="#111"/>
<line x1="334" y1="349.9" x2="506" y2="349.9" stroke="#111" stroke-width="1"/>
<path d="M511.2 349.9 l-7.6 -3.1 l1.9 3.1 l-1.9 3.1z" fill="#111"/>
<text x="422.5" y="361.3" font-size="9" text-anchor="middle" textLength="45" lengthAdjust="spacingAndGlyphs">Pseudotime</text>
<text x="310.4" y="243.8" font-size="8.8" text-anchor="middle" transform="rotate(-90 310.4 243.8)" textLength="67" lengthAdjust="spacingAndGlyphs">asinh(intensity/5)</text>
<text transform="translate(8.9 386.9) scale(0.84 1)" font-size="13.2" text-anchor="start" >C</text>
<rect x="65.4" y="398.1" width="223.2" height="6.0" fill="url(#cbg)" stroke="#111" stroke-width="1.1"/>
<line x1="69.4" y1="394.70000000000005" x2="69.4" y2="398.1" stroke="#111" stroke-width="0.9"/>
<text transform="translate(69.4 391.3) scale(0.8 1)" font-size="7.0" text-anchor="middle" >&#8211;2</text>
<line x1="123.6" y1="394.70000000000005" x2="123.6" y2="398.1" stroke="#111" stroke-width="0.9"/>
<text transform="translate(123.6 391.3) scale(0.8 1)" font-size="7.0" text-anchor="middle" >&#8211;1</text>
<line x1="177.5" y1="394.70000000000005" x2="177.5" y2="398.1" stroke="#111" stroke-width="0.9"/>
<text transform="translate(177.5 391.3) scale(0.8 1)" font-size="7.0" text-anchor="middle" >0</text>
<line x1="231.5" y1="394.70000000000005" x2="231.5" y2="398.1" stroke="#111" stroke-width="0.9"/>
<text transform="translate(231.5 391.3) scale(0.8 1)" font-size="7.0" text-anchor="middle" >1</text>
<line x1="285.7" y1="394.70000000000005" x2="285.7" y2="398.1" stroke="#111" stroke-width="0.9"/>
<text transform="translate(285.7 391.3) scale(0.8 1)" font-size="7.0" text-anchor="middle" >2</text>
<text x="177.1" y="382.7" font-size="9" text-anchor="middle" textLength="45.8" lengthAdjust="spacingAndGlyphs">Row Z score</text>
<path stroke="#8381bd" stroke-width="6.24" d="M65.5 412.47h7.0M149.2 418.61h5.0M161.1 418.61h5.0M85.4 424.75h5.0M129.2 424.75h5.0M153.1 424.75h5.0M169.1 424.75h5.0M181.0 424.75h5.0M141.2 430.89h5.0M91.4 443.17h3.0M145.2 443.17h3.0M155.1 443.17h7.0M165.1 443.17h9.0M117.3 449.31h5.0M153.1 449.31h5.0M173.1 449.31h5.0M97.4 455.45h5.0M153.1 455.45h5.0M97.4 461.59h5.0M141.2 461.59h5.0M113.3 467.73h5.0M121.3 467.73h5.0M145.2 480.01h13.0M125.3 486.15h5.0M111.3 492.29h3.0M119.3 492.29h3.0M139.2 492.29h3.0M145.2 492.29h5.0M157.1 492.29h5.0M173.1 492.29h5.0M181.0 492.29h5.0M97.4 498.43h5.0M103.3 504.57h3.0M121.3 504.57h5.0M149.2 504.57h5.0M103.3 510.71h3.0M165.1 510.71h5.0M177.1 510.71h5.0M137.2 522.99h9.0M149.2 522.99h5.0M161.1 522.99h5.0M189.0 522.99h5.0M137.2 529.13h5.0M113.3 535.27h5.0M121.3 535.27h5.0M181.0 535.27h5.0M193.0 535.27h5.0M121.3 541.41h5.0M153.1 541.41h5.0M149.2 547.55h5.0M187.0 547.55h3.0M129.2 553.69h5.0M173.1 553.69h9.0M276.6 553.69h5.0"/>
<path stroke="#412f7d" stroke-width="6.24" d="M71.5 412.47h3.0M77.5 412.47h5.0M97.4 412.47h5.0M89.4 418.61h5.0M67.5 424.75h3.0M101.4 424.75h7.0M113.3 424.75h5.0M137.2 424.75h13.0M161.1 424.75h5.0M77.5 430.89h3.0M85.4 430.89h5.0M101.4 430.89h9.0M89.4 437.03h13.0M107.3 437.03h7.0M73.5 443.17h5.0M81.4 443.17h9.0M123.3 443.17h3.0M69.5 455.45h5.0M85.4 455.45h9.0M113.3 455.45h3.0M125.3 455.45h5.0M65.5 461.59h13.0M81.4 461.59h5.0M69.5 467.73h13.0M97.4 467.73h3.0M139.2 467.73h3.0M73.5 473.87h5.0M97.4 473.87h5.0M109.3 473.87h5.0M141.2 473.87h3.0M93.4 480.01h5.0M113.3 480.01h5.0M129.2 480.01h5.0M65.5 486.15h9.0M77.5 486.15h5.0M85.4 486.15h5.0M101.4 486.15h16.9M73.5 492.29h5.0M89.4 492.29h3.0M93.4 492.29h5.0M101.4 492.29h11.0M131.2 492.29h3.0M137.2 492.29h3.0M83.4 498.43h3.0M89.4 498.43h3.0M105.3 498.43h5.0M117.3 498.43h5.0M139.2 498.43h3.0M145.2 498.43h3.0M85.4 504.57h9.0M101.4 504.57h3.0M73.5 510.71h5.0M89.4 510.71h5.0M145.2 510.71h5.0M77.5 516.85h5.0M93.4 516.85h5.0M109.3 516.85h5.0M149.2 516.85h3.0M129.2 522.99h5.0M101.4 529.13h7.0M117.3 529.13h5.0M87.4 535.27h7.0M69.5 541.41h5.0M89.4 541.41h5.0M121.3 547.55h3.0M135.2 553.69h3.0M145.2 553.69h5.0"/>
<path stroke="#463482" stroke-width="6.24" d="M73.5 412.47h5.0M87.4 412.47h7.0M71.5 418.61h3.0M93.4 418.61h13.0M113.3 418.61h3.0M117.3 418.61h5.0M69.5 424.75h5.0M97.4 424.75h5.0M121.3 424.75h5.0M165.1 424.75h3.0M97.4 430.89h5.0M109.3 430.89h5.0M125.3 430.89h5.0M65.5 437.03h5.0M67.5 443.17h7.0M89.4 443.17h3.0M101.4 443.17h5.0M109.3 443.17h5.0M147.2 443.17h7.0M65.5 449.31h9.0M81.4 449.31h9.0M93.4 449.31h5.0M103.3 449.31h3.0M109.3 449.31h3.0M81.4 455.45h5.0M93.4 455.45h3.0M117.3 455.45h5.0M77.5 461.59h5.0M103.3 461.59h3.0M81.4 467.73h7.0M93.4 467.73h5.0M129.2 467.73h5.0M69.5 473.87h5.0M89.4 473.87h9.0M101.4 473.87h9.0M113.3 473.87h13.0M135.2 473.87h7.0M97.4 480.01h5.0M109.3 480.01h5.0M117.3 480.01h11.0M89.4 486.15h3.0M117.3 486.15h3.0M77.5 492.29h7.0M113.3 492.29h5.0M133.2 492.29h5.0M103.3 498.43h3.0M115.3 498.43h3.0M93.4 510.71h3.0M97.4 510.71h7.0M81.4 516.85h9.0M101.4 516.85h5.0M137.2 516.85h5.0M145.2 516.85h5.0M87.4 522.99h3.0M93.4 522.99h3.0M73.5 529.13h9.0M121.3 529.13h5.0M81.4 535.27h3.0M101.4 535.27h5.0M67.5 541.41h3.0M81.4 541.41h3.0M85.4 541.41h5.0M93.4 541.41h5.0M81.4 547.55h7.0M89.4 547.55h9.0M113.3 547.55h5.0M93.4 553.69h3.0M101.4 553.69h7.0"/>
<path stroke="#6965b3" stroke-width="6.24" d="M81.4 412.47h5.0M109.3 412.47h5.0M125.3 412.47h5.0M141.2 412.47h5.0M73.5 424.75h5.0M177.1 424.75h5.0M93.4 430.89h5.0M133.2 430.89h5.0M129.2 443.17h5.0M121.3 455.45h5.0M129.2 455.45h5.0M125.3 461.59h5.0M137.2 461.59h5.0M149.2 461.59h5.0M89.4 467.73h5.0M125.3 467.73h5.0M133.2 467.73h5.0M65.5 480.01h5.0M89.4 480.01h5.0M97.4 486.15h5.0M65.5 492.29h5.0M125.3 492.29h5.0M193.0 492.29h5.0M73.5 498.43h5.0M141.2 504.57h5.0M161.1 504.57h5.0M65.5 510.71h5.0M113.3 510.71h5.0M137.2 510.71h5.0M117.3 516.85h5.0M133.2 516.85h5.0M141.2 516.85h5.0M109.3 522.99h5.0M69.5 529.13h5.0M129.2 529.13h5.0M141.2 529.13h5.0M101.4 547.55h5.0M109.3 547.55h5.0M73.5 553.69h5.0M85.4 553.69h5.0"/>
<path stroke="#8d8bc7" stroke-width="6.24" d="M85.4 412.47h3.0M149.2 412.47h5.0M115.3 418.61h3.0M185.0 424.75h5.0M115.3 437.03h3.0M157.1 437.03h5.0M65.5 443.17h3.0M99.4 449.31h3.0M125.3 449.31h5.0M145.2 449.31h9.0M157.1 449.31h5.0M149.2 455.45h5.0M121.3 461.59h5.0M169.1 461.59h9.0M165.1 467.73h5.0M143.2 473.87h3.0M149.2 473.87h5.0M137.2 486.15h5.0M161.1 492.29h5.0M169.1 492.29h5.0M77.5 498.43h5.0M93.4 498.43h5.0M193.0 498.43h5.0M113.3 504.57h5.0M133.2 504.57h5.0M145.2 504.57h5.0M95.4 510.71h3.0M117.3 510.71h5.0M133.2 510.71h5.0M157.1 510.71h5.0M193.0 510.71h5.0M125.3 516.85h9.0M181.0 516.85h5.0M85.4 522.99h3.0M95.4 522.99h3.0M113.3 522.99h5.0M173.1 522.99h5.0M181.0 522.99h5.0M133.2 529.13h5.0M85.4 535.27h3.0M99.4 535.27h3.0M141.2 535.27h5.0M177.1 535.27h5.0M83.4 541.41h3.0M109.3 541.41h5.0M117.3 541.41h5.0M87.4 547.55h3.0M113.3 553.69h5.0M133.2 553.69h3.0M171.1 553.69h3.0"/>
<path stroke="#673f93" stroke-width="6.24" d="M93.4 412.47h5.0M89.4 430.89h5.0M65.5 455.45h5.0M81.4 480.01h5.0M69.5 498.43h5.0M69.5 504.57h5.0M93.4 529.13h5.0M69.5 535.27h3.0M69.5 547.55h7.0"/>
<path stroke="#4b3987" stroke-width="6.24" d="M101.4 412.47h5.0M113.3 412.47h5.0M133.2 412.47h7.0M73.5 418.61h7.0M81.4 418.61h9.0M105.3 418.61h9.0M131.2 418.61h9.0M111.3 424.75h3.0M135.2 424.75h3.0M159.1 424.75h3.0M71.5 430.89h7.0M117.3 430.89h9.0M73.5 437.03h5.0M85.4 437.03h5.0M113.3 437.03h3.0M77.5 443.17h3.0M93.4 443.17h5.0M113.3 443.17h5.0M125.3 443.17h5.0M153.1 443.17h3.0M89.4 449.31h5.0M97.4 449.31h3.0M105.3 449.31h5.0M73.5 455.45h9.0M107.3 455.45h7.0M137.2 455.45h5.0M85.4 461.59h11.0M105.3 461.59h5.0M67.5 467.73h3.0M105.3 467.73h5.0M141.2 467.73h5.0M67.5 473.87h3.0M85.4 473.87h5.0M69.5 480.01h5.0M77.5 480.01h5.0M85.4 480.01h5.0M73.5 486.15h5.0M81.4 486.15h3.0M85.4 492.29h5.0M97.4 492.29h3.0M117.3 492.29h3.0M85.4 498.43h5.0M141.2 498.43h5.0M77.5 504.57h5.0M93.4 504.57h3.0M97.4 504.57h5.0M71.5 510.71h3.0M77.5 510.71h5.0M141.2 510.71h5.0M149.2 510.71h3.0M73.5 516.85h5.0M97.4 516.85h5.0M113.3 516.85h5.0M69.5 522.99h5.0M89.4 522.99h5.0M81.4 529.13h3.0M97.4 529.13h5.0M115.3 529.13h3.0M125.3 529.13h5.0M77.5 535.27h5.0M93.4 535.27h7.0M161.1 535.27h7.0M73.5 541.41h3.0M77.5 541.41h5.0M97.4 541.41h3.0M97.4 547.55h5.0M117.3 547.55h5.0M89.4 553.69h5.0M137.2 553.69h5.0M163.1 553.69h9.0"/>
<path stroke="#5f5ba9" stroke-width="6.24" d="M105.3 412.47h5.0M117.3 412.47h5.0M77.5 424.75h5.0M93.4 424.75h5.0M117.3 424.75h5.0M149.2 424.75h5.0M193.0 424.75h5.0M81.4 430.89h5.0M97.4 443.17h5.0M105.3 443.17h5.0M133.2 443.17h9.0M141.2 455.45h5.0M109.3 461.59h5.0M145.2 461.59h5.0M81.4 473.87h5.0M125.3 473.87h5.0M133.2 480.01h5.0M125.3 498.43h5.0M181.0 498.43h5.0M65.5 504.57h5.0M89.4 516.85h5.0M105.3 516.85h5.0M77.5 522.99h5.0M117.3 522.99h5.0M125.3 522.99h5.0M169.1 535.27h5.0M189.0 535.27h5.0M133.2 541.41h5.0M165.1 541.41h5.0M129.2 547.55h5.0M204.9 553.69h5.0"/>
<path stroke="#6460ae" stroke-width="6.24" d="M121.3 412.47h5.0M129.2 412.47h5.0M121.3 418.61h9.0M125.3 424.75h5.0M65.5 430.89h5.0M129.2 430.89h5.0M137.2 430.89h5.0M145.2 430.89h5.0M101.4 437.03h5.0M117.3 443.17h5.0M141.2 443.17h5.0M129.2 449.31h5.0M133.2 455.45h5.0M165.1 461.59h5.0M101.4 467.73h5.0M109.3 467.73h5.0M145.2 467.73h5.0M129.2 473.87h5.0M101.4 480.01h9.0M137.2 480.01h9.0M121.3 486.15h5.0M145.2 486.15h5.0M177.1 486.15h5.0M121.3 492.29h5.0M109.3 498.43h5.0M121.3 498.43h5.0M173.1 498.43h5.0M109.3 504.57h5.0M85.4 510.71h5.0M69.5 516.85h5.0M121.3 516.85h5.0M105.3 522.99h5.0M133.2 522.99h5.0M157.1 522.99h5.0M109.3 529.13h5.0M105.3 535.27h5.0M117.3 535.27h5.0M125.3 535.27h5.0M157.1 535.27h5.0M113.3 541.41h5.0M220.9 541.41h5.0M97.4 553.69h5.0M149.2 553.69h5.0"/>
<path stroke="#8886c2" stroke-width="6.24" d="M139.2 412.47h3.0M153.1 412.47h5.0M165.1 412.47h5.0M139.2 418.61h7.0M153.1 418.61h5.0M177.1 418.61h5.0M109.3 424.75h3.0M69.5 430.89h3.0M79.4 430.89h3.0M121.3 443.17h3.0M161.1 443.17h5.0M181.0 443.17h5.0M101.4 449.31h3.0M137.2 449.31h5.0M105.3 455.45h3.0M115.3 455.45h3.0M145.2 455.45h5.0M157.1 455.45h5.0M165.1 455.45h5.0M95.4 461.59h3.0M133.2 461.59h5.0M181.0 461.59h5.0M197.0 461.59h5.0M87.4 467.73h3.0M133.2 473.87h3.0M145.2 473.87h5.0M127.3 480.01h3.0M91.4 486.15h3.0M129.2 486.15h5.0M83.4 492.29h3.0M91.4 492.29h3.0M129.2 492.29h3.0M141.2 492.29h5.0M113.3 498.43h3.0M129.2 498.43h5.0M137.2 498.43h3.0M149.2 498.43h5.0M153.1 504.57h9.0M121.3 510.71h5.0M165.1 516.85h5.0M208.9 516.85h5.0M121.3 522.99h5.0M113.3 529.13h3.0M167.1 535.27h3.0M173.1 535.27h5.0M65.5 541.41h3.0M75.5 541.41h3.0M101.4 541.41h5.0M141.2 541.41h5.0M149.2 541.41h5.0M137.2 547.55h5.0M165.1 547.55h5.0M117.3 553.69h9.0M153.1 553.69h5.0"/>
<path stroke="#bcbce0" stroke-width="6.24" d="M145.2 412.47h5.0M169.1 412.47h16.9M79.4 418.61h3.0M169.1 418.61h9.0M167.1 424.75h3.0M149.2 430.89h9.0M105.3 437.03h3.0M165.1 437.03h5.0M173.1 437.03h5.0M79.4 443.17h3.0M177.1 443.17h5.0M121.3 449.31h5.0M101.4 455.45h5.0M161.1 455.45h5.0M169.1 455.45h5.0M113.3 461.59h5.0M157.1 461.59h5.0M117.3 467.73h5.0M137.2 467.73h3.0M149.2 467.73h5.0M161.1 467.73h5.0M177.1 467.73h5.0M157.1 473.87h9.0M177.1 473.87h5.0M157.1 480.01h5.0M165.1 480.01h5.0M119.3 486.15h3.0M161.1 486.15h5.0M181.0 486.15h5.0M99.4 492.29h3.0M197.0 492.29h5.0M133.2 498.43h5.0M147.2 498.43h3.0M153.1 498.43h5.0M161.1 498.43h9.0M117.3 504.57h5.0M129.2 504.57h5.0M137.2 504.57h5.0M173.1 504.57h9.0M69.5 510.71h3.0M109.3 510.71h5.0M151.2 510.71h3.0M161.1 510.71h5.0M181.0 510.71h5.0M189.0 510.71h5.0M81.4 522.99h5.0M83.4 529.13h3.0M169.1 529.13h9.0M71.5 535.27h3.0M153.1 535.27h5.0M99.4 541.41h3.0M137.2 541.41h5.0M145.2 541.41h5.0M208.9 541.41h5.0M105.3 547.55h5.0M123.3 547.55h3.0M153.1 547.55h9.0M197.0 547.55h5.0M65.5 553.69h5.0M125.3 553.69h5.0M185.0 553.69h5.0"/>
<path stroke="#f8f7f5" stroke-width="6.24" d="M157.1 412.47h5.0M189.0 412.47h5.0M197.0 412.47h5.0M69.5 418.61h3.0M117.3 437.03h5.0M149.2 437.03h5.0M228.8 437.03h5.0M169.1 449.31h5.0M129.2 461.59h5.0M177.1 461.59h5.0M201.0 461.59h5.0M193.0 473.87h5.0M165.1 486.15h5.0M204.9 486.15h5.0M177.1 492.29h5.0M197.0 498.43h5.0M220.9 498.43h5.0M177.1 516.85h5.0M204.9 522.99h5.0M185.0 529.13h5.0M256.7 529.13h5.0M208.9 535.27h5.0M185.0 541.41h5.0M212.9 541.41h5.0M161.1 553.69h3.0M189.0 553.69h5.0"/>
<path stroke="#b7b7db" stroke-width="6.24" d="M161.1 412.47h5.0M107.3 424.75h3.0M133.2 424.75h3.0M157.1 424.75h3.0M173.1 424.75h5.0M121.3 437.03h28.9M153.1 437.03h5.0M113.3 449.31h5.0M181.0 449.31h5.0M101.4 461.59h3.0M99.4 467.73h3.0M157.1 467.73h5.0M181.0 467.73h5.0M65.5 473.87h3.0M153.1 473.87h5.0M165.1 473.87h13.0M181.0 473.87h5.0M161.1 480.01h5.0M169.1 480.01h5.0M141.2 486.15h5.0M169.1 486.15h5.0M153.1 492.29h5.0M91.4 498.43h3.0M101.4 498.43h3.0M75.5 504.57h3.0M125.3 504.57h5.0M169.1 504.57h5.0M105.3 510.71h5.0M125.3 510.71h5.0M153.1 510.71h5.0M169.1 510.71h9.0M185.0 510.71h5.0M153.1 516.85h5.0M173.1 516.85h5.0M197.0 516.85h5.0M97.4 522.99h5.0M153.1 522.99h5.0M169.1 522.99h5.0M177.1 522.99h5.0M65.5 529.13h5.0M107.3 529.13h3.0M145.2 529.13h5.0M268.7 529.13h5.0M137.2 535.27h5.0M145.2 535.27h5.0M204.9 535.27h5.0M75.5 547.55h3.0M133.2 547.55h5.0M141.2 547.55h5.0M81.4 553.69h5.0M95.4 553.69h3.0"/>
<path stroke="#fee2b9" stroke-width="6.24" d="M185.0 412.47h5.0M193.0 412.47h5.0M189.0 418.61h5.0M201.0 424.75h5.0M232.8 424.75h5.0M165.1 430.89h5.0M173.1 430.89h5.0M185.0 430.89h5.0M232.8 430.89h5.0M161.1 437.03h5.0M185.0 443.17h5.0M232.8 443.17h5.0M185.0 449.31h5.0M189.0 455.45h5.0M208.9 455.45h5.0M185.0 461.59h5.0M208.9 461.59h13.0M232.8 461.59h5.0M201.0 467.73h5.0M220.9 467.73h5.0M232.8 467.73h5.0M185.0 473.87h5.0M177.1 480.01h5.0M189.0 480.01h5.0M197.0 486.15h9.0M208.9 486.15h13.0M201.0 492.29h9.0M189.0 498.43h5.0M204.9 498.43h9.0M228.8 498.43h5.0M189.0 504.57h13.0M224.9 504.57h5.0M201.0 510.71h5.0M197.0 522.99h9.0M208.9 522.99h9.0M189.0 529.13h5.0M204.9 529.13h5.0M276.6 529.13h5.0M201.0 535.27h5.0M224.9 535.27h5.0M173.1 541.41h5.0M201.0 541.41h9.0M216.9 541.41h5.0M232.8 541.41h9.0M248.8 541.41h5.0M161.1 547.55h5.0M169.1 547.55h5.0M189.0 547.55h9.0"/>
<path stroke="#f4d8af" stroke-width="6.24" d="M201.0 412.47h9.0M220.9 412.47h5.0M204.9 424.75h20.9M189.0 430.89h5.0M197.0 430.89h5.0M204.9 430.89h9.0M236.8 430.89h5.0M244.8 430.89h5.0M197.0 437.03h5.0M244.8 437.03h5.0M193.0 443.17h5.0M216.9 443.17h5.0M189.0 449.31h5.0M197.0 449.31h9.0M220.9 461.59h5.0M236.8 467.73h5.0M201.0 473.87h5.0M185.0 480.01h5.0M197.0 480.01h5.0M240.8 486.15h5.0M189.0 492.29h5.0M208.9 492.29h5.0M169.1 498.43h5.0M201.0 498.43h5.0M232.8 498.43h5.0M204.9 504.57h9.0M161.1 516.85h5.0M236.8 516.85h5.0M248.8 516.85h5.0M216.9 522.99h5.0M177.1 529.13h9.0M193.0 529.13h5.0M280.6 529.13h8.0M73.5 535.27h5.0M109.3 535.27h5.0M145.2 547.55h5.0M256.7 547.55h9.0M157.1 553.69h5.0"/>
<path stroke="#efbb6b" stroke-width="6.24" d="M208.9 412.47h9.0M224.9 412.47h5.0M252.7 412.47h5.0M228.8 418.61h5.0M276.6 418.61h5.0M169.1 430.89h5.0M181.0 430.89h5.0M201.0 430.89h5.0M224.9 430.89h5.0M189.0 437.03h5.0M216.9 437.03h5.0M248.8 437.03h5.0M204.9 443.17h5.0M212.9 443.17h5.0M220.9 443.17h5.0M240.8 443.17h5.0M212.9 449.31h9.0M228.8 449.31h5.0M220.9 455.45h5.0M189.0 461.59h9.0M224.9 467.73h5.0M204.9 473.87h9.0M224.9 480.01h5.0M212.9 492.29h5.0M224.9 492.29h9.0M240.8 492.29h5.0M256.7 492.29h5.0M212.9 498.43h9.0M185.0 504.57h5.0M216.9 510.71h5.0M232.8 510.71h5.0M224.9 516.85h9.0M232.8 522.99h5.0M197.0 529.13h5.0M260.7 541.41h5.0M208.9 547.55h5.0M216.9 547.55h5.0M224.9 547.55h5.0M77.5 553.69h5.0M284.6 553.69h4.0"/>
<path stroke="#f9ddb4" stroke-width="6.24" d="M216.9 412.47h5.0M232.8 418.61h5.0M240.8 418.61h5.0M197.0 424.75h5.0M161.1 430.89h5.0M185.0 437.03h5.0M197.0 443.17h9.0M208.9 443.17h5.0M193.0 449.31h5.0M181.0 455.45h5.0M193.0 455.45h9.0M204.9 455.45h5.0M204.9 461.59h5.0M228.8 461.59h5.0M236.8 461.59h5.0M244.8 461.59h5.0M189.0 467.73h13.0M204.9 467.73h5.0M197.0 473.87h5.0M181.0 480.01h5.0M193.0 480.01h5.0M224.9 486.15h9.0M224.9 498.43h5.0M216.9 504.57h9.0M208.9 510.71h9.0M220.9 510.71h5.0M193.0 516.85h5.0M201.0 516.85h5.0M220.9 516.85h5.0M185.0 522.99h5.0M165.1 529.13h5.0M133.2 535.27h5.0M232.8 535.27h5.0M240.8 535.27h5.0M181.0 541.41h5.0M189.0 541.41h5.0M197.0 541.41h5.0M224.9 541.41h5.0M244.8 541.41h5.0M252.7 541.41h5.0M193.0 553.69h5.0"/>
<path stroke="#f9c575" stroke-width="6.24" d="M228.8 412.47h5.0M208.9 418.61h9.0M224.9 418.61h5.0M244.8 418.61h5.0M228.8 424.75h5.0M177.1 430.89h5.0M220.9 430.89h5.0M228.8 430.89h5.0M201.0 437.03h5.0M212.9 437.03h5.0M224.9 437.03h5.0M224.9 443.17h5.0M204.9 449.31h9.0M236.8 449.31h9.0M201.0 455.45h5.0M212.9 455.45h9.0M224.9 455.45h5.0M236.8 455.45h5.0M224.9 461.59h5.0M212.9 467.73h5.0M228.8 467.73h5.0M220.9 473.87h5.0M201.0 480.01h5.0M208.9 480.01h5.0M232.8 486.15h5.0M236.8 504.57h5.0M228.8 510.71h5.0M212.9 529.13h5.0M212.9 535.27h5.0M204.9 547.55h5.0M220.9 547.55h5.0M248.8 547.55h9.0M201.0 553.69h5.0M252.7 553.69h5.0"/>
<path stroke="#f2a54f" stroke-width="6.24" d="M232.8 412.47h5.0M240.8 412.47h9.0M204.9 418.61h5.0M236.8 418.61h5.0M236.8 424.75h9.0M248.8 430.89h5.0M220.9 437.03h5.0M240.8 437.03h5.0M252.7 437.03h5.0M244.8 443.17h5.0M260.7 443.17h5.0M232.8 449.31h5.0M232.8 455.45h5.0M248.8 455.45h5.0M256.7 455.45h5.0M248.8 461.59h5.0M244.8 467.73h9.0M216.9 473.87h5.0M232.8 473.87h5.0M244.8 473.87h5.0M264.7 473.87h5.0M220.9 480.01h5.0M232.8 492.29h5.0M244.8 498.43h5.0M252.7 498.43h5.0M228.8 504.57h5.0M240.8 504.57h9.0M240.8 510.71h9.0M240.8 516.85h5.0M252.7 516.85h9.0M224.9 522.99h5.0M240.8 522.99h9.0M236.8 529.13h5.0M260.7 529.13h5.0M276.6 547.55h5.0M236.8 553.69h5.0M256.7 553.69h5.0"/>
<path stroke="#f4c070" stroke-width="6.24" d="M236.8 412.47h5.0M216.9 418.61h9.0M224.9 424.75h5.0M216.9 430.89h5.0M169.1 437.03h5.0M208.9 437.03h5.0M256.7 437.03h5.0M280.6 437.03h5.0M228.8 443.17h5.0M236.8 443.17h5.0M220.9 449.31h9.0M244.8 455.45h5.0M216.9 467.73h5.0M189.0 473.87h5.0M212.9 473.87h5.0M224.9 473.87h9.0M204.9 480.01h5.0M212.9 480.01h9.0M228.8 480.01h5.0M236.8 486.15h5.0M244.8 486.15h5.0M216.9 492.29h9.0M201.0 504.57h5.0M232.8 504.57h5.0M224.9 510.71h5.0M236.8 510.71h5.0M65.5 516.85h5.0M212.9 516.85h5.0M220.9 522.99h5.0M236.8 522.99h5.0M208.9 529.13h5.0M252.7 529.13h5.0M228.8 535.27h5.0M173.1 547.55h5.0M201.0 547.55h5.0M228.8 547.55h5.0M264.7 547.55h5.0M197.0 553.69h5.0"/>
<path stroke="#ed8b41" stroke-width="6.24" d="M248.8 412.47h5.0M264.7 412.47h5.0M248.8 418.61h5.0M260.7 418.61h5.0M276.6 430.89h5.0M256.7 449.31h5.0M256.7 467.73h5.0M248.8 473.87h16.9M272.7 473.87h5.0M252.7 486.15h5.0M284.6 486.15h4.0M268.7 492.29h5.0M260.7 498.43h5.0M280.6 498.43h5.0M260.7 504.57h5.0M260.7 516.85h5.0M260.7 522.99h5.0M280.6 522.99h5.0M268.7 541.41h5.0M244.8 553.69h5.0M272.7 553.69h5.0"/>
<path stroke="#e8863c" stroke-width="6.24" d="M256.7 412.47h9.0M272.7 412.47h5.0M256.7 418.61h5.0M252.7 424.75h9.0M264.7 424.75h5.0M264.7 443.17h5.0M248.8 449.31h5.0M260.7 449.31h5.0M252.7 455.45h5.0M264.7 455.45h5.0M252.7 461.59h5.0M276.6 461.59h5.0M240.8 467.73h5.0M268.7 467.73h5.0M268.7 473.87h5.0M276.6 473.87h5.0M256.7 480.01h9.0M268.7 480.01h9.0M248.8 486.15h5.0M268.7 504.57h9.0M272.7 516.85h5.0M252.7 522.99h5.0M252.7 535.27h9.0M264.7 535.27h5.0M276.6 535.27h5.0M224.9 553.69h5.0M268.7 553.69h5.0"/>
<path stroke="#e76f39" stroke-width="6.24" d="M268.7 412.47h5.0M276.6 412.47h5.0M272.7 424.75h5.0M280.6 430.89h5.0M268.7 437.03h5.0M276.6 437.03h5.0M272.7 449.31h5.0M272.7 455.45h9.0M284.6 455.45h4.0M264.7 461.59h5.0M260.7 467.73h5.0M280.6 473.87h8.0M264.7 498.43h5.0M272.7 498.43h5.0M264.7 510.71h5.0M276.6 516.85h5.0M272.7 522.99h5.0M268.7 535.27h5.0M272.7 541.41h5.0M69.5 553.69h5.0M228.8 553.69h5.0"/>
<path stroke="#e26a34" stroke-width="6.24" d="M280.6 412.47h8.0M268.7 424.75h5.0M260.7 437.03h5.0M280.6 455.45h5.0M268.7 461.59h5.0M276.6 480.01h5.0M284.6 480.01h4.0M276.6 492.29h5.0M284.6 522.99h4.0M220.9 529.13h5.0M236.8 535.27h5.0M220.9 553.69h5.0"/>
<path stroke="#eda04a" stroke-width="6.24" d="M65.5 418.61h5.0M248.8 424.75h5.0M252.7 430.89h5.0M260.7 430.89h5.0M232.8 437.03h5.0M244.8 449.31h5.0M276.6 449.31h5.0M268.7 455.45h5.0M240.8 461.59h5.0M236.8 473.87h9.0M232.8 480.01h5.0M240.8 480.01h5.0M248.8 492.29h5.0M252.7 504.57h5.0M189.0 516.85h5.0M280.6 516.85h5.0M248.8 522.99h5.0M264.7 522.99h9.0M244.8 529.13h5.0M236.8 547.55h9.0M232.8 553.69h5.0"/>
<path stroke="#c1c1e5" stroke-width="6.24" d="M129.2 418.61h3.0M145.2 418.61h5.0M157.1 418.61h5.0M165.1 418.61h5.0M185.0 418.61h5.0M201.0 418.61h5.0M65.5 424.75h3.0M81.4 424.75h5.0M89.4 424.75h5.0M189.0 424.75h5.0M193.0 437.03h5.0M133.2 449.31h5.0M161.1 449.31h9.0M95.4 455.45h3.0M173.1 455.45h5.0M117.3 461.59h5.0M153.1 461.59h5.0M65.5 467.73h3.0M153.1 467.73h5.0M169.1 467.73h9.0M173.1 480.01h5.0M83.4 486.15h3.0M93.4 486.15h5.0M133.2 486.15h5.0M149.2 486.15h13.0M185.0 486.15h5.0M149.2 492.29h5.0M165.1 492.29h5.0M185.0 492.29h5.0M81.4 498.43h3.0M157.1 498.43h5.0M185.0 498.43h5.0M95.4 504.57h3.0M105.3 504.57h5.0M165.1 504.57h5.0M181.0 504.57h5.0M129.2 510.71h5.0M151.2 516.85h3.0M157.1 516.85h5.0M169.1 516.85h5.0M101.4 522.99h5.0M145.2 522.99h5.0M165.1 522.99h5.0M153.1 529.13h13.0M129.2 535.27h5.0M149.2 535.27h5.0M105.3 541.41h5.0M125.3 541.41h9.0M161.1 541.41h5.0M169.1 541.41h5.0M177.1 541.41h5.0M228.8 541.41h5.0M240.8 541.41h5.0M125.3 547.55h5.0M107.3 553.69h7.0M181.0 553.69h5.0M208.9 553.69h5.0"/>
<path stroke="#fdfcfa" stroke-width="6.24" d="M181.0 418.61h5.0M193.0 430.89h5.0M204.9 437.03h5.0M189.0 443.17h5.0M111.3 449.31h3.0M177.1 449.31h5.0M161.1 461.59h5.0M185.0 467.73h5.0M173.1 486.15h5.0M189.0 486.15h5.0M256.7 498.43h5.0M212.9 504.57h5.0M197.0 510.71h5.0M204.9 516.85h5.0M216.9 516.85h5.0M185.0 535.27h5.0M197.0 535.27h5.0M216.9 535.27h5.0M212.9 547.55h5.0"/>
<path stroke="#ffffff" stroke-width="6.24" d="M193.0 418.61h9.0M157.1 430.89h5.0M177.1 437.03h9.0M236.8 437.03h5.0M173.1 443.17h5.0M141.2 449.31h5.0M177.1 455.45h5.0M185.0 455.45h5.0M208.9 467.73h5.0M193.0 486.15h5.0M220.9 486.15h5.0M177.1 498.43h5.0M236.8 498.43h5.0M204.9 510.71h5.0M185.0 516.85h5.0M244.8 516.85h5.0M193.0 522.99h5.0M149.2 529.13h5.0M201.0 529.13h5.0M83.4 535.27h3.0M220.9 535.27h5.0M280.6 535.27h5.0M157.1 541.41h5.0M193.0 541.41h5.0M260.7 553.69h5.0"/>
<path stroke="#e89b45" stroke-width="6.24" d="M252.7 418.61h5.0M244.8 424.75h5.0M260.7 424.75h5.0M212.9 430.89h5.0M256.7 430.89h5.0M264.7 430.89h5.0M272.7 430.89h5.0M272.7 437.03h5.0M248.8 443.17h5.0M228.8 455.45h5.0M240.8 455.45h5.0M256.7 461.59h5.0M252.7 467.73h5.0M264.7 467.73h5.0M236.8 480.01h5.0M244.8 480.01h5.0M252.7 480.01h5.0M280.6 486.15h5.0M244.8 492.29h5.0M252.7 492.29h5.0M264.7 492.29h5.0M240.8 498.43h5.0M276.6 498.43h5.0M248.8 504.57h5.0M256.7 504.57h5.0M248.8 510.71h9.0M232.8 516.85h5.0M268.7 516.85h5.0M228.8 522.99h5.0M216.9 529.13h5.0M228.8 529.13h9.0M248.8 529.13h5.0M272.7 529.13h5.0M244.8 535.27h5.0M284.6 535.27h4.0M256.7 541.41h5.0M177.1 547.55h5.0M232.8 547.55h5.0M244.8 547.55h5.0M284.6 547.55h4.0M212.9 553.69h9.0M240.8 553.69h5.0M248.8 553.69h5.0"/>
<path stroke="#e38137" stroke-width="6.24" d="M264.7 418.61h9.0M240.8 430.89h5.0M252.7 443.17h5.0M252.7 449.31h5.0M264.7 449.31h9.0M260.7 455.45h5.0M248.8 480.01h5.0M264.7 480.01h5.0M280.6 480.01h5.0M264.7 486.15h5.0M248.8 498.43h5.0M264.7 504.57h5.0M256.7 510.71h9.0M264.7 516.85h5.0M256.7 522.99h5.0M264.7 529.13h5.0M264.7 541.41h5.0M264.7 553.69h5.0"/>
<path stroke="#df5333" stroke-width="6.24" d="M272.7 418.61h5.0M284.6 418.61h4.0M276.6 424.75h9.0M268.7 430.89h5.0M284.6 430.89h4.0M256.7 443.17h5.0M272.7 443.17h9.0M284.6 461.59h4.0M284.6 467.73h4.0M272.7 486.15h5.0M260.7 492.29h5.0M280.6 492.29h8.0M272.7 510.71h5.0M280.6 510.71h8.0M280.6 547.55h5.0M280.6 553.69h5.0M280.6 559.83h5.0"/>
<path stroke="#dd652f" stroke-width="6.24" d="M280.6 418.61h5.0M264.7 437.03h5.0M280.6 449.31h5.0M260.7 461.59h5.0M272.7 461.59h5.0M272.7 467.73h9.0M236.8 492.29h5.0M276.6 522.99h5.0M224.9 529.13h5.0M240.8 529.13h5.0M272.7 535.27h5.0"/>
<path stroke="#d54929" stroke-width="6.24" d="M284.6 424.75h4.0M268.7 443.17h5.0M260.7 486.15h5.0M276.6 486.15h5.0M284.6 498.43h4.0M276.6 510.71h5.0M260.7 535.27h5.0M276.6 541.41h5.0M272.7 559.83h5.0"/>
<path stroke="#5d3589" stroke-width="6.24" d="M113.3 430.89h5.0M73.5 449.31h5.0M77.5 473.87h5.0M69.5 492.29h5.0M81.4 504.57h5.0M65.5 522.99h5.0M65.5 535.27h5.0"/>
<path stroke="#623a8e" stroke-width="6.24" d="M69.5 437.03h5.0M77.5 437.03h9.0M77.5 449.31h5.0M73.5 480.01h5.0M65.5 498.43h5.0M73.5 504.57h3.0M81.4 510.71h5.0M73.5 522.99h5.0M85.4 529.13h9.0M65.5 547.55h5.0M77.5 547.55h5.0M141.2 553.69h5.0"/>
<path stroke="#da4e2e" stroke-width="6.24" d="M284.6 437.03h4.0M280.6 443.17h8.0M284.6 449.31h4.0M280.6 461.59h5.0M280.6 467.73h5.0M256.7 486.15h5.0M268.7 486.15h5.0M272.7 492.29h5.0M268.7 498.43h5.0M276.6 504.57h12.0M268.7 510.71h5.0M284.6 516.85h4.0M248.8 535.27h5.0M280.6 541.41h8.0M268.7 547.55h9.0"/>
<path stroke="#4f479b" stroke-width="6.24" d="M181.0 547.55h5.0"/>
<path stroke="#4a4296" stroke-width="6.24" d="M185.0 547.55h3.0"/>
<path stroke="#e7e7ed" stroke-width="6.24" d="M65.5 559.83h5.0M73.5 559.83h9.0M85.4 559.83h5.0M97.4 559.83h5.0M105.3 559.83h5.0M121.3 559.83h9.0M133.2 559.83h5.0M141.2 559.83h5.0M161.1 559.83h9.0M173.1 559.83h9.0M189.0 559.83h5.0M197.0 559.83h5.0M208.9 559.83h5.0M228.8 559.83h5.0M240.8 559.83h9.0M252.7 559.83h9.0M276.6 559.83h5.0"/>
<path stroke="#f1f1f7" stroke-width="6.24" d="M69.5 559.83h5.0M81.4 559.83h5.0M93.4 559.83h5.0M101.4 559.83h5.0M117.3 559.83h5.0M145.2 559.83h5.0M185.0 559.83h5.0M204.9 559.83h5.0M212.9 559.83h9.0M232.8 559.83h9.0M260.7 559.83h5.0"/>
<path stroke="#ececf2" stroke-width="6.24" d="M89.4 559.83h5.0M109.3 559.83h9.0M129.2 559.83h5.0M137.2 559.83h5.0M149.2 559.83h13.0M169.1 559.83h5.0M181.0 559.83h5.0M193.0 559.83h5.0M201.0 559.83h5.0M220.9 559.83h9.0M248.8 559.83h5.0M264.7 559.83h9.0M284.6 559.83h4.0"/>
<path d="M65.5 415.54H288.6M65.5 421.68H288.6M65.5 427.82H288.6M65.5 433.96H288.6M65.5 440.10H288.6M65.5 446.24H288.6M65.5 452.38H288.6M65.5 458.52H288.6M65.5 464.66H288.6M65.5 470.80H288.6M65.5 476.94H288.6M65.5 483.08H288.6M65.5 489.22H288.6M65.5 495.36H288.6M65.5 501.50H288.6M65.5 507.64H288.6M65.5 513.78H288.6M65.5 519.92H288.6M65.5 526.06H288.6M65.5 532.20H288.6M65.5 538.34H288.6M65.5 544.48H288.6M65.5 550.62H288.6M65.5 556.76H288.6" stroke="#221c26" stroke-width="1.1"/>
<rect x="65.5" y="409.4" width="223.10000000000002" height="153.50" fill="none" stroke="#111" stroke-width="1.3"/>
<text x="61.0" y="414.92" font-size="6.3" text-anchor="end" textLength="12.9" lengthAdjust="spacingAndGlyphs">pP38</text>
<text x="61.0" y="421.06" font-size="6.3" text-anchor="end" textLength="17.1" lengthAdjust="spacingAndGlyphs">GATA3</text>
<text x="61.0" y="427.20" font-size="6.3" text-anchor="end" textLength="12.0" lengthAdjust="spacingAndGlyphs">PU.1</text>
<text x="61.0" y="433.34" font-size="6.3" text-anchor="end" textLength="19.8" lengthAdjust="spacingAndGlyphs">pSTAT3</text>
<text x="61.0" y="439.48" font-size="6.3" text-anchor="end" textLength="31.4" lengthAdjust="spacingAndGlyphs">pSyk/Zap70</text>
<text x="61.0" y="445.62" font-size="6.3" text-anchor="end" textLength="13.4" lengthAdjust="spacingAndGlyphs">PAX5</text>
<text x="61.0" y="451.76" font-size="6.3" text-anchor="end" textLength="26.3" lengthAdjust="spacingAndGlyphs">pSMAD2/3</text>
<text x="61.0" y="457.90" font-size="6.3" text-anchor="end" textLength="19.8" lengthAdjust="spacingAndGlyphs">pSTAT1</text>
<text x="61.0" y="464.04" font-size="6.3" text-anchor="end" textLength="10.7" lengthAdjust="spacingAndGlyphs">Ki67</text>
<text x="61.0" y="470.18" font-size="6.3" text-anchor="end" textLength="16.7" lengthAdjust="spacingAndGlyphs">peEF2</text>
<text x="61.0" y="476.32" font-size="6.3" text-anchor="end" textLength="19.8" lengthAdjust="spacingAndGlyphs">pSTAT5</text>
<text x="61.0" y="482.46" font-size="6.3" text-anchor="end" textLength="17.5" lengthAdjust="spacingAndGlyphs">pCRKL</text>
<text x="61.0" y="488.60" font-size="6.3" text-anchor="end" textLength="17.2" lengthAdjust="spacingAndGlyphs">pSHP2</text>
<text x="61.0" y="494.74" font-size="6.3" text-anchor="end" textLength="13.7" lengthAdjust="spacingAndGlyphs">pAKT</text>
<text x="61.0" y="500.88" font-size="6.3" text-anchor="end" textLength="14.6" lengthAdjust="spacingAndGlyphs">pACC</text>
<text x="61.0" y="507.02" font-size="6.3" text-anchor="end" textLength="28.6" lengthAdjust="spacingAndGlyphs">&#946;&#8211;Catenin</text>
<text x="61.0" y="513.16" font-size="6.3" text-anchor="end" textLength="31.8" lengthAdjust="spacingAndGlyphs">pMAPKAPK2</text>
<text x="61.0" y="519.30" font-size="6.3" text-anchor="end" textLength="12.4" lengthAdjust="spacingAndGlyphs">pSrc</text>
<text x="61.0" y="525.44" font-size="6.3" text-anchor="end" textLength="21.9" lengthAdjust="spacingAndGlyphs">pERK1/2</text>
<text x="61.0" y="531.58" font-size="6.3" text-anchor="end" textLength="11.9" lengthAdjust="spacingAndGlyphs">I&#954;B&#945;</text>
<text x="61.0" y="537.72" font-size="6.3" text-anchor="end" textLength="10.0" lengthAdjust="spacingAndGlyphs">pS6</text>
<text x="61.0" y="543.86" font-size="6.3" text-anchor="end" textLength="19.7" lengthAdjust="spacingAndGlyphs">C/EBP&#945;</text>
<text x="61.0" y="550.00" font-size="6.3" text-anchor="end" textLength="12.5" lengthAdjust="spacingAndGlyphs">TAL1</text>
<text x="61.0" y="556.14" font-size="6.3" text-anchor="end" textLength="18.1" lengthAdjust="spacingAndGlyphs">pCREB</text>
<text x="61.0" y="562.28" font-size="6.3" text-anchor="end" textLength="17.1" lengthAdjust="spacingAndGlyphs">GATA1</text>
<line x1="65.8" y1="562.9" x2="65.8" y2="566.5" stroke="#111" stroke-width="0.9"/>
<text transform="translate(65.8 576.40) scale(0.8 1)" font-size="7.0" text-anchor="middle" >0</text>
<line x1="121.4" y1="562.9" x2="121.4" y2="566.5" stroke="#111" stroke-width="0.9"/>
<text transform="translate(121.4 576.40) scale(0.8 1)" font-size="7.0" text-anchor="middle" >0.25</text>
<line x1="177.1" y1="562.9" x2="177.1" y2="566.5" stroke="#111" stroke-width="0.9"/>
<text transform="translate(177.1 576.40) scale(0.8 1)" font-size="7.0" text-anchor="middle" >0.5</text>
<line x1="232.7" y1="562.9" x2="232.7" y2="566.5" stroke="#111" stroke-width="0.9"/>
<text transform="translate(232.7 576.40) scale(0.8 1)" font-size="7.0" text-anchor="middle" >0.75</text>
<line x1="288.3" y1="562.9" x2="288.3" y2="566.5" stroke="#111" stroke-width="0.9"/>
<text transform="translate(288.3 576.40) scale(0.8 1)" font-size="7.0" text-anchor="middle" >1</text>
<line x1="65.5" y1="580.90" x2="286" y2="580.90" stroke="#111" stroke-width="1"/>
<path d="M290 580.90 l-7.6 -3.1 l1.9 3.1 l-1.9 3.1z" fill="#111"/>
<text x="177.1" y="593.00" font-size="9" text-anchor="middle" textLength="45" lengthAdjust="spacingAndGlyphs">Pseudotime</text>
<clipPath id="cpC0"><rect x="334.0" y="387.4" width="78.19999999999999" height="77.70000000000005"/></clipPath>
<g clip-path="url(#cpC0)">
<path d="M345.6 436.6L348.6 436.3L351.6 435.9L354.6 435.5L357.7 435.0L360.7 434.5L363.7 433.9L366.7 433.2L369.7 432.5L372.7 431.8L375.8 431.1L378.8 430.3L381.8 429.6L381.8 451.6L378.8 452.3L375.8 453.0L372.7 453.7L369.7 454.5L366.7 455.2L363.7 455.8L360.7 456.4L357.7 457.0L354.6 457.4L351.6 457.9L348.6 458.2L345.6 458.6Z" fill="#8e7ec0" opacity="0.90" filter="url(#sb)"/>
<path d="M345.6 427.7L348.6 427.3L351.6 427.0L354.6 426.5L357.7 426.1L360.7 425.5L363.7 424.9L366.7 424.2L369.7 423.5L372.7 422.8L375.8 422.1L378.8 421.4L381.8 420.7L381.8 458.3L378.8 459.0L375.8 459.7L372.7 460.5L369.7 461.2L366.7 461.9L363.7 462.5L360.7 463.1L357.7 463.5L354.6 463.5L351.6 463.5L348.6 463.5L345.6 463.5Z" fill="#8e7ec0" opacity="0.60" filter="url(#sb)"/>
<path d="M345.6 418.7L348.6 418.4L351.6 418.0L354.6 417.6L357.7 417.1L360.7 416.6L363.7 415.9L366.7 415.3L369.7 414.6L372.7 413.9L375.8 413.1L378.8 412.4L381.8 411.7L381.8 463.5L378.8 463.5L375.8 463.5L372.7 463.5L369.7 463.5L366.7 463.5L363.7 463.5L360.7 463.5L357.7 463.5L354.6 463.5L351.6 463.5L348.6 463.5L345.6 463.5Z" fill="#8e7ec0" opacity="0.30" filter="url(#sb)"/>
<path d="M376.7 430.8L377.6 430.6L378.5 430.4L379.4 430.2L380.3 430.0L381.2 429.7L382.1 429.5L383.1 429.3L384.0 429.1L384.9 428.9L385.8 428.7L386.7 428.5L387.6 428.2L387.6 450.2L386.7 450.4L385.8 450.6L384.9 450.8L384.0 451.1L383.1 451.3L382.1 451.5L381.2 451.7L380.3 451.9L379.4 452.1L378.5 452.3L377.6 452.6L376.7 452.8Z" fill="#a8b2cc" opacity="0.63" filter="url(#sb)"/>
<path d="M376.7 421.9L377.6 421.6L378.5 421.4L379.4 421.2L380.3 421.0L381.2 420.8L382.1 420.6L383.1 420.4L384.0 420.1L384.9 419.9L385.8 419.7L386.7 419.5L387.6 419.3L387.6 456.9L386.7 457.1L385.8 457.3L384.9 457.6L384.0 457.8L383.1 458.0L382.1 458.2L381.2 458.4L380.3 458.6L379.4 458.8L378.5 459.1L377.6 459.3L376.7 459.5Z" fill="#a8b2cc" opacity="0.42" filter="url(#sb)"/>
<path d="M376.7 412.9L377.6 412.7L378.5 412.5L379.4 412.2L380.3 412.0L381.2 411.8L382.1 411.6L383.1 411.4L384.0 411.2L384.9 411.0L385.8 410.7L386.7 410.5L387.6 410.3L387.6 463.5L386.7 463.5L385.8 463.5L384.9 463.5L384.0 463.5L383.1 463.5L382.1 463.5L381.2 463.5L380.3 463.5L379.4 463.5L378.5 463.5L377.6 463.5L376.7 463.5Z" fill="#a8b2cc" opacity="0.21" filter="url(#sb)"/>
<path d="M384.7 425.8L386.7 425.3L388.8 424.8L390.8 424.3L392.9 423.8L394.9 423.3L397.0 422.8L399.0 422.3L401.1 421.8L403.1 421.3L405.2 420.8L407.2 420.3L409.3 419.8L409.3 447.3L407.2 447.8L405.2 448.3L403.1 448.8L401.1 449.3L399.0 449.8L397.0 450.3L394.9 450.8L392.9 451.3L390.8 451.8L388.8 452.2L386.7 452.7L384.7 453.2Z" fill="#48458f" opacity="0.81" filter="url(#sb)"/>
<path d="M384.7 414.6L386.7 414.1L388.8 413.6L390.8 413.1L392.9 412.6L394.9 412.1L397.0 411.6L399.0 411.1L401.1 410.6L403.1 410.1L405.2 409.6L407.2 409.1L409.3 408.6L409.3 455.7L407.2 456.2L405.2 456.7L403.1 457.2L401.1 457.7L399.0 458.2L397.0 458.7L394.9 459.2L392.9 459.7L390.8 460.2L388.8 460.6L386.7 461.1L384.7 461.6Z" fill="#48458f" opacity="0.54" filter="url(#sb)"/>
<path d="M384.7 403.4L386.7 402.9L388.8 402.4L390.8 401.9L392.9 401.4L394.9 400.9L397.0 400.4L399.0 399.9L401.1 399.4L403.1 398.9L405.2 398.4L407.2 397.9L409.3 397.4L409.3 463.5L407.2 463.5L405.2 463.5L403.1 463.5L401.1 463.5L399.0 463.5L397.0 463.5L394.9 463.5L392.9 463.5L390.8 463.5L388.8 463.5L386.7 463.5L384.7 463.5Z" fill="#48458f" opacity="0.27" filter="url(#sb)"/>
<path d="M336.9 437.7L337.7 437.6L338.5 437.5L339.3 437.4L340.0 437.3L340.8 437.2L341.6 437.1L342.4 437.0L343.2 436.9L344.0 436.8L344.7 436.7L345.5 436.6L346.3 436.6L346.3 458.5L345.5 458.6L344.7 458.7L344.0 458.8L343.2 458.9L342.4 459.0L341.6 459.0L340.8 459.1L340.0 459.2L339.3 459.3L338.5 459.4L337.7 459.5L336.9 459.6Z" fill="#8b7a45" opacity="0.90" filter="url(#sb)"/>
<path d="M336.9 428.7L337.7 428.6L338.5 428.5L339.3 428.4L340.0 428.3L340.8 428.2L341.6 428.1L342.4 428.0L343.2 427.9L344.0 427.9L344.7 427.8L345.5 427.7L346.3 427.6L346.3 463.5L345.5 463.5L344.7 463.5L344.0 463.5L343.2 463.5L342.4 463.5L341.6 463.5L340.8 463.5L340.0 463.5L339.3 463.5L338.5 463.5L337.7 463.5L336.9 463.5Z" fill="#8b7a45" opacity="0.60" filter="url(#sb)"/>
<path d="M336.9 419.7L337.7 419.6L338.5 419.5L339.3 419.4L340.0 419.4L340.8 419.3L341.6 419.2L342.4 419.1L343.2 419.0L344.0 418.9L344.7 418.8L345.5 418.7L346.3 418.6L346.3 463.5L345.5 463.5L344.7 463.5L344.0 463.5L343.2 463.5L342.4 463.5L341.6 463.5L340.8 463.5L340.0 463.5L339.3 463.5L338.5 463.5L337.7 463.5L336.9 463.5Z" fill="#8b7a45" opacity="0.30" filter="url(#sb)"/>
<line x1="345.6" y1="462.1" x2="381.8" y2="462.1" stroke="#8e7ec0" stroke-width="1.1" opacity="0.8"/>
<line x1="376.7" y1="462.1" x2="387.6" y2="462.1" stroke="#a8b2cc" stroke-width="1.1" opacity="0.8"/>
<line x1="384.7" y1="462.1" x2="409.3" y2="462.1" stroke="#48458f" stroke-width="1.1" opacity="0.8"/>
<line x1="336.9" y1="462.1" x2="346.3" y2="462.1" stroke="#8b7a45" stroke-width="1.1" opacity="0.8"/>
<path transform="translate(334.0 387.4)" stroke="#8e7ec0" stroke-width="0.7" stroke-linecap="square" d="M19.6 42.3h.1M33.4 47.8h.1M46.1 63.0h.1M18.0 45.8h.1M18.4 57.7h.1M26.2 58.7h.1M46.2 61.5h.1M25.4 74.7h.1M41.7 63.5h.1M36.7 60.0h.1M45.3 48.1h.1M29.3 52.2h.1M23.7 27.8h.1M42.7 41.7h.1M41.4 71.9h.1M46.6 51.2h.1M24.0 64.6h.1M46.4 64.5h.1M44.3 44.2h.1M36.5 68.9h.1M37.4 74.5h.1M13.7 59.1h.1M22.2 65.8h.1M22.3 48.9h.1M45.2 66.0h.1M38.8 74.7h.1M33.4 51.9h.1M43.5 64.9h.1M46.9 64.7h.1M11.4 67.3h.1M14.3 74.7h.1M35.4 66.6h.1M21.4 63.9h.1M31.5 64.6h.1M15.8 48.8h.1M40.8 40.2h.1M43.8 70.4h.1M47.0 60.6h.1M42.5 51.7h.1M42.9 58.0h.1M35.8 41.1h.1M43.8 74.7h.1M25.3 59.7h.1M22.4 72.3h.1M38.4 74.4h.1M51.7 26.0h.1M14.0 56.8h.1M18.7 50.6h.1M32.0 64.3h.1M39.8 69.1h.1M32.2 49.0h.1M26.9 61.1h.1M13.5 56.0h.1M31.2 67.4h.1M11.7 59.4h.1M28.1 53.5h.1M19.7 70.1h.1M31.0 74.7h.1M36.0 52.5h.1M28.1 63.9h.1M14.5 65.5h.1M26.7 42.0h.1M47.6 61.3h.1M26.7 58.1h.1M34.5 39.3h.1M22.9 64.9h.1M13.6 63.5h.1M15.0 61.5h.1M25.3 37.8h.1M21.3 72.0h.1M30.7 74.7h.1M41.9 66.5h.1M38.7 46.6h.1M27.8 62.9h.1M20.6 74.7h.1M18.4 55.0h.1M42.0 62.7h.1M23.7 52.2h.1M21.1 65.9h.1M32.7 51.0h.1M24.3 70.1h.1M17.0 72.4h.1M41.5 37.5h.1M38.7 67.2h.1M18.2 67.0h.1M38.8 22.4h.1M22.4 71.9h.1M12.6 56.2h.1M29.0 74.7h.1M37.1 61.8h.1M43.2 53.8h.1M45.2 61.8h.1M46.0 42.9h.1M13.0 56.8h.1M17.0 37.0h.1M43.5 40.3h.1M22.5 63.1h.1M25.0 61.3h.1M33.0 56.2h.1M14.8 70.3h.1M46.1 62.0h.1M39.1 53.1h.1M28.3 26.2h.1M18.3 53.2h.1M27.8 55.9h.1M39.0 48.1h.1M20.3 47.0h.1M46.7 67.7h.1M18.6 72.6h.1M36.0 66.5h.1M17.4 47.1h.1M37.2 55.0h.1M28.2 51.0h.1M30.6 21.2h.1M28.9 53.6h.1M16.6 59.3h.1M28.5 56.2h.1M47.7 44.7h.1M47.1 67.4h.1M41.9 55.8h.1M43.8 6.6h.1M36.0 56.2h.1M35.9 74.2h.1M33.2 46.6h.1M31.1 60.7h.1M41.7 40.7h.1M40.2 55.6h.1M40.5 67.8h.1M34.3 65.6h.1M8.0 67.6h.1M40.0 63.3h.1M29.2 38.1h.1M30.3 31.1h.1M11.7 62.0h.1M49.5 70.8h.1M44.6 48.1h.1M25.6 71.2h.1M41.6 46.5h.1M45.0 74.7h.1M27.1 62.2h.1M22.2 51.0h.1M46.7 53.0h.1M19.5 40.7h.1M18.3 66.9h.1M24.2 65.3h.1M46.4 46.0h.1M30.6 59.4h.1M31.0 40.8h.1M20.5 39.9h.1M27.9 74.7h.1M31.3 73.4h.1M29.5 57.3h.1M27.1 60.0h.1M19.6 61.1h.1M18.5 51.0h.1M24.5 18.3h.1M25.3 48.4h.1M14.7 56.9h.1M36.0 59.9h.1M16.0 74.7h.1M13.8 68.5h.1M29.9 29.2h.1M23.8 60.9h.1M19.0 74.7h.1M34.3 41.2h.1M32.3 49.7h.1M18.9 63.5h.1M15.7 69.1h.1M11.8 70.8h.1M12.6 72.4h.1M13.1 68.1h.1M36.0 62.8h.1M41.7 71.9h.1M36.0 53.8h.1M46.6 37.2h.1M17.3 73.1h.1M31.3 58.6h.1M12.2 56.8h.1M38.1 51.3h.1M20.0 41.9h.1M40.3 64.1h.1M12.3 62.2h.1M17.2 64.0h.1M22.0 57.3h.1M16.0 49.0h.1M25.7 74.6h.1M20.5 68.5h.1M14.8 55.6h.1M41.0 47.2h.1M36.5 57.1h.1M23.0 69.7h.1M23.7 30.7h.1M45.4 42.2h.1M22.1 37.3h.1M33.7 67.8h.1M9.3 74.7h.1M17.5 47.8h.1M31.4 57.2h.1M22.1 59.5h.1M18.3 51.8h.1M31.3 68.2h.1M33.4 69.1h.1M18.9 48.0h.1M46.4 41.4h.1M35.6 61.7h.1M29.8 35.2h.1M35.3 53.1h.1M18.7 55.3h.1M23.3 51.5h.1M34.8 49.1h.1M37.0 74.7h.1M27.2 68.4h.1M36.3 54.0h.1M25.7 60.5h.1M15.8 49.3h.1M33.8 52.9h.1M39.9 56.7h.1M34.5 32.1h.1M28.5 48.2h.1M23.6 55.0h.1M29.6 64.0h.1M34.4 74.5h.1M23.7 56.2h.1M43.3 55.0h.1M28.9 56.0h.1M47.7 60.8h.1M20.6 63.9h.1M46.9 65.8h.1M46.0 53.1h.1M26.2 17.7h.1M27.4 46.2h.1M15.6 60.5h.1M37.7 59.4h.1M6.0 57.1h.1M17.0 70.1h.1M19.4 74.4h.1M45.1 51.9h.1M18.2 63.9h.1M30.5 58.4h.1M27.9 64.7h.1M13.7 44.1h.1M21.4 57.7h.1M20.8 63.5h.1M23.0 56.3h.1M22.5 22.4h.1M38.0 31.7h.1M45.4 27.9h.1M35.6 74.7h.1M44.8 49.8h.1M19.6 51.6h.1M12.3 73.1h.1M15.6 50.0h.1M35.8 45.7h.1M30.9 58.4h.1M30.9 53.1h.1M17.7 70.4h.1M29.1 69.6h.1M15.8 46.6h.1M44.5 69.8h.1M28.1 48.8h.1M23.8 46.4h.1M28.3 69.1h.1M45.9 62.5h.1M31.6 57.9h.1M15.6 52.4h.1M14.2 74.7h.1M33.2 60.1h.1M37.2 39.2h.1M22.7 62.1h.1M36.2 44.2h.1M46.2 38.5h.1M45.2 69.2h.1M27.5 9.5h.1M39.0 59.2h.1M26.8 70.5h.1M34.8 45.3h.1M37.7 55.3h.1M29.8 56.2h.1M15.7 63.6h.1M36.6 70.3h.1M46.6 45.7h.1M23.3 53.2h.1M30.5 74.7h.1M33.2 51.4h.1M10.7 72.9h.1M20.2 57.6h.1M29.8 56.4h.1M43.5 36.5h.1M28.3 62.1h.1M27.8 65.4h.1M32.2 34.2h.1M23.7 58.8h.1M27.5 66.0h.1M40.4 65.6h.1M37.0 44.9h.1M47.4 64.1h.1M33.2 73.2h.1M39.2 67.5h.1M34.6 63.0h.1M39.2 39.9h.1"/>
<path transform="translate(334.0 387.4)" stroke="#a8b2cc" stroke-width="0.7" stroke-linecap="square" d="M52.7 65.5h.1M50.9 55.8h.1M46.0 56.1h.1M47.0 37.7h.1M45.3 51.5h.1M48.2 63.7h.1M50.0 55.6h.1M43.7 54.7h.1M46.5 28.2h.1M48.0 58.8h.1M46.2 46.4h.1M48.4 63.9h.1M49.2 57.5h.1M52.9 46.3h.1M45.9 73.9h.1M44.1 48.3h.1M48.6 71.4h.1M48.7 70.9h.1M51.5 56.1h.1M50.0 47.2h.1M52.5 58.8h.1M51.0 47.8h.1M43.2 54.1h.1M48.9 35.9h.1M50.9 41.1h.1M53.2 73.5h.1M44.5 48.1h.1M49.4 53.0h.1M46.6 54.0h.1M52.1 57.3h.1M43.7 52.9h.1M44.8 45.4h.1M48.1 34.0h.1M48.9 65.6h.1M53.6 74.0h.1M45.6 51.8h.1M48.9 28.9h.1M52.7 62.7h.1M53.1 58.3h.1M47.1 55.9h.1M49.2 22.2h.1M51.0 67.0h.1M45.4 66.0h.1M49.9 22.2h.1M48.7 57.2h.1M45.4 21.5h.1M48.9 54.9h.1M47.9 72.1h.1M48.7 46.0h.1M49.1 41.3h.1M46.3 58.0h.1M42.9 50.7h.1M46.9 64.4h.1M46.7 49.9h.1M51.4 40.2h.1M50.2 39.1h.1M45.3 44.8h.1M49.9 65.2h.1M46.1 55.9h.1M51.1 65.8h.1M49.5 73.9h.1M47.1 44.0h.1M47.2 58.0h.1M51.3 56.4h.1M51.2 55.2h.1M52.3 37.6h.1M44.6 69.9h.1M48.4 41.0h.1M46.2 62.9h.1M45.4 29.2h.1M43.5 72.7h.1M47.7 59.2h.1M51.8 49.3h.1M49.2 74.2h.1M51.4 39.8h.1M43.1 64.3h.1M49.2 50.4h.1M45.4 74.7h.1M48.4 66.0h.1M47.9 71.0h.1M44.1 41.5h.1M43.3 72.2h.1M43.3 60.9h.1M45.5 43.3h.1M47.1 63.2h.1M44.7 49.7h.1M45.4 51.6h.1M48.3 35.0h.1M43.2 74.7h.1M42.5 41.7h.1M50.4 49.2h.1M47.0 68.5h.1M47.4 63.1h.1M50.1 59.8h.1M43.1 50.9h.1M43.6 51.3h.1"/>
<path transform="translate(334.0 387.4)" stroke="#48458f" stroke-width="0.7" stroke-linecap="square" d="M55.0 45.5h.1M61.0 26.3h.1M69.3 32.6h.1M71.8 47.3h.1M68.2 16.7h.1M60.1 47.1h.1M50.8 45.5h.1M76.7 57.4h.1M73.9 39.1h.1M51.1 53.7h.1M58.9 68.8h.1M74.1 42.4h.1M68.8 61.8h.1M63.9 66.3h.1M70.9 42.9h.1M53.2 67.2h.1M61.4 47.9h.1M66.7 52.5h.1M53.4 59.0h.1M54.5 68.5h.1M50.9 52.3h.1M68.8 60.0h.1M68.6 41.9h.1M59.5 33.0h.1M61.2 65.4h.1M58.8 36.2h.1M69.4 69.3h.1M55.0 56.6h.1M54.7 43.6h.1M56.6 54.7h.1M56.7 43.4h.1M61.2 59.1h.1M70.0 64.5h.1M72.2 55.2h.1M68.0 52.9h.1M56.2 74.7h.1M59.3 56.1h.1M56.6 43.2h.1M53.0 69.5h.1M61.3 49.5h.1M63.5 25.4h.1M63.7 68.9h.1M70.4 69.8h.1M70.7 60.0h.1M75.4 28.0h.1M71.1 31.3h.1M54.8 65.4h.1M70.4 67.7h.1M51.2 60.8h.1M73.2 62.5h.1M72.8 65.7h.1M65.8 23.7h.1M71.6 43.1h.1M71.1 54.7h.1M57.3 56.2h.1M76.4 15.3h.1M53.8 66.8h.1M71.7 22.7h.1M67.3 67.5h.1M55.9 35.5h.1M57.9 29.4h.1M57.7 65.1h.1M63.9 54.7h.1M59.4 45.8h.1M69.3 28.4h.1M71.3 70.0h.1M56.4 66.9h.1M67.1 64.5h.1M62.1 63.5h.1M53.6 35.7h.1M55.0 40.1h.1M59.4 52.3h.1M51.3 73.0h.1M57.2 52.6h.1M62.4 45.2h.1M74.6 60.9h.1M73.4 44.2h.1M53.0 24.0h.1M56.6 42.5h.1M73.9 34.6h.1M62.7 60.4h.1M49.3 55.9h.1M60.9 61.7h.1M71.3 38.8h.1M62.7 42.9h.1M72.6 54.0h.1M53.1 60.9h.1M57.6 68.2h.1M61.0 18.6h.1M76.7 45.0h.1M67.1 47.8h.1M56.4 61.6h.1M70.3 8.6h.1M61.8 38.9h.1M61.4 3.2h.1M70.5 34.1h.1M72.3 46.9h.1M65.8 66.3h.1M73.6 37.3h.1M51.8 45.8h.1M62.6 53.8h.1M69.5 32.7h.1M65.5 41.3h.1M58.0 39.5h.1M53.8 53.3h.1M75.2 51.2h.1M72.3 50.4h.1M52.1 47.5h.1M69.9 39.8h.1M57.6 35.2h.1M72.4 30.6h.1M67.7 36.6h.1M62.0 70.2h.1M67.1 48.4h.1M62.7 59.2h.1M57.6 43.7h.1M52.6 64.2h.1M71.6 48.2h.1M62.7 35.3h.1M61.6 54.8h.1M51.6 68.5h.1M65.8 61.8h.1M50.7 31.3h.1M68.4 68.5h.1M60.7 48.3h.1M62.1 33.6h.1M60.6 71.8h.1M52.3 63.1h.1M67.8 63.6h.1M70.8 63.2h.1M74.7 31.4h.1M65.3 67.0h.1M75.0 37.0h.1M72.9 61.0h.1M71.4 60.1h.1M71.9 40.7h.1M70.3 67.0h.1M65.0 73.9h.1M57.8 56.9h.1M66.9 44.8h.1M65.8 60.2h.1M66.3 32.6h.1M54.3 59.2h.1M69.9 46.0h.1M60.6 43.5h.1M72.6 49.9h.1M60.5 72.0h.1M64.0 53.8h.1M71.2 51.1h.1M55.1 19.6h.1M75.1 27.8h.1M74.1 35.8h.1M63.4 49.0h.1M62.4 37.1h.1M63.5 34.8h.1M68.8 55.9h.1M51.8 74.7h.1M63.8 64.4h.1M53.3 53.1h.1M51.0 58.2h.1M62.2 74.7h.1M57.1 54.8h.1M50.8 52.1h.1M61.3 74.6h.1M70.6 68.6h.1M66.6 35.1h.1M56.5 68.6h.1M51.1 34.6h.1M67.1 32.6h.1M54.9 35.9h.1M66.8 68.8h.1M53.2 62.2h.1M64.2 38.9h.1M54.2 41.1h.1M63.1 50.2h.1M65.5 72.8h.1M57.3 69.1h.1M67.9 64.6h.1M62.5 72.9h.1M55.9 53.6h.1M51.0 64.1h.1M62.6 40.3h.1M56.3 45.7h.1M58.1 28.5h.1M61.8 11.1h.1M71.6 24.4h.1M50.9 74.7h.1M64.0 22.2h.1M54.4 60.3h.1M64.0 72.3h.1M63.8 47.7h.1M51.1 62.1h.1M55.7 30.4h.1M68.8 53.1h.1M58.5 68.8h.1M52.1 51.4h.1M61.1 74.2h.1M69.2 7.9h.1M59.0 71.9h.1M69.4 39.1h.1M62.7 44.3h.1M58.2 65.1h.1M60.5 56.3h.1M61.6 55.5h.1M67.1 64.1h.1M52.6 69.1h.1M59.2 43.1h.1M68.7 15.7h.1M60.1 63.1h.1M65.9 45.2h.1M61.0 44.5h.1M56.7 41.6h.1M61.7 57.4h.1M64.9 46.3h.1M57.7 70.9h.1M65.1 47.5h.1M56.3 42.4h.1M74.3 40.6h.1M64.6 52.0h.1M56.0 58.7h.1M67.1 35.8h.1M52.0 54.1h.1M53.9 63.1h.1M62.9 62.9h.1M67.0 42.1h.1M58.5 69.9h.1M65.4 65.2h.1M53.2 35.6h.1M56.7 25.5h.1M73.3 37.0h.1M59.8 50.3h.1M57.3 45.5h.1M67.9 35.8h.1M65.3 61.3h.1M57.5 67.8h.1M63.2 58.3h.1M61.3 37.3h.1M54.5 37.6h.1M74.2 27.5h.1M70.6 44.1h.1M66.8 53.8h.1M63.9 43.3h.1M55.4 51.6h.1M52.3 40.6h.1M58.8 58.0h.1M69.3 60.7h.1M71.4 66.6h.1M54.2 48.1h.1M51.1 43.2h.1M70.1 41.3h.1M70.5 39.4h.1M67.6 60.9h.1M49.3 28.8h.1M70.1 68.5h.1M55.8 35.4h.1M75.7 19.2h.1M58.6 50.4h.1M73.0 44.6h.1M56.5 51.6h.1M57.4 70.6h.1M51.2 56.9h.1M54.9 54.7h.1M51.3 46.3h.1M69.7 51.3h.1M67.6 49.4h.1M63.8 27.1h.1M67.0 50.9h.1M55.3 55.3h.1M52.2 54.1h.1M51.5 64.7h.1M52.0 62.1h.1M70.2 34.3h.1M74.5 44.5h.1M53.2 29.2h.1M72.2 55.9h.1M71.7 42.3h.1M54.1 54.2h.1M59.3 33.0h.1M69.4 35.7h.1M69.5 5.6h.1M55.3 58.3h.1M62.8 45.5h.1M64.0 53.3h.1M61.6 43.0h.1M75.4 55.0h.1M55.3 73.5h.1M51.8 74.1h.1M62.2 56.3h.1M49.9 18.3h.1M60.1 44.8h.1M66.8 26.4h.1M59.0 48.3h.1M58.9 43.0h.1M59.6 40.1h.1M61.9 47.4h.1M67.4 47.4h.1M62.6 67.9h.1M70.2 56.3h.1M63.6 56.0h.1"/>
<path transform="translate(334.0 387.4)" stroke="#8b7a45" stroke-width="0.7" stroke-linecap="square" d="M7.7 42.3h.1M13.2 64.3h.1M8.9 65.4h.1M8.6 69.4h.1M6.7 66.9h.1M11.9 71.2h.1M11.0 60.5h.1M5.3 70.5h.1M3.3 71.0h.1M5.5 57.1h.1M5.7 61.3h.1M7.3 67.5h.1M8.6 41.0h.1M9.6 47.9h.1M14.1 33.0h.1M11.6 3.9h.1M6.4 67.4h.1M3.2 57.2h.1M8.7 63.8h.1M8.1 62.4h.1M6.6 63.4h.1M6.9 56.4h.1M6.9 74.7h.1M3.6 69.2h.1M12.4 60.4h.1M11.6 49.6h.1M7.0 71.3h.1M4.8 62.9h.1M4.6 49.3h.1M4.8 55.5h.1M7.1 74.0h.1M7.2 62.2h.1M6.3 49.7h.1M5.0 74.7h.1M11.8 42.7h.1M2.9 50.9h.1M4.9 56.8h.1M9.3 40.1h.1M8.3 70.0h.1M6.2 71.8h.1M9.7 73.1h.1M7.4 65.1h.1M7.2 52.4h.1M10.1 51.9h.1M11.3 63.3h.1M6.7 63.3h.1M4.3 74.7h.1M7.7 65.5h.1M8.9 70.2h.1M7.0 68.5h.1M6.4 53.8h.1M1.5 74.7h.1M6.4 67.8h.1M3.8 73.4h.1M6.9 53.2h.1M15.1 50.9h.1M9.3 68.6h.1M6.2 57.4h.1M9.4 65.6h.1M9.8 69.6h.1M10.2 74.7h.1M12.0 72.1h.1M6.1 52.1h.1M11.7 58.0h.1M13.1 69.8h.1M11.2 66.8h.1M6.4 64.7h.1M3.8 74.7h.1M11.9 67.2h.1M3.7 72.9h.1M4.1 69.1h.1M4.2 39.1h.1M11.1 60.2h.1M4.4 58.5h.1M6.3 74.5h.1M10.8 70.9h.1M4.4 66.9h.1M11.5 38.3h.1M10.7 74.7h.1M7.7 73.5h.1M1.5 72.2h.1M6.5 68.8h.1M2.6 63.9h.1M12.1 73.1h.1M15.0 74.7h.1M10.1 74.7h.1M1.5 48.5h.1M7.8 44.8h.1M8.3 73.8h.1M3.2 47.6h.1M3.2 64.7h.1M9.5 47.4h.1M4.9 56.9h.1M5.4 62.6h.1M8.6 57.4h.1M8.6 54.7h.1M8.7 66.5h.1M11.2 64.5h.1M11.7 63.3h.1M12.1 63.4h.1M8.2 53.6h.1M6.6 67.0h.1M5.2 58.6h.1M5.3 72.6h.1M14.1 42.0h.1M10.1 69.5h.1M8.6 56.8h.1M11.3 53.8h.1M11.7 70.1h.1M6.2 68.7h.1M2.4 57.2h.1M10.4 40.6h.1M5.3 46.2h.1M3.7 55.9h.1M9.6 59.5h.1M10.3 74.6h.1M9.9 52.9h.1M3.0 50.6h.1M11.1 66.6h.1M4.9 61.4h.1M16.1 60.6h.1M9.1 68.1h.1M13.3 70.0h.1M10.9 47.5h.1M3.3 60.5h.1M6.7 54.5h.1M10.2 42.4h.1M7.4 59.9h.1M4.3 56.7h.1M11.5 67.0h.1M8.5 52.5h.1M3.1 69.7h.1M11.7 57.7h.1M5.9 62.2h.1M5.2 63.8h.1M10.0 68.4h.1M10.5 58.5h.1M10.6 53.3h.1M8.0 57.4h.1M9.6 55.3h.1M5.9 60.8h.1M6.7 64.9h.1M5.5 63.4h.1M1.9 68.2h.1M7.7 57.7h.1M2.5 64.7h.1M14.4 71.5h.1M3.8 61.6h.1M4.8 70.7h.1M9.9 66.8h.1M10.2 16.6h.1M9.4 74.0h.1M4.3 54.4h.1M6.5 36.2h.1M5.0 64.6h.1M11.0 71.1h.1"/>
<path d="M336.9 450.2L338.7 450.0L340.5 449.8L342.3 449.5L344.1 449.3L345.9 449.1L347.8 448.9L349.6 448.7L351.4 448.5L353.2 448.2L355.0 448.0L356.8 447.7L358.6 447.4L360.4 447.1L362.2 446.7L364.0 446.3L365.9 445.9L367.7 445.5L369.5 445.1L371.3 444.7L373.1 444.2L374.9 443.8L376.7 443.4L378.5 442.9L380.3 442.5L382.1 442.1L384.0 441.6L385.8 441.2L387.6 440.8L389.4 440.3L391.2 439.9L393.0 439.5L394.8 439.0L396.6 438.6L398.4 438.1L400.2 437.7L402.1 437.3L403.9 436.8L405.7 436.4L407.5 435.9L409.3 435.5" fill="none" stroke="#d070c0" stroke-width="1.7" opacity="0.85" stroke-linejoin="round"/>
</g>
<rect x="334.0" y="387.4" width="78.19999999999999" height="77.70000000000005" fill="none" stroke="#111" stroke-width="1.3"/>
<text transform="translate(337.1 396.0) scale(0.86 1)" font-size="6.6" text-anchor="start" >pCRKL</text>
<line x1="330.6" y1="462.1" x2="334.0" y2="462.1" stroke="#111" stroke-width="0.9"/>
<text transform="translate(325.1 464.5) scale(0.8 1)" font-size="7.0" text-anchor="middle" >0</text>
<line x1="330.6" y1="448.1" x2="334.0" y2="448.1" stroke="#111" stroke-width="0.9"/>
<text transform="translate(325.1 450.5) scale(0.8 1)" font-size="7.0" text-anchor="middle" >1</text>
<line x1="330.6" y1="434.1" x2="334.0" y2="434.1" stroke="#111" stroke-width="0.9"/>
<text transform="translate(325.1 436.5) scale(0.8 1)" font-size="7.0" text-anchor="middle" >2</text>
<line x1="330.6" y1="420.1" x2="334.0" y2="420.1" stroke="#111" stroke-width="0.9"/>
<text transform="translate(325.1 422.5) scale(0.8 1)" font-size="7.0" text-anchor="middle" >3</text>
<line x1="330.6" y1="406.1" x2="334.0" y2="406.1" stroke="#111" stroke-width="0.9"/>
<text transform="translate(325.1 408.5) scale(0.8 1)" font-size="7.0" text-anchor="middle" >4</text>
<line x1="330.6" y1="392.1" x2="334.0" y2="392.1" stroke="#111" stroke-width="0.9"/>
<text transform="translate(325.1 394.5) scale(0.8 1)" font-size="7.0" text-anchor="middle" >5</text>
<line x1="336.9" y1="465.1" x2="336.9" y2="468.5" stroke="#111" stroke-width="0.9"/>
<text transform="translate(336.9 479.1) scale(0.8 1)" font-size="7.0" text-anchor="middle" >0.0</text>
<line x1="373.1" y1="465.1" x2="373.1" y2="468.5" stroke="#111" stroke-width="0.9"/>
<text transform="translate(373.1 479.1) scale(0.8 1)" font-size="7.0" text-anchor="middle" >0.5</text>
<line x1="409.3" y1="465.1" x2="409.3" y2="468.5" stroke="#111" stroke-width="0.9"/>
<text transform="translate(409.3 479.1) scale(0.8 1)" font-size="7.0" text-anchor="middle" >1.0</text>
<clipPath id="cpC1"><rect x="431.6" y="387.4" width="77.79999999999995" height="77.70000000000005"/></clipPath>
<g clip-path="url(#cpC1)">
<path d="M443.1 436.8L446.1 436.4L449.1 435.9L452.1 435.4L455.1 435.0L458.1 434.5L461.1 434.0L464.1 433.5L467.1 433.0L470.1 432.5L473.1 432.0L476.1 431.5L479.1 431.0L479.1 449.6L476.1 450.1L473.1 450.6L470.1 451.1L467.1 451.6L464.1 452.1L461.1 452.6L458.1 453.1L455.1 453.6L452.1 454.0L449.1 454.5L446.1 455.0L443.1 455.4Z" fill="#8e7ec0" opacity="0.90" filter="url(#sb)"/>
<path d="M443.1 429.2L446.1 428.8L449.1 428.3L452.1 427.8L455.1 427.4L458.1 426.9L461.1 426.4L464.1 425.9L467.1 425.4L470.1 424.9L473.1 424.4L476.1 423.9L479.1 423.4L479.1 455.3L476.1 455.8L473.1 456.3L470.1 456.8L467.1 457.3L464.1 457.8L461.1 458.3L458.1 458.8L455.1 459.3L452.1 459.7L449.1 460.2L446.1 460.7L443.1 461.1Z" fill="#8e7ec0" opacity="0.60" filter="url(#sb)"/>
<path d="M443.1 421.6L446.1 421.2L449.1 420.7L452.1 420.2L455.1 419.8L458.1 419.3L461.1 418.8L464.1 418.3L467.1 417.8L470.1 417.3L473.1 416.8L476.1 416.3L479.1 415.8L479.1 461.0L476.1 461.5L473.1 462.0L470.1 462.5L467.1 463.0L464.1 463.4L461.1 463.4L458.1 463.4L455.1 463.4L452.1 463.4L449.1 463.4L446.1 463.4L443.1 463.4Z" fill="#8e7ec0" opacity="0.30" filter="url(#sb)"/>
<path d="M474.1 431.9L475.0 431.7L475.9 431.6L476.8 431.4L477.7 431.3L478.6 431.1L479.5 430.9L480.4 430.8L481.3 430.6L482.2 430.5L483.1 430.3L484.0 430.1L484.9 430.0L484.9 448.6L484.0 448.8L483.1 448.9L482.2 449.1L481.3 449.2L480.4 449.4L479.5 449.5L478.6 449.7L477.7 449.9L476.8 450.0L475.9 450.2L475.0 450.3L474.1 450.5Z" fill="#a8b2cc" opacity="0.63" filter="url(#sb)"/>
<path d="M474.1 424.3L475.0 424.1L475.9 424.0L476.8 423.8L477.7 423.7L478.6 423.5L479.5 423.3L480.4 423.2L481.3 423.0L482.2 422.9L483.1 422.7L484.0 422.6L484.9 422.4L484.9 454.3L484.0 454.5L483.1 454.6L482.2 454.8L481.3 454.9L480.4 455.1L479.5 455.2L478.6 455.4L477.7 455.6L476.8 455.7L475.9 455.9L475.0 456.0L474.1 456.2Z" fill="#a8b2cc" opacity="0.42" filter="url(#sb)"/>
<path d="M474.1 416.7L475.0 416.5L475.9 416.4L476.8 416.2L477.7 416.1L478.6 415.9L479.5 415.7L480.4 415.6L481.3 415.4L482.2 415.3L483.1 415.1L484.0 415.0L484.9 414.8L484.9 460.0L484.0 460.2L483.1 460.3L482.2 460.5L481.3 460.6L480.4 460.8L479.5 460.9L478.6 461.1L477.7 461.3L476.8 461.4L475.9 461.6L475.0 461.7L474.1 461.9Z" fill="#a8b2cc" opacity="0.21" filter="url(#sb)"/>
<path d="M482.0 428.4L484.1 428.0L486.1 427.6L488.1 427.3L490.2 426.9L492.2 426.6L494.3 426.2L496.3 425.8L498.3 425.5L500.4 425.1L502.4 424.7L504.5 424.4L506.5 424.0L506.5 446.4L504.5 446.7L502.4 447.1L500.4 447.4L498.3 447.8L496.3 448.2L494.3 448.5L492.2 448.9L490.2 449.3L488.1 449.6L486.1 450.0L484.1 450.3L482.0 450.7Z" fill="#48458f" opacity="0.81" filter="url(#sb)"/>
<path d="M482.0 419.3L484.1 418.9L486.1 418.5L488.1 418.2L490.2 417.8L492.2 417.4L494.3 417.1L496.3 416.7L498.3 416.4L500.4 416.0L502.4 415.6L504.5 415.3L506.5 414.9L506.5 453.2L504.5 453.5L502.4 453.9L500.4 454.3L498.3 454.6L496.3 455.0L494.3 455.4L492.2 455.7L490.2 456.1L488.1 456.5L486.1 456.8L484.1 457.2L482.0 457.5Z" fill="#48458f" opacity="0.54" filter="url(#sb)"/>
<path d="M482.0 410.1L484.1 409.8L486.1 409.4L488.1 409.1L490.2 408.7L492.2 408.3L494.3 408.0L496.3 407.6L498.3 407.2L500.4 406.9L502.4 406.5L504.5 406.1L506.5 405.8L506.5 460.0L504.5 460.4L502.4 460.7L500.4 461.1L498.3 461.5L496.3 461.8L494.3 462.2L492.2 462.6L490.2 462.9L488.1 463.3L486.1 463.4L484.1 463.4L482.0 463.4Z" fill="#48458f" opacity="0.27" filter="url(#sb)"/>
<path d="M434.5 438.2L435.3 438.0L436.1 437.9L436.8 437.8L437.6 437.7L438.4 437.6L439.2 437.4L440.0 437.3L440.7 437.2L441.5 437.1L442.3 436.9L443.1 436.8L443.9 436.7L443.9 455.3L443.1 455.4L442.3 455.6L441.5 455.7L440.7 455.8L440.0 455.9L439.2 456.0L438.4 456.2L437.6 456.3L436.8 456.4L436.1 456.5L435.3 456.7L434.5 456.8Z" fill="#8b7a45" opacity="0.90" filter="url(#sb)"/>
<path d="M434.5 430.6L435.3 430.5L436.1 430.3L436.8 430.2L437.6 430.1L438.4 430.0L439.2 429.8L440.0 429.7L440.7 429.6L441.5 429.5L442.3 429.4L443.1 429.2L443.9 429.1L443.9 461.0L443.1 461.1L442.3 461.3L441.5 461.4L440.7 461.5L440.0 461.6L439.2 461.7L438.4 461.9L437.6 462.0L436.8 462.1L436.1 462.2L435.3 462.4L434.5 462.5Z" fill="#8b7a45" opacity="0.60" filter="url(#sb)"/>
<path d="M434.5 423.0L435.3 422.9L436.1 422.7L436.8 422.6L437.6 422.5L438.4 422.4L439.2 422.2L440.0 422.1L440.7 422.0L441.5 421.9L442.3 421.8L443.1 421.6L443.9 421.5L443.9 463.4L443.1 463.4L442.3 463.4L441.5 463.4L440.7 463.4L440.0 463.4L439.2 463.4L438.4 463.4L437.6 463.4L436.8 463.4L436.1 463.4L435.3 463.4L434.5 463.4Z" fill="#8b7a45" opacity="0.30" filter="url(#sb)"/>
<line x1="443.1" y1="462.1" x2="479.1" y2="462.1" stroke="#8e7ec0" stroke-width="1.1" opacity="0.8"/>
<line x1="474.1" y1="462.1" x2="484.9" y2="462.1" stroke="#a8b2cc" stroke-width="1.1" opacity="0.8"/>
<line x1="482.0" y1="462.1" x2="506.5" y2="462.1" stroke="#48458f" stroke-width="1.1" opacity="0.8"/>
<line x1="434.5" y1="462.1" x2="443.9" y2="462.1" stroke="#8b7a45" stroke-width="1.1" opacity="0.8"/>
<path transform="translate(431.6 387.4)" stroke="#8e7ec0" stroke-width="0.7" stroke-linecap="square" d="M43.7 60.4h.1M23.7 63.8h.1M29.1 41.7h.1M16.0 74.5h.1M17.2 53.4h.1M26.3 54.1h.1M30.5 70.4h.1M20.9 53.8h.1M32.3 65.0h.1M21.0 58.4h.1M16.1 61.4h.1M37.1 58.3h.1M19.5 55.5h.1M22.1 38.2h.1M14.5 40.3h.1M23.3 62.1h.1M23.6 56.8h.1M22.5 73.1h.1M43.0 38.1h.1M19.1 61.2h.1M38.6 52.9h.1M47.4 49.6h.1M36.6 39.7h.1M28.6 74.7h.1M22.2 73.1h.1M24.3 43.0h.1M40.4 47.3h.1M43.1 68.7h.1M27.9 57.6h.1M39.9 68.0h.1M40.2 65.6h.1M15.5 36.1h.1M34.0 61.0h.1M14.1 69.2h.1M36.5 51.5h.1M28.1 54.1h.1M42.4 40.5h.1M13.0 64.5h.1M17.2 45.3h.1M40.9 44.8h.1M41.3 53.4h.1M41.4 55.4h.1M16.8 48.1h.1M10.9 56.0h.1M44.5 53.6h.1M31.6 49.8h.1M13.1 66.8h.1M35.2 44.7h.1M24.7 52.6h.1M43.3 49.8h.1M28.8 45.7h.1M19.8 62.0h.1M25.9 64.4h.1M21.5 47.5h.1M32.8 69.9h.1M39.2 37.5h.1M31.6 64.3h.1M25.1 50.9h.1M32.6 61.3h.1M34.2 61.2h.1M19.3 64.6h.1M42.8 46.7h.1M31.3 67.7h.1M12.1 53.6h.1M12.3 63.2h.1M32.0 58.5h.1M22.0 51.2h.1M34.6 49.2h.1M32.4 35.1h.1M12.7 66.7h.1M50.8 67.2h.1M45.4 58.3h.1M21.6 4.0h.1M14.6 65.0h.1M27.6 53.6h.1M33.5 62.4h.1M31.3 74.7h.1M23.4 60.9h.1M45.9 55.1h.1M32.9 49.3h.1M13.5 64.2h.1M36.5 49.9h.1M46.2 70.2h.1M27.9 73.0h.1M17.1 61.9h.1M26.1 54.8h.1M44.3 66.4h.1M37.9 34.9h.1M31.1 55.4h.1M17.3 52.8h.1M33.8 57.3h.1M28.8 67.7h.1M41.2 54.9h.1M15.9 50.8h.1M17.7 55.1h.1M35.7 48.2h.1M14.9 42.9h.1M13.6 70.2h.1M35.4 53.3h.1M14.5 56.6h.1M22.3 55.6h.1M11.5 38.7h.1M15.1 62.8h.1M41.9 47.4h.1M30.8 47.7h.1M42.6 37.9h.1M23.0 59.4h.1M30.0 64.5h.1M29.3 65.6h.1M25.4 39.0h.1M34.0 20.6h.1M34.4 74.6h.1M11.9 48.8h.1M45.2 33.3h.1M41.7 46.1h.1M41.1 63.7h.1M15.9 37.4h.1M11.6 44.2h.1M35.2 51.6h.1M31.8 71.8h.1M27.7 68.1h.1M27.2 60.9h.1M46.2 56.8h.1M40.5 46.7h.1M46.3 51.6h.1M29.6 27.8h.1M18.0 69.5h.1M19.7 51.2h.1M22.8 67.2h.1M26.3 57.1h.1M40.2 48.9h.1M33.7 49.4h.1M43.0 47.5h.1M21.5 53.8h.1M39.9 41.5h.1M16.2 59.4h.1M16.6 59.8h.1M24.2 74.1h.1M13.0 52.4h.1M43.5 59.9h.1M16.2 60.5h.1M13.1 45.3h.1M41.9 56.7h.1M46.0 69.7h.1M41.9 67.5h.1M43.0 49.2h.1M35.3 55.5h.1M43.2 59.9h.1M30.7 62.4h.1M44.8 36.4h.1M23.6 62.8h.1M17.9 62.6h.1M35.9 48.5h.1M27.6 51.6h.1M31.7 70.1h.1M13.6 48.8h.1M9.5 74.7h.1M24.0 58.0h.1M14.3 47.5h.1M34.8 56.1h.1M46.2 60.3h.1M29.0 67.1h.1M33.7 34.6h.1M42.6 33.2h.1M15.6 10.8h.1M13.4 53.5h.1M21.5 73.9h.1M40.7 56.4h.1M20.1 72.5h.1M13.7 50.7h.1M43.1 54.8h.1M36.4 70.7h.1M36.1 57.3h.1M12.8 52.3h.1M44.9 61.8h.1M24.3 59.2h.1M34.0 52.8h.1M35.0 18.2h.1M17.4 52.1h.1M21.1 42.3h.1M33.2 48.7h.1M24.4 52.6h.1M25.6 56.8h.1M44.7 44.0h.1M41.9 44.3h.1M42.5 50.7h.1M42.8 55.8h.1M45.5 55.2h.1M23.4 59.4h.1M31.5 70.3h.1M37.5 70.0h.1M30.0 56.4h.1M13.4 70.6h.1M18.2 65.3h.1M43.2 62.6h.1M20.0 62.2h.1M32.3 57.4h.1M25.8 50.4h.1M12.4 69.8h.1M31.0 64.8h.1M23.9 59.8h.1M29.1 63.4h.1M27.2 73.2h.1M15.4 64.2h.1M34.1 44.1h.1M31.2 47.9h.1M40.3 71.5h.1M26.7 68.3h.1M14.0 63.3h.1M22.7 58.3h.1M41.9 34.5h.1M28.4 63.6h.1M18.2 57.7h.1M26.1 69.7h.1M28.1 59.6h.1M33.4 44.5h.1M18.8 60.8h.1M40.7 74.7h.1M46.1 52.8h.1M15.8 56.2h.1M22.6 51.2h.1M29.3 34.7h.1M45.3 58.8h.1M40.1 71.8h.1M40.6 66.0h.1M15.9 55.8h.1M31.3 53.1h.1M42.5 50.6h.1M22.9 73.8h.1M16.7 46.0h.1M45.1 51.3h.1M30.7 59.2h.1M33.9 30.6h.1M20.1 70.6h.1M41.1 59.9h.1M17.9 65.0h.1M11.7 65.8h.1M38.4 51.9h.1M18.9 67.2h.1M34.3 38.5h.1M18.6 17.4h.1M20.9 46.8h.1M44.5 72.9h.1M26.7 32.9h.1M16.9 40.2h.1M36.7 50.6h.1M22.7 68.4h.1M30.1 57.3h.1M19.4 68.6h.1M19.3 64.4h.1M20.5 36.5h.1M15.6 72.9h.1M20.4 56.6h.1M25.0 65.3h.1M24.4 62.5h.1M16.3 60.9h.1M32.0 29.5h.1M18.3 57.9h.1M43.4 64.9h.1M46.3 56.3h.1M21.1 58.8h.1M40.0 62.0h.1M30.4 58.0h.1M23.6 64.6h.1M42.9 57.7h.1M31.7 58.8h.1M17.3 74.7h.1M13.4 45.9h.1M27.0 39.9h.1M16.5 45.5h.1M18.1 46.0h.1M12.3 59.6h.1M12.0 62.4h.1M41.0 44.3h.1M25.2 50.8h.1M14.8 57.6h.1M12.7 68.2h.1M30.7 57.3h.1M31.0 48.6h.1M33.6 37.5h.1M16.4 69.8h.1M27.5 55.6h.1M16.1 67.1h.1M33.3 44.5h.1M15.5 64.0h.1M47.0 36.2h.1M12.6 64.8h.1M46.9 42.0h.1M26.1 49.2h.1M46.6 34.7h.1M19.6 67.9h.1M41.8 53.6h.1M21.6 43.8h.1M32.3 50.9h.1M28.6 41.3h.1M40.3 12.0h.1M24.6 46.7h.1M42.4 17.5h.1M29.6 61.9h.1M19.0 56.4h.1"/>
<path transform="translate(431.6 387.4)" stroke="#a8b2cc" stroke-width="0.7" stroke-linecap="square" d="M45.9 54.1h.1M44.3 57.1h.1M50.5 54.3h.1M46.1 41.0h.1M44.6 55.2h.1M45.9 48.5h.1M45.9 56.8h.1M48.5 73.3h.1M44.9 49.5h.1M48.7 50.1h.1M44.0 50.8h.1M53.0 32.3h.1M46.4 37.7h.1M49.2 57.9h.1M43.4 52.8h.1M51.0 52.8h.1M46.1 51.2h.1M52.4 46.6h.1M42.6 47.9h.1M51.1 55.7h.1M47.9 56.3h.1M48.3 58.4h.1M44.6 66.3h.1M51.0 36.9h.1M53.5 58.8h.1M54.3 3.7h.1M49.2 43.5h.1M44.1 64.6h.1M43.5 67.1h.1M45.6 74.7h.1M53.1 38.8h.1M44.9 47.4h.1M46.0 57.7h.1M48.3 43.3h.1M43.4 68.9h.1M51.8 3.2h.1M48.7 59.7h.1M50.0 60.6h.1M47.2 58.4h.1M48.1 56.2h.1M54.7 43.5h.1M43.5 53.3h.1M44.0 69.2h.1M43.1 46.9h.1M50.6 64.0h.1M50.4 39.0h.1M46.5 58.4h.1M50.3 49.3h.1M49.5 74.1h.1M50.7 52.8h.1M46.7 59.7h.1M49.3 38.9h.1M43.8 46.2h.1M43.4 42.9h.1M39.6 59.1h.1M50.9 59.8h.1M43.7 58.2h.1M43.9 41.9h.1M47.2 66.9h.1M46.4 60.3h.1M52.8 46.6h.1M46.0 40.3h.1M41.5 3.1h.1M51.9 59.1h.1M48.6 56.8h.1M41.9 45.2h.1M48.2 45.1h.1M53.0 42.8h.1M47.8 50.0h.1M50.7 49.9h.1M44.7 64.9h.1M52.5 60.4h.1M44.9 43.4h.1M46.3 40.5h.1M46.2 66.3h.1M49.6 61.0h.1M51.1 63.8h.1M48.9 63.7h.1M49.5 63.6h.1M50.5 55.6h.1M44.0 60.9h.1M44.3 55.3h.1M43.5 64.6h.1M50.3 51.9h.1M52.1 57.8h.1M50.9 71.6h.1M44.5 56.0h.1M52.8 37.2h.1M48.3 59.9h.1M52.7 49.2h.1M44.5 57.3h.1M44.1 41.4h.1M47.2 41.7h.1M45.0 48.1h.1M49.6 54.6h.1M50.3 66.9h.1"/>
<path transform="translate(431.6 387.4)" stroke="#48458f" stroke-width="0.7" stroke-linecap="square" d="M62.8 36.5h.1M59.4 64.7h.1M51.5 36.7h.1M71.7 45.0h.1M56.6 44.4h.1M60.7 52.4h.1M74.0 46.1h.1M50.6 43.1h.1M74.0 45.6h.1M47.5 63.8h.1M58.5 18.7h.1M58.3 47.0h.1M63.3 39.2h.1M53.6 54.3h.1M50.7 32.4h.1M69.5 13.3h.1M71.9 23.8h.1M53.9 48.3h.1M64.2 41.3h.1M65.4 56.4h.1M55.4 47.8h.1M54.8 51.8h.1M59.1 57.7h.1M51.9 35.5h.1M68.1 54.3h.1M67.9 59.2h.1M65.2 46.2h.1M58.7 58.8h.1M64.0 62.1h.1M55.2 38.0h.1M63.1 28.1h.1M57.6 44.3h.1M56.8 63.7h.1M53.3 53.4h.1M60.0 56.9h.1M65.3 35.4h.1M59.3 67.2h.1M51.3 55.8h.1M51.4 36.0h.1M58.8 53.5h.1M60.3 52.3h.1M54.2 38.3h.1M74.1 43.9h.1M57.9 74.6h.1M69.1 68.5h.1M70.2 59.3h.1M58.1 52.3h.1M68.8 57.8h.1M51.6 63.2h.1M65.1 49.9h.1M68.1 8.0h.1M48.3 54.5h.1M58.0 74.7h.1M65.9 54.2h.1M72.0 38.8h.1M60.2 44.8h.1M64.2 53.0h.1M65.5 23.2h.1M73.8 53.8h.1M51.7 49.5h.1M64.1 39.5h.1M67.7 51.9h.1M63.1 52.9h.1M58.8 49.8h.1M68.7 42.7h.1M62.8 58.0h.1M69.0 38.7h.1M69.0 38.8h.1M54.9 59.7h.1M73.7 59.9h.1M66.1 45.1h.1M63.8 57.9h.1M73.7 20.6h.1M67.6 34.0h.1M74.2 37.4h.1M54.1 32.6h.1M59.7 66.0h.1M64.4 47.1h.1M57.9 23.2h.1M52.7 40.2h.1M51.5 44.2h.1M61.6 54.5h.1M68.1 39.0h.1M73.1 58.2h.1M60.0 60.8h.1M68.1 63.5h.1M54.0 58.0h.1M71.3 59.9h.1M68.8 55.9h.1M69.6 49.6h.1M66.7 58.7h.1M59.9 45.8h.1M65.2 2.9h.1M54.2 71.9h.1M65.2 35.5h.1M73.3 38.2h.1M59.0 48.0h.1M57.1 49.1h.1M58.9 56.6h.1M73.2 49.0h.1M71.8 34.8h.1M69.8 72.6h.1M58.3 49.0h.1M56.9 44.8h.1M72.3 50.2h.1M75.1 52.9h.1M65.4 57.0h.1M63.3 37.2h.1M65.4 51.7h.1M51.1 28.0h.1M59.7 56.6h.1M69.4 29.2h.1M75.0 53.9h.1M65.2 43.5h.1M71.1 39.7h.1M70.1 22.9h.1M55.7 15.6h.1M56.5 30.2h.1M72.3 55.4h.1M71.5 64.9h.1M47.8 42.3h.1M61.5 38.2h.1M72.1 52.3h.1M58.1 28.5h.1M51.8 64.3h.1M66.3 52.9h.1M73.1 12.1h.1M50.7 8.2h.1M57.2 41.5h.1M67.9 10.9h.1M62.4 55.4h.1M53.9 45.6h.1M73.3 35.1h.1M53.0 45.2h.1M51.3 56.0h.1M61.9 36.9h.1M51.6 53.0h.1M53.8 74.7h.1M69.4 58.9h.1M65.4 62.8h.1M72.4 62.6h.1M52.1 71.2h.1M63.1 30.3h.1M51.5 49.0h.1M67.8 31.7h.1M58.5 56.9h.1M62.4 42.1h.1M65.3 54.5h.1M71.6 41.7h.1M56.5 48.0h.1M66.6 74.6h.1M65.6 60.9h.1M57.4 20.2h.1M50.7 52.2h.1M64.4 61.3h.1M59.5 74.7h.1M68.3 52.3h.1M55.6 41.2h.1M52.5 55.6h.1M52.9 39.1h.1M64.0 57.3h.1M59.7 53.6h.1M57.5 66.6h.1M54.6 74.7h.1M68.9 48.0h.1M51.2 51.0h.1M63.1 70.0h.1M58.2 62.5h.1M63.7 58.1h.1M64.2 48.5h.1M53.1 67.9h.1M56.4 59.9h.1M75.6 58.4h.1M58.4 32.8h.1M61.6 52.8h.1M62.4 29.6h.1M72.3 25.4h.1M54.9 69.7h.1M50.9 30.7h.1M65.8 48.5h.1M53.3 50.3h.1M55.0 67.7h.1M51.9 70.6h.1M65.5 41.0h.1M74.9 40.6h.1M59.0 52.5h.1M70.0 26.0h.1M50.7 74.1h.1M71.2 42.2h.1M63.2 66.0h.1M59.8 74.3h.1M60.6 48.1h.1M72.1 57.0h.1M67.0 63.0h.1M57.6 59.0h.1M53.0 55.0h.1M58.9 38.9h.1M65.2 71.9h.1M58.9 58.1h.1M59.5 47.3h.1M72.3 31.7h.1M52.1 52.5h.1M70.2 59.8h.1M69.5 64.7h.1M58.7 14.3h.1M73.8 63.8h.1M72.1 43.3h.1M64.5 46.2h.1M58.8 69.5h.1M66.0 56.7h.1M57.6 67.0h.1M64.2 38.6h.1M59.9 55.2h.1M67.1 48.6h.1M69.8 74.3h.1M60.6 28.6h.1M67.7 35.8h.1M54.6 51.4h.1M67.3 56.8h.1M51.3 48.1h.1M56.7 60.5h.1M73.2 33.5h.1M68.2 47.4h.1M65.8 56.3h.1M57.9 61.6h.1M68.3 57.3h.1M65.5 45.4h.1M54.7 53.0h.1M62.8 70.0h.1M60.8 35.4h.1M57.5 54.8h.1M66.2 30.5h.1M69.5 50.3h.1M61.6 65.9h.1M52.3 72.8h.1M51.0 60.3h.1M59.3 57.3h.1M53.1 50.4h.1M60.6 39.0h.1M58.1 63.9h.1M65.7 51.5h.1M64.5 58.4h.1M71.8 41.6h.1M61.8 12.1h.1M68.1 64.0h.1M76.3 68.1h.1M51.3 72.1h.1M66.9 42.4h.1M68.8 44.7h.1M73.3 50.5h.1M63.0 43.3h.1M60.7 42.6h.1M69.5 45.6h.1M69.9 31.4h.1M57.2 38.7h.1M63.0 54.6h.1M70.9 62.1h.1M55.5 57.3h.1M56.9 73.2h.1M58.2 46.1h.1M69.8 40.1h.1M55.3 74.2h.1M67.7 56.0h.1M71.3 62.5h.1M64.2 43.4h.1M72.5 46.5h.1M58.6 63.8h.1M63.4 35.1h.1M61.4 65.9h.1M50.5 11.9h.1M59.8 55.6h.1M68.7 35.7h.1M50.6 35.4h.1M53.5 33.9h.1M59.0 30.0h.1M54.7 45.9h.1M62.0 33.0h.1M68.0 57.0h.1M71.8 65.0h.1M73.4 33.8h.1M65.8 61.0h.1M53.0 55.4h.1M55.6 53.1h.1M60.4 61.2h.1M55.5 59.2h.1M63.3 64.6h.1M50.9 63.6h.1M57.0 13.1h.1M55.6 50.6h.1M69.3 51.3h.1M66.6 50.0h.1M51.0 49.3h.1M73.7 58.9h.1M62.7 21.8h.1M62.3 39.5h.1M58.3 28.9h.1M56.5 44.6h.1M59.0 59.8h.1M57.8 59.8h.1M73.0 55.4h.1"/>
<path transform="translate(431.6 387.4)" stroke="#8b7a45" stroke-width="0.7" stroke-linecap="square" d="M6.2 35.5h.1M7.5 57.1h.1M3.9 65.4h.1M6.3 55.3h.1M4.6 54.5h.1M9.6 69.1h.1M3.0 73.4h.1M9.9 48.1h.1M10.4 62.2h.1M9.2 59.0h.1M3.1 65.8h.1M11.7 40.2h.1M1.8 64.1h.1M10.1 42.0h.1M7.1 53.1h.1M8.9 56.8h.1M13.6 54.2h.1M11.2 45.9h.1M12.1 64.2h.1M3.0 30.0h.1M3.7 69.3h.1M3.3 73.8h.1M5.3 63.5h.1M9.8 55.0h.1M11.6 74.6h.1M11.5 68.3h.1M11.7 64.0h.1M11.4 47.8h.1M4.8 41.0h.1M8.0 68.2h.1M5.0 71.1h.1M9.5 66.2h.1M3.9 73.5h.1M12.2 66.3h.1M11.1 72.1h.1M9.3 74.7h.1M4.6 68.8h.1M4.6 74.7h.1M4.6 58.2h.1M12.5 53.0h.1M5.7 60.0h.1M10.9 60.4h.1M5.1 27.5h.1M6.7 68.4h.1M8.2 51.5h.1M10.9 53.5h.1M8.0 33.8h.1M5.3 73.7h.1M3.3 60.1h.1M11.3 7.2h.1M4.1 56.6h.1M3.1 66.9h.1M11.9 69.3h.1M3.3 59.4h.1M7.1 66.2h.1M9.3 61.3h.1M8.3 48.5h.1M7.6 70.0h.1M3.9 56.9h.1M6.4 61.0h.1M8.8 52.0h.1M7.8 73.4h.1M9.8 71.4h.1M10.1 58.8h.1M12.2 43.3h.1M4.5 58.8h.1M5.8 61.0h.1M4.8 59.7h.1M10.0 72.9h.1M8.5 58.1h.1M3.5 69.1h.1M5.3 24.2h.1M5.4 56.3h.1M8.5 61.4h.1M10.8 67.2h.1M7.2 48.0h.1M8.7 61.5h.1M4.9 62.7h.1M10.0 59.2h.1M11.8 65.0h.1M8.0 63.2h.1M9.6 72.9h.1M5.6 73.5h.1M8.5 73.2h.1M3.4 68.1h.1M10.3 66.2h.1M3.9 16.4h.1M10.6 54.0h.1M8.8 58.7h.1M10.9 72.3h.1M11.7 65.8h.1M12.1 60.5h.1M11.2 52.1h.1M6.9 54.3h.1M11.1 58.5h.1M11.3 15.3h.1M5.6 74.7h.1M8.9 47.2h.1M3.6 56.6h.1M10.2 60.1h.1M6.8 65.0h.1M8.9 61.6h.1M11.3 74.6h.1M3.2 74.7h.1M14.6 50.9h.1M9.9 53.2h.1M5.4 61.6h.1M4.6 66.7h.1M7.5 55.9h.1M10.6 55.1h.1M5.4 61.3h.1M7.5 56.6h.1M9.5 57.8h.1M5.9 43.2h.1M9.1 54.8h.1M3.6 64.6h.1M9.3 73.9h.1M8.3 59.3h.1M10.5 48.2h.1M5.8 31.3h.1M2.4 72.6h.1M10.5 33.8h.1M4.3 54.9h.1M12.2 54.1h.1M8.6 56.2h.1M6.6 48.3h.1M9.0 56.8h.1M7.6 54.9h.1M3.2 59.3h.1M5.7 68.4h.1M11.8 41.1h.1M4.6 53.8h.1M4.7 55.2h.1M10.7 46.7h.1M7.7 72.8h.1M9.7 42.9h.1M10.7 60.8h.1M12.0 55.8h.1M3.4 39.3h.1M4.0 65.7h.1M8.4 60.1h.1M5.3 67.8h.1M10.9 59.5h.1M8.5 48.6h.1M11.9 64.8h.1M6.9 68.8h.1M6.2 61.8h.1M1.5 72.2h.1M5.2 67.0h.1M4.1 56.0h.1M3.9 71.5h.1M6.6 58.1h.1M6.1 47.9h.1M7.1 50.5h.1M5.2 71.3h.1M7.2 72.7h.1"/>
<path d="M434.5 448.8L436.3 448.5L438.1 448.2L439.9 448.0L441.7 447.7L443.5 447.4L445.3 447.1L447.1 446.8L448.9 446.6L450.7 446.3L452.5 446.0L454.3 445.7L456.1 445.4L457.9 445.2L459.7 444.9L461.5 444.6L463.3 444.3L465.1 444.0L466.9 443.7L468.7 443.4L470.5 443.1L472.3 442.8L474.1 442.5L475.9 442.2L477.7 441.9L479.5 441.6L481.3 441.3L483.1 440.9L484.9 440.6L486.7 440.3L488.5 440.0L490.3 439.7L492.1 439.3L493.9 439.0L495.7 438.7L497.5 438.4L499.3 438.1L501.1 437.7L502.9 437.4L504.7 437.1L506.5 436.8" fill="none" stroke="#d070c0" stroke-width="1.7" opacity="0.85" stroke-linejoin="round"/>
</g>
<rect x="431.6" y="387.4" width="77.79999999999995" height="77.70000000000005" fill="none" stroke="#111" stroke-width="1.3"/>
<text transform="translate(434.70000000000005 396.0) scale(0.86 1)" font-size="6.6" text-anchor="start" >pSTAT5</text>
<line x1="428.20000000000005" y1="462.1" x2="431.6" y2="462.1" stroke="#111" stroke-width="0.9"/>
<text transform="translate(422.7 464.5) scale(0.8 1)" font-size="7.0" text-anchor="middle" >0</text>
<line x1="428.20000000000005" y1="449.4" x2="431.6" y2="449.4" stroke="#111" stroke-width="0.9"/>
<text transform="translate(422.7 451.8) scale(0.8 1)" font-size="7.0" text-anchor="middle" >1</text>
<line x1="428.20000000000005" y1="436.8" x2="431.6" y2="436.8" stroke="#111" stroke-width="0.9"/>
<text transform="translate(422.7 439.2) scale(0.8 1)" font-size="7.0" text-anchor="middle" >2</text>
<line x1="428.20000000000005" y1="424.1" x2="431.6" y2="424.1" stroke="#111" stroke-width="0.9"/>
<text transform="translate(422.7 426.5) scale(0.8 1)" font-size="7.0" text-anchor="middle" >3</text>
<line x1="428.20000000000005" y1="411.5" x2="431.6" y2="411.5" stroke="#111" stroke-width="0.9"/>
<text transform="translate(422.7 413.9) scale(0.8 1)" font-size="7.0" text-anchor="middle" >4</text>
<line x1="428.20000000000005" y1="398.8" x2="431.6" y2="398.8" stroke="#111" stroke-width="0.9"/>
<text transform="translate(422.7 401.2) scale(0.8 1)" font-size="7.0" text-anchor="middle" >5</text>
<line x1="434.5" y1="465.1" x2="434.5" y2="468.5" stroke="#111" stroke-width="0.9"/>
<text transform="translate(434.5 479.1) scale(0.8 1)" font-size="7.0" text-anchor="middle" >0.0</text>
<line x1="470.5" y1="465.1" x2="470.5" y2="468.5" stroke="#111" stroke-width="0.9"/>
<text transform="translate(470.5 479.1) scale(0.8 1)" font-size="7.0" text-anchor="middle" >0.5</text>
<line x1="506.5" y1="465.1" x2="506.5" y2="468.5" stroke="#111" stroke-width="0.9"/>
<text transform="translate(506.5 479.1) scale(0.8 1)" font-size="7.0" text-anchor="middle" >1.0</text>
<clipPath id="cpC2"><rect x="334.0" y="484.6" width="78.19999999999999" height="77.89999999999998"/></clipPath>
<g clip-path="url(#cpC2)">
<path d="M345.6 542.1L348.6 542.0L351.6 541.8L354.6 541.7L357.7 541.5L360.7 541.4L363.7 541.2L366.7 541.0L369.7 540.7L372.7 540.4L375.8 540.1L378.8 539.8L381.8 539.4L381.8 555.5L378.8 555.9L375.8 556.3L372.7 556.6L369.7 556.8L366.7 557.1L363.7 557.3L360.7 557.5L357.7 557.7L354.6 557.8L351.6 558.0L348.6 558.1L345.6 558.3Z" fill="#8e7ec0" opacity="0.90" filter="url(#sb)"/>
<path d="M345.6 535.6L348.6 535.4L351.6 535.3L354.6 535.1L357.7 535.0L360.7 534.8L363.7 534.6L366.7 534.4L369.7 534.1L372.7 533.9L375.8 533.6L378.8 533.2L381.8 532.8L381.8 560.5L378.8 560.6L375.8 560.6L372.7 560.6L369.7 560.6L366.7 560.6L363.7 560.6L360.7 560.6L357.7 560.6L354.6 560.6L351.6 560.6L348.6 560.6L345.6 560.6Z" fill="#8e7ec0" opacity="0.60" filter="url(#sb)"/>
<path d="M345.6 529.0L348.6 528.8L351.6 528.7L354.6 528.5L357.7 528.4L360.7 528.2L363.7 528.0L366.7 527.8L369.7 527.6L372.7 527.3L375.8 527.0L378.8 526.6L381.8 526.3L381.8 560.6L378.8 560.6L375.8 560.6L372.7 560.6L369.7 560.6L366.7 560.6L363.7 560.6L360.7 560.6L357.7 560.6L354.6 560.6L351.6 560.6L348.6 560.6L345.6 560.6Z" fill="#8e7ec0" opacity="0.30" filter="url(#sb)"/>
<path d="M376.7 540.0L377.6 539.9L378.5 539.8L379.4 539.7L380.3 539.6L381.2 539.5L382.1 539.4L383.1 539.3L384.0 539.1L384.9 539.0L385.8 538.9L386.7 538.8L387.6 538.6L387.6 554.8L386.7 554.9L385.8 555.0L384.9 555.1L384.0 555.3L383.1 555.4L382.1 555.5L381.2 555.6L380.3 555.7L379.4 555.8L378.5 555.9L377.6 556.1L376.7 556.2Z" fill="#a8b2cc" opacity="0.63" filter="url(#sb)"/>
<path d="M376.7 533.4L377.6 533.3L378.5 533.2L379.4 533.1L380.3 533.0L381.2 532.9L382.1 532.8L383.1 532.7L384.0 532.6L384.9 532.4L385.8 532.3L386.7 532.2L387.6 532.1L387.6 559.7L386.7 559.8L385.8 559.9L384.9 560.1L384.0 560.2L383.1 560.3L382.1 560.4L381.2 560.5L380.3 560.6L379.4 560.6L378.5 560.6L377.6 560.6L376.7 560.6Z" fill="#a8b2cc" opacity="0.42" filter="url(#sb)"/>
<path d="M376.7 526.9L377.6 526.8L378.5 526.7L379.4 526.5L380.3 526.4L381.2 526.3L382.1 526.2L383.1 526.1L384.0 526.0L384.9 525.8L385.8 525.7L386.7 525.6L387.6 525.5L387.6 560.6L386.7 560.6L385.8 560.6L384.9 560.6L384.0 560.6L383.1 560.6L382.1 560.6L381.2 560.6L380.3 560.6L379.4 560.6L378.5 560.6L377.6 560.6L376.7 560.6Z" fill="#a8b2cc" opacity="0.21" filter="url(#sb)"/>
<path d="M384.7 536.6L386.7 536.3L388.8 536.0L390.8 535.7L392.9 535.4L394.9 535.1L397.0 534.8L399.0 534.5L401.1 534.2L403.1 533.9L405.2 533.6L407.2 533.3L409.3 533.0L409.3 553.4L407.2 553.7L405.2 554.0L403.1 554.3L401.1 554.6L399.0 554.9L397.0 555.2L394.9 555.5L392.9 555.8L390.8 556.1L388.8 556.4L386.7 556.7L384.7 557.0Z" fill="#48458f" opacity="0.81" filter="url(#sb)"/>
<path d="M384.7 528.2L386.7 528.0L388.8 527.7L390.8 527.4L392.9 527.1L394.9 526.8L397.0 526.5L399.0 526.2L401.1 525.9L403.1 525.6L405.2 525.3L407.2 525.0L409.3 524.7L409.3 559.7L407.2 560.0L405.2 560.3L403.1 560.6L401.1 560.6L399.0 560.6L397.0 560.6L394.9 560.6L392.9 560.6L390.8 560.6L388.8 560.6L386.7 560.6L384.7 560.6Z" fill="#48458f" opacity="0.54" filter="url(#sb)"/>
<path d="M384.7 519.9L386.7 519.6L388.8 519.3L390.8 519.0L392.9 518.7L394.9 518.4L397.0 518.1L399.0 517.8L401.1 517.5L403.1 517.2L405.2 516.9L407.2 516.6L409.3 516.3L409.3 560.6L407.2 560.6L405.2 560.6L403.1 560.6L401.1 560.6L399.0 560.6L397.0 560.6L394.9 560.6L392.9 560.6L390.8 560.6L388.8 560.6L386.7 560.6L384.7 560.6Z" fill="#48458f" opacity="0.27" filter="url(#sb)"/>
<path d="M336.9 542.6L337.7 542.6L338.5 542.5L339.3 542.5L340.0 542.4L340.8 542.4L341.6 542.3L342.4 542.3L343.2 542.3L344.0 542.2L344.7 542.2L345.5 542.1L346.3 542.1L346.3 558.2L345.5 558.3L344.7 558.3L344.0 558.3L343.2 558.4L342.4 558.4L341.6 558.5L340.8 558.5L340.0 558.6L339.3 558.6L338.5 558.6L337.7 558.7L336.9 558.7Z" fill="#8b7a45" opacity="0.90" filter="url(#sb)"/>
<path d="M336.9 536.0L337.7 536.0L338.5 535.9L339.3 535.9L340.0 535.8L340.8 535.8L341.6 535.8L342.4 535.7L343.2 535.7L344.0 535.6L344.7 535.6L345.5 535.6L346.3 535.5L346.3 560.6L345.5 560.6L344.7 560.6L344.0 560.6L343.2 560.6L342.4 560.6L341.6 560.6L340.8 560.6L340.0 560.6L339.3 560.6L338.5 560.6L337.7 560.6L336.9 560.6Z" fill="#8b7a45" opacity="0.60" filter="url(#sb)"/>
<path d="M336.9 529.4L337.7 529.4L338.5 529.3L339.3 529.3L340.0 529.3L340.8 529.2L341.6 529.2L342.4 529.1L343.2 529.1L344.0 529.1L344.7 529.0L345.5 529.0L346.3 528.9L346.3 560.6L345.5 560.6L344.7 560.6L344.0 560.6L343.2 560.6L342.4 560.6L341.6 560.6L340.8 560.6L340.0 560.6L339.3 560.6L338.5 560.6L337.7 560.6L336.9 560.6Z" fill="#8b7a45" opacity="0.30" filter="url(#sb)"/>
<line x1="345.6" y1="559.5" x2="381.8" y2="559.5" stroke="#8e7ec0" stroke-width="1.1" opacity="0.8"/>
<line x1="376.7" y1="559.5" x2="387.6" y2="559.5" stroke="#a8b2cc" stroke-width="1.1" opacity="0.8"/>
<line x1="384.7" y1="559.5" x2="409.3" y2="559.5" stroke="#48458f" stroke-width="1.1" opacity="0.8"/>
<line x1="336.9" y1="559.5" x2="346.3" y2="559.5" stroke="#8b7a45" stroke-width="1.1" opacity="0.8"/>
<path transform="translate(334.0 484.6)" stroke="#8e7ec0" stroke-width="0.7" stroke-linecap="square" d="M27.8 56.5h.1M46.6 62.4h.1M22.0 61.7h.1M23.3 63.3h.1M18.6 72.1h.1M21.5 74.5h.1M19.1 57.3h.1M40.8 66.4h.1M27.1 62.5h.1M23.9 40.9h.1M46.7 73.9h.1M27.0 61.6h.1M37.8 71.7h.1M20.6 73.7h.1M24.4 53.9h.1M35.6 70.5h.1M25.9 73.0h.1M30.7 59.4h.1M48.7 67.5h.1M30.1 69.7h.1M45.7 67.0h.1M36.1 68.5h.1M46.7 68.3h.1M41.1 72.3h.1M13.8 62.7h.1M32.9 68.4h.1M21.5 63.5h.1M47.0 49.4h.1M32.1 74.9h.1M31.4 74.9h.1M39.0 70.0h.1M28.6 67.2h.1M34.6 59.4h.1M22.4 52.8h.1M47.1 67.4h.1M22.4 70.6h.1M17.6 49.4h.1M14.4 74.9h.1M20.5 62.0h.1M39.9 58.7h.1M36.7 50.9h.1M32.6 57.4h.1M27.4 69.8h.1M47.7 74.9h.1M43.7 72.8h.1M33.4 74.9h.1M36.2 72.1h.1M32.8 74.9h.1M40.2 59.8h.1M34.3 66.1h.1M41.2 65.9h.1M14.3 74.6h.1M27.4 58.1h.1M37.9 72.5h.1M18.2 51.2h.1M27.5 74.9h.1M16.5 67.5h.1M41.2 58.2h.1M26.9 56.7h.1M29.8 61.8h.1M36.0 69.0h.1M28.2 68.4h.1M35.4 69.1h.1M12.2 64.7h.1M27.9 66.9h.1M25.7 50.4h.1M36.5 44.7h.1M35.1 67.0h.1M32.9 69.4h.1M23.6 63.1h.1M31.4 67.0h.1M46.9 70.3h.1M43.5 67.0h.1M25.5 63.5h.1M41.9 68.8h.1M45.7 55.6h.1M12.2 74.9h.1M15.4 49.6h.1M35.2 49.3h.1M34.2 72.0h.1M18.8 60.4h.1M33.2 72.6h.1M39.1 63.8h.1M16.1 66.1h.1M38.7 61.8h.1M23.5 68.0h.1M41.4 69.4h.1M37.3 46.4h.1M26.5 57.4h.1M44.3 66.4h.1M13.7 74.9h.1M43.1 56.3h.1M14.1 27.0h.1M32.0 65.4h.1M39.5 52.9h.1M11.0 64.4h.1M45.9 69.4h.1M36.1 72.4h.1M21.4 74.9h.1M22.8 74.0h.1M25.1 53.8h.1M35.3 74.9h.1M32.3 58.3h.1M37.1 68.6h.1M46.8 70.8h.1M28.3 74.9h.1M45.1 59.0h.1M18.7 62.7h.1M14.7 69.2h.1M28.1 69.4h.1M36.3 54.4h.1M24.8 64.1h.1M41.3 42.2h.1M33.3 47.1h.1M44.6 50.1h.1M18.4 73.5h.1M14.3 27.1h.1M17.8 56.8h.1M38.8 74.0h.1M42.9 46.7h.1M45.7 51.5h.1M22.9 48.2h.1M22.1 74.6h.1M47.6 74.9h.1M46.7 60.6h.1M46.7 50.8h.1M19.2 62.8h.1M31.3 68.7h.1M40.9 61.3h.1M30.8 71.9h.1M33.4 64.1h.1M37.3 61.1h.1M41.3 62.3h.1M32.0 65.6h.1M38.8 72.8h.1M46.8 72.8h.1M17.5 73.5h.1M36.6 70.4h.1M20.0 74.9h.1M18.4 70.6h.1M32.9 69.4h.1M6.0 67.4h.1M45.0 67.0h.1M20.5 53.8h.1M28.2 67.9h.1M20.7 70.8h.1M33.1 66.3h.1M30.9 62.2h.1M32.9 70.1h.1M13.1 69.5h.1M22.5 56.0h.1M21.6 72.5h.1M13.0 74.2h.1M20.4 65.0h.1M29.3 66.8h.1M45.5 57.6h.1M33.5 74.9h.1M44.2 56.8h.1M37.7 66.9h.1M14.9 64.0h.1M32.1 59.5h.1M45.8 72.6h.1M47.2 52.3h.1M24.7 57.2h.1M26.8 70.1h.1M18.3 62.0h.1M20.2 69.8h.1M43.4 58.6h.1M22.2 55.5h.1M27.3 40.8h.1M25.0 67.6h.1M14.7 66.6h.1M40.7 74.2h.1M46.3 70.6h.1M16.6 52.8h.1M29.2 29.1h.1M13.6 70.2h.1M36.9 68.9h.1M16.3 59.3h.1M47.0 58.7h.1M14.7 62.8h.1M39.3 52.6h.1M21.5 73.2h.1M32.5 74.9h.1M17.0 60.6h.1M39.7 49.3h.1M22.4 71.6h.1M12.3 66.0h.1M16.0 71.4h.1M14.0 69.8h.1M46.8 59.6h.1M17.0 68.4h.1M35.2 70.1h.1M43.8 49.9h.1M11.9 70.1h.1M38.7 70.5h.1M29.0 67.5h.1M20.6 63.6h.1M28.2 59.3h.1M21.7 59.1h.1M14.0 71.7h.1M25.2 4.2h.1M17.1 74.9h.1M40.2 66.5h.1M33.5 55.6h.1M16.1 51.1h.1M24.1 52.4h.1M37.3 57.2h.1M39.8 74.0h.1M34.8 74.9h.1M23.6 73.8h.1M33.4 72.4h.1M18.4 74.9h.1M27.6 74.9h.1M27.5 73.3h.1M27.4 66.3h.1M31.5 60.0h.1M21.2 74.9h.1M42.7 74.8h.1M29.0 45.5h.1M34.7 65.4h.1M24.7 67.1h.1M20.6 58.8h.1M18.7 44.2h.1M37.6 12.1h.1M37.8 65.5h.1M33.7 74.2h.1M37.5 64.1h.1M19.3 74.9h.1M36.4 74.0h.1M25.2 38.6h.1M23.3 57.7h.1M38.2 69.1h.1M25.9 74.9h.1M29.5 60.0h.1M17.7 74.2h.1M21.6 70.4h.1M33.6 59.8h.1M13.2 65.2h.1M45.1 69.7h.1M39.6 66.3h.1M14.6 58.2h.1M36.0 63.0h.1M43.7 68.1h.1M26.9 74.3h.1M37.8 56.5h.1M26.4 74.7h.1M39.1 63.5h.1M13.2 72.9h.1M15.7 68.1h.1M24.9 68.1h.1M20.7 57.4h.1M38.1 56.1h.1M41.4 70.8h.1M19.4 74.9h.1M24.8 56.7h.1M34.8 67.5h.1M27.7 72.9h.1M23.0 57.1h.1M37.5 43.7h.1M24.2 71.9h.1M30.0 74.9h.1M34.3 49.2h.1M43.5 43.9h.1M39.7 73.3h.1M23.0 36.8h.1M45.2 65.9h.1M17.2 71.4h.1M18.6 74.9h.1M34.1 59.1h.1M44.9 56.2h.1M32.0 60.8h.1M11.5 71.1h.1M43.2 66.8h.1M25.3 60.9h.1M42.1 56.8h.1M14.1 41.7h.1M26.1 60.6h.1M44.3 74.5h.1M44.1 67.3h.1M13.9 66.1h.1M42.5 53.9h.1M36.4 69.3h.1M24.2 74.9h.1M31.5 61.2h.1M40.7 62.2h.1M16.7 70.8h.1M41.8 55.7h.1M17.4 67.0h.1M44.6 74.3h.1M36.1 45.7h.1M28.8 62.8h.1M23.0 60.5h.1M44.6 61.1h.1M29.0 43.0h.1M31.7 69.5h.1M34.5 51.0h.1M30.9 59.0h.1M24.8 58.9h.1M15.9 66.6h.1"/>
<path transform="translate(334.0 484.6)" stroke="#a8b2cc" stroke-width="0.7" stroke-linecap="square" d="M56.3 53.6h.1M47.9 33.8h.1M49.0 74.9h.1M46.2 52.1h.1M43.0 62.5h.1M51.4 73.8h.1M45.1 47.3h.1M47.9 57.2h.1M43.9 51.1h.1M48.3 44.3h.1M46.6 62.9h.1M51.7 64.7h.1M48.1 64.6h.1M52.7 64.9h.1M51.3 72.9h.1M42.8 65.0h.1M49.7 66.9h.1M42.7 59.4h.1M45.4 56.2h.1M42.9 66.2h.1M48.5 67.9h.1M50.3 65.7h.1M48.2 67.9h.1M52.2 59.4h.1M49.9 68.2h.1M51.2 59.5h.1M44.3 74.2h.1M42.7 74.9h.1M49.6 69.6h.1M43.7 67.7h.1M45.6 63.5h.1M48.8 61.8h.1M40.2 68.0h.1M50.1 65.3h.1M44.2 64.2h.1M49.9 57.5h.1M47.0 68.8h.1M47.2 66.6h.1M49.7 71.6h.1M47.6 58.9h.1M52.0 56.1h.1M48.9 69.6h.1M51.9 64.6h.1M42.8 72.2h.1M53.5 66.0h.1M48.8 54.9h.1M51.7 58.2h.1M53.6 54.0h.1M52.5 72.2h.1M48.5 60.4h.1M53.6 60.2h.1M42.7 66.4h.1M48.8 63.6h.1M43.6 69.7h.1M43.7 34.4h.1M47.8 68.6h.1M47.7 66.3h.1M50.3 46.8h.1M52.5 60.0h.1M42.9 68.3h.1M45.9 64.3h.1M46.3 74.9h.1M51.5 53.9h.1M53.3 74.3h.1M53.4 69.6h.1M49.3 69.1h.1M50.8 62.3h.1M53.6 65.1h.1M44.8 53.5h.1M49.0 55.4h.1M47.7 74.9h.1M48.8 44.3h.1M44.1 55.6h.1M53.3 38.4h.1M45.8 56.5h.1M43.0 59.3h.1M48.2 69.1h.1M44.4 35.2h.1M47.2 64.4h.1M35.5 39.9h.1M45.1 61.0h.1M51.3 64.9h.1M43.0 69.4h.1M43.5 71.6h.1M47.2 61.5h.1M52.5 65.9h.1M46.1 48.3h.1M43.4 59.6h.1M50.5 72.6h.1M44.4 65.0h.1M50.2 58.0h.1M50.2 59.8h.1M53.3 8.1h.1M53.3 52.9h.1M52.0 60.0h.1M50.1 72.3h.1"/>
<path transform="translate(334.0 484.6)" stroke="#48458f" stroke-width="0.7" stroke-linecap="square" d="M71.2 70.4h.1M58.5 59.9h.1M58.0 58.4h.1M68.7 31.9h.1M70.8 47.8h.1M66.8 33.2h.1M74.2 71.8h.1M56.5 65.7h.1M73.2 67.2h.1M61.2 71.1h.1M61.3 71.4h.1M52.5 52.8h.1M60.1 57.3h.1M68.9 63.0h.1M48.8 63.6h.1M56.8 74.9h.1M66.8 62.2h.1M64.5 67.4h.1M65.8 56.6h.1M65.7 62.7h.1M74.8 69.4h.1M54.5 59.6h.1M55.4 44.3h.1M72.5 57.6h.1M68.9 74.9h.1M64.4 53.1h.1M59.3 60.9h.1M70.1 64.3h.1M54.8 74.9h.1M71.9 50.7h.1M54.6 51.2h.1M62.3 74.0h.1M61.4 55.0h.1M53.3 62.1h.1M66.0 52.3h.1M61.7 63.1h.1M57.5 62.1h.1M59.0 61.9h.1M66.0 66.9h.1M59.9 64.9h.1M55.9 50.3h.1M60.9 52.7h.1M59.2 47.3h.1M61.7 57.0h.1M63.2 19.5h.1M57.4 50.7h.1M68.7 51.1h.1M68.7 71.2h.1M50.7 59.8h.1M67.1 61.8h.1M68.3 65.8h.1M57.7 74.9h.1M67.9 74.2h.1M60.9 70.5h.1M72.7 62.8h.1M66.0 57.4h.1M61.6 51.8h.1M71.6 66.0h.1M66.8 43.6h.1M70.2 56.0h.1M67.5 49.3h.1M68.6 47.3h.1M67.6 51.8h.1M58.2 60.6h.1M70.1 68.2h.1M72.5 49.9h.1M58.6 51.9h.1M67.5 72.3h.1M63.3 74.4h.1M68.8 48.0h.1M64.4 68.2h.1M55.3 61.8h.1M52.3 67.1h.1M73.1 44.6h.1M74.6 47.9h.1M65.7 48.0h.1M53.7 60.1h.1M69.7 67.7h.1M60.5 53.5h.1M54.6 72.1h.1M75.0 73.1h.1M61.4 66.6h.1M68.0 63.6h.1M61.2 51.6h.1M64.4 63.7h.1M68.3 63.2h.1M62.6 71.0h.1M51.7 69.0h.1M62.7 56.8h.1M72.7 46.2h.1M74.4 54.5h.1M61.3 74.9h.1M50.7 73.1h.1M68.2 50.1h.1M71.9 67.6h.1M59.1 47.6h.1M69.4 73.2h.1M53.4 69.8h.1M51.6 67.8h.1M54.1 61.3h.1M64.4 67.3h.1M74.3 43.4h.1M76.7 40.4h.1M54.4 58.1h.1M58.4 60.4h.1M54.0 73.9h.1M72.4 55.8h.1M68.4 69.3h.1M64.3 68.9h.1M75.1 55.5h.1M60.6 52.6h.1M65.5 73.2h.1M65.3 64.5h.1M58.6 56.5h.1M54.1 70.1h.1M59.5 52.0h.1M73.0 58.3h.1M67.8 74.3h.1M74.5 43.4h.1M61.0 61.1h.1M64.8 51.4h.1M53.9 70.2h.1M67.3 66.3h.1M71.6 64.5h.1M53.8 56.7h.1M68.1 65.1h.1M57.9 74.9h.1M74.2 51.8h.1M70.7 55.4h.1M61.9 70.6h.1M61.6 55.4h.1M61.0 74.5h.1M57.0 38.2h.1M56.2 58.9h.1M74.6 55.4h.1M54.4 56.5h.1M58.3 63.8h.1M59.4 43.6h.1M53.4 59.8h.1M57.5 74.3h.1M54.9 57.1h.1M63.8 70.4h.1M55.3 71.1h.1M53.1 52.1h.1M57.7 46.2h.1M52.5 74.9h.1M70.5 70.9h.1M59.8 67.0h.1M57.1 57.0h.1M54.3 59.9h.1M65.9 73.0h.1M63.3 63.1h.1M53.2 53.1h.1M64.7 28.9h.1M54.2 58.0h.1M60.3 61.6h.1M72.8 68.4h.1M57.1 74.6h.1M68.0 74.3h.1M73.1 45.0h.1M73.2 60.7h.1M63.7 70.9h.1M52.3 51.2h.1M62.5 60.0h.1M56.3 64.4h.1M53.1 70.4h.1M65.3 64.2h.1M64.6 59.1h.1M64.7 55.2h.1M67.4 50.0h.1M53.9 69.8h.1M70.6 38.9h.1M65.5 66.9h.1M54.5 32.4h.1M70.1 64.3h.1M54.3 63.5h.1M68.9 50.2h.1M62.4 66.1h.1M62.5 57.6h.1M62.2 56.5h.1M52.6 58.3h.1M58.6 70.4h.1M70.3 69.1h.1M55.5 46.8h.1M46.7 74.9h.1M64.6 64.7h.1M73.9 74.0h.1M72.4 69.7h.1M56.2 74.8h.1M69.8 35.9h.1M52.7 61.1h.1M53.5 67.3h.1M64.7 64.2h.1M54.1 58.7h.1M73.5 68.0h.1M63.7 70.2h.1M65.6 59.2h.1M69.7 74.9h.1M59.3 49.5h.1M67.7 53.5h.1M53.5 48.1h.1M51.2 53.7h.1M57.3 61.0h.1M69.8 55.6h.1M74.6 64.7h.1M68.0 65.9h.1M55.5 64.1h.1M73.2 44.8h.1M71.5 60.0h.1M64.2 52.3h.1M71.9 63.9h.1M51.4 58.7h.1M73.0 69.6h.1M74.4 56.2h.1M61.2 51.9h.1M57.4 72.0h.1M54.3 51.8h.1M71.9 52.7h.1M55.1 66.8h.1M67.4 66.6h.1M69.2 55.6h.1M71.7 28.4h.1M51.8 67.0h.1M55.3 54.7h.1M66.8 54.9h.1M55.9 39.7h.1M74.8 62.1h.1M52.5 61.8h.1M55.9 61.1h.1M65.9 71.2h.1M73.1 61.6h.1M67.5 51.7h.1M57.0 70.5h.1M70.4 64.7h.1M62.3 73.7h.1M51.7 70.7h.1M65.0 74.9h.1M55.8 57.6h.1M68.5 63.8h.1M69.3 2.6h.1M53.8 46.5h.1M62.1 46.2h.1M52.1 74.9h.1M65.1 61.0h.1M66.3 67.2h.1M75.0 71.8h.1M70.5 72.6h.1M57.3 57.4h.1M62.7 56.3h.1M72.3 57.0h.1M53.2 69.2h.1M58.8 42.8h.1M65.1 57.4h.1M57.3 35.5h.1M62.5 67.4h.1M62.9 59.9h.1M53.4 73.7h.1M60.0 55.7h.1M52.3 74.0h.1M71.2 47.8h.1M60.4 51.0h.1M55.8 58.5h.1M55.3 61.3h.1M69.2 63.7h.1M74.5 63.4h.1M50.9 50.6h.1M55.9 61.2h.1M71.9 41.1h.1M62.7 50.7h.1M59.8 65.3h.1M75.2 63.5h.1M54.7 61.7h.1M51.8 74.9h.1M66.6 71.1h.1M63.8 67.3h.1M54.4 66.1h.1M73.4 38.5h.1M68.9 64.4h.1M65.4 71.8h.1M68.7 57.3h.1M65.9 61.6h.1M65.8 70.6h.1M66.0 53.3h.1M68.3 50.8h.1M55.8 74.5h.1M59.9 61.6h.1M54.8 60.7h.1M72.6 4.6h.1M52.0 63.7h.1M52.0 64.2h.1M47.1 41.1h.1M61.4 54.9h.1M60.0 61.4h.1M59.2 59.8h.1M56.7 57.1h.1M72.3 55.3h.1M60.5 50.6h.1M68.3 40.5h.1M53.4 14.2h.1M51.6 66.6h.1"/>
<path transform="translate(334.0 484.6)" stroke="#8b7a45" stroke-width="0.7" stroke-linecap="square" d="M8.2 60.4h.1M12.2 56.1h.1M9.1 68.3h.1M11.9 62.7h.1M8.7 11.6h.1M3.2 67.6h.1M7.8 74.9h.1M12.2 71.5h.1M1.8 52.7h.1M10.6 74.9h.1M6.6 57.4h.1M5.3 60.8h.1M8.1 56.0h.1M8.7 62.8h.1M9.5 64.6h.1M8.1 74.9h.1M5.6 71.6h.1M5.0 73.7h.1M11.2 65.9h.1M11.6 64.4h.1M4.4 56.3h.1M4.4 61.8h.1M9.0 57.1h.1M6.0 71.3h.1M9.3 55.5h.1M3.9 13.8h.1M3.8 49.3h.1M7.1 70.6h.1M5.2 57.6h.1M7.7 74.7h.1M2.2 70.9h.1M9.4 71.6h.1M1.5 56.1h.1M10.1 62.2h.1M4.3 67.9h.1M3.1 68.5h.1M10.4 57.8h.1M3.6 71.4h.1M5.2 60.2h.1M9.1 66.3h.1M8.7 74.6h.1M10.3 68.7h.1M6.4 69.4h.1M10.4 67.2h.1M6.9 71.3h.1M7.0 71.9h.1M9.8 70.4h.1M3.3 69.9h.1M9.4 74.9h.1M10.6 59.1h.1M5.2 61.2h.1M5.9 59.0h.1M8.9 52.2h.1M11.0 57.9h.1M6.4 51.6h.1M3.3 60.5h.1M10.3 61.9h.1M13.5 61.0h.1M7.9 71.8h.1M12.0 71.6h.1M10.2 74.4h.1M5.9 43.9h.1M5.6 62.8h.1M13.7 55.3h.1M7.5 60.5h.1M9.9 67.2h.1M4.8 61.2h.1M10.3 72.1h.1M7.4 65.0h.1M8.3 67.7h.1M9.6 58.5h.1M7.6 56.1h.1M10.8 58.4h.1M10.5 69.6h.1M7.4 74.8h.1M16.6 50.7h.1M4.6 73.0h.1M3.5 60.5h.1M8.4 66.2h.1M3.0 63.3h.1M10.4 64.5h.1M7.9 57.1h.1M4.3 61.7h.1M9.5 68.9h.1M10.3 74.9h.1M9.3 5.7h.1M5.4 62.7h.1M10.7 66.8h.1M4.0 71.7h.1M7.3 67.5h.1M7.3 69.9h.1M11.6 58.0h.1M12.0 65.7h.1M8.5 61.8h.1M11.3 59.8h.1M6.4 71.9h.1M7.3 69.4h.1M11.6 73.9h.1M7.6 66.1h.1M4.7 52.8h.1M3.4 69.1h.1M5.2 73.8h.1M9.1 66.0h.1M5.0 57.4h.1M6.9 66.0h.1M5.0 72.7h.1M9.7 72.2h.1M8.0 69.5h.1M7.0 74.5h.1M11.1 67.7h.1M8.6 66.9h.1M8.7 72.2h.1M11.7 73.7h.1M3.9 72.1h.1M9.2 71.7h.1M4.1 57.6h.1M10.3 68.0h.1M10.8 56.8h.1M3.8 65.8h.1M8.5 53.8h.1M8.9 74.9h.1M7.9 71.2h.1M3.7 74.1h.1M5.2 49.6h.1M1.5 73.3h.1M11.3 73.1h.1M10.3 50.6h.1M10.2 68.7h.1M5.7 65.6h.1M4.0 65.6h.1M4.4 54.5h.1M4.2 74.5h.1M9.9 74.9h.1M8.2 71.9h.1M2.4 70.9h.1M11.5 58.9h.1M8.7 69.7h.1M11.8 61.2h.1M11.2 69.3h.1M5.9 54.4h.1M2.9 67.2h.1M11.0 55.5h.1M8.5 63.8h.1M4.1 68.7h.1M6.7 53.4h.1M10.8 64.6h.1M7.3 62.7h.1M6.1 56.8h.1M5.4 68.5h.1M6.4 62.9h.1M4.9 67.2h.1M10.9 55.3h.1M8.6 59.6h.1M11.6 62.0h.1M8.6 70.3h.1M9.9 52.1h.1"/>
<path d="M336.9 551.8L338.7 551.7L340.5 551.6L342.3 551.5L344.1 551.4L345.9 551.3L347.8 551.2L349.6 551.2L351.4 551.1L353.2 551.0L355.0 550.9L356.8 550.8L358.6 550.7L360.4 550.6L362.2 550.5L364.0 550.4L365.9 550.2L367.7 550.1L369.5 550.0L371.3 549.8L373.1 549.6L374.9 549.4L376.7 549.2L378.5 549.0L380.3 548.8L382.1 548.6L384.0 548.3L385.8 548.1L387.6 547.8L389.4 547.6L391.2 547.3L393.0 547.1L394.8 546.8L396.6 546.5L398.4 546.3L400.2 546.0L402.1 545.7L403.9 545.5L405.7 545.2L407.5 544.9L409.3 544.7" fill="none" stroke="#d070c0" stroke-width="1.7" opacity="0.85" stroke-linejoin="round"/>
</g>
<rect x="334.0" y="484.6" width="78.19999999999999" height="77.89999999999998" fill="none" stroke="#111" stroke-width="1.3"/>
<text transform="translate(337.1 493.2) scale(0.86 1)" font-size="6.6" text-anchor="start" >pSTAT1</text>
<line x1="330.6" y1="559.5" x2="334.0" y2="559.5" stroke="#111" stroke-width="0.9"/>
<text transform="translate(325.1 561.9) scale(0.8 1)" font-size="7.0" text-anchor="middle" >0</text>
<line x1="330.6" y1="548.5" x2="334.0" y2="548.5" stroke="#111" stroke-width="0.9"/>
<text transform="translate(325.1 550.9) scale(0.8 1)" font-size="7.0" text-anchor="middle" >1</text>
<line x1="330.6" y1="537.6" x2="334.0" y2="537.6" stroke="#111" stroke-width="0.9"/>
<text transform="translate(325.1 540.0) scale(0.8 1)" font-size="7.0" text-anchor="middle" >2</text>
<line x1="330.6" y1="526.6" x2="334.0" y2="526.6" stroke="#111" stroke-width="0.9"/>
<text transform="translate(325.1 529.0) scale(0.8 1)" font-size="7.0" text-anchor="middle" >3</text>
<line x1="330.6" y1="515.6" x2="334.0" y2="515.6" stroke="#111" stroke-width="0.9"/>
<text transform="translate(325.1 518.0) scale(0.8 1)" font-size="7.0" text-anchor="middle" >4</text>
<line x1="330.6" y1="504.6" x2="334.0" y2="504.6" stroke="#111" stroke-width="0.9"/>
<text transform="translate(325.1 507.0) scale(0.8 1)" font-size="7.0" text-anchor="middle" >5</text>
<line x1="330.6" y1="493.7" x2="334.0" y2="493.7" stroke="#111" stroke-width="0.9"/>
<text transform="translate(325.1 496.1) scale(0.8 1)" font-size="7.0" text-anchor="middle" >6</text>
<line x1="336.9" y1="562.5" x2="336.9" y2="565.9" stroke="#111" stroke-width="0.9"/>
<text transform="translate(336.9 576.5) scale(0.8 1)" font-size="7.0" text-anchor="middle" >0.0</text>
<line x1="373.1" y1="562.5" x2="373.1" y2="565.9" stroke="#111" stroke-width="0.9"/>
<text transform="translate(373.1 576.5) scale(0.8 1)" font-size="7.0" text-anchor="middle" >0.5</text>
<line x1="409.3" y1="562.5" x2="409.3" y2="565.9" stroke="#111" stroke-width="0.9"/>
<text transform="translate(409.3 576.5) scale(0.8 1)" font-size="7.0" text-anchor="middle" >1.0</text>
<clipPath id="cpC3"><rect x="431.6" y="484.6" width="77.79999999999995" height="77.89999999999998"/></clipPath>
<g clip-path="url(#cpC3)">
<path d="M443.1 528.6L446.1 528.3L449.1 527.9L452.1 527.5L455.1 527.2L458.1 526.8L461.1 526.4L464.1 526.0L467.1 525.5L470.1 525.1L473.1 524.6L476.1 524.1L479.1 523.6L479.1 547.6L476.1 548.1L473.1 548.6L470.1 549.1L467.1 549.6L464.1 550.0L461.1 550.4L458.1 550.8L455.1 551.2L452.1 551.6L449.1 551.9L446.1 552.3L443.1 552.7Z" fill="#8e7ec0" opacity="0.90" filter="url(#sb)"/>
<path d="M443.1 518.8L446.1 518.5L449.1 518.1L452.1 517.7L455.1 517.3L458.1 517.0L461.1 516.6L464.1 516.1L467.1 515.7L470.1 515.2L473.1 514.8L476.1 514.3L479.1 513.7L479.1 555.0L476.1 555.5L473.1 556.0L470.1 556.5L467.1 556.9L464.1 557.4L461.1 557.8L458.1 558.2L455.1 558.6L452.1 558.9L449.1 559.3L446.1 559.7L443.1 560.0Z" fill="#8e7ec0" opacity="0.60" filter="url(#sb)"/>
<path d="M443.1 509.0L446.1 508.6L449.1 508.3L452.1 507.9L455.1 507.5L458.1 507.1L461.1 506.7L464.1 506.3L467.1 505.9L470.1 505.4L473.1 505.0L476.1 504.5L479.1 503.9L479.1 561.4L476.1 561.4L473.1 561.4L470.1 561.4L467.1 561.4L464.1 561.4L461.1 561.4L458.1 561.4L455.1 561.4L452.1 561.4L449.1 561.4L446.1 561.4L443.1 561.4Z" fill="#8e7ec0" opacity="0.30" filter="url(#sb)"/>
<path d="M474.1 524.4L475.0 524.3L475.9 524.1L476.8 524.0L477.7 523.8L478.6 523.6L479.5 523.5L480.4 523.3L481.3 523.2L482.2 523.0L483.1 522.8L484.0 522.7L484.9 522.5L484.9 546.5L484.0 546.7L483.1 546.9L482.2 547.0L481.3 547.2L480.4 547.4L479.5 547.5L478.6 547.7L477.7 547.8L476.8 548.0L475.9 548.2L475.0 548.3L474.1 548.5Z" fill="#a8b2cc" opacity="0.63" filter="url(#sb)"/>
<path d="M474.1 514.6L475.0 514.5L475.9 514.3L476.8 514.1L477.7 514.0L478.6 513.8L479.5 513.7L480.4 513.5L481.3 513.4L482.2 513.2L483.1 513.0L484.0 512.9L484.9 512.7L484.9 553.9L484.0 554.1L483.1 554.2L482.2 554.4L481.3 554.6L480.4 554.7L479.5 554.9L478.6 555.0L477.7 555.2L476.8 555.4L475.9 555.5L475.0 555.7L474.1 555.8Z" fill="#a8b2cc" opacity="0.42" filter="url(#sb)"/>
<path d="M474.1 504.8L475.0 504.6L475.9 504.5L476.8 504.3L477.7 504.2L478.6 504.0L479.5 503.9L480.4 503.7L481.3 503.5L482.2 503.4L483.1 503.2L484.0 503.0L484.9 502.9L484.9 561.3L484.0 561.4L483.1 561.4L482.2 561.4L481.3 561.4L480.4 561.4L479.5 561.4L478.6 561.4L477.7 561.4L476.8 561.4L475.9 561.4L475.0 561.4L474.1 561.4Z" fill="#a8b2cc" opacity="0.21" filter="url(#sb)"/>
<path d="M482.0 520.9L484.1 520.5L486.1 520.2L488.1 519.8L490.2 519.4L492.2 519.0L494.3 518.6L496.3 518.2L498.3 517.8L500.4 517.4L502.4 517.0L504.5 516.7L506.5 516.3L506.5 544.0L504.5 544.4L502.4 544.8L500.4 545.2L498.3 545.6L496.3 546.0L494.3 546.3L492.2 546.7L490.2 547.1L488.1 547.5L486.1 547.9L484.1 548.3L482.0 548.7Z" fill="#48458f" opacity="0.81" filter="url(#sb)"/>
<path d="M482.0 509.6L484.1 509.2L486.1 508.8L488.1 508.5L490.2 508.1L492.2 507.7L494.3 507.3L496.3 506.9L498.3 506.5L500.4 506.1L502.4 505.7L504.5 505.3L506.5 505.0L506.5 552.5L504.5 552.9L502.4 553.3L500.4 553.7L498.3 554.1L496.3 554.4L494.3 554.8L492.2 555.2L490.2 555.6L488.1 556.0L486.1 556.4L484.1 556.8L482.0 557.1Z" fill="#48458f" opacity="0.54" filter="url(#sb)"/>
<path d="M482.0 498.3L484.1 497.9L486.1 497.5L488.1 497.1L490.2 496.7L492.2 496.4L494.3 496.0L496.3 495.6L498.3 495.2L500.4 494.8L502.4 494.4L504.5 494.0L506.5 493.6L506.5 561.0L504.5 561.4L502.4 561.4L500.4 561.4L498.3 561.4L496.3 561.4L494.3 561.4L492.2 561.4L490.2 561.4L488.1 561.4L486.1 561.4L484.1 561.4L482.0 561.4Z" fill="#48458f" opacity="0.27" filter="url(#sb)"/>
<path d="M434.5 529.7L435.3 529.6L436.1 529.5L436.8 529.4L437.6 529.3L438.4 529.2L439.2 529.1L440.0 529.0L440.7 528.9L441.5 528.8L442.3 528.7L443.1 528.6L443.9 528.5L443.9 552.6L443.1 552.7L442.3 552.8L441.5 552.9L440.7 553.0L440.0 553.1L439.2 553.2L438.4 553.3L437.6 553.4L436.8 553.5L436.1 553.6L435.3 553.7L434.5 553.8Z" fill="#8b7a45" opacity="0.90" filter="url(#sb)"/>
<path d="M434.5 519.9L435.3 519.8L436.1 519.7L436.8 519.6L437.6 519.5L438.4 519.4L439.2 519.3L440.0 519.2L440.7 519.1L441.5 519.0L442.3 518.9L443.1 518.8L443.9 518.7L443.9 559.9L443.1 560.0L442.3 560.1L441.5 560.2L440.7 560.3L440.0 560.4L439.2 560.5L438.4 560.6L437.6 560.7L436.8 560.8L436.1 560.9L435.3 561.0L434.5 561.1Z" fill="#8b7a45" opacity="0.60" filter="url(#sb)"/>
<path d="M434.5 510.1L435.3 510.0L436.1 509.9L436.8 509.8L437.6 509.7L438.4 509.6L439.2 509.5L440.0 509.4L440.7 509.3L441.5 509.2L442.3 509.1L443.1 509.0L443.9 508.9L443.9 561.4L443.1 561.4L442.3 561.4L441.5 561.4L440.7 561.4L440.0 561.4L439.2 561.4L438.4 561.4L437.6 561.4L436.8 561.4L436.1 561.4L435.3 561.4L434.5 561.4Z" fill="#8b7a45" opacity="0.30" filter="url(#sb)"/>
<line x1="443.1" y1="559.5" x2="479.1" y2="559.5" stroke="#8e7ec0" stroke-width="1.1" opacity="0.8"/>
<line x1="474.1" y1="559.5" x2="484.9" y2="559.5" stroke="#a8b2cc" stroke-width="1.1" opacity="0.8"/>
<line x1="482.0" y1="559.5" x2="506.5" y2="559.5" stroke="#48458f" stroke-width="1.1" opacity="0.8"/>
<line x1="434.5" y1="559.5" x2="443.9" y2="559.5" stroke="#8b7a45" stroke-width="1.1" opacity="0.8"/>
<path transform="translate(431.6 484.6)" stroke="#8e7ec0" stroke-width="0.7" stroke-linecap="square" d="M44.6 52.9h.1M38.2 65.6h.1M17.5 54.2h.1M35.4 59.2h.1M33.2 44.2h.1M40.5 16.8h.1M28.3 50.2h.1M43.9 60.0h.1M28.7 55.4h.1M27.3 33.0h.1M21.3 56.6h.1M43.7 60.2h.1M36.3 64.8h.1M33.1 60.4h.1M16.5 52.5h.1M15.2 61.4h.1M27.8 51.5h.1M12.9 61.0h.1M47.3 46.7h.1M36.1 47.2h.1M30.3 68.5h.1M12.9 47.2h.1M19.9 65.8h.1M21.6 56.6h.1M31.2 59.0h.1M35.9 35.3h.1M38.1 46.4h.1M11.8 61.6h.1M19.9 62.9h.1M23.5 63.9h.1M39.0 8.2h.1M35.2 66.6h.1M16.5 44.9h.1M26.7 40.4h.1M40.7 47.7h.1M23.8 42.4h.1M13.9 43.1h.1M44.5 68.9h.1M20.5 63.3h.1M42.5 62.7h.1M14.5 70.9h.1M21.1 56.7h.1M35.6 49.0h.1M33.2 37.0h.1M48.0 41.9h.1M26.7 51.7h.1M31.7 42.3h.1M40.4 64.0h.1M42.4 58.7h.1M17.5 58.2h.1M13.1 35.5h.1M12.3 60.4h.1M24.5 69.7h.1M42.0 36.8h.1M25.2 39.2h.1M41.1 63.3h.1M36.3 39.7h.1M14.5 73.5h.1M41.7 45.4h.1M31.9 42.9h.1M12.6 56.7h.1M38.8 64.0h.1M27.7 44.8h.1M26.0 51.5h.1M27.4 59.6h.1M19.2 69.6h.1M29.0 62.5h.1M33.9 56.1h.1M32.7 56.6h.1M15.7 63.3h.1M14.8 56.8h.1M40.3 67.6h.1M18.3 72.5h.1M20.3 53.8h.1M41.6 54.8h.1M43.2 31.0h.1M29.7 53.4h.1M38.6 52.9h.1M46.0 36.2h.1M46.1 64.7h.1M16.6 45.0h.1M13.2 50.9h.1M30.9 38.5h.1M23.2 44.5h.1M15.0 62.8h.1M29.5 40.6h.1M47.6 56.6h.1M30.7 34.3h.1M15.8 18.4h.1M30.7 65.0h.1M41.3 56.2h.1M11.9 49.8h.1M45.3 12.8h.1M28.6 15.5h.1M48.9 46.3h.1M29.8 57.5h.1M28.1 57.1h.1M13.8 48.0h.1M26.0 71.8h.1M43.5 70.9h.1M13.8 72.0h.1M34.7 64.5h.1M26.6 53.8h.1M16.5 27.8h.1M21.2 64.4h.1M39.5 62.1h.1M15.8 42.6h.1M33.1 60.1h.1M24.0 67.4h.1M42.7 57.1h.1M42.1 58.9h.1M31.9 57.2h.1M44.5 44.7h.1M14.2 53.7h.1M19.0 57.0h.1M32.2 68.3h.1M24.9 68.9h.1M16.6 40.1h.1M24.5 74.9h.1M12.8 63.0h.1M32.9 54.5h.1M24.1 63.7h.1M35.0 33.6h.1M17.3 63.5h.1M12.3 58.3h.1M41.8 66.4h.1M41.4 44.7h.1M39.2 69.3h.1M26.2 59.6h.1M9.6 65.7h.1M27.8 33.9h.1M32.9 65.3h.1M47.0 51.7h.1M40.4 66.2h.1M40.2 47.6h.1M28.1 64.0h.1M46.2 62.1h.1M43.2 60.5h.1M35.9 33.8h.1M39.1 55.9h.1M43.8 40.4h.1M30.6 39.8h.1M14.0 51.3h.1M30.5 61.7h.1M16.3 55.8h.1M36.5 42.3h.1M45.5 66.5h.1M41.8 57.2h.1M13.6 63.7h.1M32.4 49.3h.1M13.2 52.3h.1M18.6 64.5h.1M41.9 31.2h.1M21.2 41.3h.1M45.8 57.5h.1M16.0 34.7h.1M38.7 63.2h.1M19.5 48.7h.1M39.0 58.4h.1M39.8 55.1h.1M12.2 71.7h.1M35.0 48.1h.1M19.4 46.9h.1M21.6 33.5h.1M35.2 56.3h.1M16.0 37.6h.1M42.0 56.1h.1M27.9 40.8h.1M17.5 56.1h.1M35.2 49.1h.1M21.2 72.1h.1M13.8 71.2h.1M36.3 55.2h.1M34.6 58.9h.1M46.8 42.2h.1M15.0 47.2h.1M37.6 51.1h.1M37.7 39.5h.1M13.0 63.7h.1M26.3 71.0h.1M39.3 50.0h.1M36.6 60.8h.1M40.0 52.6h.1M19.6 69.8h.1M14.2 61.9h.1M37.3 57.6h.1M38.5 50.7h.1M35.6 57.4h.1M31.3 63.7h.1M12.7 28.8h.1M13.6 57.1h.1M47.3 50.2h.1M27.4 29.4h.1M32.0 67.8h.1M25.0 49.3h.1M17.4 44.4h.1M45.1 27.9h.1M45.0 74.9h.1M22.1 47.9h.1M23.0 44.7h.1M27.0 46.9h.1M47.2 55.0h.1M7.2 37.5h.1M20.0 47.0h.1M40.1 62.5h.1M36.1 28.2h.1M23.7 46.6h.1M37.7 26.4h.1M22.3 31.0h.1M41.9 49.0h.1M33.2 62.8h.1M12.5 74.6h.1M26.7 54.3h.1M32.2 63.0h.1M32.0 37.9h.1M16.2 46.8h.1M28.9 49.6h.1M46.2 41.6h.1M39.7 45.7h.1M44.1 65.5h.1M18.3 73.5h.1M41.9 48.8h.1M44.7 43.6h.1M23.9 62.1h.1M21.4 61.8h.1M25.5 55.5h.1M36.1 52.6h.1M6.7 63.8h.1M45.0 37.5h.1M14.6 62.6h.1M14.1 66.1h.1M28.2 53.8h.1M36.3 66.6h.1M21.1 61.4h.1M17.5 70.4h.1M27.8 65.6h.1M15.3 43.8h.1M35.2 41.3h.1M16.7 43.7h.1M21.4 37.2h.1M23.4 43.0h.1M14.3 69.2h.1M25.4 67.9h.1M44.4 30.7h.1M25.5 74.9h.1M23.5 66.4h.1M32.9 67.1h.1M43.0 59.1h.1M54.5 35.5h.1M30.2 58.7h.1M12.1 52.1h.1M21.4 67.0h.1M26.8 57.1h.1M24.2 26.3h.1M24.6 21.8h.1M29.5 52.0h.1M36.7 30.8h.1M34.8 40.9h.1M29.8 69.5h.1M38.3 53.0h.1M27.2 63.5h.1M14.8 45.6h.1M16.8 30.3h.1M20.7 37.4h.1M42.1 53.1h.1M34.4 62.5h.1M37.8 57.2h.1M25.7 74.9h.1M29.9 74.0h.1M11.8 70.6h.1M47.0 54.0h.1M19.3 63.0h.1M26.3 65.7h.1M28.8 60.9h.1M26.8 74.9h.1M17.0 61.2h.1M18.4 11.0h.1M45.4 49.0h.1M32.9 52.0h.1M31.2 37.1h.1M42.8 47.1h.1M36.1 53.5h.1M25.9 46.3h.1M22.5 51.4h.1M38.1 55.1h.1M14.5 54.1h.1M13.2 57.7h.1M21.5 64.2h.1M45.3 48.6h.1M22.2 62.4h.1M29.0 68.6h.1M32.3 50.3h.1M27.7 73.7h.1M17.5 48.0h.1M35.5 72.6h.1M36.4 40.3h.1M39.7 35.6h.1M30.8 56.5h.1M20.4 74.9h.1M17.4 64.0h.1"/>
<path transform="translate(431.6 484.6)" stroke="#a8b2cc" stroke-width="0.7" stroke-linecap="square" d="M43.7 55.8h.1M49.7 42.0h.1M54.0 56.8h.1M47.5 62.0h.1M51.6 74.9h.1M51.3 63.8h.1M49.4 44.9h.1M48.1 35.4h.1M42.9 45.3h.1M42.5 47.9h.1M50.7 44.2h.1M48.8 51.3h.1M48.2 28.6h.1M47.9 52.8h.1M50.6 74.1h.1M44.1 47.5h.1M48.8 34.3h.1M47.4 58.9h.1M51.7 52.4h.1M43.6 71.1h.1M48.7 66.3h.1M43.2 38.4h.1M45.6 57.2h.1M49.6 65.1h.1M45.9 60.8h.1M50.4 74.0h.1M43.5 59.7h.1M49.3 21.4h.1M45.2 45.9h.1M46.8 53.2h.1M48.2 52.0h.1M43.6 65.0h.1M51.3 65.5h.1M44.5 65.6h.1M45.3 60.3h.1M52.6 47.2h.1M47.9 55.1h.1M45.2 41.4h.1M51.0 51.9h.1M54.3 46.0h.1M49.5 54.3h.1M47.5 49.3h.1M50.3 35.5h.1M51.8 58.2h.1M49.7 67.2h.1M42.5 20.5h.1M46.8 42.3h.1M44.2 57.4h.1M42.6 47.0h.1M50.2 62.1h.1M43.9 55.5h.1M53.0 50.2h.1M52.0 54.3h.1M43.1 52.3h.1M42.9 71.6h.1M47.6 66.6h.1M46.4 68.2h.1M53.3 17.9h.1M39.1 65.0h.1M49.1 64.9h.1M52.1 40.9h.1M43.4 65.3h.1M45.5 57.1h.1M50.2 60.4h.1M50.7 53.5h.1M50.5 40.2h.1M48.6 74.9h.1M43.9 61.5h.1M49.4 42.5h.1M47.8 40.0h.1M39.5 59.3h.1M47.0 67.2h.1M47.8 39.2h.1M45.5 50.4h.1M47.7 54.3h.1M42.7 70.4h.1M45.6 54.6h.1M53.6 46.8h.1M49.5 53.6h.1M44.6 44.4h.1M47.8 45.7h.1M45.1 52.4h.1M44.4 46.6h.1M42.6 51.1h.1M39.1 72.4h.1M50.7 32.3h.1M51.3 5.2h.1M46.8 54.3h.1M52.5 48.7h.1M53.3 51.7h.1M44.0 49.1h.1M53.2 60.2h.1M43.2 44.9h.1M44.4 46.7h.1M43.0 26.4h.1M44.9 46.3h.1"/>
<path transform="translate(431.6 484.6)" stroke="#48458f" stroke-width="0.7" stroke-linecap="square" d="M61.4 15.7h.1M59.8 51.0h.1M56.2 24.3h.1M64.7 46.0h.1M66.6 71.8h.1M59.0 49.1h.1M61.5 50.1h.1M54.1 18.8h.1M62.9 46.6h.1M71.5 66.2h.1M57.5 45.3h.1M73.4 53.9h.1M61.2 49.1h.1M63.6 70.2h.1M49.4 54.6h.1M69.1 60.0h.1M63.2 63.8h.1M72.0 49.8h.1M54.6 47.7h.1M69.8 43.4h.1M52.8 50.5h.1M64.8 22.2h.1M53.4 59.0h.1M52.6 33.0h.1M55.9 68.6h.1M57.6 35.7h.1M51.3 36.4h.1M61.6 65.1h.1M69.8 50.0h.1M68.6 38.2h.1M57.6 74.9h.1M66.5 47.6h.1M59.1 73.2h.1M72.0 52.2h.1M56.0 60.7h.1M54.3 72.0h.1M48.3 19.9h.1M56.0 62.9h.1M66.7 64.8h.1M63.8 48.2h.1M62.2 2.8h.1M70.5 60.9h.1M51.9 35.5h.1M69.6 57.0h.1M59.1 36.1h.1M72.8 53.1h.1M74.7 44.8h.1M65.3 17.6h.1M59.3 46.7h.1M59.8 24.0h.1M62.6 49.6h.1M51.6 32.1h.1M51.4 61.9h.1M64.0 56.0h.1M73.9 57.8h.1M73.1 49.8h.1M55.7 52.6h.1M55.0 37.2h.1M71.8 56.6h.1M60.2 41.0h.1M56.4 29.5h.1M59.7 52.1h.1M57.3 51.1h.1M57.7 38.3h.1M59.6 72.1h.1M62.8 71.1h.1M66.4 71.7h.1M54.6 66.6h.1M67.0 56.4h.1M52.6 26.2h.1M54.4 47.7h.1M60.8 30.6h.1M52.1 67.2h.1M73.2 59.9h.1M64.1 70.3h.1M53.2 67.2h.1M58.4 7.5h.1M61.4 53.4h.1M68.4 74.9h.1M65.7 50.9h.1M68.5 38.1h.1M55.9 46.9h.1M61.4 67.9h.1M73.1 56.8h.1M61.4 50.2h.1M52.5 52.9h.1M66.6 32.9h.1M64.0 43.6h.1M66.9 54.5h.1M50.5 42.0h.1M54.9 73.8h.1M72.0 60.5h.1M70.0 46.9h.1M62.1 11.5h.1M50.8 47.1h.1M66.8 49.6h.1M76.3 54.8h.1M59.8 71.7h.1M57.0 46.8h.1M68.5 45.9h.1M72.8 37.4h.1M59.3 53.7h.1M65.2 74.9h.1M53.8 57.3h.1M64.8 52.7h.1M57.2 54.5h.1M51.1 47.5h.1M73.2 33.2h.1M67.0 39.4h.1M68.8 53.1h.1M52.7 41.3h.1M54.3 67.1h.1M50.4 57.9h.1M56.1 44.9h.1M53.7 64.2h.1M60.1 69.7h.1M68.5 43.2h.1M72.4 52.4h.1M55.1 29.7h.1M62.3 47.5h.1M73.0 53.1h.1M65.2 63.1h.1M61.5 68.1h.1M70.0 58.1h.1M73.4 66.7h.1M53.5 6.6h.1M74.5 67.3h.1M72.5 44.2h.1M62.3 3.3h.1M61.6 69.1h.1M67.9 47.6h.1M67.8 41.2h.1M59.8 42.7h.1M52.9 62.6h.1M70.5 46.4h.1M60.8 44.6h.1M70.0 55.7h.1M62.6 47.3h.1M58.4 70.2h.1M63.5 64.3h.1M56.9 62.9h.1M68.0 60.2h.1M65.1 69.9h.1M74.1 38.5h.1M70.7 31.2h.1M52.8 55.7h.1M61.9 52.8h.1M74.0 45.5h.1M70.6 32.4h.1M72.5 59.6h.1M61.0 40.2h.1M70.2 47.1h.1M67.5 48.8h.1M58.2 54.3h.1M52.9 47.1h.1M74.4 29.3h.1M68.2 36.4h.1M70.8 52.8h.1M70.3 49.3h.1M50.5 52.7h.1M57.1 18.8h.1M59.3 56.3h.1M51.2 56.2h.1M70.4 15.9h.1M52.9 66.1h.1M51.4 69.6h.1M71.6 68.6h.1M67.1 56.1h.1M72.6 56.3h.1M72.0 42.5h.1M73.8 52.8h.1M64.7 2.3h.1M57.1 53.9h.1M52.0 51.4h.1M55.3 64.5h.1M57.7 60.0h.1M71.9 48.5h.1M63.8 52.4h.1M68.6 61.0h.1M54.8 64.2h.1M74.9 30.6h.1M61.5 74.2h.1M67.7 45.5h.1M69.9 20.1h.1M68.6 45.7h.1M68.3 49.1h.1M50.5 45.5h.1M64.2 74.9h.1M68.6 27.9h.1M65.6 58.2h.1M66.0 52.9h.1M57.9 70.9h.1M72.4 60.8h.1M54.3 61.6h.1M55.0 26.3h.1M57.8 39.6h.1M60.7 3.9h.1M67.7 53.1h.1M64.3 52.2h.1M63.7 59.3h.1M63.5 65.5h.1M53.0 58.6h.1M57.6 59.7h.1M65.6 35.0h.1M72.8 58.3h.1M51.3 69.5h.1M70.7 43.2h.1M58.9 31.3h.1M73.1 42.5h.1M58.7 74.9h.1M62.2 64.0h.1M58.3 52.4h.1M66.3 35.9h.1M58.4 41.4h.1M61.8 60.9h.1M69.4 22.3h.1M51.5 74.9h.1M69.6 37.1h.1M68.5 17.5h.1M58.0 37.2h.1M68.3 39.1h.1M75.7 48.2h.1M73.5 35.4h.1M61.9 61.8h.1M51.5 43.2h.1M68.8 67.8h.1M57.9 34.2h.1M76.3 9.7h.1M72.0 56.4h.1M48.2 33.6h.1M73.1 37.5h.1M69.1 61.3h.1M72.7 21.1h.1M58.2 45.5h.1M57.3 60.4h.1M51.5 52.4h.1M52.4 61.3h.1M70.6 53.4h.1M67.7 39.6h.1M56.3 46.1h.1M60.3 65.6h.1M69.9 60.9h.1M51.6 50.6h.1M51.8 63.6h.1M72.2 35.4h.1M59.2 50.3h.1M65.1 64.1h.1M65.4 34.3h.1M54.1 58.7h.1M65.3 47.2h.1M69.2 49.9h.1M51.9 48.0h.1M66.4 51.2h.1M71.8 36.9h.1M58.6 42.9h.1M62.0 30.4h.1M52.0 38.0h.1M55.4 49.4h.1M62.1 37.3h.1M52.9 53.3h.1M57.5 46.5h.1M72.8 74.9h.1M62.1 53.0h.1M72.8 6.8h.1M72.2 46.5h.1M51.8 58.6h.1M73.8 39.4h.1M52.3 50.5h.1M73.4 64.2h.1M54.1 43.0h.1M53.5 71.0h.1M74.0 58.6h.1M71.0 67.7h.1M63.6 62.2h.1M52.0 63.3h.1M58.3 43.7h.1M68.7 69.8h.1M52.5 68.1h.1M71.9 23.4h.1M58.5 54.2h.1M59.9 48.4h.1M71.0 51.2h.1M52.2 51.5h.1M71.9 61.3h.1M68.7 32.2h.1M66.3 57.9h.1M67.6 25.5h.1M51.9 20.0h.1M72.9 63.9h.1M62.3 17.5h.1M69.8 46.0h.1M72.6 35.1h.1M64.1 56.0h.1M70.0 54.9h.1M60.6 74.9h.1M74.4 42.5h.1M57.0 68.1h.1"/>
<path transform="translate(431.6 484.6)" stroke="#8b7a45" stroke-width="0.7" stroke-linecap="square" d="M4.3 48.2h.1M8.0 74.9h.1M3.3 64.5h.1M7.2 68.3h.1M5.3 56.1h.1M11.7 59.3h.1M9.6 59.5h.1M7.0 61.3h.1M3.4 67.4h.1M3.2 71.5h.1M4.1 62.2h.1M7.3 58.9h.1M8.5 74.9h.1M12.2 63.6h.1M7.2 73.7h.1M8.7 43.7h.1M12.8 43.6h.1M8.6 42.2h.1M3.8 60.3h.1M7.6 42.4h.1M9.6 59.6h.1M3.0 67.8h.1M8.8 39.1h.1M9.1 41.0h.1M9.5 73.8h.1M3.7 61.6h.1M11.9 74.1h.1M10.7 50.4h.1M11.0 72.4h.1M7.1 59.8h.1M8.4 57.1h.1M4.2 68.7h.1M9.7 41.6h.1M3.2 72.3h.1M9.3 62.9h.1M3.5 30.0h.1M9.6 60.9h.1M3.9 40.1h.1M5.5 54.2h.1M5.9 47.3h.1M5.2 72.8h.1M9.4 54.0h.1M7.9 40.5h.1M10.9 53.8h.1M6.7 41.4h.1M8.2 55.4h.1M4.1 38.0h.1M11.2 60.1h.1M7.4 61.2h.1M10.4 32.3h.1M3.2 38.0h.1M5.3 61.4h.1M5.1 66.2h.1M12.9 33.2h.1M3.1 49.2h.1M10.8 31.3h.1M2.0 74.9h.1M3.2 57.1h.1M3.5 63.7h.1M5.2 74.7h.1M4.4 50.3h.1M1.5 37.8h.1M3.9 65.1h.1M7.9 74.1h.1M3.4 62.6h.1M6.2 49.7h.1M14.0 65.2h.1M5.7 25.3h.1M7.7 60.6h.1M12.2 44.3h.1M5.6 55.8h.1M8.2 64.9h.1M11.5 36.2h.1M14.5 28.9h.1M9.7 73.7h.1M11.4 52.8h.1M6.7 59.7h.1M8.4 50.2h.1M8.4 48.1h.1M13.2 65.9h.1M2.9 74.9h.1M4.1 34.3h.1M8.3 45.8h.1M7.2 55.5h.1M4.1 47.5h.1M8.5 23.7h.1M10.4 58.4h.1M8.3 48.1h.1M12.1 53.2h.1M10.8 36.0h.1M5.8 23.6h.1M3.5 49.7h.1M11.1 54.9h.1M3.8 61.2h.1M12.3 49.4h.1M2.4 41.1h.1M4.2 56.0h.1M5.5 74.9h.1M7.2 45.6h.1M4.3 47.7h.1M10.0 49.8h.1M6.7 64.9h.1M12.1 35.3h.1M5.0 67.6h.1M7.9 61.8h.1M4.7 69.9h.1M8.6 74.9h.1M7.5 74.8h.1M3.2 62.2h.1M11.1 57.8h.1M9.0 74.9h.1M9.9 68.5h.1M9.3 62.1h.1M7.1 73.5h.1M5.2 63.2h.1M6.5 64.5h.1M10.4 57.7h.1M11.0 38.9h.1M8.9 22.7h.1M10.2 27.1h.1M9.9 59.2h.1M4.9 66.2h.1M5.3 74.9h.1M6.5 55.3h.1M5.1 74.3h.1M5.4 58.6h.1M3.6 58.6h.1M11.2 31.0h.1M10.0 36.7h.1M8.6 47.3h.1M1.5 30.4h.1M10.9 49.7h.1M11.9 50.1h.1M3.0 56.4h.1M7.4 39.0h.1M4.6 40.3h.1M4.4 53.0h.1M8.6 59.3h.1M12.1 52.9h.1M4.4 73.7h.1M4.1 69.3h.1M9.0 73.1h.1M10.9 65.9h.1M11.9 56.3h.1M11.1 45.3h.1M11.6 48.9h.1M5.7 63.7h.1M5.2 57.1h.1M4.6 51.5h.1M7.3 34.1h.1M8.8 60.2h.1M4.3 50.0h.1M11.7 55.3h.1M5.2 67.4h.1M6.7 59.1h.1M10.6 51.1h.1"/>
<path d="M434.5 543.5L436.3 543.2L438.1 543.0L439.9 542.8L441.7 542.5L443.5 542.3L445.3 542.1L447.1 541.9L448.9 541.7L450.7 541.4L452.5 541.2L454.3 541.0L456.1 540.8L457.9 540.5L459.7 540.3L461.5 540.1L463.3 539.8L465.1 539.6L466.9 539.3L468.7 539.0L470.5 538.7L472.3 538.5L474.1 538.2L475.9 537.9L477.7 537.5L479.5 537.2L481.3 536.9L483.1 536.6L484.9 536.2L486.7 535.9L488.5 535.6L490.3 535.2L492.1 534.9L493.9 534.5L495.7 534.2L497.5 533.8L499.3 533.5L501.1 533.1L502.9 532.8L504.7 532.5L506.5 532.1" fill="none" stroke="#d070c0" stroke-width="1.7" opacity="0.85" stroke-linejoin="round"/>
</g>
<rect x="431.6" y="484.6" width="77.79999999999995" height="77.89999999999998" fill="none" stroke="#111" stroke-width="1.3"/>
<text transform="translate(434.70000000000005 493.2) scale(0.86 1)" font-size="6.6" text-anchor="start" >pSTAT3</text>
<line x1="428.20000000000005" y1="559.5" x2="431.6" y2="559.5" stroke="#111" stroke-width="0.9"/>
<text transform="translate(422.7 561.9) scale(0.8 1)" font-size="7.0" text-anchor="middle" >0</text>
<line x1="428.20000000000005" y1="540.6" x2="431.6" y2="540.6" stroke="#111" stroke-width="0.9"/>
<text transform="translate(422.7 543.0) scale(0.8 1)" font-size="7.0" text-anchor="middle" >1</text>
<line x1="428.20000000000005" y1="521.8" x2="431.6" y2="521.8" stroke="#111" stroke-width="0.9"/>
<text transform="translate(422.7 524.2) scale(0.8 1)" font-size="7.0" text-anchor="middle" >2</text>
<line x1="428.20000000000005" y1="502.9" x2="431.6" y2="502.9" stroke="#111" stroke-width="0.9"/>
<text transform="translate(422.7 505.3) scale(0.8 1)" font-size="7.0" text-anchor="middle" >3</text>
<line x1="434.5" y1="562.5" x2="434.5" y2="565.9" stroke="#111" stroke-width="0.9"/>
<text transform="translate(434.5 576.5) scale(0.8 1)" font-size="7.0" text-anchor="middle" >0.0</text>
<line x1="470.5" y1="562.5" x2="470.5" y2="565.9" stroke="#111" stroke-width="0.9"/>
<text transform="translate(470.5 576.5) scale(0.8 1)" font-size="7.0" text-anchor="middle" >0.5</text>
<line x1="506.5" y1="562.5" x2="506.5" y2="565.9" stroke="#111" stroke-width="0.9"/>
<text transform="translate(506.5 576.5) scale(0.8 1)" font-size="7.0" text-anchor="middle" >1.0</text>
<line x1="315.8" y1="563.5" x2="315.8" y2="391.5" stroke="#111" stroke-width="1"/>
<path d="M315.8 386.3 l-3.1 7.6 l3.1 -1.9 l3.1 1.9z" fill="#111"/>
<line x1="334" y1="581.4" x2="506" y2="581.4" stroke="#111" stroke-width="1"/>
<path d="M511.2 581.4 l-7.6 -3.1 l1.9 3.1 l-1.9 3.1z" fill="#111"/>
<text x="422.5" y="592.8" font-size="9" text-anchor="middle" textLength="45" lengthAdjust="spacingAndGlyphs">Pseudotime</text>
<text x="310.4" y="475.3" font-size="8.8" text-anchor="middle" transform="rotate(-90 310.4 475.3)" textLength="67" lengthAdjust="spacingAndGlyphs">asinh(intensity/5)</text>
<text transform="translate(8.9 617.9) scale(0.84 1)" font-size="13.2" text-anchor="start" >D</text>
<rect x="65.4" y="629.1" width="223.2" height="6.0" fill="url(#cbg)" stroke="#111" stroke-width="1.1"/>
<line x1="69.4" y1="625.7" x2="69.4" y2="629.1" stroke="#111" stroke-width="0.9"/>
<text transform="translate(69.4 622.3) scale(0.8 1)" font-size="7.0" text-anchor="middle" >&#8211;2</text>
<line x1="123.6" y1="625.7" x2="123.6" y2="629.1" stroke="#111" stroke-width="0.9"/>
<text transform="translate(123.6 622.3) scale(0.8 1)" font-size="7.0" text-anchor="middle" >&#8211;1</text>
<line x1="177.5" y1="625.7" x2="177.5" y2="629.1" stroke="#111" stroke-width="0.9"/>
<text transform="translate(177.5 622.3) scale(0.8 1)" font-size="7.0" text-anchor="middle" >0</text>
<line x1="231.5" y1="625.7" x2="231.5" y2="629.1" stroke="#111" stroke-width="0.9"/>
<text transform="translate(231.5 622.3) scale(0.8 1)" font-size="7.0" text-anchor="middle" >1</text>
<line x1="285.7" y1="625.7" x2="285.7" y2="629.1" stroke="#111" stroke-width="0.9"/>
<text transform="translate(285.7 622.3) scale(0.8 1)" font-size="7.0" text-anchor="middle" >2</text>
<text x="177.1" y="613.7" font-size="9" text-anchor="middle" textLength="45.8" lengthAdjust="spacingAndGlyphs">Row Z score</text>
<path stroke="#ed8b41" stroke-width="6.24" d="M65.5 643.47h5.0M256.7 643.47h5.0M248.8 649.61h13.0M93.4 655.75h5.0M268.7 655.75h5.0M224.9 674.17h5.0M236.8 674.17h5.0M149.2 698.73h5.0M276.6 717.15h5.0M93.4 747.85h5.0M133.2 747.85h5.0M69.5 753.99h5.0M77.5 753.99h5.0M113.3 766.27h5.0M69.5 784.69h5.0M93.4 784.69h5.0"/>
<path stroke="#efbb6b" stroke-width="6.24" d="M69.5 643.47h5.0M145.2 643.47h5.0M65.5 649.61h5.0M224.9 649.61h5.0M153.1 655.75h5.0M77.5 661.89h5.0M113.3 661.89h5.0M105.3 668.03h5.0M276.6 668.03h5.0M121.3 674.17h5.0M256.7 674.17h5.0M125.3 680.31h5.0M185.0 680.31h5.0M220.9 680.31h9.0M236.8 680.31h5.0M252.7 680.31h5.0M280.6 680.31h5.0M85.4 692.59h5.0M77.5 698.73h5.0M161.1 698.73h5.0M220.9 698.73h5.0M141.2 704.87h5.0M153.1 704.87h5.0M232.8 704.87h5.0M137.2 711.01h5.0M260.7 711.01h5.0M69.5 717.15h5.0M97.4 717.15h5.0M141.2 717.15h5.0M185.0 717.15h5.0M232.8 717.15h5.0M272.7 717.15h5.0M169.1 723.29h5.0M232.8 723.29h5.0M137.2 729.43h13.0M185.0 729.43h5.0M204.9 729.43h5.0M73.5 735.57h5.0M81.4 735.57h5.0M149.2 735.57h5.0M165.1 735.57h5.0M248.8 735.57h5.0M125.3 741.71h5.0M137.2 741.71h5.0M157.1 741.71h5.0M141.2 747.85h9.0M149.2 753.99h5.0M145.2 760.13h5.0M69.5 766.27h5.0M97.4 766.27h5.0M129.2 766.27h5.0M137.2 766.27h5.0M73.5 772.41h5.0M125.3 772.41h5.0M133.2 778.55h5.0M137.2 784.69h5.0M149.2 790.83h5.0M272.7 790.83h5.0"/>
<path stroke="#412f7d" stroke-width="6.24" d="M73.5 643.47h5.0M95.4 643.47h3.0M137.2 643.47h5.0M149.2 643.47h3.0M201.0 643.47h5.0M228.8 643.47h3.0M89.4 649.61h7.0M97.4 649.61h13.0M115.3 649.61h3.0M133.2 649.61h3.0M69.5 655.75h5.0M85.4 655.75h3.0M99.4 655.75h3.0M105.3 655.75h3.0M117.3 655.75h7.0M81.4 661.89h5.0M89.4 661.89h5.0M107.3 661.89h3.0M149.2 661.89h3.0M161.1 661.89h3.0M202.9 661.89h3.0M206.9 661.89h3.0M216.9 661.89h5.0M125.3 668.03h3.0M129.2 668.03h5.0M153.1 668.03h3.0M191.0 668.03h3.0M95.4 680.31h3.0M101.4 680.31h3.0M111.3 680.31h3.0M175.1 680.31h3.0M286.6 680.31h2.0M137.2 692.59h5.0M153.1 692.59h5.0M204.9 698.73h3.0M232.8 698.73h5.0M218.9 717.15h7.0M280.6 729.43h8.0M69.5 735.57h5.0M270.7 741.71h7.0M280.6 741.71h5.0M228.8 747.85h5.0M244.8 747.85h5.0M268.7 747.85h5.0M280.6 747.85h8.0M228.8 753.99h5.0M236.8 753.99h9.0M264.7 753.99h5.0M276.6 753.99h12.0M256.7 760.13h5.0M264.7 760.13h5.0M280.6 760.13h5.0M208.9 766.27h5.0M220.9 766.27h5.0M232.8 766.27h5.0M240.8 766.27h5.0M248.8 766.27h5.0M284.6 766.27h4.0M201.0 772.41h5.0M208.9 772.41h16.9M246.8 772.41h3.0M252.7 772.41h5.0M260.7 772.41h9.0M276.6 772.41h5.0M201.0 778.55h9.0M216.9 778.55h9.0M264.7 778.55h5.0M193.0 784.69h5.0M216.9 784.69h5.0M262.7 790.83h3.0M280.6 790.83h5.0"/>
<path stroke="#6965b3" stroke-width="6.24" d="M77.5 643.47h3.0M161.1 649.61h3.0M191.0 649.61h3.0M157.1 655.75h3.0M204.9 655.75h3.0M226.8 655.75h3.0M99.4 661.89h3.0M123.3 661.89h3.0M125.3 692.59h5.0M161.1 692.59h5.0M177.1 692.59h5.0M197.0 692.59h5.0M216.9 692.59h5.0M165.1 698.73h5.0M212.9 698.73h9.0M264.7 698.73h5.0M149.2 704.87h5.0M185.0 704.87h5.0M73.5 711.01h5.0M153.1 711.01h5.0M161.1 711.01h5.0M248.8 711.01h5.0M165.1 717.15h5.0M109.3 729.43h5.0M173.1 729.43h5.0M256.7 729.43h5.0M169.1 735.57h5.0M208.9 735.57h5.0M256.7 735.57h5.0M276.6 735.57h5.0M197.0 741.71h5.0M236.8 741.71h5.0M264.7 747.85h5.0M228.8 760.13h5.0M189.0 784.69h5.0M204.9 784.69h5.0M236.8 784.69h5.0M228.8 790.83h5.0M240.8 790.83h5.0"/>
<path stroke="#f8f7f5" stroke-width="6.24" d="M79.4 643.47h3.0M280.6 643.47h5.0M169.1 649.61h5.0M133.2 655.75h3.0M137.2 655.75h5.0M165.1 655.75h3.0M206.9 655.75h3.0M97.4 661.89h3.0M127.3 661.89h3.0M135.2 661.89h7.0M193.0 661.89h3.0M208.9 661.89h3.0M236.8 661.89h5.0M216.9 668.03h5.0M280.6 668.03h5.0M264.7 680.31h5.0M244.8 704.87h5.0M276.6 711.01h5.0M113.3 717.15h5.0M133.2 717.15h5.0M240.8 717.15h5.0M248.8 717.15h5.0M173.1 735.57h5.0M268.7 735.57h5.0M280.6 735.57h5.0M169.1 741.71h5.0M177.1 741.71h5.0M165.1 747.85h9.0M185.0 760.13h5.0M169.1 766.27h5.0M81.4 772.41h5.0M185.0 772.41h5.0M161.1 778.55h5.0"/>
<path stroke="#c1c1e5" stroke-width="6.24" d="M81.4 643.47h3.0M89.4 643.47h5.0M115.3 643.47h3.0M121.3 643.47h3.0M131.2 643.47h3.0M167.1 643.47h3.0M175.1 643.47h3.0M224.9 643.47h5.0M230.8 643.47h3.0M87.4 649.61h3.0M113.3 649.61h3.0M167.1 649.61h3.0M173.1 649.61h9.0M187.0 649.61h3.0M107.3 655.75h3.0M111.3 655.75h3.0M169.1 655.75h5.0M177.1 655.75h5.0M212.9 655.75h5.0M169.1 661.89h3.0M185.0 661.89h3.0M91.4 668.03h3.0M165.1 668.03h3.0M185.0 668.03h7.0M85.4 674.17h5.0M232.8 674.17h5.0M85.4 680.31h9.0M117.3 680.31h5.0M145.2 680.31h5.0M157.1 680.31h5.0M173.1 680.31h3.0M206.9 680.31h3.0M284.6 680.31h3.0M121.3 692.59h5.0M175.1 692.59h3.0M181.0 692.59h5.0M228.8 692.59h5.0M165.1 704.87h5.0M173.1 711.01h5.0M284.6 711.01h4.0M244.8 717.15h5.0M105.3 723.29h5.0M161.1 723.29h5.0M280.6 723.29h5.0M189.0 729.43h5.0M137.2 735.57h5.0M220.9 735.57h3.0M236.8 735.57h5.0M181.0 747.85h5.0M181.0 753.99h5.0M246.8 766.27h3.0M185.0 778.55h5.0M254.7 778.55h3.0M77.5 790.83h5.0M133.2 790.83h5.0M173.1 790.83h5.0M216.9 790.83h5.0"/>
<path stroke="#463482" stroke-width="6.24" d="M83.4 643.47h3.0M103.3 643.47h3.0M123.3 643.47h3.0M133.2 643.47h5.0M141.2 643.47h5.0M159.1 643.47h3.0M165.1 643.47h3.0M173.1 643.47h3.0M214.9 643.47h3.0M77.5 649.61h5.0M85.4 649.61h3.0M119.3 649.61h7.0M151.2 649.61h3.0M157.1 649.61h5.0M185.0 649.61h3.0M109.3 655.75h3.0M161.1 655.75h3.0M201.0 655.75h5.0M171.1 661.89h3.0M214.9 661.89h3.0M89.4 668.03h3.0M143.2 668.03h3.0M149.2 668.03h5.0M69.5 680.31h5.0M97.4 680.31h5.0M129.2 680.31h7.0M141.2 692.59h5.0M169.1 692.59h5.0M236.8 698.73h3.0M256.7 704.87h5.0M224.9 717.15h5.0M260.7 717.15h7.0M157.1 729.43h5.0M268.7 729.43h5.0M222.9 735.57h3.0M212.9 741.71h5.0M228.8 741.71h5.0M244.8 741.71h13.0M260.7 741.71h5.0M284.6 741.71h4.0M212.9 747.85h9.0M232.8 747.85h13.0M248.8 747.85h16.9M212.9 753.99h5.0M248.8 753.99h5.0M256.7 753.99h5.0M268.7 753.99h5.0M232.8 760.13h5.0M240.8 760.13h5.0M260.7 760.13h5.0M268.7 760.13h5.0M276.6 760.13h5.0M284.6 760.13h4.0M244.8 766.27h3.0M252.7 766.27h9.0M264.7 766.27h7.0M224.9 772.41h3.0M228.8 772.41h9.0M248.8 772.41h5.0M256.7 772.41h5.0M268.7 772.41h3.0M272.7 772.41h5.0M284.6 772.41h4.0M224.9 778.55h3.0M232.8 778.55h5.0M244.8 778.55h3.0M248.8 778.55h5.0M256.7 778.55h9.0M278.6 778.55h3.0M208.9 784.69h5.0M228.8 784.69h5.0"/>
<path stroke="#4b3987" stroke-width="6.24" d="M85.4 643.47h3.0M113.3 643.47h3.0M129.2 643.47h3.0M161.1 643.47h5.0M199.0 643.47h3.0M71.5 649.61h7.0M109.3 649.61h5.0M125.3 649.61h3.0M165.1 649.61h3.0M75.5 655.75h7.0M131.2 655.75h3.0M147.2 655.75h7.0M193.0 655.75h3.0M85.4 661.89h3.0M93.4 661.89h5.0M187.0 661.89h5.0M220.9 661.89h3.0M113.3 668.03h3.0M145.2 668.03h5.0M157.1 668.03h5.0M163.1 668.03h3.0M167.1 668.03h3.0M179.0 668.03h3.0M206.9 668.03h3.0M83.4 680.31h3.0M139.2 680.31h3.0M149.2 680.31h3.0M201.0 680.31h7.0M145.2 692.59h5.0M173.1 692.59h3.0M181.0 698.73h7.0M197.0 698.73h9.0M276.6 729.43h5.0M65.5 735.57h5.0M224.9 735.57h7.0M204.9 741.71h9.0M216.9 741.71h9.0M256.7 741.71h3.0M276.6 741.71h5.0M220.9 747.85h9.0M272.7 747.85h5.0M220.9 753.99h9.0M232.8 753.99h5.0M244.8 753.99h5.0M252.7 753.99h5.0M260.7 753.99h5.0M224.9 760.13h5.0M244.8 760.13h13.0M272.7 760.13h5.0M204.9 766.27h5.0M212.9 766.27h9.0M224.9 766.27h9.0M236.8 766.27h5.0M272.7 766.27h9.0M236.8 772.41h5.0M280.6 772.41h3.0M197.0 778.55h5.0M208.9 778.55h5.0M228.8 778.55h5.0M236.8 778.55h9.0M252.7 778.55h3.0M268.7 778.55h7.0M280.6 778.55h8.0M197.0 784.69h9.0M212.9 784.69h5.0M232.8 784.69h5.0M264.7 790.83h5.0"/>
<path stroke="#b7b7db" stroke-width="6.24" d="M87.4 643.47h3.0M93.4 643.47h3.0M101.4 643.47h3.0M151.2 643.47h3.0M157.1 643.47h3.0M212.9 643.47h3.0M117.3 649.61h3.0M145.2 649.61h5.0M73.5 655.75h3.0M141.2 655.75h5.0M163.1 655.75h3.0M181.0 655.75h5.0M195.0 655.75h3.0M260.7 655.75h5.0M145.2 661.89h5.0M151.2 661.89h3.0M157.1 661.89h5.0M177.1 661.89h5.0M201.0 661.89h3.0M204.9 661.89h3.0M212.9 661.89h3.0M222.9 661.89h3.0M101.4 668.03h5.0M109.3 668.03h5.0M137.2 668.03h5.0M161.1 668.03h3.0M197.0 668.03h5.0M204.9 668.03h3.0M244.8 668.03h5.0M93.4 674.17h5.0M101.4 674.17h5.0M135.2 680.31h3.0M151.2 680.31h3.0M212.9 680.31h5.0M125.3 698.73h5.0M137.2 698.73h5.0M169.1 698.73h5.0M93.4 704.87h5.0M189.0 704.87h5.0M208.9 704.87h5.0M81.4 711.01h5.0M129.2 711.01h5.0M264.7 711.01h5.0M105.3 717.15h9.0M173.1 717.15h5.0M197.0 717.15h5.0M208.9 717.15h5.0M117.3 723.29h5.0M125.3 723.29h9.0M264.7 723.29h5.0M65.5 729.43h5.0M105.3 729.43h5.0M232.8 729.43h9.0M248.8 729.43h5.0M204.9 735.57h5.0M173.1 747.85h5.0M197.0 760.13h5.0M173.1 766.27h5.0M189.0 766.27h5.0M197.0 766.27h5.0M169.1 772.41h5.0M177.1 772.41h5.0M244.8 772.41h3.0M177.1 778.55h5.0M246.8 778.55h3.0M274.7 778.55h3.0M260.7 784.69h5.0M280.6 784.69h5.0M161.1 790.83h5.0M177.1 790.83h5.0M208.9 790.83h5.0"/>
<path stroke="#fee2b9" stroke-width="6.24" d="M97.4 643.47h5.0M181.0 643.47h5.0M208.9 643.47h5.0M236.8 643.47h5.0M81.4 649.61h5.0M81.4 655.75h5.0M113.3 655.75h5.0M197.0 655.75h5.0M101.4 661.89h5.0M109.3 661.89h5.0M165.1 661.89h5.0M117.3 668.03h5.0M212.9 668.03h5.0M220.9 668.03h5.0M252.7 668.03h5.0M260.7 668.03h5.0M65.5 674.17h5.0M97.4 674.17h5.0M193.0 674.17h5.0M73.5 680.31h5.0M189.0 692.59h5.0M240.8 692.59h5.0M189.0 698.73h5.0M224.9 698.73h5.0M161.1 704.87h5.0M240.8 704.87h5.0M113.3 729.43h5.0M165.1 729.43h5.0M201.0 729.43h5.0M220.9 729.43h5.0M117.3 735.57h5.0M125.3 735.57h5.0M153.1 735.57h5.0M157.1 753.99h5.0M85.4 760.13h5.0M181.0 760.13h5.0M153.1 766.27h5.0M161.1 766.27h5.0M165.1 772.41h5.0M149.2 778.55h5.0M141.2 784.69h5.0M153.1 784.69h5.0M141.2 790.83h5.0"/>
<path stroke="#5f5ba9" stroke-width="6.24" d="M105.3 643.47h3.0M129.2 649.61h3.0M91.4 655.75h3.0M167.1 655.75h3.0M173.1 655.75h3.0M119.3 661.89h3.0M133.2 661.89h3.0M173.1 661.89h3.0M210.9 661.89h3.0M135.2 668.03h3.0M173.1 668.03h3.0M183.0 668.03h3.0M201.0 668.03h3.0M167.1 680.31h3.0M113.3 692.59h5.0M157.1 692.59h5.0M284.6 692.59h4.0M193.0 698.73h5.0M228.8 698.73h5.0M105.3 704.87h5.0M145.2 704.87h5.0M201.0 704.87h5.0M212.9 704.87h5.0M69.5 711.01h5.0M125.3 711.01h5.0M157.1 711.01h5.0M169.1 711.01h5.0M185.0 711.01h5.0M208.9 711.01h5.0M256.7 711.01h5.0M73.5 717.15h5.0M121.3 717.15h5.0M137.2 717.15h5.0M197.0 729.43h5.0M264.7 729.43h5.0M272.7 729.43h5.0M157.1 735.57h5.0M181.0 735.57h5.0M193.0 741.71h5.0M201.0 741.71h5.0M232.8 741.71h5.0M264.7 741.71h5.0M276.6 747.85h5.0M204.9 753.99h9.0M216.9 753.99h5.0M272.7 753.99h5.0M216.9 760.13h5.0M236.8 760.13h5.0M201.0 766.27h5.0M161.1 772.41h5.0M197.0 772.41h5.0M240.8 772.41h5.0M212.9 778.55h5.0M220.9 784.69h5.0M244.8 784.69h5.0M157.1 790.83h5.0M185.0 790.83h5.0M204.9 790.83h5.0"/>
<path stroke="#fdfcfa" stroke-width="6.24" d="M107.3 643.47h3.0M276.6 643.47h5.0M137.2 649.61h5.0M145.2 655.75h3.0M159.1 655.75h3.0M175.1 655.75h3.0M185.0 655.75h5.0M210.9 655.75h3.0M216.9 655.75h5.0M224.9 655.75h3.0M230.8 655.75h7.0M117.3 661.89h3.0M121.3 661.89h3.0M175.1 661.89h3.0M181.0 661.89h5.0M248.8 661.89h5.0M85.4 668.03h5.0M133.2 668.03h3.0M202.9 668.03h3.0M276.6 680.31h5.0M256.7 692.59h5.0M268.7 692.59h5.0M266.7 717.15h3.0M121.3 735.57h5.0M232.8 735.57h5.0M252.7 735.57h5.0M173.1 741.71h5.0M157.1 747.85h5.0M185.0 747.85h5.0M173.1 753.99h5.0M185.0 753.99h5.0M173.1 760.13h5.0M193.0 760.13h5.0M85.4 766.27h5.0M181.0 766.27h5.0M282.6 772.41h3.0M165.1 778.55h5.0"/>
<path stroke="#bcbce0" stroke-width="6.24" d="M109.3 643.47h5.0M153.1 643.47h5.0M169.1 643.47h5.0M197.0 643.47h3.0M69.5 649.61h3.0M95.4 649.61h3.0M127.3 649.61h3.0M135.2 649.61h3.0M141.2 649.61h5.0M149.2 649.61h3.0M181.0 649.61h5.0M201.0 649.61h5.0M87.4 655.75h3.0M97.4 655.75h3.0M101.4 655.75h5.0M129.2 655.75h3.0M189.0 655.75h5.0M240.8 655.75h5.0M69.5 661.89h5.0M87.4 661.89h3.0M105.3 661.89h3.0M129.2 661.89h5.0M153.1 661.89h5.0M163.1 661.89h3.0M191.0 661.89h3.0M232.8 661.89h5.0M268.7 661.89h5.0M115.3 668.03h3.0M127.3 668.03h3.0M141.2 668.03h3.0M155.1 668.03h3.0M177.1 668.03h3.0M109.3 674.17h5.0M153.1 674.17h5.0M252.7 674.17h5.0M276.6 674.17h5.0M81.4 680.31h3.0M93.4 680.31h3.0M103.3 680.31h9.0M137.2 680.31h3.0M189.0 680.31h5.0M268.7 680.31h5.0M208.9 692.59h3.0M117.3 698.73h5.0M206.9 698.73h3.0M238.8 698.73h3.0M197.0 704.87h5.0M177.1 711.01h5.0M204.9 711.01h5.0M252.7 711.01h5.0M157.1 717.15h5.0M216.9 717.15h3.0M244.8 729.43h5.0M252.7 729.43h5.0M185.0 735.57h5.0M181.0 741.71h5.0M177.1 747.85h5.0M189.0 747.85h5.0M189.0 753.99h5.0M157.1 766.27h5.0M177.1 766.27h5.0M185.0 766.27h5.0M270.7 766.27h3.0M181.0 772.41h5.0M189.0 772.41h5.0M157.1 778.55h5.0M161.1 784.69h9.0M268.7 784.69h5.0M165.1 790.83h5.0M197.0 790.83h9.0"/>
<path stroke="#f9ddb4" stroke-width="6.24" d="M117.3 643.47h5.0M185.0 643.47h5.0M236.8 649.61h5.0M125.3 655.75h5.0M220.9 655.75h5.0M197.0 661.89h5.0M240.8 674.17h5.0M121.3 680.31h5.0M169.1 680.31h5.0M177.1 680.31h5.0M248.8 698.73h5.0M260.7 704.87h5.0M125.3 717.15h5.0M153.1 717.15h5.0M181.0 717.15h5.0M236.8 717.15h5.0M212.9 723.29h5.0M220.9 723.29h5.0M228.8 723.29h5.0M161.1 741.71h9.0M153.1 747.85h5.0M161.1 747.85h5.0M165.1 753.99h9.0M161.1 760.13h13.0M177.1 760.13h5.0M73.5 766.27h5.0M165.1 766.27h5.0M121.3 772.41h5.0M141.2 772.41h5.0M169.1 778.55h5.0M73.5 790.83h5.0M113.3 790.83h5.0M121.3 790.83h5.0M153.1 790.83h5.0M224.9 790.83h5.0M248.8 790.83h5.0M268.7 790.83h5.0M276.6 790.83h5.0"/>
<path stroke="#f4c070" stroke-width="6.24" d="M125.3 643.47h5.0M197.0 649.61h5.0M212.9 649.61h5.0M69.5 668.03h5.0M193.0 668.03h5.0M224.9 668.03h5.0M236.8 668.03h5.0M256.7 668.03h5.0M141.2 680.31h5.0M153.1 680.31h5.0M256.7 680.31h5.0M81.4 692.59h5.0M113.3 698.73h5.0M129.2 698.73h5.0M93.4 711.01h5.0M236.8 711.01h5.0M272.7 711.01h5.0M280.6 711.01h5.0M89.4 717.15h5.0M129.2 717.15h5.0M256.7 717.15h5.0M268.7 717.15h5.0M129.2 729.43h9.0M212.9 729.43h5.0M224.9 729.43h5.0M133.2 735.57h5.0M153.1 741.71h5.0M81.4 747.85h5.0M149.2 747.85h5.0M137.2 753.99h13.0M101.4 760.13h5.0M153.1 760.13h9.0M145.2 766.27h5.0M69.5 772.41h5.0M97.4 772.41h5.0M141.2 778.55h5.0M105.3 784.69h5.0M145.2 784.69h5.0M93.4 790.83h5.0M145.2 790.83h5.0M193.0 790.83h5.0M284.6 790.83h4.0"/>
<path stroke="#eda04a" stroke-width="6.24" d="M177.1 643.47h5.0M204.9 649.61h5.0M228.8 649.61h5.0M280.6 649.61h5.0M248.8 655.75h5.0M272.7 661.89h5.0M77.5 668.03h5.0M97.4 668.03h5.0M264.7 668.03h5.0M272.7 668.03h5.0M268.7 674.17h5.0M216.9 680.31h5.0M228.8 680.31h5.0M93.4 692.59h5.0M149.2 692.59h5.0M252.7 692.59h5.0M73.5 698.73h5.0M256.7 698.73h9.0M121.3 704.87h5.0M248.8 704.87h5.0M109.3 711.01h5.0M228.8 711.01h5.0M244.8 711.01h5.0M145.2 717.15h5.0M284.6 723.29h4.0M93.4 729.43h5.0M65.5 741.71h5.0M81.4 741.71h5.0M93.4 741.71h5.0M117.3 741.71h5.0M145.2 741.71h5.0M101.4 747.85h5.0M109.3 747.85h5.0M117.3 747.85h9.0M137.2 747.85h5.0M101.4 753.99h13.0M121.3 753.99h5.0M65.5 760.13h5.0M77.5 760.13h9.0M105.3 760.13h5.0M121.3 760.13h5.0M149.2 760.13h5.0M93.4 766.27h5.0M101.4 766.27h5.0M117.3 766.27h5.0M125.3 766.27h5.0M149.2 766.27h5.0M105.3 772.41h5.0M85.4 778.55h5.0M93.4 778.55h9.0M109.3 778.55h9.0M125.3 778.55h9.0M65.5 784.69h5.0M109.3 784.69h13.0M81.4 790.83h5.0M105.3 790.83h5.0M117.3 790.83h5.0"/>
<path stroke="#f9c575" stroke-width="6.24" d="M189.0 643.47h9.0M216.9 643.47h5.0M240.8 643.47h9.0M252.7 643.47h5.0M208.9 649.61h5.0M73.5 661.89h5.0M256.7 661.89h5.0M121.3 668.03h5.0M161.1 680.31h5.0M181.0 680.31h5.0M244.8 680.31h5.0M105.3 692.59h5.0M244.8 692.59h5.0M133.2 698.73h5.0M276.6 698.73h5.0M220.9 704.87h5.0M133.2 711.01h5.0M228.8 717.15h5.0M268.7 723.29h5.0M121.3 729.43h9.0M216.9 729.43h5.0M85.4 735.57h5.0M129.2 735.57h5.0M240.8 735.57h5.0M153.1 753.99h5.0M97.4 760.13h5.0M141.2 760.13h5.0M101.4 772.41h5.0M137.2 778.55h5.0M145.2 778.55h5.0M101.4 784.69h5.0M133.2 784.69h5.0M149.2 784.69h5.0M89.4 790.83h5.0"/>
<path stroke="#e8863c" stroke-width="6.24" d="M204.9 643.47h5.0M232.8 643.47h5.0M220.9 649.61h5.0M284.6 649.61h4.0M276.6 661.89h5.0M93.4 668.03h5.0M272.7 692.59h5.0M97.4 698.73h5.0M272.7 698.73h5.0M276.6 723.29h5.0M264.7 735.57h5.0M85.4 741.71h5.0M113.3 741.71h5.0M105.3 747.85h5.0M105.3 766.27h5.0M133.2 766.27h5.0M73.5 784.69h5.0M81.4 784.69h5.0M97.4 784.69h5.0"/>
<path stroke="#ffffff" stroke-width="6.24" d="M220.9 643.47h5.0M131.2 649.61h3.0M155.1 649.61h3.0M163.1 649.61h3.0M189.0 649.61h3.0M89.4 655.75h3.0M123.3 655.75h3.0M236.8 655.75h5.0M141.2 661.89h5.0M228.8 661.89h3.0M171.1 668.03h3.0M175.1 668.03h3.0M181.0 668.03h3.0M165.1 680.31h3.0M248.8 680.31h5.0M109.3 692.59h5.0M236.8 692.59h5.0M97.4 704.87h5.0M204.9 704.87h5.0M268.7 704.87h5.0M280.6 704.87h5.0M93.4 717.15h5.0M169.1 717.15h5.0M89.4 729.43h5.0M189.0 760.13h5.0M109.3 772.41h5.0M129.2 790.83h5.0M260.7 790.83h3.0"/>
<path stroke="#e89b45" stroke-width="6.24" d="M248.8 643.47h5.0M260.7 643.47h5.0M244.8 655.75h5.0M252.7 655.75h9.0M248.8 668.03h5.0M244.8 674.17h5.0M260.7 674.17h5.0M232.8 680.31h5.0M272.7 680.31h5.0M276.6 692.59h9.0M109.3 698.73h5.0M85.4 704.87h5.0M117.3 704.87h5.0M125.3 704.87h5.0M224.9 704.87h5.0M272.7 704.87h9.0M89.4 711.01h5.0M113.3 711.01h9.0M284.6 717.15h4.0M109.3 723.29h9.0M153.1 729.43h5.0M177.1 729.43h5.0M89.4 735.57h5.0M97.4 735.57h5.0M141.2 735.57h5.0M193.0 735.57h5.0M272.7 735.57h5.0M77.5 741.71h5.0M97.4 741.71h5.0M141.2 741.71h5.0M149.2 741.71h5.0M73.5 747.85h5.0M85.4 747.85h5.0M97.4 747.85h5.0M113.3 747.85h5.0M129.2 747.85h5.0M73.5 753.99h5.0M85.4 753.99h16.9M117.3 753.99h5.0M125.3 753.99h13.0M117.3 760.13h5.0M125.3 760.13h9.0M137.2 760.13h5.0M109.3 766.27h5.0M77.5 772.41h5.0M137.2 772.41h5.0M145.2 772.41h5.0M117.3 778.55h5.0M121.3 784.69h9.0M97.4 790.83h5.0M181.0 790.83h5.0"/>
<path stroke="#f2a54f" stroke-width="6.24" d="M264.7 643.47h5.0M216.9 649.61h5.0M232.8 649.61h5.0M224.9 661.89h5.0M81.4 668.03h5.0M284.6 668.03h4.0M73.5 674.17h5.0M284.6 674.17h4.0M240.8 680.31h5.0M69.5 692.59h5.0M97.4 692.59h5.0M117.3 692.59h5.0M129.2 692.59h5.0M248.8 692.59h5.0M81.4 698.73h9.0M65.5 704.87h5.0M89.4 704.87h5.0M101.4 704.87h5.0M113.3 704.87h5.0M133.2 704.87h5.0M228.8 704.87h5.0M220.9 711.01h5.0M240.8 711.01h5.0M117.3 717.15h5.0M252.7 717.15h5.0M69.5 723.29h5.0M236.8 723.29h5.0M117.3 729.43h5.0M193.0 729.43h5.0M69.5 741.71h9.0M101.4 741.71h13.0M121.3 741.71h5.0M129.2 741.71h9.0M69.5 747.85h5.0M77.5 747.85h5.0M125.3 747.85h5.0M65.5 753.99h5.0M113.3 753.99h5.0M69.5 760.13h5.0M89.4 760.13h9.0M109.3 760.13h9.0M133.2 760.13h5.0M65.5 766.27h5.0M81.4 766.27h5.0M89.4 766.27h5.0M85.4 772.41h5.0M149.2 772.41h5.0M81.4 778.55h5.0M101.4 778.55h9.0M121.3 778.55h5.0M85.4 784.69h9.0M129.2 784.69h5.0M109.3 790.83h5.0"/>
<path stroke="#df5333" stroke-width="6.24" d="M268.7 643.47h5.0M272.7 649.61h5.0M272.7 655.75h5.0M284.6 655.75h4.0M264.7 661.89h5.0M69.5 674.17h5.0M272.7 674.17h5.0M280.6 674.17h5.0M77.5 692.59h5.0M89.4 692.59h5.0M69.5 698.73h5.0M129.2 704.87h5.0M65.5 711.01h5.0M101.4 723.29h5.0M77.5 735.57h5.0"/>
<path stroke="#da4e2e" stroke-width="6.24" d="M272.7 643.47h5.0M240.8 661.89h5.0M252.7 661.89h5.0M89.4 698.73h9.0M81.4 704.87h5.0M149.2 717.15h5.0M101.4 735.57h5.0M73.5 778.55h5.0M65.5 790.83h5.0M101.4 790.83h5.0"/>
<path stroke="#e38137" stroke-width="6.24" d="M284.6 643.47h4.0M264.7 649.61h5.0M244.8 661.89h5.0M208.9 680.31h5.0M173.1 704.87h5.0M284.6 704.87h4.0M77.5 717.15h5.0M93.4 735.57h5.0M89.4 741.71h5.0M89.4 747.85h5.0M73.5 760.13h5.0M89.4 772.41h5.0"/>
<path stroke="#6460ae" stroke-width="6.24" d="M153.1 649.61h3.0M135.2 655.75h3.0M208.9 655.75h3.0M228.8 655.75h3.0M125.3 661.89h3.0M195.0 661.89h3.0M230.8 661.89h3.0M169.1 668.03h3.0M185.0 692.59h5.0M101.4 698.73h5.0M177.1 698.73h5.0M240.8 698.73h5.0M73.5 704.87h5.0M137.2 704.87h5.0M169.1 704.87h5.0M181.0 704.87h5.0M236.8 704.87h5.0M252.7 704.87h5.0M77.5 711.01h5.0M105.3 711.01h5.0M145.2 711.01h5.0M181.0 711.01h5.0M189.0 711.01h9.0M201.0 711.01h5.0M212.9 711.01h5.0M189.0 717.15h5.0M212.9 717.15h5.0M69.5 729.43h5.0M85.4 729.43h5.0M208.9 729.43h5.0M228.8 729.43h5.0M145.2 735.57h5.0M201.0 735.57h5.0M260.7 735.57h5.0M284.6 735.57h4.0M224.9 741.71h5.0M240.8 741.71h5.0M204.9 747.85h9.0M208.9 760.13h9.0M220.9 760.13h5.0M204.9 772.41h5.0M193.0 778.55h5.0M185.0 784.69h5.0M224.9 784.69h5.0M240.8 784.69h5.0M252.7 784.69h5.0M125.3 790.83h5.0M252.7 790.83h5.0"/>
<path stroke="#f4d8af" stroke-width="6.24" d="M193.0 649.61h5.0M208.9 668.03h5.0M232.8 668.03h5.0M125.3 674.17h5.0M113.3 680.31h5.0M197.0 680.31h5.0M133.2 692.59h5.0M165.1 692.59h5.0M220.9 692.59h5.0M121.3 698.73h5.0M145.2 698.73h5.0M244.8 698.73h5.0M157.1 704.87h5.0M85.4 711.01h5.0M101.4 711.01h5.0M216.9 711.01h5.0M177.1 717.15h5.0M201.0 717.15h9.0M133.2 723.29h5.0M105.3 735.57h5.0M177.1 735.57h5.0M216.9 735.57h5.0M161.1 753.99h5.0M177.1 753.99h5.0M141.2 766.27h5.0M153.1 772.41h5.0M153.1 778.55h5.0M173.1 778.55h5.0M157.1 784.69h5.0M69.5 790.83h5.0"/>
<path stroke="#dd652f" stroke-width="6.24" d="M240.8 649.61h5.0M228.8 668.03h5.0M264.7 674.17h5.0M193.0 680.31h5.0M260.7 692.59h5.0M161.1 717.15h5.0M85.4 723.29h5.0M81.4 729.43h5.0M161.1 729.43h5.0M109.3 735.57h5.0M81.4 753.99h5.0M77.5 766.27h5.0M65.5 772.41h5.0M113.3 772.41h9.0M169.1 790.83h5.0"/>
<path stroke="#e26a34" stroke-width="6.24" d="M244.8 649.61h5.0M276.6 649.61h5.0M65.5 655.75h5.0M264.7 655.75h5.0M276.6 655.75h5.0M260.7 661.89h5.0M284.6 661.89h4.0M73.5 692.59h5.0M264.7 692.59h5.0M121.3 711.01h5.0M224.9 711.01h5.0M280.6 717.15h5.0M77.5 723.29h5.0M248.8 723.29h5.0M77.5 729.43h5.0M97.4 729.43h5.0M121.3 766.27h5.0"/>
<path stroke="#d54929" stroke-width="6.24" d="M260.7 649.61h5.0M65.5 661.89h5.0M280.6 661.89h5.0M65.5 668.03h5.0M240.8 668.03h5.0M260.7 680.31h5.0M65.5 686.45h5.0M65.5 692.59h5.0M97.4 723.29h5.0M129.2 772.41h5.0M65.5 778.55h5.0"/>
<path stroke="#e76f39" stroke-width="6.24" d="M268.7 649.61h5.0M280.6 655.75h5.0M73.5 668.03h5.0M268.7 668.03h5.0M216.9 674.17h5.0M77.5 680.31h5.0M105.3 698.73h5.0M141.2 698.73h5.0M85.4 717.15h5.0M101.4 717.15h5.0M137.2 723.29h5.0M169.1 729.43h5.0M113.3 735.57h5.0M65.5 747.85h5.0M93.4 772.41h5.0M133.2 772.41h5.0M69.5 778.55h5.0M77.5 778.55h5.0M89.4 778.55h5.0M77.5 784.69h5.0M85.4 790.83h5.0"/>
<path stroke="#8381bd" stroke-width="6.24" d="M77.5 674.17h9.0M117.3 674.17h5.0M129.2 674.17h5.0M137.2 674.17h5.0M185.0 674.17h5.0M197.0 674.17h5.0M208.9 674.17h5.0M201.0 692.59h5.0M224.9 692.59h5.0M232.8 692.59h5.0M157.1 698.73h5.0M208.9 698.73h5.0M109.3 704.87h5.0M193.0 704.87h5.0M65.5 717.15h5.0M81.4 717.15h5.0M81.4 723.29h5.0M141.2 723.29h5.0M149.2 723.29h9.0M193.0 723.29h5.0M216.9 723.29h5.0M224.9 723.29h5.0M240.8 729.43h5.0M161.1 735.57h5.0M189.0 735.57h5.0M185.0 741.71h5.0M258.7 741.71h3.0M268.7 741.71h3.0M201.0 747.85h5.0M204.9 760.13h5.0M157.1 772.41h5.0M226.8 772.41h3.0M181.0 778.55h5.0M189.0 778.55h5.0M177.1 784.69h5.0M248.8 784.69h5.0M264.7 784.69h5.0M276.6 784.69h5.0M137.2 790.83h5.0M189.0 790.83h5.0M212.9 790.83h5.0M244.8 790.83h5.0"/>
<path stroke="#8d8bc7" stroke-width="6.24" d="M89.4 674.17h5.0M105.3 674.17h5.0M113.3 674.17h5.0M133.2 674.17h5.0M145.2 674.17h9.0M165.1 674.17h5.0M177.1 674.17h5.0M204.9 674.17h5.0M220.9 674.17h5.0M228.8 674.17h5.0M248.8 674.17h5.0M101.4 692.59h5.0M153.1 698.73h5.0M173.1 698.73h5.0M268.7 698.73h5.0M284.6 698.73h4.0M69.5 704.87h5.0M77.5 704.87h5.0M264.7 704.87h5.0M97.4 711.01h5.0M197.0 711.01h5.0M89.4 723.29h5.0M121.3 723.29h5.0M157.1 723.29h5.0M189.0 723.29h5.0M204.9 723.29h9.0M244.8 723.29h5.0M252.7 723.29h9.0M272.7 723.29h5.0M149.2 729.43h5.0M212.9 735.57h5.0M189.0 741.71h5.0M193.0 747.85h5.0M193.0 753.99h5.0M201.0 760.13h5.0M173.1 772.41h5.0M270.7 772.41h3.0M226.8 778.55h3.0M272.7 784.69h5.0M284.6 784.69h4.0M220.9 790.83h5.0M256.7 790.83h5.0"/>
<path stroke="#8886c2" stroke-width="6.24" d="M141.2 674.17h5.0M157.1 674.17h9.0M169.1 674.17h9.0M181.0 674.17h5.0M189.0 674.17h5.0M201.0 674.17h5.0M212.9 674.17h5.0M193.0 692.59h5.0M204.9 692.59h5.0M65.5 698.73h5.0M187.0 698.73h3.0M252.7 698.73h5.0M280.6 698.73h5.0M216.9 704.87h5.0M141.2 711.01h5.0M149.2 711.01h5.0M165.1 711.01h5.0M232.8 711.01h5.0M268.7 711.01h5.0M193.0 717.15h5.0M65.5 723.29h5.0M73.5 723.29h5.0M93.4 723.29h5.0M145.2 723.29h5.0M165.1 723.29h5.0M173.1 723.29h16.9M197.0 723.29h9.0M240.8 723.29h5.0M260.7 723.29h5.0M73.5 729.43h5.0M101.4 729.43h5.0M181.0 729.43h5.0M260.7 729.43h5.0M197.0 735.57h5.0M230.8 735.57h3.0M244.8 735.57h5.0M197.0 747.85h5.0M197.0 753.99h9.0M193.0 766.27h5.0M193.0 772.41h5.0M276.6 778.55h3.0M169.1 784.69h9.0M181.0 784.69h5.0M256.7 784.69h5.0M232.8 790.83h3.0"/>
<path stroke="#673f93" stroke-width="6.24" d="M65.5 680.31h5.0M177.1 704.87h5.0M234.8 790.83h3.0"/>
<path stroke="#e7e7ed" stroke-width="6.24" d="M69.5 686.45h5.0M81.4 686.45h5.0M109.3 686.45h9.0M137.2 686.45h9.0M165.1 686.45h5.0M177.1 686.45h5.0M185.0 686.45h5.0M197.0 686.45h5.0M212.9 686.45h5.0M264.7 686.45h5.0"/>
<path stroke="#ececf2" stroke-width="6.24" d="M73.5 686.45h9.0M85.4 686.45h9.0M105.3 686.45h5.0M117.3 686.45h20.9M157.1 686.45h9.0M173.1 686.45h5.0M181.0 686.45h5.0M193.0 686.45h5.0M201.0 686.45h5.0M208.9 686.45h5.0M224.9 686.45h5.0M232.8 686.45h13.0M260.7 686.45h5.0M268.7 686.45h5.0"/>
<path stroke="#f1f1f7" stroke-width="6.24" d="M93.4 686.45h13.0M145.2 686.45h13.0M169.1 686.45h5.0M189.0 686.45h5.0M204.9 686.45h5.0M216.9 686.45h9.0M228.8 686.45h5.0M244.8 686.45h16.9M272.7 686.45h15.9"/>
<path stroke="#623a8e" stroke-width="6.24" d="M210.9 692.59h3.0M260.7 766.27h5.0M236.8 790.83h5.0"/>
<path stroke="#5d3589" stroke-width="6.24" d="M212.9 692.59h5.0M280.6 766.27h5.0"/>
<path d="M65.5 646.54H288.6M65.5 652.68H288.6M65.5 658.82H288.6M65.5 664.96H288.6M65.5 671.10H288.6M65.5 677.24H288.6M65.5 683.38H288.6M65.5 689.52H288.6M65.5 695.66H288.6M65.5 701.80H288.6M65.5 707.94H288.6M65.5 714.08H288.6M65.5 720.22H288.6M65.5 726.36H288.6M65.5 732.50H288.6M65.5 738.64H288.6M65.5 744.78H288.6M65.5 750.92H288.6M65.5 757.06H288.6M65.5 763.20H288.6M65.5 769.34H288.6M65.5 775.48H288.6M65.5 781.62H288.6M65.5 787.76H288.6" stroke="#221c26" stroke-width="1.1"/>
<rect x="65.5" y="640.4" width="223.10000000000002" height="153.50" fill="none" stroke="#111" stroke-width="1.3"/>
<text x="61.0" y="645.92" font-size="6.3" text-anchor="end" textLength="19.7" lengthAdjust="spacingAndGlyphs">C/EBP&#945;</text>
<text x="61.0" y="652.06" font-size="6.3" text-anchor="end" textLength="10.7" lengthAdjust="spacingAndGlyphs">Ki67</text>
<text x="61.0" y="658.20" font-size="6.3" text-anchor="end" textLength="31.4" lengthAdjust="spacingAndGlyphs">pSyk/Zap70</text>
<text x="61.0" y="664.34" font-size="6.3" text-anchor="end" textLength="17.5" lengthAdjust="spacingAndGlyphs">pCRKL</text>
<text x="61.0" y="670.48" font-size="6.3" text-anchor="end" textLength="19.8" lengthAdjust="spacingAndGlyphs">pSTAT5</text>
<text x="61.0" y="676.62" font-size="6.3" text-anchor="end" textLength="12.4" lengthAdjust="spacingAndGlyphs">pSrc</text>
<text x="61.0" y="682.76" font-size="6.3" text-anchor="end" textLength="12.5" lengthAdjust="spacingAndGlyphs">TAL1</text>
<text x="61.0" y="688.90" font-size="6.3" text-anchor="end" textLength="17.1" lengthAdjust="spacingAndGlyphs">GATA1</text>
<text x="61.0" y="695.04" font-size="6.3" text-anchor="end" textLength="19.8" lengthAdjust="spacingAndGlyphs">pSTAT3</text>
<text x="61.0" y="701.18" font-size="6.3" text-anchor="end" textLength="13.4" lengthAdjust="spacingAndGlyphs">PAX5</text>
<text x="61.0" y="707.32" font-size="6.3" text-anchor="end" textLength="19.8" lengthAdjust="spacingAndGlyphs">pSTAT1</text>
<text x="61.0" y="713.46" font-size="6.3" text-anchor="end" textLength="17.1" lengthAdjust="spacingAndGlyphs">GATA3</text>
<text x="61.0" y="719.60" font-size="6.3" text-anchor="end" textLength="13.7" lengthAdjust="spacingAndGlyphs">pAKT</text>
<text x="61.0" y="725.74" font-size="6.3" text-anchor="end" textLength="17.2" lengthAdjust="spacingAndGlyphs">pSHP2</text>
<text x="61.0" y="731.88" font-size="6.3" text-anchor="end" textLength="10.0" lengthAdjust="spacingAndGlyphs">pS6</text>
<text x="61.0" y="738.02" font-size="6.3" text-anchor="end" textLength="14.6" lengthAdjust="spacingAndGlyphs">pACC</text>
<text x="61.0" y="744.16" font-size="6.3" text-anchor="end" textLength="31.8" lengthAdjust="spacingAndGlyphs">pMAPKAPK2</text>
<text x="61.0" y="750.30" font-size="6.3" text-anchor="end" textLength="12.0" lengthAdjust="spacingAndGlyphs">PU.1</text>
<text x="61.0" y="756.44" font-size="6.3" text-anchor="end" textLength="16.7" lengthAdjust="spacingAndGlyphs">peEF2</text>
<text x="61.0" y="762.58" font-size="6.3" text-anchor="end" textLength="18.1" lengthAdjust="spacingAndGlyphs">pCREB</text>
<text x="61.0" y="768.72" font-size="6.3" text-anchor="end" textLength="28.6" lengthAdjust="spacingAndGlyphs">&#946;&#8211;Catenin</text>
<text x="61.0" y="774.86" font-size="6.3" text-anchor="end" textLength="26.3" lengthAdjust="spacingAndGlyphs">pSMAD2/3</text>
<text x="61.0" y="781.00" font-size="6.3" text-anchor="end" textLength="11.9" lengthAdjust="spacingAndGlyphs">I&#954;B&#945;</text>
<text x="61.0" y="787.14" font-size="6.3" text-anchor="end" textLength="12.9" lengthAdjust="spacingAndGlyphs">pP38</text>
<text x="61.0" y="793.28" font-size="6.3" text-anchor="end" textLength="21.9" lengthAdjust="spacingAndGlyphs">pERK1/2</text>
<line x1="65.8" y1="793.9" x2="65.8" y2="797.5" stroke="#111" stroke-width="0.9"/>
<text transform="translate(65.8 807.40) scale(0.8 1)" font-size="7.0" text-anchor="middle" >0</text>
<line x1="121.4" y1="793.9" x2="121.4" y2="797.5" stroke="#111" stroke-width="0.9"/>
<text transform="translate(121.4 807.40) scale(0.8 1)" font-size="7.0" text-anchor="middle" >0.25</text>
<line x1="177.1" y1="793.9" x2="177.1" y2="797.5" stroke="#111" stroke-width="0.9"/>
<text transform="translate(177.1 807.40) scale(0.8 1)" font-size="7.0" text-anchor="middle" >0.5</text>
<line x1="232.7" y1="793.9" x2="232.7" y2="797.5" stroke="#111" stroke-width="0.9"/>
<text transform="translate(232.7 807.40) scale(0.8 1)" font-size="7.0" text-anchor="middle" >0.75</text>
<line x1="288.3" y1="793.9" x2="288.3" y2="797.5" stroke="#111" stroke-width="0.9"/>
<text transform="translate(288.3 807.40) scale(0.8 1)" font-size="7.0" text-anchor="middle" >1</text>
<line x1="65.5" y1="811.90" x2="286" y2="811.90" stroke="#111" stroke-width="1"/>
<path d="M290 811.90 l-7.6 -3.1 l1.9 3.1 l-1.9 3.1z" fill="#111"/>
<text x="177.1" y="824.00" font-size="9" text-anchor="middle" textLength="45" lengthAdjust="spacingAndGlyphs">Pseudotime</text>
<clipPath id="cpD0"><rect x="334.0" y="618.4" width="78.19999999999999" height="77.70000000000005"/></clipPath>
<g clip-path="url(#cpD0)">
<path d="M357.2 649.6L359.8 650.4L362.5 651.2L365.1 652.1L367.8 652.9L370.4 653.8L373.1 654.6L375.8 655.4L378.4 656.3L381.1 657.2L383.7 658.0L386.4 658.7L389.0 659.1L389.0 679.0L386.4 678.6L383.7 677.9L381.1 677.1L378.4 676.2L375.8 675.3L373.1 674.5L370.4 673.7L367.8 672.8L365.1 672.0L362.5 671.1L359.8 670.3L357.2 669.5Z" fill="#9aac88" opacity="0.36" filter="url(#sb)"/>
<path d="M357.2 638.5L359.8 639.3L362.5 640.2L365.1 641.0L367.8 641.9L370.4 642.7L373.1 643.5L375.8 644.4L378.4 645.3L381.1 646.2L383.7 647.0L386.4 647.6L389.0 648.1L389.0 687.9L386.4 687.4L383.7 686.8L381.1 686.0L378.4 685.1L375.8 684.2L373.1 683.3L370.4 682.5L367.8 681.7L365.1 680.8L362.5 680.0L359.8 679.2L357.2 678.4Z" fill="#9aac88" opacity="0.27" filter="url(#sb)"/>
<path d="M357.2 627.5L359.8 628.3L362.5 629.1L365.1 629.9L367.8 630.8L370.4 631.6L373.1 632.4L375.8 633.3L378.4 634.2L381.1 635.1L383.7 635.9L386.4 636.6L389.0 637.0L389.0 694.5L386.4 694.5L383.7 694.5L381.1 694.5L378.4 693.9L375.8 693.0L373.1 692.2L370.4 691.4L367.8 690.5L365.1 689.7L362.5 688.8L359.8 688.0L357.2 687.2Z" fill="#9aac88" opacity="0.15" filter="url(#sb)"/>
<path d="M381.8 657.5L384.1 658.1L386.4 658.7L388.7 659.1L391.0 659.4L393.3 659.6L395.5 659.7L397.8 659.9L400.1 659.9L402.4 660.0L404.7 660.1L407.0 660.2L409.3 660.3L409.3 680.3L407.0 680.1L404.7 680.0L402.4 679.9L400.1 679.9L397.8 679.8L395.5 679.6L393.3 679.5L391.0 679.3L388.7 679.0L386.4 678.6L384.1 678.0L381.8 677.4Z" fill="#4a8c9a" opacity="0.37" filter="url(#sb)"/>
<path d="M381.8 646.4L384.1 647.1L386.4 647.6L388.7 648.0L391.0 648.3L393.3 648.5L395.5 648.7L397.8 648.8L400.1 648.9L402.4 649.0L404.7 649.1L407.0 649.2L409.3 649.3L409.3 689.1L407.0 689.0L404.7 688.9L402.4 688.8L400.1 688.7L397.8 688.6L395.5 688.5L393.3 688.3L391.0 688.1L388.7 687.8L386.4 687.4L384.1 686.9L381.8 686.2Z" fill="#4a8c9a" opacity="0.28" filter="url(#sb)"/>
<path d="M381.8 635.3L384.1 636.0L386.4 636.6L388.7 636.9L391.0 637.2L393.3 637.4L395.5 637.6L397.8 637.7L400.1 637.8L402.4 637.9L404.7 638.0L407.0 638.1L409.3 638.2L409.3 694.5L407.0 694.5L404.7 694.5L402.4 694.5L400.1 694.5L397.8 694.5L395.5 694.5L393.3 694.5L391.0 694.5L388.7 694.5L386.4 694.5L384.1 694.5L381.8 694.5Z" fill="#4a8c9a" opacity="0.15" filter="url(#sb)"/>
<path d="M336.9 645.9L338.1 646.1L339.3 646.2L340.5 646.4L341.7 646.5L342.9 646.7L344.1 646.8L345.3 647.0L346.6 647.1L347.8 647.3L349.0 647.5L350.2 647.8L351.4 648.1L351.4 668.0L350.2 667.7L349.0 667.5L347.8 667.2L346.6 667.1L345.3 666.9L344.1 666.7L342.9 666.6L341.7 666.4L340.5 666.3L339.3 666.1L338.1 666.0L336.9 665.8Z" fill="#8b7a45" opacity="0.42" filter="url(#sb)"/>
<path d="M336.9 634.8L338.1 635.0L339.3 635.2L340.5 635.3L341.7 635.5L342.9 635.6L344.1 635.7L345.3 635.9L346.6 636.1L347.8 636.3L349.0 636.5L350.2 636.7L351.4 637.0L351.4 676.8L350.2 676.5L349.0 676.3L347.8 676.1L346.6 675.9L345.3 675.7L344.1 675.6L342.9 675.4L341.7 675.3L340.5 675.1L339.3 675.0L338.1 674.8L336.9 674.6Z" fill="#8b7a45" opacity="0.32" filter="url(#sb)"/>
<path d="M336.9 623.8L338.1 623.9L339.3 624.1L340.5 624.2L341.7 624.4L342.9 624.5L344.1 624.7L345.3 624.8L346.6 625.0L347.8 625.2L349.0 625.4L350.2 625.7L351.4 625.9L351.4 685.7L350.2 685.4L349.0 685.2L347.8 684.9L346.6 684.8L345.3 684.6L344.1 684.4L342.9 684.3L341.7 684.1L340.5 684.0L339.3 683.8L338.1 683.7L336.9 683.5Z" fill="#8b7a45" opacity="0.17" filter="url(#sb)"/>
<path d="M348.5 647.5L349.3 647.6L350.2 647.8L351.0 648.0L351.9 648.2L352.7 648.4L353.6 648.6L354.4 648.8L355.2 649.1L356.1 649.3L356.9 649.5L357.8 649.8L358.6 650.0L358.6 669.9L357.8 669.7L356.9 669.4L356.1 669.2L355.2 669.0L354.4 668.7L353.6 668.5L352.7 668.3L351.9 668.1L351.0 667.9L350.2 667.7L349.3 667.5L348.5 667.4Z" fill="#a898cc" opacity="0.27" filter="url(#sb)"/>
<path d="M348.5 636.4L349.3 636.6L350.2 636.7L351.0 636.9L351.9 637.1L352.7 637.3L353.6 637.5L354.4 637.8L355.2 638.0L356.1 638.2L356.9 638.5L357.8 638.7L358.6 639.0L358.6 678.8L357.8 678.5L356.9 678.3L356.1 678.1L355.2 677.8L354.4 677.6L353.6 677.4L352.7 677.1L351.9 676.9L351.0 676.7L350.2 676.5L349.3 676.4L348.5 676.2Z" fill="#a898cc" opacity="0.20" filter="url(#sb)"/>
<path d="M348.5 625.3L349.3 625.5L350.2 625.7L351.0 625.8L351.9 626.1L352.7 626.3L353.6 626.5L354.4 626.7L355.2 626.9L356.1 627.2L356.9 627.4L357.8 627.7L358.6 627.9L358.6 687.6L357.8 687.4L356.9 687.1L356.1 686.9L355.2 686.7L354.4 686.4L353.6 686.2L352.7 686.0L351.9 685.8L351.0 685.6L350.2 685.4L349.3 685.2L348.5 685.1Z" fill="#a898cc" opacity="0.11" filter="url(#sb)"/>
<line x1="357.2" y1="693.1" x2="389.0" y2="693.1" stroke="#9aac88" stroke-width="1.1" opacity="0.8"/>
<line x1="381.8" y1="693.1" x2="409.3" y2="693.1" stroke="#4a8c9a" stroke-width="1.1" opacity="0.8"/>
<line x1="336.9" y1="693.1" x2="351.4" y2="693.1" stroke="#8b7a45" stroke-width="1.1" opacity="0.8"/>
<line x1="348.5" y1="693.1" x2="358.6" y2="693.1" stroke="#a898cc" stroke-width="1.1" opacity="0.8"/>
<path transform="translate(334.0 618.4)" stroke="#9aac88" stroke-width="0.7" stroke-linecap="square" d="M26.1 38.5h.1M30.9 43.1h.1M36.3 66.5h.1M50.5 49.5h.1M37.2 29.9h.1M25.3 55.1h.1M27.1 35.9h.1M37.7 22.9h.1M47.6 37.5h.1M40.2 47.7h.1M46.3 31.9h.1M46.8 63.9h.1M54.0 37.4h.1M46.2 55.3h.1M50.5 34.9h.1M27.0 31.8h.1M20.0 24.9h.1M48.3 48.5h.1M48.3 44.2h.1M52.3 49.6h.1M52.2 60.5h.1M34.4 52.4h.1M39.6 45.1h.1M31.8 54.2h.1M36.7 59.4h.1M33.9 32.9h.1M57.0 68.9h.1M36.4 45.5h.1M25.3 35.3h.1M42.1 44.1h.1M53.5 58.4h.1M24.6 30.9h.1M41.2 47.3h.1M57.7 54.2h.1M24.0 42.5h.1M42.2 65.2h.1M33.6 38.8h.1M35.4 34.8h.1M51.6 53.5h.1M38.6 51.9h.1M30.5 38.6h.1M29.3 33.2h.1M34.5 52.1h.1M54.6 38.7h.1M32.2 52.6h.1M40.2 38.8h.1M38.5 63.2h.1M29.9 33.7h.1M28.3 44.8h.1M28.5 31.5h.1M26.1 56.5h.1M50.9 43.1h.1M30.1 40.6h.1M54.9 70.3h.1M42.6 18.5h.1M40.6 59.3h.1M50.5 64.0h.1M53.0 27.9h.1M29.0 33.4h.1M35.9 40.6h.1M35.2 51.8h.1M43.8 52.5h.1M47.4 8.6h.1M34.6 42.0h.1M50.7 67.0h.1M29.6 18.6h.1M51.8 71.9h.1M51.1 61.1h.1M49.2 33.8h.1M41.7 57.1h.1M49.0 37.6h.1M40.7 38.3h.1M43.0 47.1h.1M53.7 45.8h.1M30.3 29.2h.1M45.9 36.2h.1M46.0 60.0h.1M27.4 44.7h.1M25.2 38.6h.1M47.7 26.6h.1M24.7 45.0h.1M55.7 74.7h.1M26.7 57.2h.1M37.8 31.8h.1M36.6 43.3h.1M39.9 34.0h.1M28.1 35.4h.1M41.9 40.8h.1M29.7 50.3h.1M39.3 34.4h.1M33.4 44.6h.1M50.7 62.8h.1M31.7 50.1h.1M48.3 47.0h.1M35.3 54.4h.1M27.2 19.0h.1M25.4 66.3h.1M26.4 28.1h.1M47.3 26.7h.1M36.3 40.0h.1M50.4 47.0h.1M42.2 48.3h.1M46.4 63.9h.1M34.4 70.1h.1M47.8 32.5h.1M54.0 53.4h.1M48.7 53.1h.1M35.0 26.3h.1M46.2 54.9h.1M45.0 64.7h.1M37.1 39.2h.1M35.4 49.6h.1M51.2 15.2h.1M50.1 45.1h.1M32.9 52.8h.1M46.3 26.4h.1M26.3 36.9h.1M34.6 46.9h.1M43.4 57.3h.1M34.0 58.0h.1M27.3 56.8h.1M45.7 64.0h.1M28.2 51.6h.1M23.7 11.5h.1M38.1 54.9h.1M48.7 41.8h.1M50.2 12.3h.1M47.3 48.6h.1M51.7 50.1h.1M34.8 36.6h.1M40.1 57.4h.1M39.9 43.1h.1M37.7 39.9h.1M35.6 55.4h.1M42.7 51.6h.1M36.1 25.3h.1M31.3 37.5h.1M52.3 42.8h.1M44.4 40.7h.1M40.0 33.8h.1M43.4 42.3h.1M48.0 65.4h.1M40.5 36.3h.1M32.0 30.9h.1M37.9 38.2h.1M31.0 14.4h.1M38.1 47.5h.1M29.2 13.3h.1M23.8 63.6h.1M24.1 40.3h.1M41.0 49.8h.1M41.5 62.2h.1M50.7 21.6h.1M44.2 58.3h.1M53.4 46.4h.1M26.4 50.8h.1M26.5 25.0h.1M45.8 24.4h.1M36.1 55.8h.1M23.9 52.1h.1M23.8 42.7h.1M46.9 36.7h.1M42.6 54.7h.1M41.0 49.4h.1M27.6 36.0h.1M43.3 44.6h.1M35.7 35.7h.1M50.0 22.1h.1M53.7 38.5h.1M46.9 42.7h.1M45.7 54.8h.1M29.3 22.4h.1M48.2 25.6h.1M54.1 64.2h.1M32.6 28.6h.1M30.3 64.4h.1M53.7 58.9h.1M37.3 59.6h.1M37.3 48.9h.1M31.2 43.8h.1M35.6 14.8h.1M49.9 49.6h.1M25.5 46.0h.1M43.2 48.3h.1M54.5 52.5h.1M28.5 58.4h.1M45.6 50.7h.1M33.8 24.7h.1M31.0 29.4h.1M43.6 53.9h.1M31.1 60.0h.1M40.9 67.1h.1M23.7 40.2h.1M27.1 28.3h.1M26.6 58.8h.1M25.3 68.1h.1M25.0 48.2h.1M28.9 43.2h.1M50.9 57.9h.1M45.7 40.1h.1M29.6 29.8h.1M37.6 41.3h.1M35.3 56.8h.1M25.2 58.9h.1M42.3 53.6h.1M49.8 44.6h.1M23.3 37.7h.1M35.4 31.7h.1M47.0 63.3h.1M50.1 41.8h.1M27.4 39.0h.1M45.9 47.3h.1M32.9 48.1h.1M23.4 61.9h.1M44.8 47.2h.1M49.1 55.8h.1M41.8 19.2h.1M44.9 62.2h.1M38.3 39.2h.1M24.2 49.3h.1M43.5 53.3h.1M38.9 41.4h.1M39.2 68.5h.1M53.1 57.6h.1M33.7 45.7h.1M40.1 47.3h.1M25.2 35.6h.1M29.5 24.4h.1M36.6 31.1h.1M27.1 14.4h.1M35.5 38.2h.1M45.9 48.8h.1M31.1 40.0h.1M47.5 25.7h.1M53.9 59.6h.1M39.3 38.9h.1M25.0 27.0h.1M24.6 50.3h.1M39.6 52.6h.1M24.2 45.8h.1M32.5 74.7h.1M49.3 41.0h.1M23.9 47.5h.1M48.2 32.5h.1M48.0 46.0h.1M30.6 51.5h.1M38.4 19.0h.1M24.5 58.0h.1M41.4 43.2h.1M47.7 66.4h.1M30.5 51.0h.1M46.6 57.6h.1M36.1 66.1h.1M36.2 45.3h.1M50.2 49.2h.1M51.6 55.4h.1M41.1 46.5h.1M30.3 50.8h.1M36.9 38.7h.1M59.1 55.9h.1M52.9 45.4h.1M36.1 45.6h.1M29.0 64.2h.1M38.4 41.4h.1M23.8 8.8h.1M38.6 46.7h.1M28.8 34.2h.1M38.7 45.2h.1"/>
<path transform="translate(334.0 618.4)" stroke="#4a8c9a" stroke-width="0.7" stroke-linecap="square" d="M58.7 61.6h.1M63.7 61.2h.1M68.1 56.0h.1M49.6 28.7h.1M74.8 37.6h.1M68.0 50.0h.1M69.8 69.6h.1M57.2 17.6h.1M65.7 43.7h.1M58.3 46.2h.1M68.8 61.5h.1M50.6 52.6h.1M47.9 55.2h.1M69.5 55.3h.1M52.9 27.5h.1M55.2 44.7h.1M73.9 55.2h.1M64.4 38.3h.1M72.6 34.0h.1M74.4 49.0h.1M49.6 51.4h.1M73.0 53.9h.1M65.7 63.0h.1M65.6 24.9h.1M53.1 64.5h.1M49.4 74.5h.1M69.4 74.3h.1M73.5 58.4h.1M68.4 35.4h.1M52.4 50.7h.1M59.1 55.9h.1M73.6 39.0h.1M61.0 51.8h.1M50.4 50.0h.1M53.4 13.3h.1M72.5 55.2h.1M61.8 55.1h.1M66.5 47.3h.1M57.3 44.6h.1M55.0 58.8h.1M60.8 37.9h.1M69.5 59.7h.1M62.2 37.8h.1M59.9 53.0h.1M55.8 72.4h.1M48.1 42.5h.1M68.9 59.3h.1M54.2 68.9h.1M55.3 52.1h.1M55.5 61.4h.1M74.3 39.3h.1M50.5 41.8h.1M56.8 56.9h.1M70.6 54.4h.1M49.6 47.6h.1M76.6 54.9h.1M50.8 60.4h.1M54.9 51.5h.1M48.7 45.0h.1M56.5 22.0h.1M75.0 65.9h.1M57.9 53.1h.1M71.9 60.3h.1M67.3 54.3h.1M59.6 48.6h.1M68.7 43.5h.1M69.3 38.7h.1M67.1 55.1h.1M57.3 46.4h.1M54.4 46.9h.1M61.7 29.4h.1M57.5 64.1h.1M61.2 48.0h.1M66.2 28.3h.1M68.6 69.2h.1M69.4 50.5h.1M65.8 39.6h.1M61.4 54.0h.1M72.8 59.5h.1M69.7 55.9h.1M48.8 50.4h.1M59.9 9.3h.1M56.3 60.1h.1M68.7 42.1h.1M63.1 31.8h.1M50.0 47.8h.1M68.7 64.0h.1M68.0 63.7h.1M59.2 45.7h.1M67.4 55.2h.1M52.5 57.0h.1M48.9 56.0h.1M73.6 51.5h.1M72.1 55.2h.1M73.7 54.8h.1M65.9 62.0h.1M54.7 46.6h.1M70.4 51.9h.1M65.1 33.4h.1M58.2 53.3h.1M45.7 50.6h.1M63.8 14.0h.1M73.5 18.8h.1M68.8 61.1h.1M52.3 60.7h.1M67.1 41.8h.1M73.1 19.2h.1M57.5 48.1h.1M71.5 53.8h.1M62.2 54.1h.1M56.5 36.3h.1M56.1 60.6h.1M69.3 47.0h.1M65.9 74.7h.1M52.6 46.9h.1M72.9 48.5h.1M55.0 13.1h.1M52.3 25.8h.1M69.2 74.7h.1M53.1 61.6h.1M60.4 44.3h.1M66.1 49.9h.1M74.9 60.0h.1M72.0 49.2h.1M47.3 41.6h.1M64.9 41.8h.1M68.5 39.9h.1M52.8 26.0h.1M54.8 59.5h.1M54.8 47.7h.1M70.6 45.7h.1M67.3 58.1h.1M71.8 47.5h.1M57.3 41.3h.1M54.6 52.6h.1M49.5 53.6h.1M49.9 66.3h.1M54.0 38.6h.1M67.0 62.2h.1M58.8 44.6h.1M53.9 57.1h.1M53.0 39.8h.1M48.4 74.5h.1M65.6 52.8h.1M63.6 72.3h.1M70.5 53.8h.1M72.0 53.0h.1M51.2 27.4h.1M73.5 58.1h.1M61.6 71.2h.1M73.8 55.2h.1M58.9 72.5h.1M60.8 74.0h.1M68.2 42.1h.1M50.6 51.6h.1M48.3 30.8h.1M68.4 46.5h.1M74.6 66.3h.1M64.4 38.7h.1M58.7 27.3h.1M65.3 55.1h.1M54.7 59.4h.1M48.5 39.2h.1M48.1 32.0h.1M59.6 47.5h.1M71.8 59.7h.1M56.0 46.2h.1M49.0 29.3h.1M58.9 74.7h.1M52.6 25.8h.1M75.2 2.1h.1M58.1 55.3h.1M49.6 61.9h.1M58.2 30.3h.1M74.4 68.1h.1M73.1 52.2h.1M71.5 42.0h.1M72.5 60.5h.1M62.1 56.3h.1M64.2 57.9h.1M58.5 54.2h.1M62.3 51.6h.1M54.2 4.6h.1M70.2 72.5h.1M48.3 58.1h.1M62.7 56.7h.1M68.2 73.4h.1M62.3 40.7h.1M64.2 66.3h.1M64.6 8.7h.1M59.2 53.9h.1M74.6 62.8h.1M61.7 70.7h.1M73.0 19.3h.1M70.5 32.8h.1M60.0 50.3h.1M54.3 49.7h.1M63.2 45.2h.1M64.5 51.0h.1M58.0 46.7h.1M67.1 54.0h.1M56.2 51.4h.1M67.1 54.8h.1M60.4 34.9h.1M56.5 74.7h.1M66.5 18.8h.1M51.8 54.4h.1M66.8 40.3h.1M67.4 59.0h.1M70.8 50.9h.1M66.8 70.7h.1M47.7 53.1h.1M66.0 54.5h.1M48.6 48.1h.1M59.1 62.1h.1M66.2 62.0h.1M48.6 40.8h.1M68.9 42.0h.1M52.5 56.0h.1M60.5 50.4h.1M52.8 34.6h.1M73.3 61.3h.1M52.9 38.9h.1M53.6 51.9h.1M70.1 60.9h.1M56.6 47.1h.1M55.4 50.8h.1M60.2 55.8h.1M52.7 48.3h.1M57.5 45.5h.1M61.6 56.0h.1M68.9 66.9h.1M67.0 57.9h.1M68.0 51.4h.1M64.4 60.7h.1M59.4 59.0h.1M72.5 39.1h.1M67.7 2.4h.1M70.8 29.1h.1M55.8 24.7h.1M76.7 28.0h.1M57.8 63.2h.1M49.4 30.1h.1M59.3 43.9h.1M55.9 68.8h.1M69.3 71.3h.1M56.2 43.3h.1M64.1 5.8h.1M50.9 50.2h.1M63.1 67.3h.1M54.4 57.6h.1M52.4 46.4h.1M72.7 52.7h.1M63.3 73.3h.1M50.5 33.5h.1M74.3 45.4h.1M61.1 69.7h.1M62.7 62.0h.1M60.6 74.7h.1M68.7 67.6h.1M58.4 54.3h.1M72.1 60.8h.1M66.5 32.6h.1M61.0 46.4h.1M51.1 44.4h.1M70.1 33.7h.1M68.8 50.1h.1M72.7 44.2h.1M68.2 74.0h.1"/>
<path transform="translate(334.0 618.4)" stroke="#8b7a45" stroke-width="0.7" stroke-linecap="square" d="M7.5 46.9h.1M8.4 13.7h.1M10.5 32.7h.1M14.9 41.7h.1M11.3 14.3h.1M8.1 42.9h.1M9.3 59.9h.1M11.2 28.8h.1M10.6 47.0h.1M8.4 36.6h.1M10.2 50.7h.1M13.7 28.1h.1M15.2 39.8h.1M8.8 40.4h.1M16.8 48.3h.1M5.5 40.5h.1M12.1 58.2h.1M10.0 54.8h.1M17.2 41.9h.1M3.2 43.0h.1M7.1 53.1h.1M16.1 7.3h.1M8.0 52.2h.1M6.2 45.2h.1M5.6 64.8h.1M7.2 44.5h.1M22.4 42.5h.1M16.1 38.1h.1M16.0 37.1h.1M5.7 68.8h.1M14.1 48.6h.1M15.2 32.1h.1M4.5 31.5h.1M9.2 33.9h.1M11.7 24.4h.1M15.7 34.4h.1M12.9 24.0h.1M3.5 21.6h.1M11.0 40.5h.1M6.3 22.6h.1M16.3 37.4h.1M6.4 25.6h.1M10.8 40.5h.1M16.2 60.7h.1M6.0 47.4h.1M5.3 57.3h.1M16.2 24.5h.1M6.4 41.9h.1M5.7 51.6h.1M12.5 26.6h.1M8.7 40.5h.1M7.9 39.7h.1M17.1 38.4h.1M7.5 51.8h.1M7.3 42.8h.1M11.4 15.3h.1M12.4 41.7h.1M4.8 34.3h.1M10.7 57.4h.1M15.7 55.9h.1M7.8 51.5h.1M4.3 46.7h.1M6.9 19.1h.1M6.2 47.4h.1M12.3 23.8h.1M10.2 36.4h.1M4.7 7.6h.1M7.3 49.4h.1M3.3 41.0h.1M10.3 62.9h.1M5.6 71.5h.1M17.2 4.9h.1M16.6 47.7h.1M12.3 44.3h.1M11.2 24.5h.1M1.5 37.7h.1M4.6 20.6h.1M12.6 56.3h.1M12.6 29.5h.1M8.3 29.4h.1M8.1 31.7h.1M10.7 38.3h.1M12.1 52.0h.1M12.4 26.8h.1M5.3 38.2h.1M7.5 59.3h.1M11.4 40.2h.1M7.1 33.9h.1M6.1 47.8h.1M8.5 30.3h.1M16.8 52.0h.1M10.6 27.0h.1M9.7 33.7h.1M12.2 35.0h.1M14.0 3.8h.1M15.8 27.4h.1M9.5 47.9h.1M1.5 33.9h.1M14.3 55.1h.1M7.4 24.6h.1M13.0 39.5h.1M8.0 40.8h.1M11.6 45.6h.1M5.8 52.0h.1M15.7 53.4h.1M10.1 51.9h.1M8.7 17.9h.1M12.7 44.3h.1M7.3 23.8h.1M13.1 28.8h.1M20.2 23.2h.1M6.6 31.5h.1M14.5 62.0h.1M14.1 34.1h.1M16.9 42.2h.1M8.5 37.8h.1M7.0 19.9h.1M16.6 15.2h.1M16.5 47.8h.1M15.2 43.4h.1M6.4 43.9h.1M14.1 46.6h.1M2.0 33.7h.1M16.3 39.4h.1M8.8 53.7h.1M13.4 38.0h.1M7.6 30.9h.1M15.6 21.0h.1M5.8 52.5h.1M9.4 61.4h.1M17.1 12.2h.1M3.7 43.6h.1M11.6 50.3h.1M12.6 51.6h.1M8.8 35.1h.1M12.9 43.3h.1M4.5 32.8h.1M9.6 22.4h.1M10.3 8.3h.1M9.8 23.4h.1M4.1 66.4h.1M7.8 27.4h.1M17.3 50.7h.1M15.2 38.1h.1M18.4 34.8h.1M13.1 57.4h.1M15.3 40.9h.1M8.0 54.0h.1M10.5 44.7h.1M13.8 20.3h.1M8.4 57.9h.1M10.7 53.0h.1M5.8 8.5h.1M8.4 38.6h.1M12.3 40.1h.1M13.7 47.9h.1M14.8 20.0h.1M9.1 36.2h.1M5.6 26.6h.1M4.0 29.2h.1M12.5 18.4h.1M16.4 52.5h.1M7.3 45.7h.1M6.5 17.9h.1M9.7 66.0h.1M14.3 54.2h.1M10.7 35.3h.1M8.9 37.9h.1M5.8 32.5h.1M12.5 54.8h.1M6.5 40.5h.1M7.4 24.7h.1M14.3 15.9h.1M3.9 25.4h.1M7.4 31.4h.1M10.3 15.9h.1M4.6 37.8h.1M10.2 29.7h.1M5.8 44.3h.1M16.9 58.3h.1M12.5 44.9h.1M11.3 34.0h.1M9.3 21.0h.1M5.1 48.9h.1M15.6 44.5h.1M5.3 43.6h.1M3.6 22.9h.1M6.4 28.8h.1M3.0 54.0h.1M10.2 38.0h.1M13.5 11.6h.1M6.4 46.4h.1M7.0 53.0h.1M12.4 37.6h.1M15.2 39.5h.1M4.6 71.8h.1M10.6 43.0h.1M16.7 29.5h.1M8.4 34.6h.1M8.1 38.6h.1M15.5 30.1h.1M8.5 33.7h.1M4.3 37.3h.1M7.8 37.7h.1M16.6 42.8h.1M4.9 45.0h.1M11.4 35.5h.1M16.9 51.8h.1M15.9 36.1h.1M6.6 41.2h.1M16.7 49.8h.1M15.3 1.5h.1M6.7 51.8h.1M16.6 44.8h.1M17.2 53.9h.1M6.2 21.8h.1M11.9 16.9h.1M9.4 29.5h.1M8.6 3.4h.1M4.6 44.1h.1M12.9 49.2h.1M9.2 23.5h.1M10.3 30.4h.1M9.4 39.5h.1M14.4 7.1h.1M11.6 61.3h.1M8.1 37.4h.1M12.4 22.7h.1M10.2 26.6h.1M11.1 25.4h.1M15.6 43.6h.1M7.9 42.9h.1M6.2 37.4h.1M7.8 42.3h.1M10.9 36.9h.1"/>
<path transform="translate(334.0 618.4)" stroke="#a898cc" stroke-width="0.7" stroke-linecap="square" d="M16.6 37.7h.1M19.1 33.8h.1M20.9 55.7h.1M20.0 48.5h.1M19.0 37.2h.1M19.5 20.0h.1M22.0 45.2h.1M18.8 54.4h.1M22.4 24.6h.1M16.9 46.3h.1M19.8 39.0h.1M21.9 34.8h.1M14.6 45.3h.1M18.4 48.8h.1M20.3 45.4h.1M18.2 31.7h.1M24.0 55.1h.1M19.8 51.7h.1M14.6 47.3h.1M22.0 49.2h.1M17.5 23.3h.1M14.6 36.1h.1M17.8 24.0h.1M25.0 58.1h.1M18.2 31.0h.1M23.5 25.4h.1M23.3 33.1h.1M19.8 13.0h.1M21.2 43.5h.1M20.7 24.4h.1M16.1 44.5h.1M15.3 38.6h.1M22.0 48.3h.1M17.7 38.5h.1M29.2 33.0h.1M22.4 53.6h.1M23.4 44.4h.1M23.8 24.0h.1M15.4 2.3h.1M15.3 45.8h.1M17.1 53.5h.1M19.0 31.3h.1M15.4 50.2h.1M24.1 28.1h.1M24.4 35.1h.1M19.2 55.7h.1M14.9 39.1h.1M17.2 20.5h.1M13.5 24.2h.1M21.9 21.5h.1M24.1 38.5h.1M20.2 42.2h.1M17.6 20.8h.1M20.1 27.2h.1M21.7 36.3h.1M22.0 54.7h.1M15.9 40.7h.1M21.7 13.4h.1M18.5 46.4h.1M18.0 30.9h.1M18.0 19.5h.1M23.6 33.3h.1M21.6 40.8h.1M15.3 2.3h.1M23.7 33.7h.1M16.4 53.7h.1M19.5 69.6h.1M22.4 49.5h.1M18.7 26.2h.1M20.8 38.8h.1M12.4 34.9h.1M15.7 49.7h.1M15.9 53.6h.1M16.7 32.1h.1M21.0 39.2h.1M15.2 43.0h.1M18.0 46.2h.1M18.7 39.4h.1M23.1 40.9h.1M18.7 44.3h.1M18.6 58.1h.1M23.9 46.6h.1M22.9 34.4h.1M16.8 39.2h.1M20.3 59.7h.1M23.3 43.0h.1M18.6 36.4h.1M17.6 61.0h.1M23.5 39.0h.1M15.7 56.6h.1M15.5 44.2h.1M23.4 31.2h.1M23.2 51.5h.1M16.8 21.7h.1M23.3 42.6h.1"/>
<path d="M336.9 657.0L338.7 657.2L340.5 657.4L342.3 657.6L344.1 657.9L345.9 658.1L347.8 658.4L349.6 658.7L351.4 659.1L353.2 659.6L355.0 660.1L356.8 660.6L358.6 661.1L360.4 661.6L362.2 662.2L364.0 662.8L365.9 663.4L367.7 663.9L369.5 664.5L371.3 665.1L373.1 665.6L374.9 666.2L376.7 666.8L378.5 667.4L380.3 668.0L382.1 668.6L384.0 669.2L385.8 669.6L387.6 670.0L389.4 670.2L391.2 670.4L393.0 670.6L394.8 670.7L396.6 670.9L398.4 670.9L400.2 671.0L402.1 671.1L403.9 671.1L405.7 671.2L407.5 671.3L409.3 671.4" fill="none" stroke="#d98ccb" stroke-width="2.6" opacity="0.85" stroke-linejoin="round"/>
</g>
<rect x="334.0" y="618.4" width="78.19999999999999" height="77.70000000000005" fill="none" stroke="#111" stroke-width="1.3"/>
<text transform="translate(337.1 627.0) scale(0.86 1)" font-size="6.6" text-anchor="start" >peEF2</text>
<line x1="330.6" y1="693.1" x2="334.0" y2="693.1" stroke="#111" stroke-width="0.9"/>
<text transform="translate(325.1 695.5) scale(0.8 1)" font-size="7.0" text-anchor="middle" >0</text>
<line x1="330.6" y1="678.6" x2="334.0" y2="678.6" stroke="#111" stroke-width="0.9"/>
<text transform="translate(325.1 681.0) scale(0.8 1)" font-size="7.0" text-anchor="middle" >1</text>
<line x1="330.6" y1="664.2" x2="334.0" y2="664.2" stroke="#111" stroke-width="0.9"/>
<text transform="translate(325.1 666.6) scale(0.8 1)" font-size="7.0" text-anchor="middle" >2</text>
<line x1="330.6" y1="649.7" x2="334.0" y2="649.7" stroke="#111" stroke-width="0.9"/>
<text transform="translate(325.1 652.1) scale(0.8 1)" font-size="7.0" text-anchor="middle" >3</text>
<line x1="330.6" y1="635.3" x2="334.0" y2="635.3" stroke="#111" stroke-width="0.9"/>
<text transform="translate(325.1 637.7) scale(0.8 1)" font-size="7.0" text-anchor="middle" >4</text>
<line x1="330.6" y1="620.8" x2="334.0" y2="620.8" stroke="#111" stroke-width="0.9"/>
<text transform="translate(325.1 623.2) scale(0.8 1)" font-size="7.0" text-anchor="middle" >5</text>
<line x1="336.9" y1="696.1" x2="336.9" y2="699.5" stroke="#111" stroke-width="0.9"/>
<text transform="translate(336.9 710.1) scale(0.8 1)" font-size="7.0" text-anchor="middle" >0.0</text>
<line x1="373.1" y1="696.1" x2="373.1" y2="699.5" stroke="#111" stroke-width="0.9"/>
<text transform="translate(373.1 710.1) scale(0.8 1)" font-size="7.0" text-anchor="middle" >0.5</text>
<line x1="409.3" y1="696.1" x2="409.3" y2="699.5" stroke="#111" stroke-width="0.9"/>
<text transform="translate(409.3 710.1) scale(0.8 1)" font-size="7.0" text-anchor="middle" >1.0</text>
<clipPath id="cpD1"><rect x="431.6" y="618.4" width="77.79999999999995" height="77.70000000000005"/></clipPath>
<g clip-path="url(#cpD1)">
<path d="M454.7 657.1L457.3 657.9L459.9 658.7L462.6 659.5L465.2 660.3L467.9 661.1L470.5 661.8L473.1 662.6L475.8 663.4L478.4 664.2L481.1 664.9L483.7 665.4L486.3 665.8L486.3 685.4L483.7 685.0L481.1 684.4L478.4 683.7L475.8 683.0L473.1 682.2L470.5 681.4L467.9 680.7L465.2 679.9L462.6 679.1L459.9 678.2L457.3 677.5L454.7 676.7Z" fill="#9aac88" opacity="0.36" filter="url(#sb)"/>
<path d="M454.7 646.3L457.3 647.0L459.9 647.8L462.6 648.6L465.2 649.4L467.9 650.2L470.5 651.0L473.1 651.7L475.8 652.5L478.4 653.3L481.1 654.0L483.7 654.5L486.3 654.9L486.3 694.1L483.7 693.7L481.1 693.1L478.4 692.4L475.8 691.7L473.1 690.9L470.5 690.1L467.9 689.4L465.2 688.6L462.6 687.8L459.9 686.9L457.3 686.1L454.7 685.4Z" fill="#9aac88" opacity="0.27" filter="url(#sb)"/>
<path d="M454.7 635.4L457.3 636.1L459.9 636.9L462.6 637.7L465.2 638.6L467.9 639.3L470.5 640.1L473.1 640.9L475.8 641.6L478.4 642.4L481.1 643.1L483.7 643.7L486.3 644.1L486.3 694.6L483.7 694.6L481.1 694.6L478.4 694.6L475.8 694.6L473.1 694.6L470.5 694.6L467.9 694.6L465.2 694.6L462.6 694.6L459.9 694.6L457.3 694.6L454.7 694.1Z" fill="#9aac88" opacity="0.15" filter="url(#sb)"/>
<path d="M479.1 664.4L481.4 664.9L483.7 665.4L486.0 665.8L488.3 666.0L490.5 666.2L492.8 666.4L495.1 666.5L497.4 666.7L499.7 666.8L501.9 666.9L504.2 667.0L506.5 667.1L506.5 686.7L504.2 686.6L501.9 686.4L499.7 686.3L497.4 686.2L495.1 686.1L492.8 686.0L490.5 685.8L488.3 685.6L486.0 685.3L483.7 685.0L481.4 684.5L479.1 683.9Z" fill="#4a8c9a" opacity="0.37" filter="url(#sb)"/>
<path d="M479.1 653.5L481.4 654.1L483.7 654.5L486.0 654.9L488.3 655.2L490.5 655.4L492.8 655.5L495.1 655.7L497.4 655.8L499.7 655.9L501.9 656.0L504.2 656.1L506.5 656.3L506.5 694.6L504.2 694.6L501.9 694.6L499.7 694.6L497.4 694.6L495.1 694.6L492.8 694.6L490.5 694.5L488.3 694.3L486.0 694.0L483.7 693.7L481.4 693.2L479.1 692.6Z" fill="#4a8c9a" opacity="0.28" filter="url(#sb)"/>
<path d="M479.1 642.6L481.4 643.2L483.7 643.7L486.0 644.0L488.3 644.3L490.5 644.5L492.8 644.7L495.1 644.8L497.4 644.9L499.7 645.0L501.9 645.1L504.2 645.2L506.5 645.4L506.5 694.6L504.2 694.6L501.9 694.6L499.7 694.6L497.4 694.6L495.1 694.6L492.8 694.6L490.5 694.6L488.3 694.6L486.0 694.6L483.7 694.6L481.4 694.6L479.1 694.6Z" fill="#4a8c9a" opacity="0.15" filter="url(#sb)"/>
<path d="M434.5 655.0L435.7 655.1L436.9 655.1L438.1 655.1L439.3 655.2L440.5 655.2L441.7 655.2L442.9 655.2L444.1 655.3L445.3 655.3L446.5 655.4L447.7 655.6L448.9 655.8L448.9 675.4L447.7 675.2L446.5 675.0L445.3 674.9L444.1 674.8L442.9 674.8L441.7 674.7L440.5 674.7L439.3 674.7L438.1 674.7L436.9 674.7L435.7 674.7L434.5 674.6Z" fill="#8b7a45" opacity="0.42" filter="url(#sb)"/>
<path d="M434.5 644.2L435.7 644.2L436.9 644.3L438.1 644.3L439.3 644.3L440.5 644.3L441.7 644.3L442.9 644.3L444.1 644.4L445.3 644.5L446.5 644.6L447.7 644.7L448.9 644.9L448.9 684.1L447.7 683.9L446.5 683.7L445.3 683.6L444.1 683.5L442.9 683.5L441.7 683.4L440.5 683.4L439.3 683.4L438.1 683.4L436.9 683.4L435.7 683.4L434.5 683.3Z" fill="#8b7a45" opacity="0.32" filter="url(#sb)"/>
<path d="M434.5 633.3L435.7 633.4L436.9 633.4L438.1 633.4L439.3 633.4L440.5 633.4L441.7 633.4L442.9 633.5L444.1 633.5L445.3 633.6L446.5 633.7L447.7 633.9L448.9 634.1L448.9 692.8L447.7 692.6L446.5 692.4L445.3 692.3L444.1 692.2L442.9 692.2L441.7 692.1L440.5 692.1L439.3 692.1L438.1 692.1L436.9 692.1L435.7 692.1L434.5 692.0Z" fill="#8b7a45" opacity="0.17" filter="url(#sb)"/>
<path d="M446.0 655.4L446.9 655.5L447.7 655.6L448.5 655.7L449.4 655.9L450.2 656.1L451.1 656.2L451.9 656.4L452.7 656.6L453.6 656.9L454.4 657.1L455.3 657.3L456.1 657.5L456.1 677.1L455.3 676.9L454.4 676.6L453.6 676.4L452.7 676.2L451.9 676.0L451.1 675.8L450.2 675.6L449.4 675.5L448.5 675.3L447.7 675.2L446.9 675.1L446.0 675.0Z" fill="#a898cc" opacity="0.27" filter="url(#sb)"/>
<path d="M446.0 644.5L446.9 644.6L447.7 644.7L448.5 644.9L449.4 645.0L450.2 645.2L451.1 645.4L451.9 645.6L452.7 645.8L453.6 646.0L454.4 646.2L455.3 646.4L456.1 646.7L456.1 685.8L455.3 685.6L454.4 685.3L453.6 685.1L452.7 684.9L451.9 684.7L451.1 684.5L450.2 684.3L449.4 684.2L448.5 684.0L447.7 683.9L446.9 683.8L446.0 683.7Z" fill="#a898cc" opacity="0.20" filter="url(#sb)"/>
<path d="M446.0 633.7L446.9 633.7L447.7 633.9L448.5 634.0L449.4 634.2L450.2 634.3L451.1 634.5L451.9 634.7L452.7 634.9L453.6 635.1L454.4 635.3L455.3 635.6L456.1 635.8L456.1 694.5L455.3 694.3L454.4 694.0L453.6 693.8L452.7 693.6L451.9 693.4L451.1 693.2L450.2 693.0L449.4 692.9L448.5 692.7L447.7 692.6L446.9 692.5L446.0 692.4Z" fill="#a898cc" opacity="0.11" filter="url(#sb)"/>
<line x1="454.7" y1="693.1" x2="486.3" y2="693.1" stroke="#9aac88" stroke-width="1.1" opacity="0.8"/>
<line x1="479.1" y1="693.1" x2="506.5" y2="693.1" stroke="#4a8c9a" stroke-width="1.1" opacity="0.8"/>
<line x1="434.5" y1="693.1" x2="448.9" y2="693.1" stroke="#8b7a45" stroke-width="1.1" opacity="0.8"/>
<line x1="446.0" y1="693.1" x2="456.1" y2="693.1" stroke="#a898cc" stroke-width="1.1" opacity="0.8"/>
<path transform="translate(431.6 618.4)" stroke="#9aac88" stroke-width="0.7" stroke-linecap="square" d="M40.6 55.7h.1M36.2 56.4h.1M24.2 31.2h.1M43.5 43.2h.1M32.4 45.7h.1M31.8 67.6h.1M50.9 54.0h.1M50.1 74.3h.1M50.8 69.0h.1M33.7 51.1h.1M40.5 53.0h.1M31.9 54.9h.1M25.9 48.6h.1M48.8 41.9h.1M32.5 38.5h.1M49.1 58.0h.1M41.9 59.4h.1M28.0 32.1h.1M39.0 70.8h.1M44.2 68.4h.1M33.2 50.7h.1M30.3 45.3h.1M35.5 67.0h.1M40.7 47.1h.1M30.1 48.9h.1M35.2 56.8h.1M42.0 2.2h.1M36.4 53.2h.1M43.9 47.3h.1M32.5 46.5h.1M54.5 74.7h.1M40.8 28.5h.1M52.7 70.4h.1M51.4 61.9h.1M47.0 54.3h.1M26.6 56.8h.1M45.8 58.2h.1M40.1 13.3h.1M47.7 71.6h.1M36.8 62.5h.1M23.1 64.7h.1M51.0 67.4h.1M27.6 53.0h.1M52.9 58.9h.1M41.2 42.6h.1M48.0 69.2h.1M51.6 52.2h.1M39.3 40.5h.1M48.5 58.4h.1M33.8 48.4h.1M46.0 22.6h.1M36.4 50.9h.1M46.8 61.4h.1M53.8 56.1h.1M30.4 31.6h.1M51.5 42.1h.1M52.6 46.5h.1M32.0 42.7h.1M31.3 51.6h.1M27.1 45.7h.1M27.8 66.9h.1M44.2 74.4h.1M53.0 56.4h.1M30.2 43.2h.1M28.2 51.4h.1M32.0 52.9h.1M51.6 54.2h.1M38.1 45.5h.1M42.8 57.8h.1M20.9 55.4h.1M48.2 40.1h.1M49.9 59.6h.1M38.8 57.9h.1M52.7 46.0h.1M47.2 46.1h.1M34.9 74.7h.1M35.1 52.9h.1M45.8 57.9h.1M45.1 47.0h.1M30.4 18.3h.1M24.6 51.4h.1M27.5 54.5h.1M48.6 67.0h.1M39.2 67.3h.1M24.5 44.7h.1M24.2 32.1h.1M42.8 46.8h.1M44.2 67.7h.1M53.6 50.3h.1M48.5 34.6h.1M24.6 46.1h.1M49.9 50.7h.1M35.4 32.6h.1M52.9 74.7h.1M52.7 29.1h.1M42.2 33.2h.1M44.8 33.8h.1M41.9 48.0h.1M42.9 44.7h.1M41.0 53.7h.1M49.7 71.8h.1M50.4 53.5h.1M32.2 53.9h.1M34.6 48.3h.1M44.6 56.5h.1M29.9 65.7h.1M28.7 66.3h.1M53.0 41.4h.1M53.2 61.0h.1M23.7 50.3h.1M37.3 42.5h.1M40.2 26.7h.1M39.3 40.0h.1M41.0 65.4h.1M24.9 38.2h.1M41.0 52.3h.1M53.6 60.9h.1M38.8 45.5h.1M41.8 46.1h.1M43.4 51.8h.1M25.5 45.4h.1M49.7 40.8h.1M41.0 33.7h.1M30.0 35.5h.1M44.3 53.3h.1M46.1 54.2h.1M32.2 40.2h.1M30.0 59.8h.1M28.6 46.4h.1M35.1 65.2h.1M53.5 47.7h.1M43.1 29.0h.1M35.2 25.7h.1M50.4 47.2h.1M38.9 73.2h.1M53.5 40.8h.1M50.4 58.4h.1M42.8 53.9h.1M34.0 36.8h.1M36.5 71.6h.1M30.1 43.0h.1M27.6 57.3h.1M45.5 56.8h.1M53.3 63.2h.1M31.6 67.1h.1M28.7 27.3h.1M47.3 16.6h.1M38.8 63.4h.1M33.4 45.6h.1M33.4 67.0h.1M28.1 65.5h.1M51.6 23.4h.1M40.5 59.6h.1M49.0 71.2h.1M38.8 74.2h.1M26.2 45.3h.1M42.5 40.0h.1M28.7 52.0h.1M26.3 28.1h.1M32.9 62.9h.1M42.4 26.5h.1M50.1 42.3h.1M32.8 62.0h.1M35.4 48.8h.1M29.5 48.7h.1M26.1 47.1h.1M54.4 46.4h.1M35.6 49.8h.1M54.2 68.2h.1M24.8 35.3h.1M38.2 25.5h.1M35.5 74.7h.1M41.1 56.6h.1M24.5 63.8h.1M29.8 36.6h.1M48.3 67.0h.1M29.1 64.0h.1M40.3 51.4h.1M54.3 65.4h.1M50.6 46.4h.1M32.9 64.0h.1M33.7 65.6h.1M23.2 62.0h.1M44.0 74.2h.1M26.3 43.3h.1M38.4 67.6h.1M27.6 33.9h.1M23.2 49.8h.1M37.0 40.7h.1M48.0 58.6h.1M36.8 48.3h.1M50.1 67.8h.1M34.6 8.2h.1M39.1 63.5h.1M43.7 50.5h.1M38.7 34.0h.1M34.8 43.1h.1M46.2 58.9h.1M49.9 33.5h.1M34.1 63.0h.1M50.3 61.8h.1M42.0 63.2h.1M47.4 66.2h.1M38.1 41.2h.1M49.3 59.4h.1M46.3 35.5h.1M47.8 60.0h.1M48.0 56.8h.1M35.3 54.2h.1M48.2 36.1h.1M42.9 57.7h.1M47.4 56.4h.1M34.9 51.3h.1M28.7 54.9h.1M32.8 52.4h.1M42.4 46.8h.1M39.5 52.6h.1M33.3 51.8h.1M54.2 64.6h.1M35.1 60.1h.1M45.7 47.1h.1M23.5 28.8h.1M49.9 53.5h.1M31.3 52.8h.1M28.1 63.1h.1M39.2 74.7h.1M39.7 34.1h.1M34.0 56.5h.1M28.5 68.1h.1M37.2 51.2h.1M26.9 53.1h.1M41.2 64.5h.1M50.4 57.2h.1M33.6 43.7h.1M48.7 52.2h.1M32.2 57.7h.1M23.7 34.2h.1M24.7 35.3h.1M51.8 55.2h.1M48.7 61.7h.1M51.2 55.8h.1M30.8 53.5h.1M42.3 44.3h.1M29.0 33.0h.1M43.2 48.2h.1M41.9 56.8h.1M41.4 73.3h.1M48.3 72.0h.1M37.6 44.7h.1M23.4 30.5h.1M45.8 54.1h.1M31.3 57.1h.1M46.6 21.2h.1M54.1 49.4h.1M36.2 72.4h.1M32.7 44.6h.1M46.4 66.5h.1M34.7 45.8h.1M36.2 62.1h.1M42.3 71.3h.1M26.8 38.8h.1M28.3 59.4h.1M48.7 48.0h.1M41.0 47.7h.1M46.1 46.2h.1M39.1 48.5h.1M26.5 48.8h.1M47.1 50.2h.1M34.2 49.1h.1M50.0 59.5h.1"/>
<path transform="translate(431.6 618.4)" stroke="#4a8c9a" stroke-width="0.7" stroke-linecap="square" d="M62.1 41.8h.1M44.2 41.8h.1M56.0 65.8h.1M49.1 48.9h.1M50.5 48.7h.1M53.2 36.8h.1M54.5 74.3h.1M59.6 67.3h.1M74.5 74.3h.1M75.2 73.2h.1M53.4 51.1h.1M69.0 65.2h.1M66.1 74.7h.1M57.3 69.3h.1M51.5 29.5h.1M55.0 56.0h.1M69.4 49.8h.1M56.0 56.8h.1M54.9 62.4h.1M57.6 68.8h.1M50.0 21.3h.1M71.0 41.1h.1M69.7 63.7h.1M58.1 42.0h.1M55.6 70.9h.1M55.7 52.1h.1M72.8 51.5h.1M70.4 51.0h.1M53.0 47.2h.1M68.6 68.9h.1M70.7 69.6h.1M67.8 71.6h.1M51.0 74.7h.1M55.9 51.3h.1M52.9 15.2h.1M51.9 38.7h.1M56.7 74.5h.1M70.8 69.4h.1M51.9 48.4h.1M52.3 43.1h.1M48.3 64.0h.1M70.0 54.7h.1M66.0 63.9h.1M60.1 60.2h.1M69.7 46.5h.1M47.8 55.9h.1M67.2 46.8h.1M67.3 65.4h.1M73.8 33.4h.1M51.6 43.5h.1M69.5 52.6h.1M52.5 66.9h.1M51.6 40.0h.1M66.6 40.0h.1M53.3 70.6h.1M49.4 60.9h.1M48.5 63.3h.1M64.9 74.7h.1M49.7 53.0h.1M56.4 47.9h.1M60.6 64.4h.1M55.8 55.6h.1M50.1 15.9h.1M67.1 50.8h.1M52.1 44.1h.1M49.6 8.9h.1M68.2 67.4h.1M58.8 39.3h.1M47.8 32.5h.1M63.2 53.4h.1M63.8 54.0h.1M59.6 47.9h.1M53.1 55.2h.1M65.9 50.0h.1M49.5 48.4h.1M75.5 69.6h.1M71.3 66.4h.1M75.3 70.7h.1M58.1 44.4h.1M66.7 49.4h.1M60.8 43.1h.1M70.1 74.5h.1M68.9 60.3h.1M66.1 74.7h.1M68.7 71.2h.1M56.3 36.5h.1M60.5 56.3h.1M63.3 64.3h.1M71.8 74.7h.1M72.8 56.6h.1M54.1 35.9h.1M59.0 74.7h.1M54.7 62.9h.1M74.3 51.8h.1M62.6 53.6h.1M67.5 65.7h.1M58.0 56.0h.1M61.1 57.8h.1M72.9 70.5h.1M70.0 63.5h.1M57.6 30.6h.1M68.9 51.0h.1M74.9 11.5h.1M68.3 74.7h.1M53.8 53.7h.1M52.0 67.4h.1M56.5 57.2h.1M61.1 70.2h.1M67.8 54.6h.1M56.9 56.7h.1M63.9 64.9h.1M50.5 65.2h.1M52.5 61.5h.1M52.3 51.7h.1M61.5 47.1h.1M74.8 71.1h.1M73.1 71.1h.1M54.0 67.8h.1M68.9 74.7h.1M62.2 70.2h.1M62.3 72.3h.1M62.9 52.7h.1M60.1 70.4h.1M50.6 65.8h.1M54.5 60.1h.1M51.3 43.9h.1M64.6 72.5h.1M64.5 59.4h.1M65.8 62.6h.1M53.4 56.0h.1M73.1 64.7h.1M54.3 62.0h.1M56.9 35.2h.1M66.6 74.7h.1M62.0 72.8h.1M74.3 24.5h.1M54.9 51.0h.1M66.7 53.0h.1M54.1 47.3h.1M53.1 74.7h.1M47.7 73.1h.1M49.5 62.0h.1M62.6 74.7h.1M65.1 74.7h.1M49.2 54.0h.1M71.9 63.9h.1M50.5 70.6h.1M62.1 63.8h.1M73.3 48.7h.1M54.3 69.3h.1M76.3 68.4h.1M63.2 59.2h.1M70.7 42.4h.1M47.9 61.9h.1M62.3 72.0h.1M48.5 58.4h.1M51.9 65.0h.1M62.5 52.3h.1M57.9 29.5h.1M64.1 43.6h.1M55.5 30.6h.1M59.4 71.2h.1M73.9 52.3h.1M69.0 57.1h.1M55.3 71.6h.1M57.4 60.4h.1M62.0 63.9h.1M51.8 66.7h.1M66.1 58.0h.1M66.3 61.7h.1M55.1 37.4h.1M68.6 74.7h.1M50.6 59.7h.1M62.3 55.9h.1M65.1 54.1h.1M65.5 74.3h.1M61.7 46.2h.1M60.1 54.4h.1M73.1 50.4h.1M69.7 65.1h.1M66.9 65.8h.1M47.7 18.4h.1M59.6 16.3h.1M64.4 60.6h.1M63.3 42.6h.1M60.9 71.1h.1M61.8 16.7h.1M58.6 63.4h.1M67.2 63.0h.1M71.3 73.9h.1M74.1 49.5h.1M55.7 13.8h.1M48.6 67.2h.1M52.2 68.8h.1M73.8 50.2h.1M60.7 74.6h.1M71.6 42.4h.1M61.3 71.3h.1M70.6 64.9h.1M60.1 61.9h.1M53.9 37.1h.1M63.2 49.9h.1M56.5 65.1h.1M56.0 46.5h.1M64.4 52.3h.1M60.0 68.1h.1M53.5 55.1h.1M69.7 52.0h.1M74.1 65.2h.1M72.7 40.1h.1M61.0 64.8h.1M49.3 48.6h.1M58.4 59.3h.1M73.7 65.8h.1M48.9 15.1h.1M64.2 55.1h.1M65.6 73.8h.1M50.1 55.8h.1M53.2 54.5h.1M66.1 34.0h.1M60.1 74.7h.1M66.4 55.8h.1M58.2 70.4h.1M60.4 59.1h.1M55.8 69.0h.1M68.4 12.2h.1M65.6 52.9h.1M53.5 67.7h.1M63.9 74.7h.1M47.9 73.6h.1M74.4 63.1h.1M55.9 70.7h.1M49.4 58.9h.1M70.2 68.6h.1M52.0 38.2h.1M52.7 74.3h.1M68.2 63.5h.1M66.4 67.1h.1M68.7 55.9h.1M74.8 66.1h.1M64.4 48.9h.1M60.0 63.7h.1M54.7 32.1h.1M62.9 72.3h.1M51.0 63.0h.1M62.0 46.1h.1M64.7 48.4h.1M57.8 50.4h.1M73.7 72.8h.1M57.8 71.7h.1M67.6 64.6h.1M71.4 65.2h.1M70.4 70.1h.1M54.3 74.7h.1M54.3 59.0h.1M63.0 41.2h.1M62.9 52.8h.1M59.4 51.1h.1M67.0 74.7h.1M48.1 63.6h.1M59.5 74.7h.1M49.0 52.9h.1M53.5 73.8h.1M64.7 62.7h.1M60.9 46.2h.1M47.6 46.3h.1M51.0 41.7h.1M50.8 6.5h.1M51.4 51.9h.1M68.9 73.8h.1"/>
<path transform="translate(431.6 618.4)" stroke="#8b7a45" stroke-width="0.7" stroke-linecap="square" d="M16.9 58.1h.1M9.0 52.7h.1M17.1 51.0h.1M13.7 23.4h.1M9.3 69.6h.1M15.6 41.6h.1M3.7 51.8h.1M9.2 18.9h.1M4.3 71.9h.1M4.5 55.7h.1M7.3 61.1h.1M10.1 64.9h.1M8.8 48.8h.1M5.0 46.1h.1M16.2 60.6h.1M15.6 31.4h.1M3.8 45.5h.1M16.5 64.9h.1M3.5 54.6h.1M9.3 48.1h.1M4.2 43.7h.1M5.8 46.5h.1M4.4 28.2h.1M15.0 48.2h.1M8.8 6.7h.1M15.3 50.0h.1M8.1 46.8h.1M16.8 60.8h.1M13.4 53.8h.1M10.0 36.0h.1M8.4 26.9h.1M4.1 40.2h.1M8.5 21.1h.1M10.0 53.0h.1M9.2 41.9h.1M9.2 40.5h.1M5.2 42.1h.1M5.8 39.4h.1M16.0 58.4h.1M4.9 55.2h.1M10.2 56.3h.1M11.5 54.6h.1M13.3 47.4h.1M13.8 45.5h.1M16.8 39.8h.1M15.1 64.8h.1M8.6 50.1h.1M3.6 46.2h.1M16.6 43.1h.1M15.4 55.6h.1M8.3 47.4h.1M19.1 57.9h.1M8.2 25.5h.1M8.4 49.2h.1M8.2 40.6h.1M13.0 69.9h.1M15.8 54.6h.1M4.4 26.2h.1M14.6 26.3h.1M8.1 74.7h.1M15.9 50.6h.1M11.7 43.6h.1M16.3 45.3h.1M3.9 48.4h.1M12.3 16.7h.1M8.1 27.6h.1M13.4 47.2h.1M4.4 38.8h.1M16.9 49.2h.1M7.9 21.8h.1M13.4 65.7h.1M12.1 56.0h.1M9.3 31.4h.1M9.7 49.1h.1M3.5 42.7h.1M3.6 51.7h.1M7.2 64.0h.1M13.7 58.0h.1M11.4 52.1h.1M11.1 44.7h.1M17.3 57.0h.1M5.1 52.1h.1M4.2 57.4h.1M6.6 27.7h.1M3.2 28.9h.1M11.6 58.5h.1M16.2 45.3h.1M5.4 2.8h.1M13.1 50.0h.1M12.7 40.7h.1M17.1 40.8h.1M8.4 35.3h.1M10.2 74.7h.1M14.2 22.9h.1M10.4 44.5h.1M15.9 43.9h.1M16.0 53.4h.1M5.0 70.6h.1M8.0 38.0h.1M5.9 54.7h.1M17.0 72.3h.1M7.8 40.1h.1M20.9 31.7h.1M3.9 51.6h.1M10.6 38.6h.1M14.5 51.1h.1M17.6 36.3h.1M5.8 58.4h.1M9.7 30.5h.1M9.6 54.2h.1M12.9 28.4h.1M7.7 53.9h.1M14.3 56.2h.1M5.3 44.8h.1M9.6 13.9h.1M8.7 48.8h.1M7.5 16.1h.1M6.4 36.4h.1M13.0 62.5h.1M14.9 43.1h.1M14.0 72.9h.1M7.5 32.2h.1M12.3 41.2h.1M12.7 62.6h.1M6.8 51.8h.1M5.9 48.1h.1M4.4 60.1h.1M12.9 55.1h.1M7.4 45.2h.1M12.8 34.5h.1M16.3 39.1h.1M14.3 42.6h.1M9.0 49.4h.1M14.0 61.5h.1M5.1 36.5h.1M17.2 55.5h.1M12.2 45.4h.1M3.0 53.9h.1M10.9 66.1h.1M7.7 48.6h.1M4.5 54.2h.1M8.2 39.5h.1M8.4 40.8h.1M7.9 46.3h.1M3.7 55.4h.1M5.3 64.3h.1M9.8 51.5h.1M10.6 42.8h.1M14.3 15.0h.1M15.9 44.9h.1M11.0 69.4h.1M9.1 46.8h.1M4.0 25.6h.1M20.4 64.4h.1M4.5 34.0h.1M15.3 57.1h.1M5.3 48.6h.1M6.6 56.2h.1M5.5 41.6h.1M11.3 50.5h.1M16.4 41.6h.1M3.7 36.3h.1M3.0 54.4h.1M11.9 54.7h.1M12.6 73.4h.1M11.3 70.0h.1M15.1 48.5h.1M13.5 50.2h.1M12.3 26.5h.1M9.4 33.2h.1M9.0 50.4h.1M16.0 46.2h.1M8.7 44.4h.1M4.5 55.1h.1M13.1 29.6h.1M6.1 73.7h.1M4.4 25.9h.1M6.2 60.7h.1M2.9 65.4h.1M5.5 54.5h.1M12.6 48.7h.1M9.7 47.4h.1M4.3 55.4h.1M5.6 65.6h.1M15.5 52.5h.1M10.0 58.2h.1M14.2 23.3h.1M12.6 47.2h.1M15.0 47.8h.1M16.7 54.6h.1M9.9 20.2h.1M7.3 52.5h.1M3.6 33.4h.1M6.2 62.5h.1M6.3 27.7h.1M8.6 50.2h.1M13.0 17.0h.1M10.4 47.7h.1M14.4 52.9h.1M17.2 57.8h.1M11.0 39.4h.1M13.4 43.4h.1M8.9 64.6h.1M6.2 50.6h.1M17.3 2.1h.1M4.6 32.9h.1M6.2 72.8h.1M6.6 55.0h.1M4.5 39.7h.1M4.6 4.6h.1M8.1 32.3h.1M3.1 49.3h.1M8.6 14.7h.1M9.9 19.4h.1M11.6 31.6h.1M11.3 63.0h.1M14.1 55.6h.1M6.4 48.0h.1M15.0 62.6h.1M13.0 8.4h.1M5.6 47.7h.1M13.4 54.5h.1M7.7 57.8h.1M3.1 65.5h.1M5.0 39.7h.1M18.1 55.4h.1M6.1 6.0h.1M8.7 61.5h.1M12.0 55.5h.1M6.0 58.5h.1M11.3 62.8h.1M6.2 29.8h.1M16.9 74.7h.1M3.6 29.4h.1M12.8 33.8h.1M9.4 38.3h.1M14.6 52.6h.1M15.3 31.8h.1M4.1 40.3h.1M14.4 17.0h.1"/>
<path transform="translate(431.6 618.4)" stroke="#a898cc" stroke-width="0.7" stroke-linecap="square" d="M15.4 63.1h.1M18.6 49.6h.1M24.4 47.0h.1M22.6 54.6h.1M18.1 49.2h.1M21.9 47.7h.1M20.0 56.9h.1M19.4 43.6h.1M22.8 33.7h.1M22.1 62.5h.1M24.2 55.3h.1M26.2 58.2h.1M15.3 63.2h.1M16.4 55.7h.1M16.4 58.8h.1M21.9 31.8h.1M20.0 52.2h.1M18.7 34.2h.1M19.3 57.8h.1M14.6 44.8h.1M23.8 36.4h.1M20.7 25.1h.1M22.9 41.2h.1M23.5 47.5h.1M12.6 58.3h.1M23.8 67.3h.1M15.5 38.2h.1M25.7 58.0h.1M16.2 58.1h.1M24.4 56.0h.1M24.0 32.7h.1M17.1 62.7h.1M13.5 28.6h.1M23.0 49.8h.1M23.9 28.8h.1M18.3 32.0h.1M17.2 39.4h.1M20.9 47.5h.1M23.8 74.7h.1M22.6 54.6h.1M24.0 51.4h.1M23.6 54.0h.1M14.5 55.5h.1M19.4 36.5h.1M16.2 30.4h.1M17.7 60.0h.1M25.1 18.0h.1M14.6 62.7h.1M17.7 39.3h.1M20.5 55.3h.1M23.4 28.5h.1M22.6 47.6h.1M16.4 74.2h.1M14.2 17.5h.1M20.1 48.2h.1M24.7 68.3h.1M22.9 50.2h.1M17.6 42.5h.1M17.3 58.2h.1M19.1 36.2h.1M23.8 69.0h.1M22.4 62.8h.1M24.4 71.3h.1M16.3 58.7h.1M15.9 57.7h.1M19.4 39.4h.1M23.9 31.1h.1M22.4 43.5h.1M15.5 26.5h.1M18.7 52.1h.1M22.2 52.9h.1M25.9 73.1h.1M15.3 62.4h.1M17.4 55.0h.1M17.4 46.2h.1M16.9 26.5h.1M17.7 49.0h.1M23.5 39.6h.1M20.5 56.6h.1M20.2 45.3h.1M19.2 58.3h.1M18.4 60.9h.1M22.1 61.2h.1M19.5 48.2h.1M26.0 40.4h.1M17.6 44.3h.1M18.5 51.3h.1M19.1 62.4h.1M17.1 39.6h.1M16.4 59.3h.1M17.2 60.1h.1M18.1 36.6h.1M18.6 52.0h.1M17.9 66.6h.1M18.2 48.3h.1M15.0 32.0h.1"/>
<path d="M434.5 665.9L436.3 666.0L438.1 666.0L439.9 666.0L441.7 666.1L443.5 666.1L445.3 666.2L447.1 666.4L448.9 666.7L450.7 667.0L452.5 667.5L454.3 667.9L456.1 668.4L457.9 668.9L459.7 669.5L461.5 670.0L463.3 670.6L465.1 671.1L466.9 671.7L468.7 672.2L470.5 672.7L472.3 673.2L474.1 673.8L475.9 674.3L477.7 674.8L479.5 675.3L481.3 675.8L483.1 676.2L484.9 676.5L486.7 676.7L488.5 676.9L490.3 677.1L492.1 677.2L493.9 677.4L495.7 677.5L497.5 677.5L499.3 677.6L501.1 677.7L502.9 677.8L504.7 677.9L506.5 678.0" fill="none" stroke="#d98ccb" stroke-width="2.6" opacity="0.85" stroke-linejoin="round"/>
</g>
<rect x="431.6" y="618.4" width="77.79999999999995" height="77.70000000000005" fill="none" stroke="#111" stroke-width="1.3"/>
<text transform="translate(434.70000000000005 627.0) scale(0.86 1)" font-size="6.6" text-anchor="start" >PU.1</text>
<line x1="428.20000000000005" y1="693.1" x2="431.6" y2="693.1" stroke="#111" stroke-width="0.9"/>
<text transform="translate(422.7 695.5) scale(0.8 1)" font-size="7.0" text-anchor="middle" >0</text>
<line x1="428.20000000000005" y1="678.0" x2="431.6" y2="678.0" stroke="#111" stroke-width="0.9"/>
<text transform="translate(422.7 680.4) scale(0.8 1)" font-size="7.0" text-anchor="middle" >1</text>
<line x1="428.20000000000005" y1="662.9" x2="431.6" y2="662.9" stroke="#111" stroke-width="0.9"/>
<text transform="translate(422.7 665.3) scale(0.8 1)" font-size="7.0" text-anchor="middle" >2</text>
<line x1="428.20000000000005" y1="647.8" x2="431.6" y2="647.8" stroke="#111" stroke-width="0.9"/>
<text transform="translate(422.7 650.2) scale(0.8 1)" font-size="7.0" text-anchor="middle" >3</text>
<line x1="428.20000000000005" y1="632.7" x2="431.6" y2="632.7" stroke="#111" stroke-width="0.9"/>
<text transform="translate(422.7 635.1) scale(0.8 1)" font-size="7.0" text-anchor="middle" >4</text>
<line x1="434.5" y1="696.1" x2="434.5" y2="699.5" stroke="#111" stroke-width="0.9"/>
<text transform="translate(434.5 710.1) scale(0.8 1)" font-size="7.0" text-anchor="middle" >0.0</text>
<line x1="470.5" y1="696.1" x2="470.5" y2="699.5" stroke="#111" stroke-width="0.9"/>
<text transform="translate(470.5 710.1) scale(0.8 1)" font-size="7.0" text-anchor="middle" >0.5</text>
<line x1="506.5" y1="696.1" x2="506.5" y2="699.5" stroke="#111" stroke-width="0.9"/>
<text transform="translate(506.5 710.1) scale(0.8 1)" font-size="7.0" text-anchor="middle" >1.0</text>
<clipPath id="cpD2"><rect x="334.0" y="715.6" width="78.19999999999999" height="77.89999999999998"/></clipPath>
<g clip-path="url(#cpD2)">
<path d="M357.2 733.3L359.8 733.6L362.5 734.1L365.1 734.7L367.8 735.3L370.4 735.9L373.1 736.6L375.8 737.2L378.4 737.7L381.1 738.1L383.7 738.5L386.4 738.9L389.0 739.2L389.0 755.0L386.4 754.7L383.7 754.3L381.1 754.0L378.4 753.5L375.8 753.0L373.1 752.4L370.4 751.8L367.8 751.1L365.1 750.5L362.5 749.9L359.8 749.5L357.2 749.1Z" fill="#9aac88" opacity="0.36" filter="url(#sb)"/>
<path d="M357.2 724.5L359.8 724.8L362.5 725.3L365.1 725.9L367.8 726.5L370.4 727.1L373.1 727.7L375.8 728.4L378.4 728.9L381.1 729.3L383.7 729.7L386.4 730.0L389.0 730.4L389.0 762.1L386.4 761.7L383.7 761.4L381.1 761.0L378.4 760.6L375.8 760.0L373.1 759.4L370.4 758.8L367.8 758.2L365.1 757.5L362.5 757.0L359.8 756.5L357.2 756.2Z" fill="#9aac88" opacity="0.27" filter="url(#sb)"/>
<path d="M357.2 715.7L359.8 716.0L362.5 716.5L365.1 717.1L367.8 717.7L370.4 718.3L373.1 718.9L375.8 719.5L378.4 720.1L381.1 720.5L383.7 720.9L386.4 721.2L389.0 721.6L389.0 769.1L386.4 768.8L383.7 768.4L381.1 768.1L378.4 767.6L375.8 767.1L373.1 766.5L370.4 765.8L367.8 765.2L365.1 764.6L362.5 764.0L359.8 763.6L357.2 763.2Z" fill="#9aac88" opacity="0.15" filter="url(#sb)"/>
<path d="M381.8 738.2L384.1 738.6L386.4 738.9L388.7 739.1L391.0 739.4L393.3 739.6L395.5 739.9L397.8 740.1L400.1 740.3L402.4 740.6L404.7 740.8L407.0 741.0L409.3 741.3L409.3 757.1L407.0 756.9L404.7 756.6L402.4 756.4L400.1 756.2L397.8 755.9L395.5 755.7L393.3 755.5L391.0 755.2L388.7 755.0L386.4 754.7L384.1 754.4L381.8 754.1Z" fill="#4a8c9a" opacity="0.37" filter="url(#sb)"/>
<path d="M381.8 729.4L384.1 729.8L386.4 730.0L388.7 730.3L391.0 730.6L393.3 730.8L395.5 731.1L397.8 731.3L400.1 731.5L402.4 731.7L404.7 732.0L407.0 732.2L409.3 732.5L409.3 764.2L407.0 763.9L404.7 763.7L402.4 763.4L400.1 763.2L397.8 763.0L395.5 762.8L393.3 762.5L391.0 762.3L388.7 762.0L386.4 761.7L384.1 761.4L381.8 761.1Z" fill="#4a8c9a" opacity="0.28" filter="url(#sb)"/>
<path d="M381.8 720.6L384.1 720.9L386.4 721.2L388.7 721.5L391.0 721.8L393.3 722.0L395.5 722.3L397.8 722.5L400.1 722.7L402.4 722.9L404.7 723.2L407.0 723.4L409.3 723.7L409.3 771.2L407.0 770.9L404.7 770.7L402.4 770.5L400.1 770.3L397.8 770.0L395.5 769.8L393.3 769.6L391.0 769.3L388.7 769.1L386.4 768.8L384.1 768.5L381.8 768.2Z" fill="#4a8c9a" opacity="0.15" filter="url(#sb)"/>
<path d="M336.9 732.1L338.1 732.2L339.3 732.3L340.5 732.3L341.7 732.4L342.9 732.4L344.1 732.5L345.3 732.5L346.6 732.5L347.8 732.6L349.0 732.6L350.2 732.7L351.4 732.8L351.4 748.6L350.2 748.5L349.0 748.5L347.8 748.4L346.6 748.4L345.3 748.3L344.1 748.3L342.9 748.3L341.7 748.2L340.5 748.2L339.3 748.1L338.1 748.1L336.9 748.0Z" fill="#8b7a45" opacity="0.42" filter="url(#sb)"/>
<path d="M336.9 723.3L338.1 723.4L339.3 723.5L340.5 723.5L341.7 723.6L342.9 723.6L344.1 723.7L345.3 723.7L346.6 723.7L347.8 723.8L349.0 723.8L350.2 723.9L351.4 724.0L351.4 755.7L350.2 755.6L349.0 755.5L347.8 755.5L346.6 755.4L345.3 755.4L344.1 755.3L342.9 755.3L341.7 755.3L340.5 755.2L339.3 755.2L338.1 755.1L336.9 755.0Z" fill="#8b7a45" opacity="0.32" filter="url(#sb)"/>
<path d="M336.9 714.5L338.1 714.6L339.3 714.7L340.5 714.7L341.7 714.8L342.9 714.8L344.1 714.9L345.3 714.9L346.6 714.9L347.8 715.0L349.0 715.0L350.2 715.1L351.4 715.2L351.4 762.7L350.2 762.6L349.0 762.6L347.8 762.5L346.6 762.5L345.3 762.4L344.1 762.4L342.9 762.3L341.7 762.3L340.5 762.3L339.3 762.2L338.1 762.1L336.9 762.1Z" fill="#8b7a45" opacity="0.17" filter="url(#sb)"/>
<path d="M348.5 732.6L349.3 732.7L350.2 732.7L351.0 732.8L351.9 732.8L352.7 732.9L353.6 732.9L354.4 733.0L355.2 733.1L356.1 733.1L356.9 733.2L357.8 733.3L358.6 733.5L358.6 749.3L357.8 749.2L356.9 749.1L356.1 749.0L355.2 748.9L354.4 748.8L353.6 748.8L352.7 748.7L351.9 748.6L351.0 748.6L350.2 748.5L349.3 748.5L348.5 748.5Z" fill="#a898cc" opacity="0.27" filter="url(#sb)"/>
<path d="M348.5 723.8L349.3 723.9L350.2 723.9L351.0 724.0L351.9 724.0L352.7 724.1L353.6 724.1L354.4 724.2L355.2 724.3L356.1 724.3L356.9 724.4L357.8 724.5L358.6 724.6L358.6 756.3L357.8 756.2L356.9 756.1L356.1 756.0L355.2 756.0L354.4 755.9L353.6 755.8L352.7 755.7L351.9 755.7L351.0 755.6L350.2 755.6L349.3 755.5L348.5 755.5Z" fill="#a898cc" opacity="0.20" filter="url(#sb)"/>
<path d="M348.5 715.0L349.3 715.1L350.2 715.1L351.0 715.1L351.9 715.2L352.7 715.3L353.6 715.3L354.4 715.4L355.2 715.5L356.1 715.5L356.9 715.6L357.8 715.7L358.6 715.8L358.6 763.4L357.8 763.3L356.9 763.2L356.1 763.1L355.2 763.0L354.4 762.9L353.6 762.8L352.7 762.8L351.9 762.7L351.0 762.7L350.2 762.6L349.3 762.6L348.5 762.6Z" fill="#a898cc" opacity="0.11" filter="url(#sb)"/>
<line x1="357.2" y1="790.5" x2="389.0" y2="790.5" stroke="#9aac88" stroke-width="1.1" opacity="0.8"/>
<line x1="381.8" y1="790.5" x2="409.3" y2="790.5" stroke="#4a8c9a" stroke-width="1.1" opacity="0.8"/>
<line x1="336.9" y1="790.5" x2="351.4" y2="790.5" stroke="#8b7a45" stroke-width="1.1" opacity="0.8"/>
<line x1="348.5" y1="790.5" x2="358.6" y2="790.5" stroke="#a898cc" stroke-width="1.1" opacity="0.8"/>
<path transform="translate(334.0 715.6)" stroke="#9aac88" stroke-width="0.7" stroke-linecap="square" d="M42.9 19.3h.1M27.4 29.2h.1M46.7 37.6h.1M52.7 17.1h.1M34.5 30.0h.1M50.0 45.2h.1M33.5 9.6h.1M32.9 32.2h.1M51.4 40.0h.1M32.2 33.4h.1M39.6 29.6h.1M27.7 31.7h.1M24.7 32.2h.1M46.8 37.7h.1M41.3 15.5h.1M47.8 35.6h.1M44.2 20.3h.1M35.5 30.9h.1M24.1 15.2h.1M31.9 14.0h.1M54.8 35.2h.1M51.6 21.2h.1M29.7 21.4h.1M30.2 48.1h.1M30.7 37.5h.1M29.2 22.6h.1M34.2 22.2h.1M46.6 41.5h.1M23.1 39.2h.1M27.7 45.1h.1M48.6 12.8h.1M28.3 16.9h.1M54.8 29.8h.1M42.7 14.6h.1M24.4 43.9h.1M33.9 27.8h.1M31.8 46.1h.1M42.6 34.9h.1M48.8 38.8h.1M40.5 32.3h.1M38.8 33.6h.1M59.1 12.3h.1M49.3 24.1h.1M35.0 11.9h.1M27.7 36.7h.1M24.7 22.4h.1M42.4 36.5h.1M38.8 36.8h.1M35.8 2.9h.1M26.2 19.8h.1M47.9 35.2h.1M28.7 29.3h.1M35.4 25.2h.1M39.3 29.6h.1M29.6 19.8h.1M46.5 27.9h.1M31.8 29.6h.1M42.2 16.0h.1M38.0 38.0h.1M47.9 25.8h.1M46.2 36.9h.1M43.8 10.5h.1M36.9 25.5h.1M47.6 41.0h.1M42.5 18.2h.1M37.2 23.8h.1M24.4 27.3h.1M41.9 31.6h.1M51.4 19.1h.1M45.2 36.7h.1M30.0 35.4h.1M42.3 27.3h.1M35.6 19.5h.1M28.7 33.3h.1M27.0 5.6h.1M50.6 34.3h.1M45.0 41.6h.1M42.3 57.7h.1M54.8 47.4h.1M44.4 17.5h.1M23.3 21.1h.1M38.3 30.7h.1M53.3 44.9h.1M37.6 38.0h.1M23.1 23.8h.1M26.5 38.2h.1M52.3 18.2h.1M43.7 28.7h.1M47.5 35.2h.1M25.6 28.3h.1M34.1 25.0h.1M30.1 28.3h.1M50.2 25.9h.1M48.9 9.5h.1M33.0 36.5h.1M29.2 20.7h.1M43.4 35.7h.1M53.4 35.0h.1M24.7 28.4h.1M30.8 22.0h.1M38.3 22.8h.1M25.5 28.6h.1M45.1 39.0h.1M37.6 10.9h.1M23.7 22.8h.1M28.7 24.3h.1M40.5 43.1h.1M30.9 32.2h.1M27.9 21.8h.1M43.4 35.4h.1M27.2 37.9h.1M30.7 30.4h.1M50.8 31.1h.1M37.7 30.8h.1M51.7 34.9h.1M51.4 24.2h.1M33.2 10.6h.1M23.5 18.1h.1M52.3 26.9h.1M47.8 25.8h.1M50.3 20.1h.1M39.1 40.5h.1M32.7 23.4h.1M42.6 20.3h.1M52.0 42.8h.1M50.7 12.4h.1M42.3 18.4h.1M25.3 32.3h.1M32.1 26.6h.1M43.7 33.3h.1M27.2 27.8h.1M47.9 48.7h.1M18.5 20.0h.1M50.3 51.1h.1M42.2 31.7h.1M52.1 30.1h.1M42.5 40.8h.1M42.7 45.0h.1M45.8 49.1h.1M38.0 38.5h.1M28.6 32.4h.1M53.8 29.8h.1M37.3 34.1h.1M43.6 16.7h.1M28.5 20.0h.1M57.6 41.9h.1M29.8 30.5h.1M24.1 48.6h.1M29.8 23.1h.1M28.1 48.2h.1M54.7 12.9h.1M42.9 29.9h.1M43.6 36.0h.1M52.6 69.3h.1M34.9 32.7h.1M35.3 37.1h.1M30.9 38.5h.1M24.2 32.2h.1M27.2 27.7h.1M29.8 22.1h.1M29.4 41.2h.1M46.5 28.9h.1M39.2 32.8h.1M48.3 31.4h.1M32.9 19.6h.1M26.6 9.9h.1M44.0 38.2h.1M30.3 40.2h.1M49.5 32.9h.1M44.3 17.5h.1M39.6 35.7h.1M30.3 30.7h.1M31.3 25.0h.1M34.5 38.1h.1M33.8 50.0h.1M32.8 34.6h.1M45.0 23.9h.1M51.1 35.5h.1M27.9 35.6h.1M49.0 40.4h.1M39.3 24.1h.1M37.7 23.1h.1M38.5 8.3h.1M32.4 27.7h.1M25.4 37.4h.1M52.2 53.7h.1M28.5 9.5h.1M31.8 19.7h.1M50.5 25.8h.1M30.6 31.7h.1M38.0 24.1h.1M23.9 18.4h.1M45.7 27.9h.1M29.4 21.3h.1M47.0 38.2h.1M50.0 45.8h.1M52.4 11.2h.1M31.5 12.7h.1M35.7 29.5h.1M42.4 28.8h.1M42.0 20.1h.1M54.0 35.6h.1M40.9 28.1h.1M40.0 30.1h.1M53.5 29.3h.1M54.0 30.1h.1M47.9 20.6h.1M37.7 32.4h.1M31.1 25.2h.1M46.7 23.3h.1M33.8 12.5h.1M49.1 17.4h.1M45.1 27.5h.1M37.3 43.2h.1M32.9 33.0h.1M28.3 51.7h.1M50.2 28.3h.1M39.3 39.8h.1M43.5 22.0h.1M33.4 26.1h.1M31.3 24.5h.1M24.3 38.4h.1M50.4 26.7h.1M51.2 43.7h.1M37.3 33.0h.1M56.4 28.5h.1M23.3 26.0h.1M34.9 34.2h.1M35.1 29.3h.1M46.1 39.7h.1M25.1 47.9h.1M40.5 37.1h.1M25.7 38.6h.1M42.2 5.5h.1M39.1 15.0h.1M59.8 24.0h.1M31.0 32.1h.1M24.5 30.7h.1M47.2 19.4h.1M27.9 26.9h.1M26.0 8.2h.1M41.2 32.8h.1M50.0 19.5h.1M27.4 42.1h.1M51.7 21.3h.1M34.4 28.5h.1M31.9 29.3h.1M46.1 40.2h.1M48.1 10.4h.1M28.7 30.2h.1M36.3 24.7h.1M39.2 10.0h.1M52.8 45.4h.1M59.3 20.5h.1M30.2 12.8h.1M52.6 25.9h.1M36.4 18.9h.1M49.2 54.4h.1M37.0 41.2h.1M50.1 40.7h.1M37.8 39.4h.1M36.2 47.2h.1M36.5 37.8h.1M31.4 32.7h.1M50.4 43.2h.1M54.2 29.3h.1M51.9 18.9h.1M37.2 48.3h.1"/>
<path transform="translate(334.0 715.6)" stroke="#4a8c9a" stroke-width="0.7" stroke-linecap="square" d="M57.9 23.3h.1M70.9 27.3h.1M59.0 52.2h.1M73.5 39.0h.1M72.1 40.8h.1M73.9 35.2h.1M73.9 29.6h.1M75.5 44.4h.1M59.9 45.2h.1M59.9 26.9h.1M72.2 38.5h.1M71.2 52.6h.1M68.5 9.1h.1M63.7 42.4h.1M54.4 36.0h.1M70.9 34.7h.1M57.5 34.3h.1M53.1 5.1h.1M55.3 59.3h.1M64.5 35.9h.1M52.3 50.3h.1M66.5 31.4h.1M74.1 47.1h.1M75.1 41.5h.1M61.9 36.4h.1M59.6 45.5h.1M61.4 31.7h.1M57.8 39.2h.1M53.5 23.7h.1M69.3 29.4h.1M63.3 35.0h.1M76.3 13.9h.1M70.3 18.4h.1M71.9 26.9h.1M50.8 23.8h.1M55.0 35.4h.1M53.2 49.4h.1M62.0 14.6h.1M67.2 35.6h.1M69.7 38.1h.1M60.7 32.3h.1M52.4 5.0h.1M62.3 27.6h.1M49.3 42.0h.1M70.7 32.4h.1M65.4 23.3h.1M68.4 40.0h.1M48.6 41.5h.1M71.6 25.1h.1M51.9 19.4h.1M55.4 10.1h.1M58.5 27.4h.1M66.7 10.9h.1M64.3 25.5h.1M51.9 45.3h.1M53.2 2.7h.1M64.5 39.1h.1M64.8 36.1h.1M64.7 42.5h.1M59.7 51.0h.1M58.9 50.7h.1M60.8 18.9h.1M71.7 51.4h.1M50.9 30.1h.1M56.7 20.2h.1M59.1 29.7h.1M63.4 44.1h.1M67.2 30.9h.1M62.1 25.8h.1M67.8 53.2h.1M62.8 28.5h.1M54.0 38.7h.1M73.2 34.3h.1M52.5 36.2h.1M51.4 30.5h.1M54.0 5.4h.1M54.5 16.5h.1M67.7 12.6h.1M71.4 36.2h.1M53.1 47.1h.1M56.2 33.4h.1M70.7 39.2h.1M69.9 33.2h.1M50.7 54.3h.1M66.4 33.5h.1M71.8 35.0h.1M65.9 32.7h.1M73.8 44.5h.1M60.8 18.4h.1M72.2 22.8h.1M52.0 41.2h.1M54.9 9.6h.1M48.7 44.7h.1M49.7 44.1h.1M60.4 31.4h.1M50.2 14.8h.1M56.3 38.4h.1M72.2 40.0h.1M67.1 32.1h.1M58.5 25.2h.1M57.3 37.8h.1M57.0 17.8h.1M55.8 14.6h.1M73.2 37.6h.1M54.0 50.3h.1M60.1 17.9h.1M57.5 35.0h.1M75.1 26.1h.1M53.2 36.9h.1M67.4 21.8h.1M54.4 16.6h.1M67.6 39.3h.1M60.6 18.1h.1M69.4 45.9h.1M60.2 62.6h.1M67.8 22.8h.1M65.6 36.5h.1M58.1 18.0h.1M52.5 35.4h.1M67.9 27.2h.1M46.7 32.1h.1M67.0 39.5h.1M55.9 42.0h.1M69.3 49.7h.1M50.8 13.7h.1M53.0 25.0h.1M53.3 18.9h.1M56.1 39.2h.1M69.9 58.6h.1M62.9 34.7h.1M61.3 47.7h.1M67.2 37.3h.1M57.8 35.0h.1M63.6 6.3h.1M50.0 23.1h.1M59.5 32.6h.1M57.0 60.6h.1M62.9 24.0h.1M54.3 14.2h.1M67.8 31.7h.1M67.8 18.4h.1M54.7 41.7h.1M75.3 29.4h.1M57.2 24.9h.1M56.7 26.4h.1M49.3 46.8h.1M62.3 12.4h.1M74.8 46.1h.1M61.8 52.5h.1M68.7 43.2h.1M50.1 43.2h.1M58.0 46.6h.1M73.7 36.1h.1M67.7 35.8h.1M70.4 23.5h.1M69.8 36.1h.1M72.3 26.3h.1M73.9 64.1h.1M61.8 35.0h.1M66.5 50.7h.1M48.2 34.8h.1M64.9 30.5h.1M63.2 25.9h.1M66.7 35.8h.1M51.4 50.0h.1M53.9 36.2h.1M68.1 28.8h.1M71.5 31.3h.1M56.8 35.2h.1M49.5 21.1h.1M69.6 36.5h.1M48.0 27.0h.1M51.6 29.4h.1M56.1 31.2h.1M51.0 51.3h.1M52.3 20.8h.1M73.2 36.5h.1M58.8 36.5h.1M67.9 19.2h.1M67.6 11.1h.1M70.7 49.6h.1M64.9 35.1h.1M56.2 36.5h.1M57.3 25.9h.1M51.4 26.3h.1M53.8 42.3h.1M65.6 24.7h.1M48.0 38.6h.1M65.9 26.0h.1M55.3 22.3h.1M57.1 34.0h.1M60.1 46.8h.1M49.3 33.4h.1M58.1 15.0h.1M59.5 45.4h.1M55.1 48.2h.1M65.5 40.7h.1M59.8 33.3h.1M67.1 28.9h.1M59.1 42.5h.1M70.2 70.3h.1M64.0 13.9h.1M56.9 28.9h.1M59.9 42.4h.1M54.4 34.3h.1M54.2 39.1h.1M51.1 27.8h.1M64.0 45.5h.1M64.4 25.8h.1M72.9 52.8h.1M58.6 17.0h.1M63.9 29.9h.1M48.3 27.2h.1M70.5 35.2h.1M52.5 27.6h.1M59.3 30.8h.1M49.7 44.6h.1M52.1 42.9h.1M51.5 54.9h.1M47.8 48.5h.1M68.0 2.8h.1M55.5 36.4h.1M68.6 34.0h.1M51.4 32.6h.1M67.7 24.4h.1M71.0 23.0h.1M56.1 33.3h.1M60.9 37.2h.1M49.2 48.6h.1M53.8 26.7h.1M49.2 42.9h.1M55.2 47.6h.1M70.2 19.4h.1M70.3 42.0h.1M74.3 14.4h.1M71.5 36.0h.1M59.8 22.9h.1M65.5 41.1h.1M56.0 44.3h.1M53.2 35.8h.1M50.5 42.9h.1M60.6 33.7h.1M60.5 22.2h.1M74.6 22.3h.1M53.8 42.9h.1M63.8 35.2h.1M70.0 29.9h.1M65.4 35.2h.1M70.9 33.9h.1M56.5 40.5h.1M54.4 47.2h.1M69.9 14.5h.1M62.8 18.2h.1M47.4 27.3h.1M75.1 30.8h.1M62.7 15.4h.1M60.4 21.2h.1M48.7 31.9h.1M57.4 26.7h.1M58.1 22.4h.1M62.6 25.3h.1M71.4 22.6h.1M66.8 34.2h.1M52.9 35.6h.1M63.3 13.2h.1M58.5 45.8h.1M76.7 24.9h.1M72.7 33.3h.1M72.6 41.4h.1"/>
<path transform="translate(334.0 715.6)" stroke="#8b7a45" stroke-width="0.7" stroke-linecap="square" d="M6.0 30.9h.1M12.9 11.9h.1M10.3 22.7h.1M11.3 29.5h.1M14.7 15.6h.1M12.9 26.7h.1M16.2 38.7h.1M11.0 30.9h.1M4.8 26.3h.1M9.9 6.8h.1M11.7 36.0h.1M4.8 15.2h.1M13.9 14.2h.1M17.4 22.4h.1M11.6 31.9h.1M11.6 10.9h.1M3.4 24.0h.1M10.9 11.3h.1M15.4 16.3h.1M9.7 33.7h.1M6.7 11.2h.1M20.6 33.5h.1M6.8 22.3h.1M5.1 17.0h.1M15.7 38.2h.1M8.3 28.2h.1M6.2 17.5h.1M6.8 27.1h.1M16.9 35.4h.1M14.7 11.1h.1M16.8 14.7h.1M8.7 20.3h.1M9.4 2.5h.1M6.3 13.3h.1M13.3 23.9h.1M6.5 24.6h.1M1.5 27.8h.1M16.3 22.4h.1M12.6 15.8h.1M13.2 23.5h.1M13.4 26.8h.1M17.3 9.9h.1M10.4 30.2h.1M4.8 20.0h.1M16.9 40.2h.1M6.7 44.6h.1M11.8 42.6h.1M14.0 71.6h.1M5.1 31.2h.1M7.2 20.9h.1M7.6 8.6h.1M10.1 35.9h.1M13.6 12.3h.1M11.6 42.5h.1M5.6 19.4h.1M4.9 14.6h.1M11.4 22.3h.1M12.7 36.0h.1M10.8 43.7h.1M8.1 35.3h.1M4.8 16.9h.1M5.9 22.7h.1M10.0 22.5h.1M11.1 28.2h.1M4.9 50.2h.1M1.5 30.6h.1M4.3 21.9h.1M10.5 6.4h.1M8.8 4.8h.1M6.5 20.4h.1M5.3 33.7h.1M9.2 10.1h.1M17.8 20.9h.1M17.8 22.5h.1M14.5 45.9h.1M15.8 34.7h.1M3.3 18.5h.1M13.9 14.4h.1M14.8 16.1h.1M8.9 21.4h.1M4.8 7.9h.1M3.5 1.7h.1M6.2 28.6h.1M5.2 17.0h.1M2.9 12.4h.1M4.4 25.0h.1M6.3 14.7h.1M1.5 10.4h.1M14.4 7.5h.1M6.7 32.3h.1M11.4 34.9h.1M5.8 29.7h.1M8.6 8.4h.1M8.7 28.5h.1M14.2 41.4h.1M16.3 24.3h.1M11.4 27.3h.1M7.2 27.6h.1M10.6 16.3h.1M7.9 15.1h.1M13.3 24.0h.1M3.7 18.1h.1M12.3 48.0h.1M4.3 31.4h.1M19.9 21.7h.1M6.0 23.5h.1M11.9 17.4h.1M10.3 38.9h.1M15.5 33.6h.1M17.0 33.9h.1M6.6 41.4h.1M3.1 21.5h.1M7.9 34.0h.1M14.5 24.9h.1M13.3 25.6h.1M17.2 26.7h.1M4.1 17.5h.1M9.2 35.9h.1M8.5 32.1h.1M8.1 39.4h.1M8.4 24.8h.1M17.3 35.7h.1M4.0 24.3h.1M13.0 23.2h.1M8.4 30.7h.1M10.7 30.4h.1M10.0 37.4h.1M14.7 25.3h.1M13.2 23.2h.1M3.3 6.8h.1M8.6 19.1h.1M11.1 29.1h.1M6.1 26.8h.1M6.5 27.8h.1M14.5 19.5h.1M11.9 28.4h.1M8.1 41.1h.1M7.6 23.5h.1M5.0 19.0h.1M5.7 35.6h.1M5.1 28.5h.1M5.9 4.8h.1M3.1 27.4h.1M12.1 17.9h.1M6.4 13.5h.1M17.4 15.5h.1M11.2 6.4h.1M14.3 3.0h.1M9.3 44.7h.1M6.2 32.3h.1M12.0 30.5h.1M3.7 29.6h.1M10.0 32.1h.1M8.9 56.8h.1M9.3 27.8h.1M16.7 20.8h.1M10.0 34.3h.1M12.4 7.9h.1M9.4 29.1h.1M4.9 23.9h.1M15.9 9.4h.1M3.2 24.1h.1M5.1 22.3h.1M16.4 18.4h.1M4.7 33.5h.1M15.9 29.4h.1M7.1 25.4h.1M5.2 37.8h.1M10.2 17.9h.1M11.9 27.8h.1M10.3 49.0h.1M9.0 28.6h.1M6.6 33.3h.1M13.5 12.3h.1M5.9 28.1h.1M11.4 14.7h.1M15.6 23.8h.1M17.0 36.7h.1M16.2 24.9h.1M6.5 16.9h.1M7.0 22.2h.1M7.1 43.4h.1M15.1 1.8h.1M8.7 22.5h.1M6.8 23.9h.1M11.9 29.0h.1M14.0 34.3h.1M12.6 22.2h.1M2.9 39.7h.1M8.8 11.0h.1M7.6 30.6h.1M17.3 12.1h.1M8.5 9.7h.1M9.9 22.9h.1M17.3 31.7h.1M12.0 40.2h.1M11.4 38.3h.1M7.5 36.0h.1M16.5 31.7h.1M9.1 20.0h.1M11.9 27.3h.1M1.5 37.4h.1M3.6 33.4h.1M6.8 44.1h.1M13.4 32.1h.1M12.4 24.1h.1M5.9 11.3h.1M8.4 32.7h.1M4.5 8.1h.1M3.7 20.5h.1M8.2 5.5h.1M10.0 25.5h.1M4.3 20.1h.1M13.7 20.9h.1M5.7 26.4h.1M14.8 23.0h.1M4.8 21.8h.1M10.6 40.2h.1M4.7 20.7h.1M12.9 34.6h.1M3.9 34.4h.1M14.1 16.7h.1M14.2 34.7h.1M8.4 30.8h.1M15.5 36.1h.1M14.2 28.8h.1M16.7 25.0h.1M1.7 44.6h.1M5.3 12.2h.1M15.5 25.0h.1M10.0 29.4h.1M6.6 34.5h.1M7.9 25.4h.1M10.1 10.9h.1"/>
<path transform="translate(334.0 715.6)" stroke="#a898cc" stroke-width="0.7" stroke-linecap="square" d="M22.1 13.2h.1M22.5 27.7h.1M17.9 37.2h.1M17.5 25.5h.1M19.4 17.2h.1M23.2 35.0h.1M19.6 74.5h.1M17.4 8.5h.1M22.5 39.1h.1M18.0 28.2h.1M23.8 10.4h.1M23.3 20.8h.1M15.1 9.2h.1M22.2 23.9h.1M17.8 33.2h.1M19.9 48.7h.1M19.6 20.5h.1M20.5 34.9h.1M17.8 38.2h.1M19.7 16.4h.1M19.7 21.8h.1M21.8 22.0h.1M19.9 38.6h.1M24.5 36.3h.1M19.2 32.3h.1M20.8 19.1h.1M20.1 26.8h.1M22.9 32.6h.1M22.3 35.1h.1M18.7 14.3h.1M15.1 22.4h.1M18.2 31.1h.1M16.9 22.4h.1M16.2 8.6h.1M22.3 38.3h.1M17.4 32.9h.1M11.2 15.1h.1M24.5 45.6h.1M21.5 35.5h.1M23.4 29.7h.1M20.5 22.7h.1M22.0 23.0h.1M23.0 12.0h.1M16.7 25.2h.1M18.9 28.8h.1M19.6 31.1h.1M17.9 14.8h.1M22.2 28.3h.1M21.9 17.9h.1M17.4 24.8h.1M19.0 25.7h.1M18.1 17.5h.1M16.1 30.1h.1M21.8 30.5h.1M22.8 13.9h.1M21.0 44.4h.1M18.5 28.3h.1M17.0 30.6h.1M21.1 45.0h.1M21.2 23.7h.1M15.1 18.9h.1M20.3 5.3h.1M17.0 16.6h.1M17.9 26.0h.1M18.0 15.2h.1M18.9 37.6h.1M22.5 29.5h.1M18.7 27.6h.1M23.3 25.8h.1M19.1 39.3h.1M15.6 25.4h.1M17.5 30.5h.1M20.3 5.9h.1M14.7 41.4h.1M15.6 17.8h.1M21.8 21.0h.1M23.4 31.1h.1M19.4 25.4h.1M22.0 14.1h.1M21.5 19.8h.1M19.2 21.2h.1M23.7 25.4h.1M24.3 23.8h.1M21.0 25.1h.1M14.9 6.0h.1M16.9 8.0h.1M22.8 46.9h.1M18.6 29.3h.1M12.7 23.8h.1M23.1 29.9h.1M23.1 26.0h.1M20.9 23.2h.1M22.0 15.4h.1M23.8 28.8h.1"/>
<path d="M336.9 740.9L338.7 741.0L340.5 741.1L342.3 741.2L344.1 741.3L345.9 741.3L347.8 741.4L349.6 741.5L351.4 741.6L353.2 741.7L355.0 741.8L356.8 742.0L358.6 742.3L360.4 742.5L362.2 742.9L364.0 743.2L365.9 743.6L367.7 744.0L369.5 744.5L371.3 744.9L373.1 745.4L374.9 745.8L376.7 746.2L378.5 746.5L380.3 746.8L382.1 747.1L384.0 747.3L385.8 747.6L387.6 747.8L389.4 748.0L391.2 748.2L393.0 748.4L394.8 748.6L396.6 748.8L398.4 749.0L400.2 749.1L402.1 749.3L403.9 749.5L405.7 749.7L407.5 749.9L409.3 750.1" fill="none" stroke="#d98ccb" stroke-width="2.6" opacity="0.85" stroke-linejoin="round"/>
</g>
<rect x="334.0" y="715.6" width="78.19999999999999" height="77.89999999999998" fill="none" stroke="#111" stroke-width="1.3"/>
<text transform="translate(337.1 724.2) scale(0.86 1)" font-size="6.6" text-anchor="start" >pCREB</text>
<line x1="330.6" y1="790.5" x2="334.0" y2="790.5" stroke="#111" stroke-width="0.9"/>
<text transform="translate(325.1 792.9) scale(0.8 1)" font-size="7.0" text-anchor="middle" >0</text>
<line x1="330.6" y1="777.5" x2="334.0" y2="777.5" stroke="#111" stroke-width="0.9"/>
<text transform="translate(325.1 779.9) scale(0.8 1)" font-size="7.0" text-anchor="middle" >1</text>
<line x1="330.6" y1="764.4" x2="334.0" y2="764.4" stroke="#111" stroke-width="0.9"/>
<text transform="translate(325.1 766.8) scale(0.8 1)" font-size="7.0" text-anchor="middle" >2</text>
<line x1="330.6" y1="751.4" x2="334.0" y2="751.4" stroke="#111" stroke-width="0.9"/>
<text transform="translate(325.1 753.8) scale(0.8 1)" font-size="7.0" text-anchor="middle" >3</text>
<line x1="330.6" y1="738.3" x2="334.0" y2="738.3" stroke="#111" stroke-width="0.9"/>
<text transform="translate(325.1 740.7) scale(0.8 1)" font-size="7.0" text-anchor="middle" >4</text>
<line x1="330.6" y1="725.3" x2="334.0" y2="725.3" stroke="#111" stroke-width="0.9"/>
<text transform="translate(325.1 727.7) scale(0.8 1)" font-size="7.0" text-anchor="middle" >5</text>
<line x1="336.9" y1="793.5" x2="336.9" y2="796.9" stroke="#111" stroke-width="0.9"/>
<text transform="translate(336.9 807.5) scale(0.8 1)" font-size="7.0" text-anchor="middle" >0.0</text>
<line x1="373.1" y1="793.5" x2="373.1" y2="796.9" stroke="#111" stroke-width="0.9"/>
<text transform="translate(373.1 807.5) scale(0.8 1)" font-size="7.0" text-anchor="middle" >0.5</text>
<line x1="409.3" y1="793.5" x2="409.3" y2="796.9" stroke="#111" stroke-width="0.9"/>
<text transform="translate(409.3 807.5) scale(0.8 1)" font-size="7.0" text-anchor="middle" >1.0</text>
<clipPath id="cpD3"><rect x="431.6" y="715.6" width="77.79999999999995" height="77.89999999999998"/></clipPath>
<g clip-path="url(#cpD3)">
<path d="M454.7 764.0L457.3 764.3L459.9 764.7L462.6 765.1L465.2 765.6L467.9 766.0L470.5 766.4L473.1 766.8L475.8 767.2L478.4 767.5L481.1 767.8L483.7 768.0L486.3 768.3L486.3 787.9L483.7 787.7L481.1 787.5L478.4 787.2L475.8 786.9L473.1 786.5L470.5 786.1L467.9 785.7L465.2 785.3L462.6 784.8L459.9 784.4L457.3 784.0L454.7 783.7Z" fill="#9aac88" opacity="0.36" filter="url(#sb)"/>
<path d="M454.7 753.1L457.3 753.4L459.9 753.8L462.6 754.2L465.2 754.6L467.9 755.1L470.5 755.5L473.1 755.9L475.8 756.2L478.4 756.6L481.1 756.8L483.7 757.1L486.3 757.3L486.3 792.1L483.7 792.1L481.1 792.1L478.4 792.1L475.8 792.1L473.1 792.1L470.5 792.1L467.9 792.1L465.2 792.1L462.6 792.1L459.9 792.1L457.3 792.1L454.7 792.1Z" fill="#9aac88" opacity="0.27" filter="url(#sb)"/>
<path d="M454.7 742.1L457.3 742.5L459.9 742.9L462.6 743.3L465.2 743.7L467.9 744.1L470.5 744.6L473.1 745.0L475.8 745.3L478.4 745.6L481.1 745.9L483.7 746.2L486.3 746.4L486.3 792.1L483.7 792.1L481.1 792.1L478.4 792.1L475.8 792.1L473.1 792.1L470.5 792.1L467.9 792.1L465.2 792.1L462.6 792.1L459.9 792.1L457.3 792.1L454.7 792.1Z" fill="#9aac88" opacity="0.15" filter="url(#sb)"/>
<path d="M479.1 767.6L481.4 767.8L483.7 768.0L486.0 768.2L488.3 768.4L490.5 768.6L492.8 768.8L495.1 769.0L497.4 769.1L499.7 769.3L501.9 769.5L504.2 769.7L506.5 769.8L506.5 789.5L504.2 789.3L501.9 789.2L499.7 789.0L497.4 788.8L495.1 788.6L492.8 788.5L490.5 788.3L488.3 788.1L486.0 787.9L483.7 787.7L481.4 787.5L479.1 787.3Z" fill="#4a8c9a" opacity="0.37" filter="url(#sb)"/>
<path d="M479.1 756.6L481.4 756.9L483.7 757.1L486.0 757.3L488.3 757.5L490.5 757.7L492.8 757.9L495.1 758.0L497.4 758.2L499.7 758.4L501.9 758.5L504.2 758.7L506.5 758.9L506.5 792.1L504.2 792.1L501.9 792.1L499.7 792.1L497.4 792.1L495.1 792.1L492.8 792.1L490.5 792.1L488.3 792.1L486.0 792.1L483.7 792.1L481.4 792.1L479.1 792.1Z" fill="#4a8c9a" opacity="0.28" filter="url(#sb)"/>
<path d="M479.1 745.7L481.4 745.9L483.7 746.2L486.0 746.4L488.3 746.6L490.5 746.7L492.8 746.9L495.1 747.1L497.4 747.3L499.7 747.4L501.9 747.6L504.2 747.8L506.5 748.0L506.5 792.1L504.2 792.1L501.9 792.1L499.7 792.1L497.4 792.1L495.1 792.1L492.8 792.1L490.5 792.1L488.3 792.1L486.0 792.1L483.7 792.1L481.4 792.1L479.1 792.1Z" fill="#4a8c9a" opacity="0.15" filter="url(#sb)"/>
<path d="M434.5 761.7L435.7 761.9L436.9 762.0L438.1 762.1L439.3 762.3L440.5 762.4L441.7 762.5L442.9 762.7L444.1 762.8L445.3 762.9L446.5 763.0L447.7 763.2L448.9 763.3L448.9 783.0L447.7 782.9L446.5 782.7L445.3 782.6L444.1 782.5L442.9 782.3L441.7 782.2L440.5 782.1L439.3 782.0L438.1 781.8L436.9 781.7L435.7 781.6L434.5 781.4Z" fill="#8b7a45" opacity="0.42" filter="url(#sb)"/>
<path d="M434.5 750.8L435.7 750.9L436.9 751.1L438.1 751.2L439.3 751.3L440.5 751.5L441.7 751.6L442.9 751.7L444.1 751.8L445.3 752.0L446.5 752.1L447.7 752.2L448.9 752.4L448.9 791.7L447.7 791.6L446.5 791.5L445.3 791.3L444.1 791.2L442.9 791.1L441.7 791.0L440.5 790.8L439.3 790.7L438.1 790.6L436.9 790.4L435.7 790.3L434.5 790.2Z" fill="#8b7a45" opacity="0.32" filter="url(#sb)"/>
<path d="M434.5 739.9L435.7 740.0L436.9 740.1L438.1 740.3L439.3 740.4L440.5 740.5L441.7 740.7L442.9 740.8L444.1 740.9L445.3 741.0L446.5 741.2L447.7 741.3L448.9 741.4L448.9 792.1L447.7 792.1L446.5 792.1L445.3 792.1L444.1 792.1L442.9 792.1L441.7 792.1L440.5 792.1L439.3 792.1L438.1 792.1L436.9 792.1L435.7 792.1L434.5 792.1Z" fill="#8b7a45" opacity="0.17" filter="url(#sb)"/>
<path d="M446.0 763.0L446.9 763.1L447.7 763.2L448.5 763.3L449.4 763.4L450.2 763.5L451.1 763.6L451.9 763.7L452.7 763.8L453.6 763.9L454.4 764.0L455.3 764.1L456.1 764.2L456.1 783.9L455.3 783.7L454.4 783.6L453.6 783.5L452.7 783.4L451.9 783.3L451.1 783.2L450.2 783.1L449.4 783.0L448.5 782.9L447.7 782.9L446.9 782.8L446.0 782.7Z" fill="#a898cc" opacity="0.27" filter="url(#sb)"/>
<path d="M446.0 752.1L446.9 752.1L447.7 752.2L448.5 752.3L449.4 752.4L450.2 752.5L451.1 752.6L451.9 752.7L452.7 752.8L453.6 752.9L454.4 753.0L455.3 753.1L456.1 753.2L456.1 792.1L455.3 792.1L454.4 792.1L453.6 792.1L452.7 792.1L451.9 792.1L451.1 792.0L450.2 791.9L449.4 791.8L448.5 791.7L447.7 791.6L446.9 791.5L446.0 791.4Z" fill="#a898cc" opacity="0.20" filter="url(#sb)"/>
<path d="M446.0 741.1L446.9 741.2L447.7 741.3L448.5 741.4L449.4 741.5L450.2 741.6L451.1 741.7L451.9 741.8L452.7 741.9L453.6 742.0L454.4 742.1L455.3 742.2L456.1 742.3L456.1 792.1L455.3 792.1L454.4 792.1L453.6 792.1L452.7 792.1L451.9 792.1L451.1 792.1L450.2 792.1L449.4 792.1L448.5 792.1L447.7 792.1L446.9 792.1L446.0 792.1Z" fill="#a898cc" opacity="0.11" filter="url(#sb)"/>
<line x1="454.7" y1="790.5" x2="486.3" y2="790.5" stroke="#9aac88" stroke-width="1.1" opacity="0.8"/>
<line x1="479.1" y1="790.5" x2="506.5" y2="790.5" stroke="#4a8c9a" stroke-width="1.1" opacity="0.8"/>
<line x1="434.5" y1="790.5" x2="448.9" y2="790.5" stroke="#8b7a45" stroke-width="1.1" opacity="0.8"/>
<line x1="446.0" y1="790.5" x2="456.1" y2="790.5" stroke="#a898cc" stroke-width="1.1" opacity="0.8"/>
<path transform="translate(431.6 715.6)" stroke="#9aac88" stroke-width="0.7" stroke-linecap="square" d="M45.2 35.8h.1M39.0 61.3h.1M28.9 59.1h.1M23.4 42.2h.1M35.1 45.1h.1M39.9 41.5h.1M37.4 56.8h.1M46.5 69.3h.1M29.3 69.3h.1M28.0 66.1h.1M29.1 54.4h.1M30.8 35.9h.1M47.8 60.0h.1M39.8 56.7h.1M24.6 60.2h.1M40.6 44.6h.1M40.9 51.3h.1M34.2 70.5h.1M43.0 53.0h.1M49.3 40.2h.1M28.1 54.7h.1M28.4 66.4h.1M55.7 48.3h.1M49.5 73.3h.1M30.9 42.0h.1M43.5 39.7h.1M38.8 38.5h.1M59.0 65.9h.1M28.6 40.4h.1M49.2 70.7h.1M44.7 11.6h.1M41.1 56.6h.1M34.7 33.0h.1M32.4 72.4h.1M28.9 31.2h.1M35.7 71.1h.1M45.3 66.9h.1M34.2 65.4h.1M27.1 67.7h.1M23.5 46.8h.1M37.5 63.2h.1M31.4 67.8h.1M54.3 56.0h.1M44.3 13.4h.1M44.4 46.3h.1M45.7 55.7h.1M48.7 68.9h.1M48.5 74.9h.1M26.2 52.3h.1M50.4 69.4h.1M33.5 60.1h.1M37.1 57.5h.1M34.4 69.3h.1M46.1 37.6h.1M26.4 71.9h.1M46.2 49.5h.1M34.3 56.1h.1M49.9 68.0h.1M46.8 74.9h.1M53.5 68.2h.1M40.3 59.5h.1M37.0 66.2h.1M41.4 74.9h.1M42.4 46.4h.1M53.2 66.4h.1M27.3 73.9h.1M28.6 65.8h.1M45.9 50.3h.1M31.8 55.4h.1M28.6 74.7h.1M25.6 71.4h.1M50.0 60.6h.1M26.4 64.6h.1M36.4 40.2h.1M37.2 70.5h.1M26.7 60.3h.1M33.0 60.4h.1M26.8 69.1h.1M24.3 52.0h.1M49.9 51.1h.1M29.1 61.7h.1M24.1 37.0h.1M33.1 72.4h.1M48.0 61.5h.1M48.9 40.2h.1M31.8 74.9h.1M38.6 74.9h.1M49.0 74.9h.1M34.7 74.9h.1M39.1 51.3h.1M35.7 62.0h.1M29.1 27.3h.1M23.9 63.9h.1M35.2 51.0h.1M33.4 74.9h.1M34.5 22.5h.1M24.7 59.0h.1M23.2 69.6h.1M46.4 66.8h.1M44.3 74.9h.1M30.1 74.8h.1M37.6 74.9h.1M32.6 60.6h.1M50.4 74.9h.1M45.8 57.1h.1M49.2 69.6h.1M46.2 61.7h.1M27.2 65.0h.1M40.6 57.7h.1M47.6 56.7h.1M51.5 22.7h.1M36.7 34.2h.1M34.4 70.3h.1M58.2 67.2h.1M23.4 74.9h.1M36.4 67.2h.1M32.8 33.2h.1M41.3 56.9h.1M31.1 43.1h.1M34.7 62.0h.1M44.6 74.9h.1M33.0 70.2h.1M23.7 51.1h.1M30.6 10.1h.1M32.5 66.7h.1M35.4 65.9h.1M26.2 74.5h.1M52.2 74.9h.1M51.6 58.8h.1M36.5 72.6h.1M35.6 16.1h.1M38.6 52.3h.1M48.4 56.6h.1M49.4 62.7h.1M51.7 74.9h.1M52.8 60.1h.1M55.0 74.9h.1M28.4 74.1h.1M43.7 49.1h.1M35.5 45.6h.1M49.5 64.8h.1M25.0 35.5h.1M37.5 70.7h.1M27.6 67.3h.1M48.1 73.7h.1M49.7 74.8h.1M54.7 70.4h.1M48.7 64.6h.1M29.0 48.0h.1M27.3 57.9h.1M31.3 74.0h.1M41.7 41.0h.1M29.3 47.1h.1M30.9 47.6h.1M49.4 71.5h.1M20.8 42.8h.1M41.9 55.0h.1M36.4 40.4h.1M29.3 70.0h.1M50.1 70.0h.1M46.0 57.5h.1M39.3 68.0h.1M50.6 72.7h.1M34.4 69.1h.1M50.5 64.2h.1M44.6 52.9h.1M41.9 46.5h.1M34.5 64.0h.1M46.7 74.9h.1M31.0 71.9h.1M28.1 61.4h.1M35.6 69.0h.1M42.1 65.9h.1M20.8 74.9h.1M27.7 46.4h.1M25.0 74.9h.1M50.9 69.6h.1M25.4 34.8h.1M31.6 72.9h.1M32.1 66.4h.1M36.5 40.8h.1M26.3 62.1h.1M40.2 69.7h.1M41.8 56.6h.1M51.8 61.9h.1M48.1 2.2h.1M46.2 61.3h.1M49.2 58.5h.1M54.0 74.9h.1M31.2 74.9h.1M29.9 60.7h.1M45.3 71.1h.1M31.8 62.1h.1M43.2 45.4h.1M49.3 46.3h.1M31.4 50.6h.1M30.8 74.0h.1M47.6 69.7h.1M30.7 61.5h.1M23.8 13.5h.1M30.5 67.6h.1M47.5 68.4h.1M28.3 74.9h.1M50.8 59.3h.1M28.3 71.3h.1M33.2 64.1h.1M37.8 62.5h.1M36.4 74.9h.1M26.4 67.7h.1M24.6 67.3h.1M32.9 60.5h.1M31.9 54.0h.1M30.4 74.4h.1M51.7 56.8h.1M53.7 2.5h.1M31.8 37.2h.1M50.3 66.0h.1M52.1 62.9h.1M37.1 65.5h.1M42.9 38.6h.1M40.0 67.0h.1M50.7 56.3h.1M38.6 66.2h.1M45.2 70.1h.1M37.1 55.2h.1M56.1 67.6h.1M31.9 47.6h.1M33.1 70.7h.1M50.0 74.1h.1M45.6 47.3h.1M47.7 55.2h.1M44.8 74.9h.1M27.7 74.7h.1M52.7 71.8h.1M37.7 46.9h.1M35.6 74.9h.1M31.6 55.0h.1M51.1 73.1h.1M45.3 64.2h.1M47.8 35.4h.1M33.5 70.3h.1M28.8 65.3h.1M27.0 56.3h.1M35.1 49.1h.1M25.8 74.5h.1M36.6 50.0h.1M23.4 44.4h.1M31.5 64.5h.1M54.0 65.3h.1M31.0 57.2h.1M31.8 58.5h.1M52.2 57.9h.1M32.8 63.2h.1M32.9 50.2h.1M53.9 74.3h.1M27.0 66.3h.1M30.1 58.5h.1M24.8 50.5h.1M51.3 58.3h.1M29.6 58.1h.1M28.7 65.5h.1M41.5 67.3h.1M50.9 30.9h.1M33.1 32.3h.1M26.5 74.9h.1M29.1 62.1h.1M41.8 65.9h.1M39.6 69.3h.1M33.3 36.6h.1M35.9 46.2h.1"/>
<path transform="translate(431.6 715.6)" stroke="#4a8c9a" stroke-width="0.7" stroke-linecap="square" d="M71.0 72.3h.1M49.4 65.4h.1M65.3 72.8h.1M64.9 74.9h.1M75.0 73.5h.1M51.0 66.0h.1M56.8 42.7h.1M71.3 55.0h.1M71.6 67.7h.1M64.7 71.5h.1M60.9 44.7h.1M51.2 51.2h.1M63.5 71.4h.1M61.1 56.7h.1M51.6 60.9h.1M61.5 72.9h.1M64.2 36.1h.1M50.3 43.2h.1M64.7 53.3h.1M61.9 50.6h.1M59.8 60.7h.1M71.5 66.2h.1M65.8 36.9h.1M63.3 66.5h.1M69.6 74.9h.1M58.0 60.7h.1M50.9 58.9h.1M52.6 69.1h.1M63.3 66.1h.1M55.1 45.0h.1M75.7 66.0h.1M69.0 71.6h.1M54.5 71.6h.1M56.7 65.1h.1M70.8 58.8h.1M56.7 66.1h.1M49.0 56.3h.1M61.7 73.3h.1M50.1 71.2h.1M64.5 65.2h.1M47.7 61.4h.1M47.7 64.3h.1M64.4 74.9h.1M50.7 72.8h.1M52.3 73.2h.1M50.4 58.3h.1M49.1 45.8h.1M66.3 65.6h.1M52.1 67.1h.1M56.1 25.0h.1M62.7 74.9h.1M64.4 67.9h.1M53.9 71.3h.1M52.4 74.7h.1M60.1 66.4h.1M72.1 71.2h.1M43.9 74.5h.1M56.4 72.3h.1M72.3 41.7h.1M56.8 74.9h.1M53.0 65.1h.1M54.3 61.9h.1M50.2 52.5h.1M72.5 58.8h.1M62.7 65.3h.1M50.3 56.0h.1M68.1 62.0h.1M49.3 66.2h.1M70.4 68.6h.1M70.7 50.1h.1M61.1 68.9h.1M55.6 58.5h.1M68.5 49.4h.1M74.6 71.4h.1M65.1 74.9h.1M64.6 63.8h.1M64.8 48.5h.1M59.5 52.8h.1M57.0 55.7h.1M66.5 74.3h.1M64.1 64.8h.1M59.4 41.9h.1M73.6 67.4h.1M50.8 50.5h.1M69.4 65.9h.1M64.7 67.5h.1M62.1 46.6h.1M57.8 61.6h.1M61.0 64.7h.1M52.0 65.6h.1M48.1 74.9h.1M60.9 71.0h.1M54.6 74.9h.1M48.9 67.8h.1M66.9 52.2h.1M51.2 73.3h.1M50.3 57.3h.1M67.1 63.0h.1M64.8 68.2h.1M67.4 66.5h.1M66.2 60.5h.1M71.7 37.6h.1M52.8 68.0h.1M66.3 68.8h.1M47.7 59.3h.1M59.7 50.8h.1M48.2 58.9h.1M63.4 70.7h.1M73.3 58.0h.1M73.6 60.2h.1M64.4 58.6h.1M64.7 62.5h.1M74.6 53.0h.1M52.6 74.0h.1M60.3 69.1h.1M53.4 71.4h.1M67.9 55.4h.1M76.3 65.8h.1M74.4 67.1h.1M72.7 73.0h.1M71.1 34.7h.1M62.5 42.6h.1M58.4 51.6h.1M59.0 54.4h.1M52.3 63.9h.1M72.9 45.4h.1M64.5 67.5h.1M71.5 67.7h.1M60.9 66.8h.1M56.4 51.7h.1M64.0 44.2h.1M70.0 71.2h.1M50.0 73.6h.1M61.2 68.0h.1M72.9 49.3h.1M72.2 56.2h.1M59.3 56.1h.1M52.0 58.8h.1M60.2 62.7h.1M69.1 72.7h.1M60.9 73.0h.1M52.7 32.8h.1M67.4 62.1h.1M70.0 55.6h.1M57.5 72.3h.1M70.3 68.8h.1M72.1 72.8h.1M68.9 51.1h.1M56.3 70.9h.1M67.4 69.2h.1M73.6 64.6h.1M59.5 66.2h.1M60.4 59.8h.1M74.3 49.2h.1M47.7 29.5h.1M51.4 61.1h.1M63.9 35.9h.1M51.6 47.2h.1M62.6 46.5h.1M49.0 41.1h.1M53.7 56.1h.1M71.6 44.8h.1M48.2 66.5h.1M69.4 74.8h.1M55.6 68.7h.1M52.9 51.1h.1M62.6 73.6h.1M52.3 51.4h.1M68.2 68.8h.1M56.3 71.0h.1M52.9 74.9h.1M54.4 68.4h.1M48.4 56.1h.1M68.3 55.2h.1M60.7 20.2h.1M64.7 65.4h.1M53.7 47.5h.1M54.1 74.5h.1M57.6 70.6h.1M64.9 62.5h.1M56.4 48.0h.1M63.3 72.7h.1M72.9 54.3h.1M68.7 19.2h.1M60.3 61.5h.1M61.7 68.0h.1M54.5 53.8h.1M48.9 74.9h.1M70.1 60.7h.1M76.0 45.7h.1M66.0 62.5h.1M54.7 74.4h.1M65.9 70.1h.1M72.2 49.8h.1M72.7 62.1h.1M65.6 21.6h.1M69.1 55.8h.1M53.8 61.2h.1M50.9 51.8h.1M66.0 72.0h.1M69.5 56.1h.1M60.3 54.1h.1M59.4 74.9h.1M60.6 74.2h.1M60.3 30.2h.1M70.8 74.0h.1M60.9 49.5h.1M51.0 64.8h.1M46.8 59.6h.1M61.7 52.5h.1M72.0 69.6h.1M64.2 46.3h.1M47.8 58.0h.1M71.6 61.6h.1M70.5 53.3h.1M60.4 74.7h.1M67.3 31.4h.1M67.6 5.5h.1M52.2 64.6h.1M49.0 23.3h.1M54.4 59.6h.1M55.1 71.7h.1M61.9 69.6h.1M53.9 74.9h.1M60.2 25.2h.1M48.6 60.6h.1M69.3 74.9h.1M51.1 50.4h.1M55.4 56.8h.1M49.8 60.3h.1M74.8 63.6h.1M69.1 71.0h.1M55.3 46.1h.1M53.3 73.9h.1M63.0 74.9h.1M65.8 69.1h.1M70.8 52.7h.1M66.0 74.9h.1M59.7 64.6h.1M50.7 62.4h.1M72.1 65.6h.1M69.1 73.5h.1M69.0 52.2h.1M48.7 57.2h.1M72.3 62.8h.1M62.1 54.5h.1M50.6 49.3h.1M68.8 53.7h.1M48.8 72.3h.1M71.0 65.9h.1M48.2 55.9h.1M64.5 74.9h.1M59.7 57.6h.1M71.6 58.6h.1M60.0 57.3h.1M69.9 63.4h.1M67.9 49.9h.1M54.3 74.9h.1M65.7 74.9h.1M54.7 62.8h.1M50.4 63.9h.1M56.4 66.9h.1M53.8 74.5h.1M68.6 74.9h.1M54.1 62.5h.1M58.0 43.1h.1M52.0 57.4h.1M57.1 40.0h.1M73.2 52.2h.1M54.6 74.9h.1"/>
<path transform="translate(431.6 715.6)" stroke="#8b7a45" stroke-width="0.7" stroke-linecap="square" d="M11.1 51.4h.1M12.8 54.0h.1M16.6 58.5h.1M11.5 63.3h.1M19.0 63.6h.1M6.3 49.4h.1M7.7 46.7h.1M16.1 63.9h.1M5.5 44.5h.1M6.3 67.2h.1M13.6 34.2h.1M15.8 58.0h.1M7.8 57.3h.1M7.0 66.4h.1M5.3 37.9h.1M13.9 30.2h.1M16.0 58.9h.1M12.9 74.9h.1M15.5 51.7h.1M9.6 44.9h.1M9.7 62.6h.1M11.0 66.4h.1M13.7 62.3h.1M17.0 69.4h.1M14.9 68.3h.1M14.6 67.3h.1M15.1 74.9h.1M11.5 64.3h.1M16.1 55.4h.1M11.1 62.6h.1M12.5 70.9h.1M11.6 72.4h.1M13.3 24.4h.1M9.1 49.9h.1M12.0 58.8h.1M11.0 60.0h.1M7.3 65.6h.1M13.8 46.7h.1M9.4 66.1h.1M11.7 19.1h.1M17.3 62.9h.1M3.3 58.1h.1M16.4 55.9h.1M1.5 62.1h.1M11.0 62.0h.1M12.9 68.1h.1M14.6 54.3h.1M16.3 58.4h.1M14.8 74.9h.1M9.9 57.9h.1M11.6 73.4h.1M1.5 63.1h.1M8.6 64.6h.1M9.7 60.9h.1M13.6 23.7h.1M9.5 51.9h.1M6.3 50.5h.1M16.6 57.1h.1M8.9 53.1h.1M4.8 42.4h.1M15.8 72.6h.1M10.8 59.4h.1M4.7 48.8h.1M13.1 40.3h.1M11.3 64.0h.1M16.2 69.8h.1M15.8 44.3h.1M9.0 56.8h.1M16.2 50.9h.1M17.1 71.7h.1M9.7 48.8h.1M15.9 48.4h.1M16.0 51.1h.1M14.7 48.9h.1M13.7 38.8h.1M5.2 53.0h.1M16.0 59.4h.1M9.6 48.7h.1M8.2 50.3h.1M12.7 49.1h.1M9.8 54.8h.1M8.3 67.8h.1M14.0 36.5h.1M5.6 66.2h.1M8.2 53.6h.1M6.1 46.9h.1M3.8 59.8h.1M14.4 63.1h.1M5.8 74.9h.1M7.4 61.1h.1M12.7 31.6h.1M13.1 51.7h.1M16.4 63.0h.1M12.4 54.9h.1M1.5 27.0h.1M6.2 55.7h.1M9.3 74.9h.1M17.0 58.1h.1M22.1 48.7h.1M15.9 40.9h.1M5.7 74.9h.1M9.1 40.3h.1M5.3 59.3h.1M17.2 72.0h.1M15.3 55.3h.1M8.8 58.0h.1M5.3 61.2h.1M6.5 67.2h.1M17.3 59.0h.1M15.0 52.3h.1M7.3 74.9h.1M11.7 74.6h.1M4.9 36.7h.1M5.2 61.8h.1M6.1 60.5h.1M5.4 59.2h.1M16.4 59.0h.1M12.5 64.3h.1M2.8 72.9h.1M10.3 51.3h.1M16.8 46.0h.1M14.8 74.5h.1M5.6 40.4h.1M8.1 65.9h.1M16.3 72.1h.1M15.4 70.8h.1M9.0 62.7h.1M11.1 53.2h.1M5.4 69.8h.1M10.6 46.6h.1M4.8 62.9h.1M6.7 53.5h.1M12.5 55.5h.1M10.3 45.3h.1M11.0 40.1h.1M8.4 19.1h.1M13.2 51.4h.1M5.7 49.6h.1M14.2 54.6h.1M5.5 38.6h.1M14.5 43.8h.1M11.5 47.6h.1M4.2 60.5h.1M7.9 67.7h.1M11.3 55.4h.1M5.2 69.9h.1M6.9 52.2h.1M13.7 48.9h.1M15.8 42.8h.1M15.2 21.8h.1M9.4 50.5h.1M16.4 65.0h.1M15.1 58.5h.1M4.6 67.1h.1M10.6 73.2h.1M10.1 73.5h.1M6.2 69.5h.1M10.4 54.9h.1M8.6 61.0h.1M7.9 72.9h.1M11.3 53.4h.1M4.0 33.9h.1M4.7 72.9h.1M11.2 53.4h.1M13.2 55.9h.1M15.2 47.1h.1M13.2 62.1h.1M17.0 52.2h.1M13.0 55.6h.1M10.4 69.9h.1M10.1 64.8h.1M7.3 27.5h.1M13.2 53.4h.1M9.3 74.5h.1M10.4 64.1h.1M8.5 74.9h.1M9.8 51.7h.1M15.3 64.7h.1M9.3 29.3h.1M11.8 64.9h.1M17.1 66.5h.1M11.8 59.7h.1M14.1 54.5h.1M9.5 39.2h.1M16.9 68.5h.1M15.6 48.2h.1M3.0 51.4h.1M7.9 54.9h.1M4.0 24.8h.1M14.2 60.7h.1M10.1 46.5h.1M11.6 74.9h.1M5.6 58.8h.1M4.0 45.8h.1M11.1 50.6h.1M6.0 43.6h.1M10.2 56.1h.1M13.3 60.6h.1M14.7 68.9h.1M3.0 39.4h.1M7.6 74.8h.1M14.9 37.4h.1M13.3 54.4h.1M12.1 44.0h.1M8.0 41.8h.1M9.2 39.4h.1M15.7 47.2h.1M15.1 60.0h.1M11.8 37.8h.1M15.5 28.7h.1M7.2 37.2h.1M7.2 35.1h.1M17.8 51.1h.1M4.5 61.9h.1M15.8 42.8h.1M12.5 74.9h.1M16.3 57.8h.1M12.7 37.8h.1M8.2 51.9h.1M14.5 74.9h.1M9.9 68.3h.1M10.3 59.3h.1M7.6 73.2h.1M13.3 53.2h.1M8.8 60.4h.1M10.7 54.0h.1M15.2 69.4h.1M20.7 71.6h.1M14.9 61.6h.1M4.9 45.6h.1M15.8 55.8h.1M6.6 66.8h.1M8.8 65.3h.1M10.2 47.8h.1M8.5 45.0h.1M16.3 49.9h.1M3.3 58.9h.1M7.7 61.9h.1M10.6 42.4h.1M4.5 73.8h.1"/>
<path transform="translate(431.6 715.6)" stroke="#a898cc" stroke-width="0.7" stroke-linecap="square" d="M19.2 57.0h.1M22.9 57.9h.1M14.8 42.5h.1M17.6 60.3h.1M22.6 66.5h.1M15.3 54.4h.1M19.5 17.4h.1M19.2 50.3h.1M24.0 56.0h.1M24.0 74.0h.1M19.4 52.6h.1M25.6 72.1h.1M16.3 49.5h.1M20.4 63.2h.1M25.6 71.5h.1M19.0 56.6h.1M15.7 43.9h.1M21.7 39.5h.1M13.9 74.6h.1M20.5 63.4h.1M16.5 53.4h.1M18.8 71.3h.1M20.3 73.7h.1M15.4 65.9h.1M15.2 52.7h.1M22.9 30.8h.1M15.3 67.4h.1M19.3 40.8h.1M20.1 43.0h.1M15.2 69.7h.1M15.6 68.0h.1M15.9 50.9h.1M14.8 64.9h.1M19.3 54.6h.1M20.9 62.1h.1M23.6 59.9h.1M11.2 37.0h.1M14.9 34.2h.1M18.3 30.4h.1M18.2 58.0h.1M19.4 55.0h.1M15.0 74.9h.1M21.1 12.6h.1M22.5 60.3h.1M22.9 60.2h.1M22.1 20.0h.1M17.9 56.9h.1M21.7 61.2h.1M14.7 55.7h.1M17.7 56.1h.1M21.8 21.2h.1M19.4 55.7h.1M16.6 61.1h.1M24.4 42.4h.1M15.6 74.9h.1M12.4 31.3h.1M18.8 52.5h.1M22.4 41.2h.1M21.7 61.1h.1M19.7 54.7h.1M15.3 53.5h.1M19.9 69.0h.1M16.0 44.5h.1M23.9 55.7h.1M23.7 63.8h.1M22.8 18.1h.1M21.3 37.7h.1M18.7 33.7h.1M23.1 45.7h.1M14.9 43.3h.1M19.5 60.4h.1M18.2 57.4h.1M22.8 73.5h.1M13.9 71.9h.1M15.3 70.2h.1M20.8 39.1h.1M19.7 72.7h.1M14.6 63.8h.1M15.0 68.3h.1M16.5 74.6h.1M19.3 74.9h.1M21.0 47.9h.1M17.7 48.0h.1M17.0 61.4h.1M19.3 44.7h.1M16.5 74.9h.1M13.4 74.8h.1M16.9 60.2h.1M22.5 69.0h.1M14.7 34.0h.1M17.5 48.8h.1M16.8 28.0h.1M19.1 19.8h.1M20.5 65.6h.1M26.5 70.5h.1M17.8 67.8h.1"/>
<path d="M434.5 772.7L436.3 772.9L438.1 773.1L439.9 773.3L441.7 773.5L443.5 773.7L445.3 773.8L447.1 774.0L448.9 774.2L450.7 774.4L452.5 774.7L454.3 774.9L456.1 775.1L457.9 775.4L459.7 775.6L461.5 775.9L463.3 776.2L465.1 776.5L466.9 776.8L468.7 777.1L470.5 777.4L472.3 777.6L474.1 777.9L475.9 778.1L477.7 778.4L479.5 778.5L481.3 778.7L483.1 778.9L484.9 779.1L486.7 779.2L488.5 779.4L490.3 779.5L492.1 779.7L493.9 779.8L495.7 779.9L497.5 780.1L499.3 780.2L501.1 780.3L502.9 780.5L504.7 780.6L506.5 780.8" fill="none" stroke="#d98ccb" stroke-width="2.6" opacity="0.85" stroke-linejoin="round"/>
</g>
<rect x="431.6" y="715.6" width="77.79999999999995" height="77.89999999999998" fill="none" stroke="#111" stroke-width="1.3"/>
<text transform="translate(434.70000000000005 724.2) scale(0.86 1)" font-size="6.6" text-anchor="start" >&#946;&#8211;Catenin</text>
<line x1="428.20000000000005" y1="790.5" x2="431.6" y2="790.5" stroke="#111" stroke-width="0.9"/>
<text transform="translate(422.7 792.9) scale(0.8 1)" font-size="7.0" text-anchor="middle" >0</text>
<line x1="428.20000000000005" y1="774.3" x2="431.6" y2="774.3" stroke="#111" stroke-width="0.9"/>
<text transform="translate(422.7 776.7) scale(0.8 1)" font-size="7.0" text-anchor="middle" >1</text>
<line x1="428.20000000000005" y1="758.1" x2="431.6" y2="758.1" stroke="#111" stroke-width="0.9"/>
<text transform="translate(422.7 760.5) scale(0.8 1)" font-size="7.0" text-anchor="middle" >2</text>
<line x1="428.20000000000005" y1="741.9" x2="431.6" y2="741.9" stroke="#111" stroke-width="0.9"/>
<text transform="translate(422.7 744.3) scale(0.8 1)" font-size="7.0" text-anchor="middle" >3</text>
<line x1="428.20000000000005" y1="725.7" x2="431.6" y2="725.7" stroke="#111" stroke-width="0.9"/>
<text transform="translate(422.7 728.1) scale(0.8 1)" font-size="7.0" text-anchor="middle" >4</text>
<line x1="434.5" y1="793.5" x2="434.5" y2="796.9" stroke="#111" stroke-width="0.9"/>
<text transform="translate(434.5 807.5) scale(0.8 1)" font-size="7.0" text-anchor="middle" >0.0</text>
<line x1="470.5" y1="793.5" x2="470.5" y2="796.9" stroke="#111" stroke-width="0.9"/>
<text transform="translate(470.5 807.5) scale(0.8 1)" font-size="7.0" text-anchor="middle" >0.5</text>
<line x1="506.5" y1="793.5" x2="506.5" y2="796.9" stroke="#111" stroke-width="0.9"/>
<text transform="translate(506.5 807.5) scale(0.8 1)" font-size="7.0" text-anchor="middle" >1.0</text>
<line x1="315.8" y1="794.5" x2="315.8" y2="622.5" stroke="#111" stroke-width="1"/>
<path d="M315.8 617.3 l-3.1 7.6 l3.1 -1.9 l3.1 1.9z" fill="#111"/>
<line x1="334" y1="812.4" x2="506" y2="812.4" stroke="#111" stroke-width="1"/>
<path d="M511.2 812.4 l-7.6 -3.1 l1.9 3.1 l-1.9 3.1z" fill="#111"/>
<text x="422.5" y="823.8" font-size="9" text-anchor="middle" textLength="45" lengthAdjust="spacingAndGlyphs">Pseudotime</text>
<text x="310.4" y="706.3" font-size="8.8" text-anchor="middle" transform="rotate(-90 310.4 706.3)" textLength="67" lengthAdjust="spacingAndGlyphs">asinh(intensity/5)</text>
<rect x="0" y="0" width="520" height="1.6" fill="#5a5a5a"/>
<rect x="0" y="0" width="1.3" height="835" fill="#111"/>
<rect x="518.2" y="0" width="1.8" height="835" fill="#5a5a5a"/>
<rect x="0" y="833.2" width="520" height="1.8" fill="#5a5a5a"/>
</svg></body></html>
